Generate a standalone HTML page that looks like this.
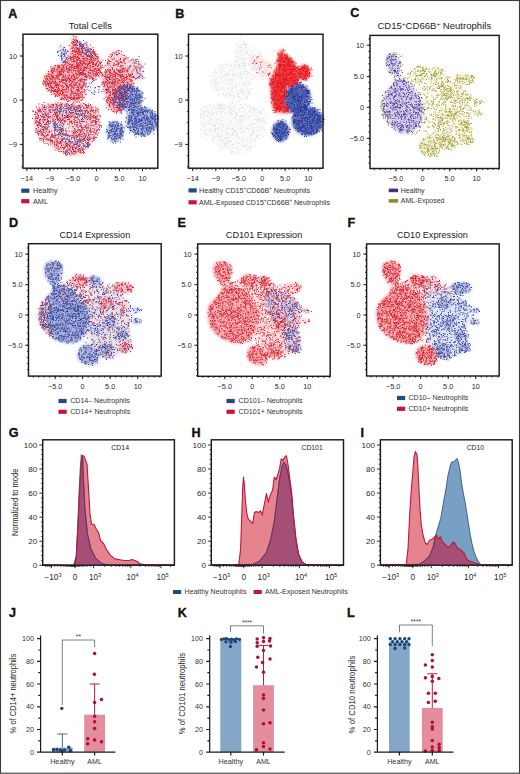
<!DOCTYPE html>
<html><head><meta charset="utf-8"><style>
html,body{margin:0;padding:0;background:#fff;}
body{width:520px;height:774px;overflow:hidden;}
svg{display:block;font-family:"Liberation Sans", sans-serif;}
</style></head><body>
<svg width="520" height="774" viewBox="0 0 520 774">
<defs><filter id="bl0" x="-10%" y="-10%" width="120%" height="120%"><feGaussianBlur stdDeviation="1.4"/></filter><clipPath id="cl1"><path d="M382.0 267.2L382.4 265.5L383.2 264.1L384.2 262.9L385.3 262.0L386.7 261.4L388.4 260.9L390.1 260.7L391.8 260.7L393.5 261.0L395.2 261.6L396.9 262.3L398.2 263.3L399.2 264.6L399.9 266.2L400.5 268.0L400.8 269.8L400.8 271.7L400.4 273.7L400.1 275.8L400.0 277.5L400.2 279.1L400.5 280.6L401.1 281.7L402.1 282.1L403.7 281.7L405.8 280.6L408.0 279.2L409.8 278.0L411.0 277.0L411.8 276.0L412.6 275.1L413.7 274.4L415.1 274.0L416.7 273.9L418.4 274.0L420.1 274.1L421.7 274.6L423.4 275.4L425.0 276.1L426.6 276.5L428.1 276.4L429.5 275.9L431.0 275.5L432.5 275.4L434.1 275.8L435.7 276.3L437.3 277.1L438.7 278.0L439.6 279.2L440.3 280.7L441.0 282.1L442.0 283.2L443.4 283.7L445.0 284.0L446.7 284.0L448.5 283.9L450.3 283.6L452.2 283.1L454.1 282.5L456.2 282.1L458.4 282.0L460.8 282.1L463.1 282.3L465.2 282.6L467.1 283.2L468.8 283.9L470.2 284.7L471.1 285.7L471.5 287.1L471.5 288.7L471.1 290.4L470.4 291.7L469.0 292.5L467.2 293.2L465.3 293.7L463.9 294.2L463.1 294.8L462.6 295.4L462.4 296.0L462.6 296.8L463.3 298.0L464.5 299.3L465.8 300.8L467.0 302.0L467.9 303.0L468.7 303.8L469.5 304.6L470.4 305.3L471.3 306.0L472.2 306.7L473.2 307.3L474.2 307.9L475.5 308.4L477.0 308.8L478.4 309.2L479.4 309.7L479.9 310.3L480.0 311.1L479.9 311.8L479.4 312.5L478.4 313.2L477.0 313.9L475.4 314.5L474.2 315.1L473.2 315.7L472.3 316.4L471.7 316.9L471.6 317.4L472.3 317.8L473.6 318.0L475.0 318.3L476.3 318.7L477.4 319.4L478.5 320.2L479.4 321.0L479.9 321.8L480.0 322.7L479.8 323.6L479.2 324.4L478.3 324.9L476.9 325.1L475.1 325.0L473.1 324.7L471.6 324.4L470.7 323.8L470.1 323.0L469.6 322.5L469.1 322.6L468.4 323.7L467.8 325.6L467.3 327.7L467.0 329.5L467.1 331.1L467.6 332.5L468.1 333.9L468.6 335.5L468.8 337.3L469.1 339.3L469.3 341.4L469.6 343.2L470.1 344.9L470.7 346.4L471.1 347.8L471.1 349.1L470.6 350.3L469.7 351.3L468.5 352.3L467.0 353.0L465.2 353.4L463.0 353.7L460.8 353.9L458.8 354.3L457.1 355.0L455.5 356.0L454.1 357.0L452.6 357.9L451.0 358.7L449.5 359.5L447.9 360.1L446.4 360.5L444.8 360.4L443.1 359.9L441.5 359.4L440.2 358.9L439.2 358.4L438.3 357.7L437.7 357.3L437.1 357.4L436.8 358.2L436.8 359.6L436.7 361.2L436.1 362.5L435.0 363.6L433.5 364.7L431.8 365.5L429.9 365.9L427.7 365.8L425.2 365.3L422.7 364.5L420.6 363.6L418.9 362.4L417.4 361.1L416.2 359.6L415.5 357.9L415.2 355.9L415.4 353.7L415.8 351.5L416.5 349.6L417.5 348.3L418.7 347.2L420.1 346.3L421.4 345.5L422.8 344.9L424.4 344.5L425.6 344.2L425.8 344.0L424.7 343.9L422.6 343.9L420.0 343.9L417.5 344.0L415.1 344.0L412.5 344.1L409.9 344.2L407.2 344.0L404.5 343.6L401.8 343.0L399.0 342.3L396.4 341.4L393.8 340.3L391.2 338.9L388.8 337.5L386.6 336.0L384.7 334.5L383.0 332.9L381.5 331.3L380.2 329.5L379.1 327.8L378.1 325.9L377.4 324.0L376.8 321.8L376.4 319.4L376.1 316.7L376.0 314.0L376.0 311.5L376.3 309.3L376.8 307.4L377.5 305.5L378.4 303.8L379.5 302.2L380.8 300.8L382.2 299.4L383.5 298.1L384.9 296.8L386.3 295.5L387.6 294.3L388.7 293.0L389.5 291.5L390.1 290.1L390.5 288.6L390.5 287.3L389.9 286.2L388.9 285.3L387.7 284.3L386.6 283.2L385.6 281.8L384.6 280.4L383.7 278.8L383.0 277.0L382.5 274.7L382.1 272.0L381.9 269.4Z"/></clipPath><filter id="bl2" x="-10%" y="-10%" width="120%" height="120%"><feGaussianBlur stdDeviation="1.4"/></filter><clipPath id="cl3"><path d="M213.1 267.2L213.5 265.5L214.3 264.1L215.3 262.9L216.4 262.0L217.8 261.4L219.5 260.9L221.2 260.7L222.9 260.7L224.6 261.0L226.3 261.6L228.0 262.3L229.3 263.3L230.3 264.6L231.0 266.2L231.6 268.0L231.9 269.8L231.9 271.7L231.5 273.7L231.2 275.8L231.1 277.5L231.3 279.1L231.6 280.6L232.2 281.7L233.2 282.1L234.8 281.7L236.9 280.6L239.1 279.2L240.9 278.0L242.1 277.0L242.9 276.0L243.7 275.1L244.8 274.4L246.2 274.0L247.8 273.9L249.5 274.0L251.2 274.1L252.8 274.6L254.5 275.4L256.1 276.1L257.7 276.5L259.2 276.4L260.6 275.9L262.1 275.5L263.6 275.4L265.2 275.8L266.8 276.3L268.4 277.1L269.8 278.0L270.7 279.2L271.4 280.7L272.1 282.1L273.1 283.2L274.5 283.7L276.1 284.0L277.8 284.0L279.6 283.9L281.4 283.6L283.3 283.1L285.2 282.5L287.3 282.1L289.5 282.0L291.9 282.1L294.2 282.3L296.3 282.6L298.2 283.2L299.9 283.9L301.3 284.7L302.2 285.7L302.6 287.1L302.6 288.7L302.2 290.4L301.5 291.7L300.1 292.5L298.3 293.2L296.4 293.7L295.0 294.2L294.2 294.8L293.7 295.4L293.5 296.0L293.7 296.8L294.4 298.0L295.6 299.3L296.9 300.8L298.1 302.0L299.0 303.0L299.8 303.8L300.6 304.6L301.5 305.3L302.4 306.0L303.3 306.7L304.3 307.3L305.3 307.9L306.6 308.4L308.1 308.8L309.5 309.2L310.5 309.7L311.0 310.3L311.1 311.1L311.0 311.8L310.5 312.5L309.5 313.2L308.1 313.9L306.5 314.5L305.3 315.1L304.3 315.7L303.4 316.4L302.8 316.9L302.7 317.4L303.4 317.8L304.7 318.0L306.1 318.3L307.4 318.7L308.5 319.4L309.6 320.2L310.5 321.0L311.0 321.8L311.1 322.7L310.9 323.6L310.3 324.4L309.4 324.9L308.0 325.1L306.2 325.0L304.2 324.7L302.7 324.4L301.8 323.8L301.2 323.0L300.7 322.5L300.2 322.6L299.5 323.7L298.9 325.6L298.4 327.7L298.1 329.5L298.2 331.1L298.7 332.5L299.2 333.9L299.7 335.5L299.9 337.3L300.2 339.3L300.4 341.4L300.7 343.2L301.2 344.9L301.8 346.4L302.2 347.8L302.2 349.1L301.7 350.3L300.8 351.3L299.6 352.3L298.1 353.0L296.3 353.4L294.1 353.7L291.9 353.9L289.9 354.3L288.2 355.0L286.6 356.0L285.2 357.0L283.7 357.9L282.1 358.7L280.6 359.5L279.0 360.1L277.5 360.5L275.9 360.4L274.2 359.9L272.6 359.4L271.3 358.9L270.3 358.4L269.4 357.7L268.8 357.3L268.2 357.4L267.9 358.2L267.9 359.6L267.8 361.2L267.2 362.5L266.1 363.6L264.6 364.7L262.9 365.5L261.0 365.9L258.8 365.8L256.3 365.3L253.8 364.5L251.7 363.6L250.0 362.4L248.5 361.1L247.3 359.6L246.6 357.9L246.3 355.9L246.5 353.7L246.9 351.5L247.6 349.6L248.6 348.3L249.8 347.2L251.2 346.3L252.5 345.5L253.9 344.9L255.5 344.5L256.7 344.2L256.9 344.0L255.8 343.9L253.7 343.9L251.1 343.9L248.6 344.0L246.2 344.0L243.6 344.1L241.0 344.2L238.3 344.0L235.6 343.6L232.9 343.0L230.1 342.3L227.5 341.4L224.9 340.3L222.3 338.9L219.9 337.5L217.7 336.0L215.8 334.5L214.1 332.9L212.6 331.3L211.3 329.5L210.2 327.8L209.2 325.9L208.5 324.0L207.9 321.8L207.5 319.4L207.2 316.7L207.1 314.0L207.1 311.5L207.4 309.3L207.9 307.4L208.6 305.5L209.5 303.8L210.6 302.2L211.9 300.8L213.3 299.4L214.6 298.1L216.0 296.8L217.4 295.5L218.7 294.3L219.8 293.0L220.6 291.5L221.2 290.1L221.6 288.6L221.6 287.3L221.0 286.2L220.0 285.3L218.8 284.3L217.7 283.2L216.7 281.8L215.7 280.4L214.8 278.8L214.1 277.0L213.6 274.7L213.2 272.0L213.0 269.4Z"/></clipPath><filter id="bl4" x="-10%" y="-10%" width="120%" height="120%"><feGaussianBlur stdDeviation="1.4"/></filter><clipPath id="cl5"><path d="M43.9 267.0L44.3 265.3L45.1 263.9L46.1 262.7L47.2 261.8L48.6 261.2L50.3 260.7L52.0 260.5L53.7 260.5L55.4 260.8L57.1 261.4L58.8 262.1L60.1 263.1L61.1 264.4L61.8 266.0L62.4 267.8L62.7 269.6L62.7 271.5L62.3 273.5L62.0 275.6L61.9 277.3L62.1 278.9L62.4 280.4L63.0 281.5L64.0 281.9L65.6 281.5L67.7 280.4L69.9 279.0L71.7 277.8L72.9 276.8L73.7 275.8L74.5 274.9L75.6 274.2L77.0 273.8L78.6 273.7L80.3 273.8L82.0 273.9L83.6 274.4L85.3 275.2L86.9 275.9L88.5 276.3L90.0 276.2L91.4 275.7L92.9 275.3L94.4 275.2L96.0 275.6L97.6 276.1L99.2 276.9L100.6 277.8L101.5 279.0L102.2 280.5L102.9 281.9L103.9 283.0L105.3 283.5L106.9 283.8L108.6 283.8L110.4 283.7L112.2 283.4L114.1 282.9L116.0 282.3L118.1 281.9L120.3 281.8L122.7 281.9L125.0 282.1L127.1 282.4L129.0 283.0L130.7 283.7L132.1 284.5L133.0 285.5L133.4 286.9L133.4 288.5L133.0 290.2L132.3 291.5L130.9 292.3L129.1 293.0L127.2 293.5L125.8 294.0L125.0 294.6L124.5 295.2L124.3 295.8L124.5 296.6L125.2 297.8L126.4 299.1L127.7 300.6L128.9 301.8L129.8 302.8L130.6 303.6L131.4 304.4L132.3 305.1L133.2 305.8L134.1 306.5L135.1 307.1L136.1 307.7L137.4 308.2L138.9 308.6L140.3 309.0L141.3 309.5L141.8 310.1L141.9 310.9L141.8 311.6L141.3 312.3L140.3 313.0L138.9 313.7L137.3 314.3L136.1 314.9L135.1 315.5L134.2 316.2L133.6 316.7L133.5 317.2L134.2 317.6L135.5 317.8L136.9 318.1L138.2 318.5L139.3 319.2L140.4 320.0L141.3 320.8L141.8 321.6L141.9 322.5L141.7 323.4L141.1 324.2L140.2 324.7L138.8 324.9L137.0 324.8L135.0 324.5L133.5 324.2L132.6 323.6L132.0 322.8L131.5 322.3L131.0 322.4L130.3 323.5L129.7 325.4L129.2 327.5L128.9 329.3L129.0 330.9L129.5 332.3L130.0 333.7L130.5 335.3L130.7 337.1L131.0 339.1L131.2 341.2L131.5 343.0L132.0 344.7L132.6 346.2L133.0 347.6L133.0 348.9L132.5 350.1L131.6 351.1L130.4 352.1L128.9 352.8L127.1 353.2L124.9 353.5L122.7 353.7L120.7 354.1L119.0 354.8L117.4 355.8L116.0 356.8L114.5 357.7L112.9 358.5L111.4 359.3L109.8 359.9L108.3 360.3L106.7 360.2L105.0 359.7L103.4 359.2L102.1 358.7L101.1 358.2L100.2 357.5L99.6 357.1L99.0 357.2L98.7 358.0L98.7 359.4L98.6 361.0L98.0 362.3L96.9 363.4L95.4 364.5L93.7 365.3L91.8 365.7L89.6 365.6L87.1 365.1L84.6 364.3L82.5 363.4L80.8 362.2L79.3 360.9L78.1 359.4L77.4 357.7L77.1 355.7L77.3 353.5L77.7 351.3L78.4 349.4L79.4 348.1L80.6 347.0L82.0 346.1L83.3 345.3L84.7 344.7L86.3 344.3L87.5 344.0L87.7 343.8L86.6 343.7L84.5 343.7L81.9 343.7L79.4 343.8L77.0 343.8L74.4 343.9L71.8 344.0L69.1 343.8L66.4 343.4L63.7 342.8L60.9 342.1L58.3 341.2L55.7 340.1L53.1 338.7L50.7 337.3L48.5 335.8L46.6 334.3L44.9 332.7L43.4 331.1L42.1 329.3L41.0 327.6L40.0 325.7L39.3 323.8L38.7 321.6L38.3 319.2L38.0 316.5L37.9 313.8L37.9 311.3L38.2 309.1L38.7 307.2L39.4 305.3L40.3 303.6L41.4 302.0L42.7 300.6L44.1 299.2L45.4 297.9L46.8 296.6L48.2 295.3L49.5 294.1L50.6 292.8L51.4 291.3L52.0 289.9L52.4 288.4L52.4 287.1L51.8 286.0L50.8 285.1L49.6 284.1L48.5 283.0L47.5 281.6L46.5 280.2L45.6 278.6L44.9 276.8L44.4 274.5L44.0 271.8L43.8 269.2Z"/></clipPath><filter id="bl6" x="-10%" y="-10%" width="120%" height="120%"><feGaussianBlur stdDeviation="1.4"/></filter><clipPath id="cl7"><path d="M385.4 58.6L385.8 56.9L386.6 55.5L387.6 54.3L388.7 53.4L390.1 52.8L391.8 52.3L393.5 52.1L395.2 52.1L396.9 52.4L398.6 53.0L400.3 53.7L401.6 54.7L402.6 56.0L403.3 57.6L403.9 59.4L404.2 61.2L404.2 63.1L403.8 65.1L403.5 67.2L403.4 68.9L403.6 70.5L403.9 72.0L404.5 73.1L405.5 73.5L407.1 73.1L409.2 72.0L411.4 70.6L413.2 69.4L414.4 68.4L415.2 67.4L416.0 66.5L417.1 65.8L418.5 65.4L420.1 65.3L421.8 65.4L423.5 65.5L425.1 66.0L426.8 66.8L428.4 67.5L430.0 67.9L431.5 67.8L432.9 67.3L434.4 66.9L435.9 66.8L437.5 67.2L439.1 67.7L440.7 68.5L442.1 69.4L443.0 70.6L443.7 72.1L444.4 73.5L445.4 74.6L446.8 75.1L448.4 75.4L450.1 75.4L451.9 75.3L453.7 75.0L455.6 74.5L457.5 73.9L459.6 73.5L461.8 73.4L464.2 73.5L466.5 73.7L468.6 74.0L470.5 74.6L472.2 75.3L473.6 76.1L474.5 77.1L474.9 78.5L474.9 80.1L474.5 81.8L473.8 83.1L472.4 83.9L470.6 84.6L468.7 85.1L467.3 85.6L466.5 86.2L466.0 86.8L465.8 87.4L466.0 88.2L466.7 89.4L467.9 90.7L469.2 92.2L470.4 93.4L471.3 94.4L472.1 95.2L472.9 96.0L473.8 96.7L474.7 97.4L475.6 98.1L476.6 98.7L477.6 99.3L478.9 99.8L480.4 100.2L481.8 100.6L482.8 101.1L483.3 101.7L483.4 102.5L483.3 103.2L482.8 103.9L481.8 104.6L480.4 105.3L478.8 105.9L477.6 106.5L476.6 107.1L475.7 107.8L475.1 108.3L475.0 108.8L475.7 109.2L477.0 109.4L478.4 109.7L479.7 110.1L480.8 110.8L481.9 111.6L482.8 112.4L483.3 113.2L483.4 114.1L483.2 115.0L482.6 115.8L481.7 116.3L480.3 116.5L478.5 116.4L476.5 116.1L475.0 115.8L474.1 115.2L473.5 114.4L473.0 113.9L472.5 114.0L471.8 115.1L471.2 117.0L470.7 119.1L470.4 120.9L470.5 122.5L471.0 123.9L471.5 125.3L472.0 126.9L472.2 128.7L472.5 130.7L472.7 132.8L473.0 134.6L473.5 136.3L474.1 137.8L474.5 139.2L474.5 140.5L474.0 141.7L473.1 142.7L471.9 143.7L470.4 144.4L468.6 144.8L466.4 145.1L464.2 145.3L462.2 145.7L460.5 146.4L458.9 147.4L457.5 148.4L456.0 149.3L454.4 150.1L452.9 150.9L451.3 151.5L449.8 151.9L448.2 151.8L446.5 151.3L444.9 150.8L443.6 150.3L442.6 149.8L441.7 149.1L441.1 148.7L440.5 148.8L440.2 149.6L440.2 151.0L440.1 152.6L439.5 153.9L438.4 155.0L436.9 156.1L435.2 156.9L433.3 157.3L431.1 157.2L428.6 156.7L426.1 155.9L424.0 155.0L422.3 153.8L420.8 152.5L419.6 151.0L418.9 149.3L418.6 147.3L418.8 145.1L419.2 142.9L419.9 141.0L420.9 139.7L422.1 138.6L423.5 137.7L424.8 136.9L426.2 136.3L427.8 135.9L429.0 135.6L429.2 135.4L428.1 135.3L426.0 135.3L423.4 135.3L420.9 135.4L418.5 135.4L415.9 135.5L413.3 135.6L410.6 135.4L407.9 135.0L405.2 134.4L402.4 133.7L399.8 132.8L397.2 131.7L394.6 130.3L392.2 128.9L390.0 127.4L388.1 125.9L386.4 124.3L384.9 122.7L383.6 120.9L382.5 119.2L381.5 117.3L380.8 115.4L380.2 113.2L379.8 110.8L379.5 108.1L379.4 105.4L379.4 102.9L379.7 100.7L380.2 98.8L380.9 96.9L381.8 95.2L382.9 93.6L384.2 92.2L385.6 90.8L386.9 89.5L388.3 88.2L389.7 86.9L391.0 85.7L392.1 84.4L392.9 82.9L393.5 81.5L393.9 80.0L393.9 78.7L393.3 77.6L392.3 76.7L391.1 75.7L390.0 74.6L389.0 73.2L388.0 71.8L387.1 70.2L386.4 68.4L385.9 66.1L385.5 63.4L385.3 60.8Z"/></clipPath><filter id="bl8" x="-10%" y="-10%" width="120%" height="120%"><feGaussianBlur stdDeviation="1.4"/></filter><filter id="bl9" x="-10%" y="-10%" width="120%" height="120%"><feGaussianBlur stdDeviation="1.4"/></filter><clipPath id="hc1"><path d="M74.5 565.2L74.5 565.2 76.2 558 77.8 525.8 79 493.5 80.2 469.2 81.3 454.7 82.6 457.9 83.4 477.3 85 509.6 87.5 533.9 90.7 548.4 95.5 558 102 563.7 108.5 564.9 L108.5 565.2Z"/></clipPath><clipPath id="hc1a"><path d="M73.7 565.2L73.7 565.2 76.2 556.5 77.8 527 79.5 494 81 464.4 82.6 455.5 84.2 456.3 85.5 460.3 87.1 464.4 87.8 477.3 88.8 493.5 89.9 512.9 91.5 524.2 93.9 524.2 96.3 529 98.8 533 100.4 540.3 103.6 543.5 106.8 550 110.1 554.9 114.9 558.9 119.8 559.7 124.6 560.5 129.5 560.5 131.5 559.6 133.5 560 136.7 561.3 140 563.7 146 564.8 L146 565.2Z"/></clipPath><clipPath id="hc2"><path d="M252.7 565.2L252.7 564.4 259.6 561 266.5 552.3 270.9 538.5 274.3 521.2 276.9 500.4 279.5 479.6 282.1 465.8 283.8 462.3 285.6 464 287.7 471 289.9 484.8 291.6 495.2 293.2 514.2 295.8 538.5 298.4 554 301.8 561.8 306 564.6 L306 565.2Z"/></clipPath><clipPath id="hc2a"><path d="M238.8 565.2L238.8 564.4 240.6 549 241.8 514.2 242.7 488.3 243.5 477 244.4 484.8 245.4 500.4 246.6 512.5 248.4 519.4 250.6 521.2 252.7 523.7 254.4 512.5 256.2 511.6 258.7 512.5 260.5 510.8 262.2 515.1 263.9 506.4 266.5 493.5 268.3 502.1 270.3 495.2 272.6 490 274.3 477 276.1 479.6 277.8 474.4 279.5 469.2 281.2 458.8 283 460.6 284.7 457.1 286.4 455.7 288.2 465.8 289.9 479.6 291.6 491.7 293.4 514.2 296 538.5 298.6 554 302 561.8 306.3 564.6 L306.3 565.2Z"/></clipPath><clipPath id="hc3"><path d="M419.2 565.2L419.2 564.4 424.4 561 429.6 555.8 433.1 547.1 435.7 535 438.3 526.3 440.9 517.7 443.5 502.1 446.1 488.3 447.8 476.2 449.5 469.2 450.7 464 452.1 461.4 453.8 462.3 455.6 459.7 457 458.5 458.2 461.4 459.9 469.2 461.6 483.1 463.4 493.5 465.1 502.1 466.8 512.5 468.6 524.6 470.3 535 472 543.7 473.7 550.6 475.5 555.8 478.1 561 480.7 564.6 L480.7 565.2Z"/></clipPath><clipPath id="hc3a"><path d="M406.2 565.2L406.2 564.4 408 549 409.7 514.2 411.4 488.3 412.8 472.7 414 457.1 415.4 451.6 417 454.5 417.8 465.8 418.9 488.3 420.1 510.8 421.3 524.6 423 535 425.3 542.8 427 544.5 429.6 540.2 432.2 539.3 434.8 536.7 436.5 535 438.3 539.3 440.3 536.7 442.6 541.9 445.2 544.5 447.8 547.1 450.4 546.2 453 541.9 454.7 542.8 457.3 548 460.8 549.7 464.2 553.2 466.8 559.2 469.4 561 474.6 562.7 479.8 564.6 L479.8 565.2Z"/></clipPath></defs>
<rect width="520" height="774" fill="#fff"/>
<g filter="url(#bl0)"><path d="M366.0 244.0L379.1 234.5L398.2 234.0L417.3 238.6L430.4 244.0L435.0 250.8L434.6 260.7L432.1 271.3L430.4 280.1L429.8 286.3L429.0 291.3L428.1 295.9L427.3 300.7L426.7 305.8L426.2 311.0L425.9 316.1L425.8 321.3L425.7 326.3L425.7 331.3L426.3 336.4L427.8 341.9L432.9 348.6L440.5 356.1L445.6 362.9L443.3 367.7L428.7 372.4L405.6 377.0L382.1 377.0L366.0 367.7L359.1 342.6L357.1 305.8L359.7 269.1Z" fill="#fef5f6" clip-path="url(#cl1)"/><path d="M427.8 280.1L439.9 276.6L457.5 273.3L475.1 273.4L487.1 280.1L492.3 297.9L493.5 323.9L491.6 349.9L487.1 367.7L478.6 374.4L466.2 374.8L453.3 371.5L443.3 367.7L437.1 362.9L433.0 356.1L430.1 348.6L427.8 341.9L426.3 336.4L425.7 331.3L425.7 326.3L425.8 321.3L426.1 316.1L426.7 311.0L427.4 305.8L427.8 300.7L426.6 295.0L424.3 289.1L423.7 283.8Z" fill="#f4f6fb" clip-path="url(#cl1)"/><path d="M382.0 268.5L382.2 266.7L382.8 265.1L383.6 263.7L384.6 262.6L385.8 261.7L387.3 261.1L388.9 260.7L390.5 260.5L392.0 260.5L393.6 260.8L395.1 261.3L396.4 262.0L397.5 263.0L398.5 264.3L399.4 265.7L400.0 267.2L400.5 268.7L400.8 270.3L400.9 272.0L400.8 273.6L400.4 275.3L399.8 276.9L399.1 278.6L398.2 280.1L397.3 281.6L396.2 283.2L395.0 284.5L393.8 285.2L392.6 285.3L391.3 284.9L389.9 284.1L388.7 283.2L387.4 282.0L386.2 280.5L385.0 278.8L384.0 277.0L383.2 275.0L382.6 272.7L382.1 270.5Z" fill="#f5aab0" clip-path="url(#cl1)"/><path d="M389.7 287.3L391.3 286.4L393.5 285.7L395.9 285.3L398.2 285.2L400.4 285.5L402.7 286.1L405.0 286.9L407.2 287.8L409.5 288.9L411.9 290.1L414.1 291.5L416.2 293.0L418.2 294.4L420.1 295.9L421.8 297.6L423.2 299.4L424.4 301.4L425.3 303.7L426.0 306.0L426.6 308.4L427.0 310.9L427.3 313.4L427.4 316.0L427.3 318.7L427.1 321.6L426.7 324.7L426.1 327.7L425.3 330.3L424.3 332.6L423.1 334.6L421.7 336.4L420.1 338.0L418.2 339.7L416.0 341.2L413.6 342.4L411.1 343.2L408.3 343.5L405.4 343.4L402.4 343.0L399.5 342.4L396.8 341.6L394.1 340.6L391.6 339.4L389.2 338.0L387.0 336.5L384.9 334.8L383.1 333.0L381.5 331.1L380.1 329.1L379.0 327.0L378.1 324.8L377.3 322.6L376.8 320.3L376.4 317.8L376.3 315.4L376.3 313.1L376.5 310.8L377.0 308.6L377.6 306.5L378.4 304.6L379.3 302.9L380.5 301.4L381.8 300.0L383.0 298.6L384.3 297.2L385.6 295.8L386.9 294.4L387.9 293.0L388.4 291.5L388.6 289.9L388.9 288.5Z" fill="#f5aab0" clip-path="url(#cl1)"/><path d="M399.5 282.6L400.9 281.5L403.4 280.5L406.5 279.5L409.8 278.8L413.3 278.1L417.2 277.6L421.3 277.3L425.3 277.5L429.2 278.2L433.3 279.3L437.2 280.8L440.7 282.6L444.1 285.0L447.3 288.0L449.8 290.8L451.0 293.0L450.5 294.1L448.8 294.7L446.2 295.1L443.3 295.5L439.9 296.4L435.7 297.3L431.5 298.0L427.8 298.1L425.0 297.4L422.5 296.0L420.2 294.4L417.5 293.0L414.3 291.7L410.8 290.4L407.4 289.1L404.6 287.8L402.5 286.5L400.6 285.1L399.5 283.8Z" fill="#fbdddf" clip-path="url(#cl1)"/><path d="M409.3 276.2L410.3 275.3L411.7 274.5L413.4 273.9L415.0 273.6L416.6 273.7L418.3 274.1L419.9 274.7L421.4 275.4L422.8 276.4L424.1 277.5L425.1 278.8L425.8 280.1L426.0 281.4L425.9 282.8L425.5 284.1L424.7 285.2L423.6 286.1L422.1 286.7L420.5 287.1L418.8 287.3L417.2 287.1L415.4 286.7L413.8 286.0L412.4 285.2L411.3 284.2L410.4 283.1L409.8 281.8L409.3 280.6L408.9 279.4L408.7 278.3L408.8 277.2Z" fill="#f5aab0" clip-path="url(#cl1)"/><path d="M427.8 277.5L428.9 276.7L430.4 276.0L432.0 275.6L433.5 275.4L434.9 275.7L436.3 276.3L437.6 277.1L438.7 278.0L439.4 279.1L440.0 280.5L440.2 281.9L440.2 283.2L439.8 284.4L439.0 285.5L438.0 286.6L436.9 287.3L435.5 287.7L433.9 287.8L432.3 287.7L430.9 287.3L429.9 286.5L429.0 285.3L428.3 284.0L427.8 282.6L427.5 281.3L427.3 279.9L427.4 278.6Z" fill="#fad4d8" clip-path="url(#cl1)"/><path d="M416.2 349.6L416.9 348.3L417.8 347.3L418.9 346.4L420.1 345.8L421.6 345.3L423.3 345.0L425.0 344.9L426.6 345.0L428.0 345.2L429.3 345.7L430.5 346.3L431.7 347.1L432.8 348.1L433.9 349.4L434.8 350.8L435.6 352.2L436.2 353.8L436.6 355.4L436.9 357.1L436.9 358.7L436.6 360.1L436.1 361.5L435.3 362.8L434.3 363.8L433.0 364.6L431.4 365.2L429.6 365.6L427.8 365.6L425.9 365.4L423.8 364.8L421.8 364.0L420.1 363.0L418.7 361.9L417.4 360.5L416.4 359.0L415.7 357.4L415.4 355.5L415.5 353.4L415.8 351.4Z" fill="#f5aab0" clip-path="url(#cl1)"/><path d="M451.0 285.2L452.1 284.3L453.7 283.6L455.6 283.0L457.5 282.6L459.4 282.4L461.4 282.3L463.4 282.4L465.2 282.6L467.0 283.0L468.7 283.6L470.2 284.3L471.1 285.2L471.5 286.5L471.4 288.1L471.0 289.6L470.4 290.9L469.4 291.8L468.2 292.5L466.8 293.1L465.2 293.5L463.4 293.7L461.3 293.8L459.3 293.7L457.5 293.5L455.9 293.1L454.5 292.5L453.3 291.8L452.3 290.9L451.5 289.6L450.9 288.1L450.7 286.5Z" fill="#b9c0e1" clip-path="url(#cl1)"/><path d="M426.6 295.5L428.1 293.5L430.5 292.1L433.2 290.9L435.6 289.9L437.6 288.8L439.5 287.9L441.4 287.3L443.3 287.3L445.2 288.2L447.2 289.7L449.1 291.5L451.0 293.0L453.0 294.0L454.9 294.9L456.8 295.8L458.8 296.8L460.8 298.0L462.9 299.2L464.9 300.5L466.5 302.0L467.6 303.6L468.3 305.4L468.8 307.4L469.1 309.7L469.0 312.4L468.5 315.3L468.0 318.4L467.8 321.3L467.9 324.0L468.3 326.5L468.7 329.1L469.1 331.6L469.2 334.3L469.4 337.0L469.5 339.6L469.6 341.9L469.9 343.8L470.2 345.5L470.4 347.0L470.4 348.4L469.9 349.7L469.2 350.9L468.3 351.9L467.0 352.7L465.2 353.1L463.1 353.2L460.8 353.2L458.8 353.5L457.0 354.3L455.4 355.4L453.9 356.5L452.3 357.4L450.7 358.1L449.1 358.8L447.5 359.3L445.9 359.4L444.2 359.3L442.6 358.9L441.0 358.2L439.4 357.4L438.0 356.3L436.6 355.1L435.4 353.7L434.3 352.2L433.5 350.7L432.9 349.1L432.4 347.4L431.7 345.8L430.8 344.2L429.7 342.7L428.7 341.1L427.8 339.3L427.1 337.3L426.5 335.1L426.0 332.8L425.8 330.3L425.9 327.6L426.4 324.6L427.0 321.6L427.3 318.7L427.5 316.1L427.5 313.7L427.4 311.1L427.3 308.4L427.0 305.2L426.4 301.7L426.1 298.3Z" fill="#e0e3f2" clip-path="url(#cl1)"/><path d="M479.4 310.2L479.3 310.6L479.1 310.9L478.9 311.3L478.5 311.6L478.1 311.9L477.6 312.1L477.0 312.3L476.3 312.4L475.7 312.5L475.0 312.5L474.3 312.5L473.6 312.4L473.0 312.3L472.4 312.1L471.9 311.9L471.4 311.6L471.1 311.3L470.8 310.9L470.7 310.6L470.6 310.2L470.7 309.9L470.8 309.5L471.1 309.2L471.4 308.9L471.9 308.6L472.4 308.4L473.0 308.2L473.6 308.0L474.3 307.9L475.0 307.9L475.7 307.9L476.3 308.0L477.0 308.2L477.6 308.4L478.1 308.6L478.5 308.9L478.9 309.2L479.1 309.5L479.3 309.9Z" fill="#b9c0e1" clip-path="url(#cl1)"/><path d="M478.9 321.3L478.8 321.7L478.6 322.2L478.4 322.6L478.0 323.0L477.6 323.3L477.0 323.6L476.4 323.8L475.8 324.0L475.2 324.1L474.5 324.1L473.8 324.1L473.1 324.0L472.5 323.8L471.9 323.6L471.4 323.3L470.9 323.0L470.6 322.6L470.3 322.2L470.2 321.7L470.1 321.3L470.2 320.9L470.3 320.4L470.6 320.0L470.9 319.6L471.4 319.3L471.9 319.0L472.5 318.8L473.1 318.6L473.8 318.5L474.5 318.5L475.2 318.5L475.8 318.6L476.4 318.8L477.0 319.0L477.6 319.3L478.0 319.6L478.4 320.0L478.6 320.4L478.8 320.9Z" fill="#b9c0e1" clip-path="url(#cl1)"/><path d="M451.8 303.3L451.7 304.1L451.4 305.0L451.0 305.9L450.4 306.6L449.7 307.2L448.8 307.8L447.8 308.3L446.8 308.7L445.7 308.8L444.6 308.9L443.4 308.8L442.4 308.7L441.3 308.3L440.4 307.8L439.5 307.2L438.8 306.6L438.2 305.9L437.8 305.0L437.5 304.1L437.4 303.3L437.5 302.4L437.8 301.5L438.2 300.7L438.8 299.9L439.5 299.3L440.4 298.7L441.3 298.2L442.4 297.9L443.4 297.7L444.6 297.6L445.7 297.7L446.8 297.9L447.8 298.2L448.8 298.7L449.7 299.3L450.4 299.9L451.0 300.7L451.4 301.5L451.7 302.4Z" fill="#b9c0e1" clip-path="url(#cl1)"/><path d="M454.6 322.6L454.5 323.6L454.3 324.6L453.9 325.5L453.4 326.4L452.7 327.1L451.9 327.8L450.9 328.3L450.0 328.7L449.0 328.9L447.9 329.0L446.9 328.9L445.9 328.7L444.9 328.3L444.0 327.8L443.2 327.1L442.5 326.4L442.0 325.5L441.6 324.6L441.3 323.6L441.2 322.6L441.3 321.6L441.6 320.6L442.0 319.6L442.5 318.8L443.2 318.1L444.0 317.4L444.9 316.8L445.9 316.5L446.9 316.2L447.9 316.2L449.0 316.2L450.0 316.5L450.9 316.8L451.9 317.4L452.7 318.1L453.4 318.8L453.9 319.6L454.3 320.6L454.5 321.6Z" fill="#b9c0e1" clip-path="url(#cl1)"/><path d="M465.7 334.7L465.6 335.5L465.4 336.3L465.0 337.1L464.5 337.7L463.8 338.3L463.0 338.9L462.2 339.3L461.3 339.6L460.3 339.8L459.3 339.8L458.2 339.8L457.3 339.6L456.4 339.3L455.5 338.9L454.7 338.3L454.1 337.7L453.6 337.1L453.2 336.3L452.9 335.5L452.8 334.7L452.9 333.9L453.2 333.1L453.6 332.3L454.1 331.7L454.7 331.1L455.5 330.5L456.4 330.1L457.3 329.8L458.2 329.6L459.3 329.6L460.3 329.6L461.3 329.8L462.2 330.1L463.0 330.5L463.8 331.1L464.5 331.7L465.0 332.3L465.4 333.1L465.6 333.9Z" fill="#b9c0e1" clip-path="url(#cl1)"/><path d="M451.0 350.2L450.9 351.3L450.6 352.4L450.2 353.5L449.6 354.4L448.8 355.2L447.8 356.0L446.8 356.6L445.7 357.0L444.5 357.3L443.3 357.3L442.1 357.3L440.9 357.0L439.8 356.6L438.8 356.0L437.8 355.2L437.0 354.4L436.4 353.5L436.0 352.4L435.7 351.3L435.6 350.2L435.7 349.1L436.0 347.9L436.4 346.9L437.0 345.9L437.8 345.1L438.8 344.3L439.8 343.7L440.9 343.3L442.1 343.1L443.3 343.0L444.5 343.1L445.7 343.3L446.8 343.7L447.8 344.3L448.8 345.1L449.6 345.9L450.2 346.9L450.6 347.9L450.9 349.1Z" fill="#b9c0e1" clip-path="url(#cl1)"/><path d="M469.6 347.1L469.5 347.8L469.3 348.5L468.9 349.2L468.4 349.8L467.8 350.3L467.0 350.8L466.2 351.2L465.3 351.5L464.4 351.6L463.4 351.7L462.4 351.6L461.5 351.5L460.6 351.2L459.8 350.8L459.0 350.3L458.4 349.8L457.9 349.2L457.5 348.5L457.3 347.8L457.2 347.1L457.3 346.4L457.5 345.6L457.9 344.9L458.4 344.3L459.0 343.8L459.8 343.3L460.6 342.9L461.5 342.7L462.4 342.5L463.4 342.4L464.4 342.5L465.3 342.7L466.2 342.9L467.0 343.3L467.8 343.8L468.4 344.3L468.9 344.9L469.3 345.6L469.5 346.4Z" fill="#b9c0e1" clip-path="url(#cl1)"/><path d="M465.2 305.8L465.1 306.4L464.9 307.0L464.6 307.6L464.2 308.1L463.7 308.6L463.1 309.0L462.4 309.3L461.6 309.5L460.9 309.6L460.0 309.7L459.2 309.6L458.5 309.5L457.7 309.3L457.0 309.0L456.4 308.6L455.9 308.1L455.5 307.6L455.2 307.0L455.0 306.4L454.9 305.8L455.0 305.3L455.2 304.6L455.5 304.1L455.9 303.6L456.4 303.1L457.0 302.7L457.7 302.4L458.5 302.2L459.2 302.0L460.0 302.0L460.9 302.0L461.6 302.2L462.4 302.4L463.1 302.7L463.7 303.1L464.2 303.6L464.6 304.1L464.9 304.6L465.1 305.3Z" fill="#d3d8ec" clip-path="url(#cl1)"/><path d="M440.7 330.3L440.6 331.2L440.4 332.1L440.1 332.9L439.6 333.6L439.1 334.3L438.4 334.9L437.6 335.4L436.8 335.7L436.0 335.9L435.1 336.0L434.1 335.9L433.3 335.7L432.5 335.4L431.7 334.9L431.0 334.3L430.5 333.6L430.0 332.9L429.7 332.1L429.5 331.2L429.4 330.3L429.5 329.5L429.7 328.6L430.0 327.7L430.5 327.0L431.0 326.3L431.7 325.7L432.5 325.3L433.3 324.9L434.1 324.7L435.1 324.7L436.0 324.7L436.8 324.9L437.6 325.3L438.4 325.7L439.1 326.3L439.6 327.0L440.1 327.7L440.4 328.6L440.6 329.5Z" fill="#d3d8ec" clip-path="url(#cl1)"/></g>
<path d="M391 261h1m0.5 0.5h1m0 0h1m-4.5 0.5h1m2.5-0.5h1m0.5 1h1m-9.5 0h1m-0.5 1h1m-1 0h1m3.5-0.5h1m1.5 0.5h1m-11.5 0.5h1m0.5 0h1m-0.5-0.5h1m5.5 0.5h1m5.5 0h1m-15.5 0.5h1m4 0.5h1m-1 0.5h1m6.5-1h1m1 0h1m-0.5 0.5h1m-1 0h1m-17.5 1h1m3 0h1m1-0.5h1m0 0.5h1m-0.5-0.5h1m0.5 0.5h1m0 0h1m-1 0.5h1m4.5-1h1m-15 2h1m-1-1h1m0 1h1m1-0.5h1m1.5 0.5h1m3-0.5h1m4 0h1m0-0.5h1m-0.5 0.5h1m-15.5 1h1m-1 0.5h1m0 0h1m-0.5 0h1m-0.5-0.5h1m0-0.5h1m0 0h1m0 0.5h1m0 0h1m0 0h1m-1 0h1m0.5 0.5h1m0.5-0.5h1m1 0h1m1 0h1m-17.5 1h1m1 0h1m1 0h1m-1-0.5h1m-1 0.5h1m1.5 0.5h1m1 0h1m0 0h1m1-0.5h1m-0.5 0h1m0 0.5h1m1-0.5h1m-16.5 1h1m-0.5 0.5h1m-0.5-0.5h1m0 0.5h1m1.5-1h1m0 0.5h1m0 0h1m6.5 0h1m1 0h1m-17 1h1m2 0h1m1.5 0h1m1 0h1m1.5-0.5h1m1.5 0.5h1m2.5 0.5h1m0.5-0.5h1m-18.5 1h1m0.5-0.5h1m-1 1h1m-1 0h1m2.5-0.5h1m-1 0h1m2 0h1m2.5 0h1m4-0.5h1m-16.5 1h1m2 1h1m0.5-1h1m0 0.5h1m-0.5 0h1m4 0.5h1m0.5-0.5h1m0.5 0h1m0 0h1m-15.5 1h1m0 0.5h1m-0.5-0.5h1m3.5 0h1m0-0.5h1m0 0.5h1m-0.5-0.5h1m-1 0h1m0 0.5h1m-0.5 0h1m0 0h1m-1-0.5h1m0.5 0.5h1m0.5 0.5h1m-16 0.5h1m1.5 0h1m-1-0.5h1m0 0.5h1m-0.5 0.5h1m1 0h1m6-0.5h1m0 0h1m-0.5 0h1m14.5 0.5h1m1 0h1m5.5 0h1m-36.5 0.5h1m0 0h1m4.5-0.5h1m-0.5 0.5h1m5-0.5h1m12.5 1h1m1-0.5h1m1.5 0.5h1m-1 0h1m3.5-0.5h1m0.5 0.5h1m9.5-0.5h1m-44 1h1m0 0h1m2.5 0h1m-0.5-0.5h1m0 0.5h1m-0.5-0.5h1m13 1h1m2.5-1h1m-0.5 1h1m-0.5-1h1m-1 0.5h1m5.5 0h1m-1 0h1m0 0h1m-0.5 0.5h1m-1-0.5h1m2-0.5h1m-1 1h1m4-0.5h1m-1 0h1m2.5 0.5h1m-51 0.5h1m0-0.5h1m2 0.5h1m1 0.5h1m-1 0h1m-0.5 0h1m0.5-0.5h1m0 0h1m0.5-0.5h1m2.5 0.5h1m-1 0.5h1m10.5-0.5h1m-1 0h1m0-0.5h1m-1 0.5h1m-1 0.5h1m-0.5-0.5h1m-0.5 0.5h1m-1-0.5h1m0.5 0.5h1m0.5-0.5h1m1.5 0.5h1m-0.5-0.5h1m-0.5 0.5h1m1-1h1m0.5 0h1m0 0.5h1m0 0h1m6.5 0h1m-43 0.5h1m0 1h1m3-1h1m-0.5 0.5h1m13.5-0.5h1m-1 0.5h1m1.5 0h1m-0.5 0h1m1-0.5h1m3.5 1h1m2 0h1m2 0h1m2-0.5h1m-40.5 1h1m-0.5 0.5h1m-1-1h1m1 1h1m0.5-0.5h1m-1 0h1m3 0h1m1.5-0.5h1m6.5 1h1m3.5 0h1m2.5-0.5h1m-0.5 0h1m-1 0.5h1m1 0h1m1-0.5h1m1.5 0h1m0 0.5h1m1-0.5h1m-0.5 0h1m0 0h1m0-0.5h1m0 0.5h1m0 0h1m-39 1.5h1m-0.5-0.5h1m2 0h1m1.5-0.5h1m7.5 0.5h1m6 0h1m-1 0h1m-0.5 0h1m1.5 0h1m1 0h1m0.5-0.5h1m1 0.5h1m-0.5 0h1m1 0h1m1 0.5h1m0-0.5h1m8.5 0.5h1m0.5 0h1m-51.5 1h1m-1 0h1m0-1h1m0.5 0h1m0 0.5h1m3 0h1m0.5 0h1m0 0.5h1m5-0.5h1m0.5-0.5h1m-1 0.5h1m-0.5 0h1m5 0h1m-0.5 0.5h1m6.5-0.5h1m0.5 0h1m1-0.5h1m-0.5 0.5h1m4 0h1m0.5 0h1m0.5 0h1m2 0h1m1-0.5h1m-42 1.5h1m-1 0.5h1m0-0.5h1m0 0.5h1m3.5-0.5h1m9.5 0h1m0 0h1m0.5-0.5h1m0.5 1h1m2.5-1h1m-0.5 0h1m-1 0.5h1m-0.5 0h1m0 0h1m-0.5 0h1m-1 0h1m3 0h1m1 0h1m0.5 0h1m-0.5-0.5h1m1 0h1m-40.5 1h1m1 1h1m1-0.5h1m2 0h1m3.5 0h1m9 0.5h1m-0.5-0.5h1m0 0h1m0.5 0.5h1m-1-0.5h1m0.5 0.5h1m-0.5 0h1m-0.5-1h1m-0.5 0.5h1m13.5 0.5h1m2.5-0.5h1m-0.5-0.5h1m-45 1.5h1m2 0h1m2.5 0h1m4 0h1m0.5-0.5h1m-0.5 0h1m3 0.5h1m0.5 0h1m-0.5 0.5h1m5.5-1h1m5.5 0h1m1 0.5h1m-0.5-0.5h1m0.5 0.5h1m2-0.5h1m-1 1h1m0-0.5h1m1 0.5h1m-43.5 0h1m-1 0.5h1m0 0h1m5.5 0h1m-0.5 0h1m0.5 0.5h1m-0.5-1h1m1 0h1m0 0.5h1m2 0h1m6.5 0.5h1m-0.5-0.5h1m0.5 0h1m-0.5 0.5h1m0-0.5h1m-0.5-0.5h1m0 0h1m0.5 0.5h1m18.5-0.5h1m-48.5 1.5h1m0 0h1m-0.5 0h1m1 0h1m-1-0.5h1m0 1h1m1-0.5h1m8.5 0h1m7.5-0.5h1m4 0h1m0.5 0.5h1m6-0.5h1m8 0.5h1m4.5 0h1m-57.5 1h1m1 0h1m0.5 0h1m0-0.5h1m4.5 0.5h1m1 0h1m-1 0h1m0 0h1m0 0h1m-0.5 0h1m-1-0.5h1m0 0.5h1m0.5 0h1m4 0h1m-1-0.5h1m0 0.5h1m1.5-0.5h1m3.5 0.5h1m-1-0.5h1m0 0.5h1m5 0h1m3.5 0h1m1.5 0h1m0.5-0.5h1m1.5 0h1m5.5 0.5h1m-58 1.5h1m3.5-0.5h1m0 0h1m-0.5 0h1m2.5 0h1m1 0h1m0 0.5h1m0.5 0h1m1.5-0.5h1m5.5 0h1m12-0.5h1m10.5 0.5h1m3.5 0.5h1m1.5-0.5h1m-54 1h1m1 0.5h1m1.5-1h1m1.5 1h1m-1-1h1m0 0h1m0 0h1m-0.5 0.5h1m-1 0h1m-1 0.5h1m0 0h1m2-1h1m-0.5 1h1m0-0.5h1m-0.5 0h1m0-0.5h1m1 0.5h1m2 0.5h1m2-0.5h1m1.5 0h1m4 0h1m-1 0h1m1.5-0.5h1m4 0.5h1m3-0.5h1m-1 1h1m3-0.5h1m-50 1h1m3 0.5h1m0.5-1h1m-0.5 0h1m2.5 0.5h1m0 0h1m0 0h1m4 0h1m3.5-0.5h1m0.5 0h1m-1 0.5h1m3 0.5h1m1 0h1m2.5-1h1m-1 0h1m0 0.5h1m-0.5 0.5h1m-0.5-0.5h1m12 0h1m-46.5 1.5h1m-0.5-0.5h1m6 0h1m2.5-0.5h1m6 0h1m3 0.5h1m9 0.5h1m11-0.5h1m4 0h1m2-0.5h1m2.5 0.5h1m1 0h1m-61 1h1m-1 0h1m2.5 0h1m0 0h1m-0.5 0h1m0 0h1m3 0h1m0 0h1m1 0h1m-1 0h1m1-0.5h1m0 1h1m0-0.5h1m-1 0.5h1m1.5-0.5h1m0 0h1m0.5 0h1m0 0h1m-0.5-0.5h1m1 0h1m-1 0.5h1m-1 0h1m0 0.5h1m0.5-0.5h1m-1 0h1m0.5 0h1m-0.5 0h1m1 0h1m4.5 0.5h1m2.5-0.5h1m13-0.5h1m-55 1h1m1.5 0h1m1 0h1m-1 0h1m1.5 0h1m0.5 0.5h1m0 0h1m4-0.5h1m7 0.5h1m0.5 0.5h1m-0.5-0.5h1m0.5-0.5h1m1 0h1m2 1h1m2-0.5h1m0 0h1m1.5 0.5h1m8-1h1m1 0.5h1m9.5 0h1m-61 1.5h1m0-1h1m4 0.5h1m0 0h1m2-0.5h1m0.5 0h1m-1 0h1m2.5 0.5h1m-0.5-0.5h1m4.5 0h1m0.5 0h1m0 0.5h1m0 0h1m1-0.5h1m1.5 0.5h1m5 0.5h1m-0.5 0h1m3.5-0.5h1m-42.5 1h1m8-0.5h1m0 1h1m1.5-0.5h1m3-0.5h1m0 0.5h1m-0.5 0h1m-1 0h1m1 0.5h1m-0.5 0h1m-0.5-0.5h1m4 0h1m-0.5 0h1m0 0.5h1m0.5-0.5h1m-0.5 0h1m4.5 0h1m-0.5 0.5h1m16.5-0.5h1m8.5 0h1m-65.5 1h1m4.5-0.5h1m2 0h1m1.5 0.5h1m0.5-0.5h1m1.5 0.5h1m0 0h1m1 0h1m1 0.5h1m0.5-1h1m-0.5 1h1m-0.5-0.5h1m0 0h1m0.5-0.5h1m2.5 0.5h1m3.5 0h1m1-0.5h1m3.5 1h1m1-1h1m14 0.5h1m-58.5 1h1m0.5 0.5h1m3 0h1m1-1h1m0 1h1m2-0.5h1m0 0h1m8.5 0h1m3.5 0h1m-1 0h1m-0.5 0h1m-1 0h1m-0.5 0h1m2 0h1m0-0.5h1m-0.5 0h1m1 1h1m-1-1h1m2 0h1m-0.5 0h1m-1 0h1m1.5 1h1m-42.5 0.5h1m1.5-0.5h1m2 0.5h1m-0.5 0.5h1m-0.5-0.5h1m4.5 0h1m-1 0h1m0.5 0h1m2-0.5h1m-0.5 0.5h1m0.5 0.5h1m0-1h1m-1 0.5h1m-0.5-0.5h1m-0.5 1h1m0-1h1m0 0.5h1m-1-0.5h1m-0.5 0h1m2.5 0h1m-0.5 0h1m6.5 1h1m0.5-0.5h1m0.5 0.5h1m1-0.5h1m-40 1h1m1 0h1m0.5 0h1m1.5 0h1m3.5 0.5h1m6.5-0.5h1m4.5 0.5h1m1.5 0h1m3-0.5h1m0 0h1m1 0h1m-0.5-0.5h1m0.5 1h1m-38.5 0.5h1m0 0h1m1 0.5h1m-0.5-0.5h1m-1 0h1m0.5-0.5h1m-0.5 0.5h1m-0.5 0.5h1m1.5 0h1m0.5 0h1m1-0.5h1m0 0h1m0-0.5h1m-0.5 0.5h1m-1 0.5h1m1.5 0h1m-0.5 0h1m2 0h1m-0.5-0.5h1m1 0.5h1m4-0.5h1m0 0h1m-1 0h1m-29 0.5h1m0 0h1m-0.5 0.5h1m3-0.5h1m0 0.5h1m-1 0h1m5 0h1m-0.5 0h1m-1 0h1m-1 0h1m3 0h1m0.5 0.5h1m-0.5-1h1m0 0.5h1m3 0.5h1m1.5-0.5h1m0 0h1m1 0h1m0 0h1m1.5 0h1m7-0.5h1m-44 2h1m0 0h1m-1 0h1m0-1h1m0.5 1h1m1-0.5h1m0.5 0h1m0.5-0.5h1m-0.5 0.5h1m1-0.5h1m1 0.5h1m1 0.5h1m-0.5-1h1m0.5 0.5h1m1 0h1m-1 0.5h1m0.5-0.5h1m3-0.5h1m2.5 0.5h1m-1 0h1m2.5 0h1m1 0.5h1m-0.5-1h1m0 0.5h1m1 0h1m5-0.5h1m-46 1.5h1m-1 0h1m2-0.5h1m0 0h1m0 0.5h1m-0.5 0.5h1m0.5-0.5h1m0 0h1m0.5 0h1m0.5 0h1m0.5 0.5h1m-0.5 0h1m0.5 0h1m1-0.5h1m0 0.5h1m-0.5-0.5h1m-0.5 0h1m-1 0h1m-0.5 0h1m-0.5-0.5h1m0 0h1m1.5 0h1m4.5 1h1m-0.5-0.5h1m2 0h1m-1 0.5h1m-0.5-0.5h1m7-0.5h1m0.5 1h1m3-1h1m-47 1h1m0 0h1m2 0h1m-0.5 1h1m-1-0.5h1m1.5 0h1m5.5 0h1m4.5 0h1m-1 0h1m0.5-0.5h1m0.5 1h1m-0.5-0.5h1m-1 0h1m0 0.5h1m-0.5 0h1m-1-0.5h1m3.5-0.5h1m0.5 0h1m0 1h1m-0.5-0.5h1m2 0h1m2 0h1m-0.5 0h1m1 0h1m1-0.5h1m1.5 0.5h1m0-0.5h1m-0.5 0.5h1m-47.5 1.5h1m0.5-1h1m-0.5 0.5h1m3 0h1m2 0h1m-0.5 0h1m0.5 0.5h1m-0.5-0.5h1m0.5 0h1m0.5-0.5h1m2.5 1h1m1-0.5h1m1.5-0.5h1m1 1h1m2-0.5h1m1.5 0h1m0 0h1m-0.5 0h1m-1-0.5h1m-0.5 0.5h1m1.5 0h1m0.5 0.5h1m4.5-0.5h1m-0.5 0.5h1m-1-0.5h1m2.5 0h1m2 0.5h1m-50 1h1m-0.5-0.5h1m1 0h1m1 0h1m-0.5 0.5h1m1-0.5h1m1-0.5h1m-0.5 0h1m0 0h1m0.5 0.5h1m1 0h1m0.5 0h1m-0.5-0.5h1m3 0.5h1m0.5 0h1m4 0.5h1m-0.5-0.5h1m-0.5 0h1m1.5 0h1m-0.5 0.5h1m-0.5-1h1m-0.5 1h1m0.5-0.5h1m3.5-0.5h1m1 0h1m-0.5 0.5h1m-1 0h1m0.5-0.5h1m-1 0.5h1m0 0h1m2 0h1m-1 0h1m0.5 0.5h1m-48 0h1m0 0.5h1m2.5-0.5h1m1.5 0.5h1m1 0h1m3 0h1m3.5 0h1m0.5 0.5h1m-0.5-1h1m-1 1h1m0.5-0.5h1m5.5 0h1m5.5 0h1m1 0h1m1.5 0h1m0.5 0h1m8-0.5h1m-50.5 2h1m2.5-0.5h1m7.5 0h1m5-0.5h1m3 0.5h1m-0.5 0h1m0 0h1m2 0h1m2 0.5h1m0-1h1m2.5 1h1m0.5-1h1m1 0.5h1m3.5-0.5h1m-0.5 0h1m0.5 0.5h1m-0.5 0h1m-46 0.5h1m3.5 1h1m-0.5-0.5h1m3 0h1m2.5 0h1m1.5 0h1m0.5-0.5h1m-1 1h1m0-1h1m0.5 0.5h1m3.5-0.5h1m2 0.5h1m1.5 0.5h1m-0.5 0h1m0 0h1m3.5-1h1m-1 0.5h1m0.5-0.5h1m0 0h1m0 0.5h1m3.5 0.5h1m1.5-0.5h1m0-0.5h1m-45.5 1.5h1m3 0h1m0 0h1m0.5-0.5h1m1.5 1h1m1-0.5h1m-0.5-0.5h1m3 0h1m0 1h1m0.5-0.5h1m1.5 0h1m1.5-0.5h1m-0.5 0h1m3.5 0h1m0.5 0.5h1m-0.5 0.5h1m0.5-1h1m0.5 0.5h1m0 0.5h1m-0.5-0.5h1m-0.5 0h1m3-0.5h1m0 1h1m-0.5-1h1m-0.5 0h1m0 0h1m-44 1.5h1m3.5 0h1m1.5 0h1m0.5 0h1m0 0h1m1.5-0.5h1m1.5 0.5h1m1.5 0h1m-1 0h1m2 0h1m-0.5-0.5h1m2 0.5h1m0.5 0.5h1m0.5-0.5h1m-0.5 0.5h1m-0.5-0.5h1m6 0h1m0.5 0.5h1m-0.5-0.5h1m0.5 0h1m3 0.5h1m-1 0h1m0-0.5h1m0 0h1m-0.5 0h1m1.5-0.5h1m-0.5 1h1m-49 1h1m0-1h1m3.5 0.5h1m0 0h1m1.5 0h1m0 0.5h1m1-0.5h1m-0.5-0.5h1m2 0.5h1m1 0.5h1m4-0.5h1m-0.5-0.5h1m0.5 1h1m3.5-0.5h1m4.5 0h1m-1 0h1m4 0.5h1m5-0.5h1m-46 1h1m0-0.5h1m-0.5 1h1m-0.5-1h1m0 0.5h1m-0.5 0h1m2-0.5h1m-0.5 0h1m4.5 0.5h1m-0.5-0.5h1m-1 1h1m-0.5-1h1m-1 0.5h1m2 0.5h1m2-0.5h1m5.5 0h1m-0.5 0h1m0.5 0h1m10-0.5h1m-0.5 0.5h1m-0.5 0h1m-41.5 1.5h1m-0.5-0.5h1m3 0h1m0 0h1m2.5-0.5h1m0.5 1h1m-0.5-0.5h1m1.5 0.5h1m-0.5 0h1m-0.5 0h1m0.5-0.5h1m-0.5 0.5h1m1.5 0h1m3-0.5h1m-0.5-0.5h1m-0.5 1h1m-1 0h1m0.5-0.5h1m1.5 0.5h1m4.5-0.5h1m2 0h1m3.5 0.5h1m-40 0.5h1m1.5-0.5h1m3.5 1h1m0-0.5h1m2.5-0.5h1m0.5 1h1m1 0h1m-1-1h1m0.5 0h1m-0.5 0.5h1m-1-0.5h1m1 0.5h1m1 0h1m1.5-0.5h1m7 0.5h1m2.5 0h1m1-0.5h1m0 0h1m0.5 0h1m0.5 0h1m0.5 0h1m2.5 0.5h1m-1 0.5h1m-46 1h1m11-0.5h1m1.5-0.5h1m0 0h1m-0.5 1h1m0-1h1m3.5 0h1m4 0h1m-1 1h1m2.5-0.5h1m3 0h1m2-0.5h1m-0.5 0.5h1m-1 0.5h1m0.5-1h1m0.5 0h1m-1 0.5h1m1-0.5h1m-0.5 0.5h1m0.5 0h1m1 0.5h1m-1-0.5h1m-0.5 0h1m-0.5 0h1m-51 1h1m-0.5-0.5h1m0.5 0.5h1m-1 0.5h1m1.5 0h1m6-0.5h1m2 0h1m-0.5-0.5h1m-1 0h1m0.5 0h1m0 0.5h1m0.5 0.5h1m-1-0.5h1m1 0.5h1m-0.5-0.5h1m-0.5 0.5h1m0.5-0.5h1m-1 0.5h1m1-0.5h1m0 0h1m0 0h1m0 0.5h1m8 0h1m0-1h1m1 0.5h1m-1 0h1m2 0h1m2 0.5h1m2.5-0.5h1m-51 0.5h1m-1 0.5h1m1.5-0.5h1m0 0.5h1m0 0h1m1 0.5h1m0.5 0h1m-0.5-1h1m0.5 0.5h1m6.5 0.5h1m-0.5-0.5h1m0-0.5h1m2.5 0.5h1m1.5-0.5h1m7.5 0.5h1m-0.5-0.5h1m6.5 0.5h1m4 0.5h1m-47.5 0.5h1m-0.5-0.5h1m2.5 0h1m-1 0h1m0 0.5h1m2.5 0h1m-0.5-0.5h1m2.5 0.5h1m-0.5-0.5h1m2 0.5h1m-1-0.5h1m0.5 0.5h1m-0.5-0.5h1m1.5 0.5h1m-0.5-0.5h1m0 0.5h1m-0.5 0h1m1 0h1m-0.5 0.5h1m-0.5-0.5h1m5 0h1m3.5 0.5h1m1.5-1h1m-0.5 1h1m-0.5-1h1m-1 0.5h1m4.5 0h1m2 0.5h1m-0.5-0.5h1m0.5 0h1m-47.5 1h1m0 0h1m1.5 0h1m1.5-0.5h1m-0.5 0.5h1m1.5 0.5h1m8-0.5h1m3-0.5h1m5 0.5h1m0.5 0h1m-0.5 0.5h1m1-1h1m6 0.5h1m-0.5 0h1m0-0.5h1m0 1h1m-46 0.5h1m2-0.5h1m0.5 0h1m-0.5 0.5h1m0.5 0h1m0.5 0.5h1m-1-0.5h1m-0.5 0h1m-0.5 0h1m2 0h1m-0.5 0h1m2 0h1m1.5 0.5h1m-0.5 0h1m0-0.5h1m0 0h1m2.5 0h1m0 0h1m0.5 0h1m0.5 0h1m-0.5-0.5h1m4.5 0.5h1m-0.5 0h1m-1 0h1m-1 0.5h1m2.5-1h1m3 0.5h1m0-0.5h1m-1 0.5h1m-1-0.5h1m1.5 1h1m-42.5 0.5h1m5 0.5h1m-0.5 0h1m-0.5-0.5h1m-0.5 0.5h1m0-0.5h1m2 0h1m0-0.5h1m-1 1h1m0.5-0.5h1m-0.5 0.5h1m0.5 0h1m-0.5 0h1m0-0.5h1m0-0.5h1m2.5 0h1m-1 0.5h1m0.5-0.5h1m1 0h1m-0.5 0h1m-0.5 0.5h1m0.5 0.5h1m-1-1h1m3 1h1m-0.5 0h1m-1-1h1m-0.5 1h1m0.5-0.5h1m-1-0.5h1m-0.5 1h1m6.5-0.5h1m1.5 0.5h1m-48 0h1m-0.5 0.5h1m0 0h1m2.5 0h1m3.5 0h1m0.5 0.5h1m3.5-0.5h1m1.5 0h1m-0.5 0h1m3.5 0.5h1m0-0.5h1m-0.5 0.5h1m-0.5-1h1m1 0.5h1m1.5 0h1m4.5 0.5h1m3-1h1m0 0h1m4 1h1m-0.5 0h1m-0.5-0.5h1m0.5-0.5h1m-49 1.5h1m2 0.5h1m11.5 0h1m-1-0.5h1m-0.5 0h1m0 0.5h1m4.5-0.5h1m-0.5 0h1m-0.5 0h1m10.5-0.5h1m-1 0.5h1m0.5-0.5h1m-0.5 1h1m2.5-0.5h1m0.5-0.5h1m-1 0h1m1 0h1m-1 1h1m4.5-0.5h1m-51 1.5h1m-0.5-0.5h1m0.5 0h1m-0.5 0h1m-0.5-0.5h1m4.5 1h1m1.5-0.5h1m3 0h1m0 0h1m0.5 0.5h1m2 0h1m0-0.5h1m7.5 0h1m-0.5 0.5h1m0-0.5h1m0.5 0h1m0.5 0h1m1 0.5h1m-0.5-0.5h1m-0.5 0h1m-0.5 0h1m1 0h1m2 0.5h1m-1-1h1m2 1h1m1-0.5h1m-47 0.5h1m-1 0h1m7 0.5h1m0 0h1m-1 0.5h1m0-1h1m4 0.5h1m0.5 0.5h1m4 0h1m1-0.5h1m1 0h1m-0.5-0.5h1m3.5 0.5h1m0.5-0.5h1m-0.5 0.5h1m0 0h1m1-0.5h1m-0.5 0.5h1m5 0.5h1m-44 0.5h1m-1 0h1m3-0.5h1m2.5 0.5h1m1 0h1m3 0h1m0.5 0h1m-1 0h1m0-0.5h1m1 0h1m-1 1h1m2.5-0.5h1m-0.5 0h1m0.5 0h1m2 0.5h1m-1 0h1m1.5-0.5h1m-1 0h1m2 0h1m0.5 0h1m-0.5-0.5h1m1 0h1m2 0.5h1m3 0.5h1m-40.5 1h1m0-1h1m2.5 0.5h1m2-0.5h1m0.5 0.5h1m1 0h1m3-0.5h1m-0.5 0h1m0.5 0.5h1m2.5 0h1m-0.5-0.5h1m0 0.5h1m-0.5 0h1m1.5 0h1m-0.5 0h1m0 0h1m-1 0.5h1m1-1h1m1.5 0.5h1m0-0.5h1m0 0.5h1m-0.5 0.5h1m0.5-0.5h1m0 0h1m5.5 0h1m-0.5-0.5h1m-0.5 1h1m-46.5 1h1m1-0.5h1m-0.5 0h1m-1 0h1m0 0h1m0.5 0h1m-0.5 0h1m6 0h1m1 0h1m2.5 0.5h1m3.5-1h1m0 1h1m4-0.5h1m0 0.5h1m0-0.5h1m0.5 0h1m-0.5 0.5h1m1 0h1m-1 0h1m0-0.5h1m4.5 0h1m-41.5 0.5h1m6.5 0.5h1m0-0.5h1m0.5 0.5h1m1.5-0.5h1m-1 0h1m5.5 1h1m2 0h1m9.5-1h1m0.5 0.5h1m0.5 0h1m1.5-0.5h1m0.5 1h1m0.5-0.5h1m-39.5 1h1m3 0.5h1m0-1h1m2 0h1m3.5 1h1m-0.5-0.5h1m-0.5 0.5h1m0.5-1h1m-1 1h1m0-0.5h1m-0.5-0.5h1m1 0h1m-1 0.5h1m-0.5 0.5h1m1-0.5h1m6.5 0h1m1-0.5h1m0.5 0.5h1m-0.5 0h1m-0.5-0.5h1m0 0h1m2.5 0h1m3.5 0.5h1m-37.5 0.5h1m-1 0.5h1m2 0.5h1m-0.5-1h1m5.5 0h1m-0.5 1h1m1-0.5h1m-1-0.5h1m1 0h1m1 1h1m-1-0.5h1m9.5-0.5h1m1.5 1h1m2.5-0.5h1m0 0h1m-39 1.5h1m9-0.5h1m1-0.5h1m-1 0.5h1m0.5 0h1m0 0h1m1-0.5h1m3.5 0.5h1m0-0.5h1m0.5 0.5h1m1-0.5h1m0 0.5h1m0.5 0.5h1m-1-0.5h1m3.5-0.5h1m6.5 0h1m-41 1.5h1m-0.5 0h1m0.5-0.5h1m0.5 0.5h1m2.5 0h1m2.5-0.5h1m-0.5 0.5h1m0-0.5h1m-1 0.5h1m2 0.5h1m-0.5-1h1m0.5 1h1m2-0.5h1m1.5 0h1m0.5 0h1m-1-0.5h1m0 1h1m2-1h1m0.5 0.5h1m0.5 0h1m0 0h1m-1 0.5h1m-1-0.5h1m0.5-0.5h1m2.5 0.5h1m-32 1.5h1m3.5-0.5h1m-1 0.5h1m-0.5 0h1m1.5-0.5h1m-0.5 0h1m-1 0.5h1m1.5-0.5h1m0-0.5h1m0 1h1m0-0.5h1m2 0.5h1m-0.5-1h1m0.5 0.5h1m2.5 0.5h1m2.5-0.5h1m0 0h1m0-0.5h1m-0.5 1h1m4.5-1h1m-36 1.5h1m-0.5 0.5h1m0-0.5h1m-0.5 0h1m-0.5-0.5h1m1 0.5h1m1.5 0h1m1 0.5h1m2-0.5h1m3 0.5h1m0.5-0.5h1m0-0.5h1m-0.5 1h1m5-0.5h1m-1-0.5h1m-0.5 0.5h1m0 0h1m1.5 0h1m-26.5 1.5h1m-1-0.5h1m1 0.5h1m3.5-0.5h1m1.5 0h1m-1 0h1m-0.5 0h1m0.5-0.5h1m-1 1h1m0-1h1m3 0.5h1m1.5-0.5h1m-0.5 0.5h1m-0.5 0.5h1m1-0.5h1m4.5 0h1m-28.5 0.5h1m-0.5 1h1m0-0.5h1m0.5 0h1m1 0h1m3 0h1m4.5 0h1m2-0.5h1m-1 1h1m0.5-0.5h1m1.5 0h1m4 0.5h1m7-1h1m-1 1h1m-35 0h1m1 0h1m1.5 0.5h1m2 0.5h1m4.5-0.5h1m1-0.5h1m-0.5 0.5h1m0-0.5h1m0.5 0.5h1m-1 0h1m-0.5 0.5h1m1-1h1m-0.5 0h1m4.5 0h1m1.5 0.5h1m3-0.5h1m-31 1h1m-0.5 1h1m5 0h1m-0.5-0.5h1m0.5 0h1m0-0.5h1m-1 0.5h1m-1 0h1m1.5 0.5h1m2.5 0h1m-0.5-0.5h1m-0.5 0.5h1m-1 0h1m0.5-0.5h1m-0.5 0h1m1.5-0.5h1m-0.5 0h1m-1 0h1m2.5 0.5h1m3.5-0.5h1m-1 1h1m-26.5 0.5h1m-1 0h1m3.5 0h1m3-0.5h1m1 0.5h1m1-0.5h1m-0.5 0.5h1m-1 0.5h1m0-1h1m0.5 0.5h1m0.5 0h1m7.5 0h1m-0.5 0.5h1m-22 0.5h1m0 0h1m0.5 0h1m0.5 0h1m-0.5 0h1m-1 0h1m-0.5 0h1m2.5 0h1m-4 1h1m0-0.5h1m12 1.5h1m3.5 0.5h1m-2 0.5h1m0 0.5h1m-8.5 0.5h1m-1-0.5h1m0.5 1h1m3.5-1h1m-8 1h1m0.5 0.5h1m4 0h1m0-0.5h1m-0.5 1h1m-10 0h1m0 0h1m0 0h1m2.5 0.5h1m2.5 0.5h1m-1-0.5h1m0 0h1m0 0h1m-1-0.5h1m-0.5 0.5h1m0 0.5h1m0.5-0.5h1m-17.5 0.5h1m0 0.5h1m1.5 0.5h1m-0.5-0.5h1m-1 0h1m2 0.5h1m1.5-0.5h1m0 0.5h1m0-0.5h1m-1 0.5h1m0.5-1h1m0 0h1m0.5 0.5h1m1 0h1m-15 1h1m1 0h1m-1 0.5h1m7 0h1m-0.5-0.5h1m-0.5 0h1m-15.5 0.5h1m0 0.5h1m0 0h1m2.5 0.5h1m2.5-0.5h1m1 0h1m0 0h1m0.5 0h1m-16 0.5h1m-0.5 0.5h1m0 0h1m3.5-0.5h1m-1 0.5h1m1 0h1m0.5-0.5h1m0.5 0.5h1m0.5 0h1m0 0h1m0.5 0h1m-0.5-0.5h1m-1 0h1m0 0.5h1m0 0.5h1m-0.5-0.5h1m0.5 0.5h1m-21 0h1m0.5 0.5h1m1.5 0h1m-0.5 0h1m2-0.5h1m1.5 0.5h1m0 0.5h1m3-0.5h1m5 0.5h1m-16 0.5h1m-0.5-0.5h1m1 0.5h1m4 0.5h1m0.5-0.5h1m-0.5 0h1m-0.5 0h1m0 0h1m-16 1h1m0.5 0h1m-0.5 0.5h1m-1-1h1m1.5 0.5h1m-1-0.5h1m0 0h1m0 0.5h1m2.5 0h1m-1 0h1m1.5 0.5h1m-0.5-0.5h1m3.5 0h1m0 0h1m0.5-0.5h1m-20.5 2h1m0-0.5h1m1.5 0h1m2.5 0h1m2 0.5h1m1.5-0.5h1m-1 0.5h1m3-1h1m2 0.5h1m1-0.5h1m-20.5 1.5h1m0-0.5h1m-0.5 0.5h1m-0.5 0h1m-1-0.5h1m0.5 0.5h1m1.5 0h1m-1-0.5h1m-0.5 1h1m2-0.5h1m0.5-0.5h1m-1 0.5h1m-1 0.5h1m-1-1h1m-1 1h1m1.5 0h1m0-0.5h1m4.5 0h1m-22.5 0.5h1m0 0.5h1m-0.5 0h1m-1 0.5h1m0-0.5h1m-1-0.5h1m-1 0h1m7 0h1m6 0.5h1m-18.5 0.5h1m1 0h1m1.5 0.5h1m-1 0h1m2-0.5h1m-1 0.5h1m2.5 0h1m5 0h1m-0.5-0.5h1m-19 2h1m0.5-1h1m-1 0.5h1m0.5 0.5h1m3.5-1h1m-0.5 0.5h1m2.5 0h1m-1 0h1m-0.5 0.5h1m1-0.5h1m0.5-0.5h1m0.5 0.5h1m0.5 0h1m-19 1h1m5.5 0h1m4.5-0.5h1m1 0.5h1m0.5 0.5h1m-1-1h1m-15 1h1m0 0h1m2 0.5h1m1.5 0h1m2.5 0h1m-7 1.5h1m0-0.5h1m0.5 0.5h1m0.5-0.5h1m0-0.5h1m3.5 0h1m-0.5 0.5h1m-4 1.5h1m-1-0.5h1m1-0.5h1" stroke="#d92330" stroke-width="1" fill="none"/>
<path d="M432 279.5h1m6 1h1m-13.5 0.5h1m2 0h1m8.5 0h1m17 1.5h1m0 0h1m-28.5 0h1m23.5 1h1m3-0.5h1m1.5 0.5h1m0.5-0.5h1m0 0h1m1 0h1m-29 1h1m6.5 0.5h1m7.5-1h1m0 1h1m3-0.5h1m1.5 0h1m3 0h1m-0.5 0h1m-0.5-0.5h1m0 0h1m0.5 1h1m-33 0.5h1m14.5 0.5h1m-0.5 0h1m4-1h1m-0.5 0.5h1m0 0.5h1m-1 0h1m0.5-0.5h1m-0.5 0h1m5 0.5h1m-38.5 0.5h1m5 0.5h1m0-0.5h1m1.5 0h1m-0.5-0.5h1m10.5 0.5h1m0.5 0.5h1m2-0.5h1m0.5 0h1m2 0h1m0.5 0h1m0 0.5h1m1 0h1m-0.5 0h1m1-0.5h1m-44 1h1m8.5 0.5h1m7.5-0.5h1m10 0h1m1.5-0.5h1m0 1h1m0-0.5h1m4 0h1m2.5 0h1m-1 0h1m-0.5-0.5h1m2.5 1h1m-0.5 0h1m-44.5 1h1m0.5-0.5h1m8 0h1m12.5 0h1m4-0.5h1m0.5 0h1m1 0h1m1 1h1m1.5-0.5h1m-40 0.5h1m-0.5 0.5h1m-0.5 0.5h1m12.5-1h1m3 0.5h1m1 0h1m5.5 0.5h1m-0.5 0h1m-0.5 0h1m-1-1h1m0 0.5h1m1 0h1m-0.5 0h1m7-0.5h1m-29 2h1m-1-1h1m23 0.5h1m0.5-0.5h1m0 1h1m1 0h1m2.5-1h1m-1 0h1m0 0.5h1m-41.5 1.5h1m15 0h1m4.5 0h1m2.5-0.5h1m0-0.5h1m4 1h1m-36 0.5h1m6.5 0.5h1m1.5-0.5h1m6-0.5h1m3 0.5h1m7 0.5h1m-1-0.5h1m1.5 0h1m1.5 0h1m0 0h1m1 0h1m2 0h1m-1 0h1m2 0h1m-43.5 1h1m0.5 0h1m5 0h1m9-0.5h1m0 0.5h1m2.5 0h1m2.5 0.5h1m2-1h1m-0.5 1h1m0.5-0.5h1m2.5 0h1m1 0.5h1m-1-1h1m-25.5 1.5h1m3 0h1m4.5 0h1m1-0.5h1m6 1h1m1.5 0h1m0-0.5h1m-30.5 1.5h1m4.5-0.5h1m3.5 0h1m-0.5-0.5h1m4 1h1m7-1h1m-21.5 1.5h1m1-0.5h1m9 0.5h1m-0.5 0.5h1m7.5 0h1m5-1h1m-0.5 0h1m1 0h1m-34 1.5h1m2.5 0h1m-1 0h1m-0.5 0.5h1m9-1h1m8.5 0h1m3 0h1m-30.5 1h1m3.5 0h1m4 1h1m2-0.5h1m0 0h1m0-0.5h1m-0.5 0.5h1m3-0.5h1m11 0.5h1m-1 0.5h1m-20.5 0.5h1m1 0.5h1m3-0.5h1m4 0.5h1m-1-0.5h1m-0.5 0h1m0 0.5h1m-14.5 1h1m2-0.5h1m-0.5 0h1m0 0h1m1 0h1m4.5 0.5h1m-0.5-0.5h1m1-0.5h1m-0.5 0.5h1m-1 0.5h1m0-1h1m1.5 0h1m0 0.5h1m2 0h1m-30 1h1m0.5 0.5h1m4 0h1m1.5 0h1m2-0.5h1m-0.5 0.5h1m1-1h1m2 0.5h1m7.5-0.5h1m-1 0.5h1m5 0.5h1m0.5-1h1m-39.5 1.5h1m2.5 0.5h1m5-0.5h1m9 0.5h1m0.5-0.5h1m-0.5 0.5h1m-0.5-1h1m1 0.5h1m3 0.5h1m2.5-0.5h1m3 0h1m0 0.5h1m1-0.5h1m0 0h1m-39 1h1m3.5 0.5h1m3.5-1h1m0.5 0.5h1m1.5 0h1m7.5 0h1m7.5 0h1m1.5 0.5h1m-0.5-0.5h1m1-0.5h1m1.5 1h1m-34 1h1m1-1h1m-0.5 0.5h1m1 0h1m0 0.5h1m-0.5 0h1m2.5-1h1m10 0h1m3 0h1m-0.5 0.5h1m0.5-0.5h1m1.5 0h1m1 0.5h1m1.5 0h1m-37.5 1.5h1m2.5-0.5h1m0.5 0h1m2.5 0h1m1 0h1m0 0.5h1m0.5-0.5h1m0 0h1m0.5 0.5h1m0-0.5h1m-0.5 0h1m-0.5-0.5h1m3 0.5h1m0.5-0.5h1m1.5 0.5h1m-0.5 0h1m2-0.5h1m4 0.5h1m0.5 0h1m3 0h1m-38 1h1m5.5 0h1m6.5 0h1m0 0.5h1m10.5-0.5h1m1-0.5h1m3 0h1m0 0h1m0 1h1m1-0.5h1m-1 0h1m-38 1h1m0-0.5h1m1.5 0h1m-0.5 0.5h1m1.5 0.5h1m-0.5 0h1m-0.5-1h1m-0.5 1h1m0.5-0.5h1m1.5 0h1m3 0h1m11.5 0h1m0-0.5h1m8.5 0.5h1m-0.5-0.5h1m-44 1.5h1m0 0.5h1m0-0.5h1m2.5 0h1m7-0.5h1m2.5 0.5h1m0 0h1m-0.5 0h1m8-0.5h1m2 0.5h1m1.5 0h1m1 0h1m-0.5 0h1m-35.5 0.5h1m-0.5 0.5h1m9 0.5h1m3.5-0.5h1m10 0h1m2-0.5h1m4 0.5h1m-1 0h1m1.5 0.5h1m-0.5-0.5h1m2.5 0h1m2.5 0.5h1m2-0.5h1m-0.5 0h1m-0.5 0h1m-47 1h1m10-0.5h1m15 0.5h1m5 0h1m-1 0h1m9-0.5h1m-1 0.5h1m3 0h1m-49.5 1h1m1.5 0h1m4 0.5h1m6-0.5h1m4.5-0.5h1m4 0.5h1m1 0h1m1.5 0h1m0-0.5h1m3.5 0h1m1 0h1m3 0h1m-1 1h1m7-0.5h1m-38.5 1h1m0.5-0.5h1m6.5 0.5h1m-1 0h1m4 0h1m4.5 0.5h1m1 0h1m6-0.5h1m3 0h1m1.5 0h1m2-0.5h1m-48.5 1h1m-0.5 1h1m2.5-0.5h1m4.5 0.5h1m6-0.5h1m-1-0.5h1m16.5 1h1m1-0.5h1m-37 1h1m7.5 0.5h1m11-0.5h1m5.5-0.5h1m4 0h1m-34.5 1.5h1m-0.5 0.5h1m2.5-1h1m0 0.5h1m5 0.5h1m2.5-0.5h1m-0.5 0.5h1m2-0.5h1m-1 0h1m0 0.5h1m0 0h1m1-0.5h1m-0.5 0.5h1m2.5-0.5h1m2.5-0.5h1m1.5 0h1m3.5 0.5h1m-1 0h1m5 0h1m-0.5 0h1m-46 1h1m3.5 0h1m-0.5-0.5h1m0 1h1m1.5 0h1m-0.5-0.5h1m0-0.5h1m-0.5 1h1m-1-1h1m-1 0.5h1m3.5 0.5h1m2-0.5h1m2.5-0.5h1m4.5 0h1m-1 0.5h1m8 0h1m3 0h1m2.5 0h1m-45 1h1m13.5 0h1m4-0.5h1m0 0h1m2 0h1m2 0.5h1m2.5-0.5h1m-0.5 0h1m7.5 0.5h1m-35.5 0.5h1m3.5 0.5h1m1.5-0.5h1m2.5 1h1m-0.5-0.5h1m5-0.5h1m0.5 0.5h1m1 0h1m-0.5 0h1m2.5 0h1m0-0.5h1m7.5 0.5h1m5 0.5h1m-45.5 0.5h1m6.5-0.5h1m-1 0h1m-0.5 0.5h1m0 0.5h1m1.5-0.5h1m1.5-0.5h1m-1 0.5h1m0-0.5h1m3 1h1m-0.5-1h1m4.5 1h1m0.5-1h1m-0.5 0.5h1m-1 0h1m-1-0.5h1m6.5 1h1m-0.5 0h1m1.5-1h1m7 0.5h1m-44 0.5h1m-0.5 0.5h1m1 0.5h1m16.5-0.5h1m1 0.5h1m-0.5-0.5h1m5-0.5h1m5 0h1m8 1h1m0 0h1m-0.5 0h1m1.5-0.5h1m-45 1.5h1m-0.5-0.5h1m2 0h1m-0.5 0.5h1m-1-0.5h1m3.5-0.5h1m3.5 0h1m0 0h1m0.5 0.5h1m0 0h1m2-0.5h1m7 1h1m-0.5 0h1m2.5-0.5h1m-1 0h1m4.5 0h1m-44 1h1m5 0h1m0 0h1m7.5-0.5h1m0.5 0.5h1m0 0h1m-1 0h1m1 0h1m2 0h1m1 0h1m2.5 0h1m1 0.5h1m0 0h1m2.5-0.5h1m11 0h1m-45.5 1h1m2.5-0.5h1m-1 1h1m-0.5-0.5h1m1-0.5h1m3 0h1m0.5 0.5h1m-0.5 0h1m0 0h1m3 0h1m6 0h1m3.5 0h1m11.5 0h1m1 0h1m-0.5-0.5h1m1.5 1h1m1.5-1h1m-54 2h1m4-1h1m6.5 0.5h1m1.5 0h1m1.5 0h1m2.5 0h1m-0.5-0.5h1m-1 0.5h1m2-0.5h1m3 0.5h1m0 0h1m0 0h1m-0.5 0h1m4.5 0h1m-0.5 0.5h1m0 0h1m-1 0h1m6-1h1m0.5 0.5h1m0.5 0h1m-0.5-0.5h1m2.5 0.5h1m-48 1h1m-1-0.5h1m1.5 0.5h1m4-0.5h1m-0.5 0h1m2 1h1m3-0.5h1m-0.5-0.5h1m-1 0.5h1m1-0.5h1m-1 0h1m1 0.5h1m2 0.5h1m-27 1h1m6.5-0.5h1m0-0.5h1m3 0.5h1m-0.5 0h1m0 0.5h1m5.5-0.5h1m0-0.5h1m0 0.5h1m5.5-0.5h1m5.5 0.5h1m0.5 0h1m-1 0h1m-37.5 1.5h1m2.5-0.5h1m0-0.5h1m3 0.5h1m-1 0.5h1m8-0.5h1m6.5-0.5h1m0 0h1m3.5 0.5h1m0 0h1m1-0.5h1m1 0.5h1m0.5 0h1m-38.5 0.5h1m1.5 0.5h1m6-0.5h1m-0.5 0h1m-1 0.5h1m0.5 0h1m-0.5 0h1m4.5 0h1m2.5 0h1m0 0h1m1 0h1m8 0.5h1m0.5-1h1m1 0.5h1m0.5 0.5h1m-37 0.5h1m5.5 0.5h1m6 0h1m-1-0.5h1m0.5 0h1m2 0.5h1m-0.5-1h1m-0.5 0.5h1m0 0h1m4-0.5h1m-0.5 0h1m-27.5 1.5h1m5.5-0.5h1m1.5 0h1m0 0.5h1m-1 0.5h1m2-0.5h1m6.5 0.5h1m2-0.5h1m-1 0h1m5 0h1m1.5-0.5h1m0 0.5h1m1.5 0.5h1m-32 0h1m0 1h1m-1-0.5h1m-1 0h1m1.5-0.5h1m9 0.5h1m2 0.5h1m3.5-1h1m-0.5 0.5h1m-1 0h1m-0.5-0.5h1m2.5 0h1m2.5 0.5h1m2-0.5h1m1 0.5h1m-36.5 0.5h1m0 0.5h1m1.5 0h1m-0.5-0.5h1m0 0.5h1m14.5-0.5h1m2.5 0.5h1m6-0.5h1m-36.5 1.5h1m-1-0.5h1m6.5 0.5h1m2.5 0h1m0.5 0h1m-1 0.5h1m9.5-0.5h1m5.5 0h1m0-0.5h1m4 0h1m1 0.5h1m-36 0.5h1m6 0.5h1m-0.5 0h1m2 0h1m2.5-0.5h1m0 0.5h1m-0.5 0.5h1m3.5-1h1m4.5 0.5h1m3 0h1m0.5-0.5h1m1 1h1m0 0h1m-0.5-1h1m-1 0.5h1m1 0h1m1.5 0.5h1m-40 0.5h1m-0.5 0h1m2-0.5h1m0.5 1h1m6-0.5h1m-1-0.5h1m5 0h1m2.5 0h1m3 0h1m0.5 0h1m0.5 0.5h1m-0.5 0h1m-0.5 0h1m0 0h1m0-0.5h1m3.5 1h1m2-0.5h1m-36.5 0.5h1m2 0.5h1m2 0.5h1m2-0.5h1m0.5-0.5h1m2.5 1h1m10.5-1h1m2.5 1h1m1 0h1m-0.5-0.5h1m-1 0h1m0.5 0.5h1m-0.5-0.5h1m-37 1h1m2-0.5h1m4 0.5h1m-0.5-0.5h1m-0.5 0.5h1m2.5 0h1m1-0.5h1m5 1h1m4.5-0.5h1m0 0h1m-0.5-0.5h1m0.5 0h1m0 1h1m6.5-0.5h1m-41 1h1m1 0h1m7 0h1m2 0h1m6 0h1m9 0.5h1m-1-0.5h1m2.5 0.5h1m2.5-0.5h1m-0.5 0h1m-0.5 0.5h1m-39 1h1m1 0h1m-0.5-0.5h1m14 0.5h1m1-1h1m7.5 0.5h1m-0.5-0.5h1m1 0.5h1m-0.5 0h1m1.5 0.5h1m-1-0.5h1m-28 1.5h1m2-0.5h1m0 0.5h1m0.5-1h1m-1 0.5h1m2 0h1m0 0h1m2.5 0h1m9 0.5h1m-0.5 0h1m6.5 0h1m-1-1h1m-31.5 2h1m-1 0h1m10-1h1m4.5 0h1m2 1h1m-0.5 0h1m4-0.5h1m-1-0.5h1m5.5 0.5h1m-38.5 1h1m5 0h1m3-0.5h1m-1 0.5h1m-1 0.5h1m0 0h1m8.5 0h1m0 0h1m3.5-0.5h1m2.5-0.5h1m3.5 0.5h1m-0.5-0.5h1m1 1h1m0.5-1h1m-33.5 2h1m1 0h1m1.5-0.5h1m7-0.5h1m5.5 0h1m0.5 0h1m2 0.5h1m0 0h1m-0.5 0.5h1m1.5-1h1m2.5 0.5h1m-34 1h1m1 0.5h1m-0.5-1h1m-0.5 0.5h1m0.5 0.5h1m4-0.5h1m0-0.5h1m-0.5 0.5h1m0.5-0.5h1m-0.5 1h1m1.5 0h1m10.5-0.5h1m0 0.5h1m1-1h1m1 1h1m-0.5-1h1m-0.5 1h1m1-0.5h1m0.5-0.5h1m-0.5 0h1m-36.5 1h1m0.5 1h1m6-0.5h1m0.5 0.5h1m-0.5-0.5h1m5.5-0.5h1m0 0.5h1m2 0h1m0.5 0h1m4.5 0h1m2-0.5h1m2.5 0.5h1m1 0h1m-41.5 1h1m7-0.5h1m1 0.5h1m-0.5-0.5h1m1 0.5h1m0.5 0h1m1.5 0h1m3 0h1m-0.5-0.5h1m-1 0.5h1m-0.5-0.5h1m-0.5 0.5h1m0.5 0.5h1m2-1h1m5.5 0h1m1 0h1m-0.5 0.5h1m-0.5 0h1m2 0h1m-37.5 1h1m-1 0.5h1m1-0.5h1m1.5 0.5h1m-0.5-0.5h1m1 0h1m1 0.5h1m4-0.5h1m-0.5 0.5h1m-0.5-0.5h1m-0.5-0.5h1m0.5 1h1m0.5-0.5h1m6.5 0h1m2.5-0.5h1m0 0.5h1m0-0.5h1m3 1h1m-1 0h1m-31.5 1h1m-0.5-0.5h1m3 0h1m13.5-0.5h1m2.5 0.5h1m4 0h1m0 0h1m-0.5 0h1m2 0.5h1m-37 0h1m2 0.5h1m1 0h1m0 0h1m0-0.5h1m0.5 0h1m0 1h1m-1-0.5h1m0-0.5h1m-0.5 1h1m1-0.5h1m0.5 0.5h1m3.5-0.5h1m6 0h1m-0.5 0h1m0.5 0h1m-0.5 0.5h1m4.5-0.5h1m-32 0.5h1m0 0h1m-0.5 1h1m4-0.5h1m0 0h1m1.5 0h1m0.5 0h1m1 0h1m3-0.5h1m1 0.5h1m4-0.5h1m-0.5 1h1m-0.5-1h1m0 1h1m2-0.5h1m1 0h1m1.5 0h1m-31.5 1h1m0 0h1m6 0.5h1m-1-0.5h1m5.5 0.5h1m1-0.5h1m2-0.5h1m0.5 0.5h1m0.5-0.5h1m1 0.5h1m0 0h1m0 0h1m-1-0.5h1m1.5 0.5h1m-34 1h1m-1 0h1m1 0.5h1m0.5-0.5h1m1 0h1m0 0.5h1m3.5-0.5h1m2.5 0h1m3 0h1m-0.5 0h1m0.5 0.5h1m2-1h1m-1 1h1m5-0.5h1m0-0.5h1m-30.5 2h1m0.5-0.5h1m0 0h1m0.5 0h1m-1-0.5h1m0.5 0h1m-0.5 1h1m5-0.5h1m0 0h1m0.5 0h1m2 0h1m2.5 0.5h1m1.5-0.5h1m3-0.5h1m-29 1h1m1 0.5h1m-1-0.5h1m-0.5 0.5h1m-0.5 0h1m-1 0h1m0-0.5h1m0.5 0.5h1m1.5 0h1m-1 0h1m2 0h1m-0.5 0h1m5.5 0.5h1m-17.5 0.5h1m8.5 0h1m0.5 0h1m5-0.5h1m-1 1h1m0 0h1m-17 1h1m0-0.5h1m-1 0h1m0 0.5h1m1-1h1m-1 0.5h1m-1 0h1m0 0h1m-0.5 0.5h1m1.5-1h1m-1 0.5h1m0-0.5h1m-1 0.5h1m-0.5 0h1m2.5-0.5h1m0.5 0.5h1m-20.5 1.5h1m2-0.5h1m-0.5 0h1m4.5-0.5h1m-0.5 1h1m-1-0.5h1m1.5 0h1m1.5 0h1m-0.5 0h1m0.5 0.5h1m-16.5 1h1m4-0.5h1m2-0.5h1m0 0h1m3.5 0h1m-0.5 1h1m-10 0h1m1 0.5h1m0.5 0.5h1m1 0h1m-0.5-1h1m0 1.5h1" stroke="#3f4c9e" stroke-width="1" fill="none"/>
<g filter="url(#bl2)"><path d="M213.1 267.2L213.5 265.5L214.3 264.1L215.3 262.9L216.4 262.0L217.8 261.4L219.5 260.9L221.2 260.7L222.9 260.7L224.6 261.0L226.3 261.6L228.0 262.3L229.3 263.3L230.3 264.6L231.0 266.2L231.6 268.0L231.9 269.8L231.9 271.7L231.5 273.7L231.2 275.8L231.1 277.5L231.3 279.1L231.6 280.6L232.2 281.7L233.2 282.1L234.8 281.7L236.9 280.6L239.1 279.2L240.9 278.0L242.1 277.0L242.9 276.0L243.7 275.1L244.8 274.4L246.2 274.0L247.8 273.9L249.5 274.0L251.2 274.1L252.8 274.6L254.5 275.4L256.1 276.1L257.7 276.5L259.2 276.4L260.6 275.9L262.1 275.5L263.6 275.4L265.2 275.8L266.8 276.3L268.4 277.1L269.8 278.0L270.7 279.2L271.4 280.7L272.1 282.1L273.1 283.2L274.5 283.7L276.1 284.0L277.8 284.0L279.6 283.9L281.4 283.6L283.3 283.1L285.2 282.5L287.3 282.1L289.5 282.0L291.9 282.1L294.2 282.3L296.3 282.6L298.2 283.2L299.9 283.9L301.3 284.7L302.2 285.7L302.6 287.1L302.6 288.7L302.2 290.4L301.5 291.7L300.1 292.5L298.3 293.2L296.4 293.7L295.0 294.2L294.2 294.8L293.7 295.4L293.5 296.0L293.7 296.8L294.4 298.0L295.6 299.3L296.9 300.8L298.1 302.0L299.0 303.0L299.8 303.8L300.6 304.6L301.5 305.3L302.4 306.0L303.3 306.7L304.3 307.3L305.3 307.9L306.6 308.4L308.1 308.8L309.5 309.2L310.5 309.7L311.0 310.3L311.1 311.1L311.0 311.8L310.5 312.5L309.5 313.2L308.1 313.9L306.5 314.5L305.3 315.1L304.3 315.7L303.4 316.4L302.8 316.9L302.7 317.4L303.4 317.8L304.7 318.0L306.1 318.3L307.4 318.7L308.5 319.4L309.6 320.2L310.5 321.0L311.0 321.8L311.1 322.7L310.9 323.6L310.3 324.4L309.4 324.9L308.0 325.1L306.2 325.0L304.2 324.7L302.7 324.4L301.8 323.8L301.2 323.0L300.7 322.5L300.2 322.6L299.5 323.7L298.9 325.6L298.4 327.7L298.1 329.5L298.2 331.1L298.7 332.5L299.2 333.9L299.7 335.5L299.9 337.3L300.2 339.3L300.4 341.4L300.7 343.2L301.2 344.9L301.8 346.4L302.2 347.8L302.2 349.1L301.7 350.3L300.8 351.3L299.6 352.3L298.1 353.0L296.3 353.4L294.1 353.7L291.9 353.9L289.9 354.3L288.2 355.0L286.6 356.0L285.2 357.0L283.7 357.9L282.1 358.7L280.6 359.5L279.0 360.1L277.5 360.5L275.9 360.4L274.2 359.9L272.6 359.4L271.3 358.9L270.3 358.4L269.4 357.7L268.8 357.3L268.2 357.4L267.9 358.2L267.9 359.6L267.8 361.2L267.2 362.5L266.1 363.6L264.6 364.7L262.9 365.5L261.0 365.9L258.8 365.8L256.3 365.3L253.8 364.5L251.7 363.6L250.0 362.4L248.5 361.1L247.3 359.6L246.6 357.9L246.3 355.9L246.5 353.7L246.9 351.5L247.6 349.6L248.6 348.3L249.8 347.2L251.2 346.3L252.5 345.5L253.9 344.9L255.5 344.5L256.7 344.2L256.9 344.0L255.8 343.9L253.7 343.9L251.1 343.9L248.6 344.0L246.2 344.0L243.6 344.1L241.0 344.2L238.3 344.0L235.6 343.6L232.9 343.0L230.1 342.3L227.5 341.4L224.9 340.3L222.3 338.9L219.9 337.5L217.7 336.0L215.8 334.5L214.1 332.9L212.6 331.3L211.3 329.5L210.2 327.8L209.2 325.9L208.5 324.0L207.9 321.8L207.5 319.4L207.2 316.7L207.1 314.0L207.1 311.5L207.4 309.3L207.9 307.4L208.6 305.5L209.5 303.8L210.6 302.2L211.9 300.8L213.3 299.4L214.6 298.1L216.0 296.8L217.4 295.5L218.7 294.3L219.8 293.0L220.6 291.5L221.2 290.1L221.6 288.6L221.6 287.3L221.0 286.2L220.0 285.3L218.8 284.3L217.7 283.2L216.7 281.8L215.7 280.4L214.8 278.8L214.1 277.0L213.6 274.7L213.2 272.0L213.0 269.4Z" fill="#fef5f6" clip-path="url(#cl3)"/><path d="M213.1 268.5L213.3 266.7L213.9 265.1L214.7 263.7L215.7 262.6L216.9 261.7L218.4 261.1L220.0 260.7L221.6 260.5L223.1 260.5L224.7 260.8L226.2 261.3L227.5 262.0L228.6 263.0L229.6 264.3L230.5 265.7L231.1 267.2L231.6 268.7L231.9 270.3L232.0 272.0L231.9 273.6L231.5 275.3L230.9 276.9L230.2 278.6L229.3 280.1L228.4 281.6L227.3 283.2L226.1 284.5L224.9 285.2L223.7 285.3L222.4 284.9L221.0 284.1L219.8 283.2L218.5 282.0L217.3 280.5L216.1 278.8L215.1 277.0L214.3 275.0L213.7 272.7L213.2 270.5Z" fill="#f5aab0" clip-path="url(#cl3)"/><path d="M220.8 287.3L222.4 286.4L224.6 285.7L227.0 285.3L229.3 285.2L231.5 285.5L233.8 286.1L236.1 286.9L238.3 287.8L240.6 288.9L243.0 290.1L245.2 291.5L247.3 293.0L249.3 294.4L251.2 295.9L252.9 297.6L254.3 299.4L255.5 301.4L256.4 303.7L257.1 306.0L257.7 308.4L258.1 310.9L258.4 313.4L258.5 316.0L258.4 318.7L258.2 321.6L257.8 324.7L257.2 327.7L256.4 330.3L255.4 332.6L254.2 334.6L252.8 336.4L251.2 338.0L249.3 339.7L247.1 341.2L244.7 342.4L242.2 343.2L239.4 343.5L236.5 343.4L233.5 343.0L230.6 342.4L227.9 341.6L225.2 340.6L222.7 339.4L220.3 338.0L218.1 336.5L216.0 334.8L214.2 333.0L212.6 331.1L211.2 329.1L210.1 327.0L209.2 324.8L208.4 322.6L207.9 320.3L207.5 317.8L207.4 315.4L207.4 313.1L207.6 310.8L208.1 308.6L208.7 306.5L209.5 304.6L210.4 302.9L211.6 301.4L212.9 300.0L214.1 298.6L215.4 297.2L216.7 295.8L218.0 294.4L219.0 293.0L219.5 291.5L219.7 289.9L220.0 288.5Z" fill="#f5aab0" clip-path="url(#cl3)"/><path d="M230.6 282.6L232.0 281.5L234.5 280.5L237.6 279.5L240.9 278.8L244.4 278.1L248.3 277.6L252.4 277.3L256.4 277.5L260.3 278.2L264.4 279.3L268.3 280.8L271.8 282.6L275.2 285.0L278.4 288.0L280.9 290.8L282.1 293.0L281.6 294.1L279.9 294.7L277.3 295.1L274.4 295.5L271.0 296.4L266.8 297.3L262.6 298.0L258.9 298.1L256.1 297.4L253.6 296.0L251.3 294.4L248.6 293.0L245.4 291.7L241.9 290.4L238.5 289.1L235.7 287.8L233.6 286.5L231.7 285.1L230.6 283.8Z" fill="#fad9db" clip-path="url(#cl3)"/><path d="M240.4 276.2L241.4 275.3L242.8 274.5L244.5 273.9L246.1 273.6L247.7 273.7L249.4 274.1L251.0 274.7L252.5 275.4L253.9 276.4L255.2 277.5L256.2 278.8L256.9 280.1L257.1 281.4L257.0 282.8L256.6 284.1L255.8 285.2L254.7 286.1L253.2 286.7L251.6 287.1L249.9 287.3L248.3 287.1L246.5 286.7L244.9 286.0L243.5 285.2L242.4 284.2L241.5 283.1L240.9 281.8L240.4 280.6L240.0 279.4L239.8 278.3L239.9 277.2Z" fill="#f5aab0" clip-path="url(#cl3)"/><path d="M258.9 277.5L260.0 276.7L261.5 276.0L263.1 275.6L264.6 275.4L266.0 275.7L267.4 276.3L268.7 277.1L269.8 278.0L270.5 279.1L271.1 280.5L271.3 281.9L271.3 283.2L270.9 284.4L270.1 285.5L269.1 286.6L268.0 287.3L266.6 287.7L265.0 287.8L263.4 287.7L262.0 287.3L261.0 286.5L260.1 285.3L259.4 284.0L258.9 282.6L258.6 281.3L258.4 279.9L258.5 278.6Z" fill="#f5aab0" clip-path="url(#cl3)"/><path d="M247.3 349.6L248.0 348.3L248.9 347.3L250.0 346.4L251.2 345.8L252.7 345.3L254.4 345.0L256.1 344.9L257.7 345.0L259.1 345.2L260.4 345.7L261.6 346.3L262.8 347.1L263.9 348.1L265.0 349.4L265.9 350.8L266.7 352.2L267.3 353.8L267.7 355.4L268.0 357.1L268.0 358.7L267.7 360.1L267.2 361.5L266.4 362.8L265.4 363.8L264.1 364.6L262.5 365.2L260.7 365.6L258.9 365.6L257.0 365.4L254.9 364.8L252.9 364.0L251.2 363.0L249.8 361.9L248.5 360.5L247.5 359.0L246.8 357.4L246.5 355.5L246.6 353.4L246.9 351.4Z" fill="#f5aab0" clip-path="url(#cl3)"/><path d="M282.1 285.2L283.2 284.3L284.8 283.6L286.7 283.0L288.6 282.6L290.5 282.4L292.5 282.3L294.5 282.4L296.3 282.6L298.1 283.0L299.8 283.6L301.3 284.3L302.2 285.2L302.6 286.5L302.5 288.1L302.1 289.6L301.5 290.9L300.5 291.8L299.3 292.5L297.9 293.1L296.3 293.5L294.5 293.7L292.4 293.8L290.4 293.7L288.6 293.5L287.0 293.1L285.6 292.5L284.4 291.8L283.4 290.9L282.6 289.6L282.0 288.1L281.8 286.5Z" fill="#fad4d8" clip-path="url(#cl3)"/><path d="M257.7 295.5L259.2 293.5L261.6 292.1L264.3 290.9L266.7 289.9L268.7 288.8L270.6 287.9L272.5 287.3L274.4 287.3L276.3 288.2L278.3 289.7L280.2 291.5L282.1 293.0L284.1 294.0L286.0 294.9L287.9 295.8L289.9 296.8L291.9 298.0L294.0 299.2L296.0 300.5L297.6 302.0L298.7 303.6L299.4 305.4L299.9 307.4L300.2 309.7L300.1 312.4L299.6 315.3L299.1 318.4L298.9 321.3L299.0 324.0L299.4 326.5L299.8 329.1L300.2 331.6L300.3 334.3L300.5 337.0L300.6 339.6L300.7 341.9L301.0 343.8L301.3 345.5L301.5 347.0L301.5 348.4L301.0 349.7L300.3 350.9L299.4 351.9L298.1 352.7L296.3 353.1L294.2 353.2L291.9 353.2L289.9 353.5L288.1 354.3L286.5 355.4L285.0 356.5L283.4 357.4L281.8 358.1L280.2 358.8L278.6 359.3L277.0 359.4L275.3 359.3L273.7 358.9L272.1 358.2L270.5 357.4L269.1 356.3L267.7 355.1L266.5 353.7L265.4 352.2L264.6 350.7L264.0 349.1L263.5 347.4L262.8 345.8L261.9 344.2L260.8 342.7L259.8 341.1L258.9 339.3L258.2 337.3L257.6 335.1L257.1 332.8L256.9 330.3L257.0 327.6L257.5 324.6L258.1 321.6L258.4 318.7L258.6 316.1L258.6 313.7L258.5 311.1L258.4 308.4L258.1 305.2L257.5 301.7L257.2 298.3Z" fill="#fad9db" clip-path="url(#cl3)"/><path d="M265.4 290.4L268.3 289.0L272.6 289.1L277.5 290.2L282.1 291.7L286.7 293.4L291.5 295.7L295.8 298.6L298.9 302.0L300.3 306.4L300.6 311.6L300.4 316.8L300.2 321.3L299.9 324.7L299.4 327.3L299.0 329.9L298.9 332.9L299.5 336.7L300.5 341.0L301.4 345.1L301.5 348.4L300.6 350.6L299.0 352.3L297.1 353.3L295.0 353.5L292.5 352.9L289.6 351.6L286.8 349.6L284.7 347.1L283.6 343.7L283.3 339.6L283.0 335.3L282.1 331.6L280.6 328.7L278.6 326.1L276.5 323.8L274.4 321.3L272.3 319.0L270.1 316.8L268.1 314.3L266.7 311.0L265.5 306.1L264.5 300.0L264.3 294.2Z" fill="#d4cfe4" clip-path="url(#cl3)"/><path d="M285.7 322.6L285.6 323.6L285.4 324.6L285.0 325.5L284.5 326.4L283.8 327.1L283.0 327.8L282.0 328.3L281.1 328.7L280.1 328.9L279.0 329.0L278.0 328.9L277.0 328.7L276.0 328.3L275.1 327.8L274.3 327.1L273.6 326.4L273.1 325.5L272.7 324.6L272.4 323.6L272.3 322.6L272.4 321.6L272.7 320.6L273.1 319.6L273.6 318.8L274.3 318.1L275.1 317.4L276.0 316.8L277.0 316.5L278.0 316.2L279.0 316.2L280.1 316.2L281.1 316.5L282.0 316.8L283.0 317.4L283.8 318.1L284.5 318.8L285.0 319.6L285.4 320.6L285.6 321.6Z" fill="#f7bbc0" clip-path="url(#cl3)"/><path d="M282.1 350.2L282.0 351.3L281.7 352.4L281.3 353.5L280.7 354.4L279.9 355.2L278.9 356.0L277.9 356.6L276.8 357.0L275.6 357.3L274.4 357.3L273.2 357.3L272.0 357.0L270.9 356.6L269.9 356.0L268.9 355.2L268.1 354.4L267.5 353.5L267.1 352.4L266.8 351.3L266.7 350.2L266.8 349.1L267.1 347.9L267.5 346.9L268.1 345.9L268.9 345.1L269.9 344.3L270.9 343.7L272.0 343.3L273.2 343.1L274.4 343.0L275.6 343.1L276.8 343.3L277.9 343.7L278.9 344.3L279.9 345.1L280.7 345.9L281.3 346.9L281.7 347.9L282.0 349.1Z" fill="#f7bbc0" clip-path="url(#cl3)"/><path d="M296.8 334.7L296.7 335.5L296.5 336.3L296.1 337.1L295.6 337.7L294.9 338.3L294.1 338.9L293.3 339.3L292.4 339.6L291.4 339.8L290.4 339.8L289.3 339.8L288.4 339.6L287.5 339.3L286.6 338.9L285.8 338.3L285.2 337.7L284.7 337.1L284.3 336.3L284.0 335.5L283.9 334.7L284.0 333.9L284.3 333.1L284.7 332.3L285.2 331.7L285.8 331.1L286.6 330.5L287.5 330.1L288.4 329.8L289.3 329.6L290.4 329.6L291.4 329.6L292.4 329.8L293.3 330.1L294.1 330.5L294.9 331.1L295.6 331.7L296.1 332.3L296.5 333.1L296.7 333.9Z" fill="#cad0e9" clip-path="url(#cl3)"/><path d="M300.7 347.1L300.6 347.8L300.4 348.5L300.0 349.2L299.5 349.8L298.9 350.3L298.1 350.8L297.3 351.2L296.4 351.5L295.5 351.6L294.5 351.7L293.5 351.6L292.6 351.5L291.7 351.2L290.9 350.8L290.1 350.3L289.5 349.8L289.0 349.2L288.6 348.5L288.4 347.8L288.3 347.1L288.4 346.4L288.6 345.6L289.0 344.9L289.5 344.3L290.1 343.8L290.9 343.3L291.7 342.9L292.6 342.7L293.5 342.5L294.5 342.4L295.5 342.5L296.4 342.7L297.3 342.9L298.1 343.3L298.9 343.8L299.5 344.3L300.0 344.9L300.4 345.6L300.6 346.4Z" fill="#cad0e9" clip-path="url(#cl3)"/><path d="M296.3 305.8L296.2 306.4L296.0 307.0L295.7 307.6L295.3 308.1L294.8 308.6L294.2 309.0L293.5 309.3L292.7 309.5L292.0 309.6L291.1 309.7L290.3 309.6L289.6 309.5L288.8 309.3L288.1 309.0L287.5 308.6L287.0 308.1L286.6 307.6L286.3 307.0L286.1 306.4L286.0 305.8L286.1 305.3L286.3 304.6L286.6 304.1L287.0 303.6L287.5 303.1L288.1 302.7L288.8 302.4L289.6 302.2L290.3 302.0L291.1 302.0L292.0 302.0L292.7 302.2L293.5 302.4L294.2 302.7L294.8 303.1L295.3 303.6L295.7 304.1L296.0 304.6L296.2 305.3Z" fill="#cad0e9" clip-path="url(#cl3)"/><path d="M310.5 310.2L310.4 310.6L310.2 310.9L310.0 311.3L309.6 311.6L309.2 311.9L308.7 312.1L308.1 312.3L307.4 312.4L306.8 312.5L306.1 312.5L305.4 312.5L304.7 312.4L304.1 312.3L303.5 312.1L303.0 311.9L302.5 311.6L302.2 311.3L301.9 310.9L301.8 310.6L301.7 310.2L301.8 309.9L301.9 309.5L302.2 309.2L302.5 308.9L303.0 308.6L303.5 308.4L304.1 308.2L304.7 308.0L305.4 307.9L306.1 307.9L306.8 307.9L307.4 308.0L308.1 308.2L308.7 308.4L309.2 308.6L309.6 308.9L310.0 309.2L310.2 309.5L310.4 309.9Z" fill="#d3d8ec" clip-path="url(#cl3)"/><path d="M310.0 321.3L309.9 321.7L309.7 322.2L309.5 322.6L309.1 323.0L308.7 323.3L308.1 323.6L307.5 323.8L306.9 324.0L306.3 324.1L305.6 324.1L304.9 324.1L304.2 324.0L303.6 323.8L303.0 323.6L302.5 323.3L302.0 323.0L301.7 322.6L301.4 322.2L301.3 321.7L301.2 321.3L301.3 320.9L301.4 320.4L301.7 320.0L302.0 319.6L302.5 319.3L303.0 319.0L303.6 318.8L304.2 318.6L304.9 318.5L305.6 318.5L306.3 318.5L306.9 318.6L307.5 318.8L308.1 319.0L308.7 319.3L309.1 319.6L309.5 320.0L309.7 320.4L309.9 320.9Z" fill="#fad4d8" clip-path="url(#cl3)"/></g>
<path d="M223 262h1m0 0h1m0 0.5h1m-10 0.5h1m-0.5 0h1m1.5 0h1m-0.5-0.5h1m3.5 0.5h1m-0.5-0.5h1m-1 0h1m-8.5 2h1m7 0h1m-0.5-1h1m-7.5 1.5h1m0.5 0h1m-0.5 0h1m-0.5 0h1m1 0h1m5-0.5h1m-13 1.5h1m4 0h1m2-0.5h1m0.5 0.5h1m2 0h1m-0.5 0h1m-16 0.5h1m0.5 0h1m-0.5 0h1m0.5 0.5h1m1 0h1m-0.5-0.5h1m-7 1h1m1 0.5h1m-0.5 0.5h1m8.5-1h1m-1 0h1m3 0.5h1m-19 0.5h1m0.5 0.5h1m0.5 0h1m2.5 0h1m1 0h1m0 0.5h1m-1-1h1m1 0.5h1m0.5 0h1m1.5 0h1m-12.5 1h1m0.5 0.5h1m0-0.5h1m6 0.5h1m-0.5-1h1m1 0.5h1m0-0.5h1m-16.5 1.5h1m-0.5 0h1m-0.5 0.5h1m1 0h1m-0.5-0.5h1m-0.5 0h1m8 0h1m1.5-0.5h1m-12.5 1.5h1m2.5 0h1m-0.5 0h1m-0.5 0.5h1m-0.5-1h1m-1 0h1m2 0.5h1m0 0.5h1m2.5 0h1m-18.5 0.5h1m0.5 0h1m1-0.5h1m6 0h1m2.5 1h1m-0.5 0h1m-0.5 0h1m1-0.5h1m-13.5 0.5h1m0 0h1m4.5 1h1m-1-0.5h1m1.5 0.5h1m-0.5-1h1m20 1h1m-33 0.5h1m-1-0.5h1m1.5 0.5h1m-0.5-0.5h1m-0.5 1h1m8-0.5h1m19.5 0h1m2.5 0h1m-40 1h1m5 0h1m0.5-0.5h1m-1 0h1m0 0h1m-1 0.5h1m0.5 0h1m21 0h1m5.5 0h1m0.5-0.5h1m-0.5 0.5h1m0 0h1m-40.5 1.5h1m4.5-0.5h1m2.5 0.5h1m-0.5 0h1m1.5-0.5h1m0 0.5h1m12.5 0h1m-0.5-0.5h1m0.5 0h1m1.5-0.5h1m1 0h1m4.5 1h1m5.5-0.5h1m0.5 0.5h1m-1-1h1m0 0h1m-46.5 1.5h1m2 0h1m1 0h1m-0.5 0.5h1m-0.5 0h1m0.5 0h1m-0.5-0.5h1m0 0h1m18-0.5h1m2.5 0.5h1m-0.5 0h1m2 0h1m-1-0.5h1m2 0.5h1m-1 0.5h1m0.5-1h1m2 1h1m4-0.5h1m-1 0h1m1.5-0.5h1m-50.5 1.5h1m2-0.5h1m2.5 0h1m0 0.5h1m1.5-0.5h1m11 0h1m-0.5 0h1m-1 0.5h1m0.5 0h1m2-0.5h1m1 1h1m3 0h1m0-0.5h1m0 0h1m0 0h1m-0.5 0h1m7.5-0.5h1m-0.5 1h1m0 0h1m0-1h1m0 0h1m-49.5 1.5h1m5.5 0.5h1m0.5-0.5h1m0 0.5h1m-0.5 0h1m13.5-0.5h1m-1 0h1m0 0.5h1m-0.5-0.5h1m0 0h1m3 0.5h1m1-1h1m0 0h1m-1 0.5h1m7.5-0.5h1m0 1h1m0.5-1h1m-1 1h1m-0.5 0h1m-48 0h1m-0.5 0h1m1 1h1m0-0.5h1m1.5 0.5h1m-1 0h1m3.5-0.5h1m8.5 0h1m3 0h1m-1-0.5h1m3 0.5h1m1 0h1m3.5-0.5h1m1.5 0.5h1m0.5 0h1m0-0.5h1m-0.5 0.5h1m3.5-0.5h1m-1 0.5h1m1 0.5h1m-0.5-0.5h1m0 0h1m-1 0h1m1.5 0h1m1-0.5h1m-50.5 1h1m3 0h1m3.5 1h1m5.5-0.5h1m3.5 0.5h1m1.5-0.5h1m-1-0.5h1m1 0.5h1m-0.5 0h1m2.5 0.5h1m5 0h1m-0.5 0h1m2.5-0.5h1m1 0.5h1m1-0.5h1m3.5 0.5h1m-0.5 0h1m27 0h1m-76 1h1m0.5-0.5h1m8 0.5h1m-1-1h1m0.5 0.5h1m-0.5-0.5h1m0 0h1m5.5 1h1m0-1h1m1 0h1m-0.5 0.5h1m-0.5 0h1m4.5 0h1m0.5 0h1m0 0.5h1m-0.5-0.5h1m-0.5 0h1m-0.5 0h1m4.5-0.5h1m1 1h1m-1-1h1m1 0h1m-1 0.5h1m-0.5-0.5h1m-0.5 0.5h1m2-0.5h1m2.5 1h1m-0.5 0h1m1 0h1m21.5-0.5h1m-75 1.5h1m1.5 0h1m-0.5-0.5h1m4 0h1m-1 0h1m-0.5 0h1m0.5 0h1m12.5 0h1m0 0h1m-0.5 0h1m1.5 0h1m1 0h1m0 0h1m7 0.5h1m1-0.5h1m1.5 0h1m-1 0h1m-0.5 0.5h1m0-1h1m1 0.5h1m0 0.5h1m2.5-0.5h1m-0.5-0.5h1m22.5 0.5h1m-61 1.5h1m6.5-0.5h1m2.5 0h1m3 0h1m3 0.5h1m-0.5-0.5h1m-0.5 0h1m4 0.5h1m-1 0h1m0.5-0.5h1m1.5 0h1m1 0h1m0.5 0h1m-1 0.5h1m-0.5 0h1m-0.5-0.5h1m2.5 0h1m5 0h1m4 0h1m5 0h1m2-0.5h1m1.5 0.5h1m-1-0.5h1m-74.5 1h1m1.5 0.5h1m1 0h1m3.5 0h1m-1 0h1m2.5-0.5h1m1.5 1h1m11.5 0h1m0-1h1m0 0.5h1m-0.5 0h1m2.5 0h1m3.5 0.5h1m3-1h1m0 0h1m8 0.5h1m12 0.5h1m-0.5 0h1m6.5 0h1m0-0.5h1m0.5 0h1m1.5 0h1m-72.5 1h1m0 0h1m11.5-0.5h1m2.5 0h1m4.5 0h1m-0.5 1h1m-0.5 0h1m8 0h1m1.5-0.5h1m-0.5 0h1m7.5 0h1m3 0h1m5.5 0.5h1m0 0h1m5.5-1h1m2.5 0h1m5 0.5h1m-77 1h1m5.5 0.5h1m1.5-1h1m2 1h1m2 0h1m10 0h1m0.5 0h1m3-0.5h1m1 0h1m1 0h1m5 0.5h1m0.5 0h1m0.5-0.5h1m1.5 0h1m9 0h1m6.5 0h1m2 0.5h1m-0.5-0.5h1m3.5 0.5h1m1-1h1m-1 1h1m-78.5 0.5h1m1.5 0h1m0 0h1m-1 0.5h1m3.5 0h1m0-0.5h1m-0.5 0.5h1m-0.5-0.5h1m-0.5 0.5h1m-0.5 0h1m0-0.5h1m0 0h1m-0.5 0h1m-1 0h1m-0.5-0.5h1m1.5 0h1m0 0.5h1m1.5 0h1m1 0h1m1-0.5h1m0.5 0.5h1m1.5-0.5h1m6.5 1h1m2.5 0h1m2.5-0.5h1m-1 0h1m0 0h1m4.5 0.5h1m1.5-0.5h1m5 0h1m1.5 0h1m3 0h1m9.5 0.5h1m-74 0h1m1.5 0.5h1m0.5 0h1m1 0h1m-0.5 0h1m0-0.5h1m0 1h1m1.5-0.5h1m-0.5-0.5h1m2.5 1h1m-0.5-1h1m-1 0.5h1m0.5 0h1m0-0.5h1m-0.5 0.5h1m0.5 0.5h1m-1-0.5h1m0.5 0h1m1.5 0h1m1-0.5h1m-0.5 0.5h1m1.5 0h1m1 0.5h1m-0.5-1h1m0.5 0.5h1m6 0h1m0-0.5h1m5.5 0h1m-0.5 1h1m-1-1h1m0 1h1m0.5-1h1m0 1h1m-1-1h1m0 1h1m-0.5-1h1m2 0.5h1m0.5-0.5h1m6 0.5h1m-0.5 0.5h1m-0.5-1h1m5 0.5h1m1.5-0.5h1m-0.5 0.5h1m-74.5 1h1m1.5 0h1m-1 0.5h1m1-0.5h1m-0.5-0.5h1m1 0.5h1m0.5 0.5h1m2.5-0.5h1m1.5 0h1m4 0h1m-1 0.5h1m4 0h1m8.5 0h1m3.5 0h1m0-0.5h1m2 0h1m4.5 0h1m1.5-0.5h1m-0.5 1h1m8-0.5h1m-1 0h1m2 0h1m0 0h1m7.5-0.5h1m1 0.5h1m-79 1h1m5.5-0.5h1m-0.5 1h1m0.5 0h1m2-0.5h1m2 0.5h1m-0.5-0.5h1m4.5 0.5h1m12-0.5h1m1 0h1m3.5 0h1m2 0.5h1m1.5-1h1m-0.5 0h1m-1 0.5h1m1.5-0.5h1m-0.5 0.5h1m3 0.5h1m5-1h1m1 0.5h1m3 0h1m0 0h1m4 0.5h1m4.5-0.5h1m-77.5 1h1m-0.5 0.5h1m-0.5-0.5h1m-0.5 0h1m0 0.5h1m0-1h1m1.5 0h1m0.5 1h1m-0.5-0.5h1m-1-0.5h1m1 0h1m-0.5 0.5h1m0 0h1m3-0.5h1m-1 1h1m0-0.5h1m1-0.5h1m2 0.5h1m2 0h1m0 0h1m-1 0h1m1-0.5h1m5.5 1h1m-0.5 0h1m4.5-0.5h1m0-0.5h1m0 0.5h1m3-0.5h1m1 1h1m1 0h1m4.5-1h1m2.5 0h1m0.5 0h1m8.5 0h1m0.5 0.5h1m0.5 0h1m0.5-0.5h1m-74.5 1h1m3.5 0.5h1m10.5 0.5h1m-0.5-1h1m3 0.5h1m1 0h1m1 0h1m-1-0.5h1m-1 1h1m0.5 0h1m-1-0.5h1m3 0.5h1m-1-1h1m4.5 1h1m1 0h1m5.5-1h1m-0.5 0h1m1 0.5h1m1.5 0h1m3.5-0.5h1m0 0h1m6.5 0.5h1m8-0.5h1m-75 2h1m-1-1h1m3 0.5h1m7 0h1m1 0h1m0.5 0h1m5.5 0h1m1-0.5h1m-0.5 1h1m5-0.5h1m2-0.5h1m2.5 0h1m1.5 0.5h1m1 0h1m0 0.5h1m0-1h1m2 0.5h1m0 0h1m0 0h1m-0.5 0h1m-0.5 0h1m1.5 0h1m4.5 0h1m-0.5 0h1m4.5-0.5h1m4.5 1h1m1.5-0.5h1m-73 1h1m6.5-0.5h1m0.5 0.5h1m5 0h1m4-0.5h1m-0.5 1h1m1-0.5h1m3-0.5h1m-0.5 0.5h1m-1-0.5h1m17.5 1h1m-1-0.5h1m2.5 0h1m0 0h1m3 0h1m1 0h1m1-0.5h1m-0.5 0.5h1m-0.5 0.5h1m3-0.5h1m5 0h1m-0.5 0h1m0.5-0.5h1m-73.5 2h1m0.5-1h1m-1 1h1m2.5-1h1m0.5 0h1m0.5 1h1m0 0h1m0-0.5h1m-0.5 0h1m-0.5 0.5h1m0-0.5h1m-0.5 0.5h1m5 0h1m2.5 0h1m-1-1h1m-0.5 1h1m6.5-0.5h1m-0.5-0.5h1m1.5 0h1m2 0.5h1m3-0.5h1m0 0.5h1m1 0h1m5-0.5h1m7 0.5h1m1.5 0h1m0-0.5h1m-1 0.5h1m5 0h1m-1 0.5h1m-0.5-0.5h1m2 0h1m0.5 0h1m0 0h1m-71 1h1m-1 0.5h1m1-1h1m5 0h1m4.5 1h1m-0.5-0.5h1m1-0.5h1m0 1h1m1-0.5h1m2.5 0.5h1m1-0.5h1m-0.5 0h1m3.5 0.5h1m2-0.5h1m8-0.5h1m3 0h1m2 0.5h1m0.5 0h1m3 0h1m1 0h1m0 0h1m0.5 0h1m-1 0h1m-1 0.5h1m2.5-1h1m4 1h1m-0.5-0.5h1m2.5 0h1m3 0h1m-78.5 1h1m1 0h1m4-0.5h1m6.5 0h1m1 0.5h1m0 0.5h1m0-1h1m-0.5 1h1m-0.5 0h1m-0.5-0.5h1m2.5 0h1m0-0.5h1m0.5 0h1m1 0.5h1m-0.5 0h1m0.5 0h1m3.5 0h1m6.5 0h1m1.5 0.5h1m2.5-1h1m3.5 0h1m5.5 0.5h1m4.5 0h1m2.5-0.5h1m0 0h1m-0.5 0.5h1m3-0.5h1m-75.5 1.5h1m2 0h1m0-0.5h1m0.5 0h1m5.5 0h1m0 1h1m0-0.5h1m1 0h1m-1-0.5h1m0 0.5h1m-0.5 0.5h1m-0.5-1h1m-0.5 0h1m2.5 0h1m15.5 1h1m5-1h1m1.5 1h1m0-0.5h1m1-0.5h1m0 1h1m3-0.5h1m0.5 0.5h1m-0.5-0.5h1m3 0h1m4 0h1m3-0.5h1m-72.5 1h1m3.5 0.5h1m0 0h1m2 0h1m12.5 0.5h1m1-0.5h1m3 0.5h1m1-0.5h1m0.5 0h1m-1 0h1m0-0.5h1m-1 0.5h1m2-0.5h1m-1 0.5h1m-1 0h1m1 0h1m10 0h1m9.5 0h1m3.5-0.5h1m1 1h1m3.5-0.5h1m4 0h1m-77 1.5h1m0-0.5h1m-0.5-0.5h1m0 1h1m0 0h1m4-0.5h1m0 0.5h1m1-1h1m-0.5 0.5h1m-0.5 0h1m1 0h1m1.5-0.5h1m5.5 1h1m5.5 0h1m1.5-0.5h1m-1 0.5h1m1.5-0.5h1m0 0h1m7.5 0.5h1m14-0.5h1m5-0.5h1m3 0h1m1.5 0h1m0 0.5h1m3 0h1m4.5 0h1m0.5 0.5h1m-83.5 0.5h1m1 0.5h1m0-0.5h1m-0.5 0h1m0.5 0.5h1m0-0.5h1m5.5 0h1m1.5-0.5h1m0 0.5h1m0.5 0.5h1m11-0.5h1m0 0h1m-1 0h1m6.5 0h1m1.5 0h1m4.5 0.5h1m16.5 0h1m2.5-0.5h1m6.5 0h1m2.5 0h1m1 0h1m-1 0.5h1m-0.5 0h1m-84.5 1h1m2.5-0.5h1m2-0.5h1m1 0.5h1m1.5-0.5h1m4.5 0.5h1m2.5 0h1m8 0.5h1m2.5-1h1m0 0.5h1m-0.5 0h1m0.5 0h1m-0.5-0.5h1m0 0.5h1m0 0h1m-0.5 0h1m1-0.5h1m1 0.5h1m8.5-0.5h1m1 0.5h1m2 0h1m1 0h1m2 0h1m1 0h1m-0.5 0h1m1 0h1m6.5 0.5h1m7.5 0h1m1.5-0.5h1m-85 1h1m1.5 0h1m0-0.5h1m1 1h1m0.5 0h1m2-0.5h1m6-0.5h1m1.5 0.5h1m-0.5 0h1m6.5 0h1m4.5-0.5h1m2.5 0h1m11.5 0h1m0.5 0h1m0.5 0.5h1m6-0.5h1m2.5 0h1m1 0h1m8 0.5h1m5 0h1m3 0h1m2 0h1m-91.5 1h1m0.5 0h1m-0.5 0.5h1m10 0h1m2-1h1m3 0.5h1m0-0.5h1m6 0.5h1m6 0.5h1m0.5-0.5h1m-1-0.5h1m4 0.5h1m0-0.5h1m-0.5 0.5h1m2 0h1m2 0h1m1.5-0.5h1m12.5 0.5h1m-1 0h1m6 0h1m19.5 0h1m-91.5 1.5h1m-1-1h1m0 1h1m0.5-0.5h1m2 0.5h1m0.5-0.5h1m-0.5 0h1m3 0h1m8 0h1m-0.5 0.5h1m7.5-0.5h1m0 0h1m0.5-0.5h1m0 0h1m5 0.5h1m0 0.5h1m0.5-1h1m2.5 0h1m2.5 0h1m0 0.5h1m1 0h1m10 0h1m-1 0h1m0.5 0.5h1m2.5-1h1m2.5 1h1m1 0h1m3.5 0h1m3.5-0.5h1m3-0.5h1m1.5 0.5h1m-89.5 1.5h1m-0.5 0h1m7.5-0.5h1m2 0.5h1m2-1h1m2.5 0.5h1m1 0.5h1m5 0h1m-0.5-1h1m0 0.5h1m4.5 0h1m0-0.5h1m-0.5 1h1m3.5-0.5h1m0.5 0h1m0 0.5h1m0 0h1m1 0h1m3 0h1m20.5 0h1m-0.5 0h1m1.5-1h1m1.5 0h1m2 1h1m1.5-0.5h1m-84.5 1h1m-0.5 0h1m1 0h1m0 0h1m-1 0h1m-0.5 0h1m8 0h1m5 0.5h1m1-0.5h1m-0.5 0.5h1m3.5-0.5h1m3-0.5h1m-0.5 0h1m10 1h1m11 0h1m1.5 0h1m4.5-1h1m1 0.5h1m1 0h1m0.5-0.5h1m1.5 1h1m8.5-0.5h1m0.5 0h1m2.5 0h1m4.5 0.5h1m1.5-0.5h1m-92 1h1m0-0.5h1m0.5 0h1m4 1h1m3-0.5h1m0 0h1m0 0.5h1m1-0.5h1m-0.5 0.5h1m-0.5-1h1m1 1h1m0 0h1m1.5-0.5h1m0.5 0.5h1m2.5-0.5h1m-0.5 0.5h1m-0.5-0.5h1m2-0.5h1m-0.5 1h1m3.5-0.5h1m6.5 0h1m2 0.5h1m0.5-0.5h1m3 0.5h1m2-0.5h1m0.5 0.5h1m10-0.5h1m-0.5 0h1m0.5 0h1m1 0h1m3.5-0.5h1m8 1h1m-85.5 0.5h1m-1 0h1m4 0.5h1m2-0.5h1m0 0.5h1m5-0.5h1m-0.5 0.5h1m-1-0.5h1m4 0h1m2 0.5h1m0-0.5h1m2-0.5h1m0.5 0.5h1m0.5-0.5h1m2 0.5h1m3 0.5h1m1.5-0.5h1m3.5 0h1m1 0h1m0 0.5h1m8 0h1m2 0h1m0.5-0.5h1m1 0h1m2 0.5h1m2-1h1m0 0.5h1m6.5 0.5h1m0-0.5h1m6-0.5h1m4.5 1h1m-0.5-1h1m2 0.5h1m5.5 0.5h1m-102.5 0.5h1m3.5 0.5h1m5-1h1m-0.5 0.5h1m4.5 0h1m3.5-0.5h1m0.5 0.5h1m1.5-0.5h1m-1 0.5h1m-0.5-0.5h1m2.5 0.5h1m0.5 0h1m1 0h1m3.5 0h1m0 0.5h1m3.5-0.5h1m3 0.5h1m1.5 0h1m0-0.5h1m4.5 0h1m1.5 0h1m-1 0.5h1m0-0.5h1m0.5 0.5h1m2-1h1m2 1h1m-0.5-1h1m3 1h1m3-0.5h1m3-0.5h1m-0.5 0h1m1.5 0h1m0.5 1h1m4-1h1m-0.5 0.5h1m-92 0.5h1m2 1h1m-0.5-0.5h1m5-0.5h1m-0.5 0h1m2 1h1m1.5-0.5h1m-0.5 0.5h1m-0.5-1h1m-0.5 1h1m0.5-0.5h1m-0.5 0.5h1m3.5-1h1m-1 0.5h1m-1 0.5h1m0.5-1h1m1 0.5h1m0-0.5h1m0.5 0.5h1m0 0.5h1m-0.5 0h1m3 0h1m4.5-1h1m0 0.5h1m3-0.5h1m-0.5 0.5h1m0.5-0.5h1m5.5 1h1m5-0.5h1m-0.5 0h1m0 0h1m0 0h1m0.5 0h1m4 0h1m5 0.5h1m2 0h1m13-1h1m5 0.5h1m-97 1.5h1m4-0.5h1m4 0.5h1m-1-0.5h1m0-0.5h1m-1 0.5h1m0.5 0.5h1m1.5 0h1m1.5-0.5h1m2 0h1m-1 0h1m0-0.5h1m3.5 1h1m0.5-0.5h1m0.5 0h1m5.5-0.5h1m1.5 0.5h1m2 0h1m1 0h1m3 0h1m4.5 0.5h1m2-1h1m4 1h1m0.5-0.5h1m2.5 0h1m0 0h1m-0.5 0h1m-0.5 0h1m-0.5-0.5h1m-0.5 1h1m3-1h1m12 0h1m-87.5 1.5h1m0 0h1m1.5-0.5h1m-1 0.5h1m-0.5 0h1m1.5-0.5h1m-0.5 0.5h1m4 0h1m1.5 0h1m3 0h1m1.5-0.5h1m1 0.5h1m1 0h1m5.5-0.5h1m-1 0.5h1m-0.5 0.5h1m3.5-1h1m2.5 0.5h1m7 0h1m9-0.5h1m2 0h1m1.5 1h1m3.5-0.5h1m1 0h1m0 0.5h1m5-1h1m6 0h1m-0.5 0.5h1m-0.5 0h1m-82.5 1h1m-1-0.5h1m0 1h1m-1-0.5h1m0 0.5h1m4.5 0h1m0.5-0.5h1m-0.5-0.5h1m0.5 0.5h1m2 0h1m0.5-0.5h1m-0.5 0.5h1m-1-0.5h1m0.5 0h1m0.5 1h1m0.5-1h1m-1 1h1m2.5 0h1m-0.5 0h1m-0.5-1h1m0 0h1m3 0.5h1m4.5 0h1m5 0h1m-0.5 0h1m1.5-0.5h1m0 1h1m-0.5 0h1m-0.5-0.5h1m-1-0.5h1m13 0h1m-1 0.5h1m-0.5-0.5h1m4.5 0.5h1m5-0.5h1m2 0.5h1m4 0.5h1m7.5-0.5h1m-93.5 0.5h1m2 0.5h1m3.5 0h1m0 0h1m7.5-0.5h1m1 0.5h1m3 0.5h1m1-1h1m0.5 0h1m1 1h1m-0.5-1h1m2 1h1m1-0.5h1m1.5 0h1m4 0.5h1m0-1h1m-1 1h1m12-0.5h1m0 0.5h1m12.5-1h1m3 0.5h1m1 0.5h1m0.5-1h1m4.5 0h1m1.5 1h1m1.5-1h1m1.5 0h1m-89 1.5h1m0.5-0.5h1m0 0.5h1m2.5 0.5h1m3.5-1h1m2 0.5h1m-0.5 0h1m3.5-0.5h1m2 0.5h1m-1 0.5h1m0.5-1h1m2 0h1m-0.5 0.5h1m1 0.5h1m-0.5-1h1m1.5 1h1m1.5-1h1m0 0.5h1m0-0.5h1m0.5 0.5h1m1.5-0.5h1m1.5 0h1m1 1h1m4.5-0.5h1m0.5 0.5h1m8 0h1m2.5 0h1m0.5-0.5h1m1.5-0.5h1m0 1h1m0-1h1m2 0.5h1m-1 0.5h1m1.5-0.5h1m6.5 0h1m-0.5 0.5h1m-0.5 0h1m-1-0.5h1m3.5 0h1m-87 0.5h1m6 1h1m6-0.5h1m3 0h1m-1 0h1m5.5 0h1m-0.5 0h1m3.5 0h1m0.5-0.5h1m-0.5 0h1m6 1h1m1 0h1m0-0.5h1m0.5 0h1m0.5 0h1m-1 0h1m1.5 0.5h1m0-1h1m5.5 0.5h1m4.5 0h1m5-0.5h1m3 0.5h1m-1 0.5h1m9.5-0.5h1m0.5 0h1m-83.5 1h1m0.5 0.5h1m-0.5 0h1m3-0.5h1m7.5 0h1m0-0.5h1m-1 1h1m-0.5-0.5h1m3.5 0h1m0.5 0h1m3 0h1m2.5 0h1m3.5 0h1m-0.5 0h1m0-0.5h1m2.5 0h1m7.5 0.5h1m1.5 0h1m2.5-0.5h1m3 0.5h1m1 0h1m0 0h1m-1 0.5h1m0-0.5h1m-0.5 0h1m6.5 0h1m3 0h1m5 0.5h1m-1 0h1m-0.5-1h1m8.5 1h1m4.5-0.5h1m0 0h1m-100 0.5h1m-0.5 1h1m0.5-1h1m-1 0.5h1m4.5 0h1m1 0.5h1m3.5 0h1m6-1h1m3 0.5h1m3.5 0.5h1m0-0.5h1m-1 0.5h1m2-0.5h1m0-0.5h1m-1 0.5h1m4.5-0.5h1m6.5 0.5h1m4 0.5h1m5 0h1m4-1h1m0.5 0.5h1m0 0.5h1m0-0.5h1m1.5 0.5h1m-0.5 0h1m-1 0h1m0-0.5h1m-1 0.5h1m0-0.5h1m-1-0.5h1m2 0.5h1m6.5-0.5h1m-1 1h1m1.5-0.5h1m2 0h1m10 0.5h1m-96.5 0h1m0 0.5h1m4.5 0.5h1m0.5-1h1m-0.5 0h1m0 0.5h1m2.5 0h1m1 0.5h1m7-0.5h1m5 0h1m1 0h1m-0.5 0h1m0-0.5h1m0.5 0h1m1 0h1m0 0h1m0.5 1h1m-0.5-0.5h1m-1 0.5h1m0 0h1m1-1h1m-0.5 0.5h1m1 0.5h1m1-0.5h1m4.5-0.5h1m2.5 0.5h1m3.5 0h1m2-0.5h1m4 0.5h1m-1 0h1m1 0.5h1m3-0.5h1m1 0h1m13.5 0.5h1m3-1h1m-98.5 2h1m0-0.5h1m0.5 0.5h1m6-1h1m0.5 0.5h1m0.5 0h1m-0.5 0h1m1.5 0h1m3 0h1m1.5 0h1m1 0h1m-0.5 0h1m0.5 0.5h1m-1 0h1m0-0.5h1m-0.5-0.5h1m-0.5 0h1m-0.5 0h1m0.5 0.5h1m2.5-0.5h1m0 0.5h1m2.5-0.5h1m15 0.5h1m1 0h1m6.5-0.5h1m2.5 0h1m-1 1h1m0-0.5h1m0.5-0.5h1m-0.5 0h1m0 0h1m6 0.5h1m1-0.5h1m4.5 0.5h1m-0.5 0.5h1m-0.5 0h1m-1 0h1m0.5-0.5h1m0 0h1m4.5 0h1m-96 1h1m1 0.5h1m0.5-0.5h1m0 0h1m0 0.5h1m9-0.5h1m2 0h1m2.5-0.5h1m-0.5 0.5h1m3 0.5h1m-1-0.5h1m5-0.5h1m2.5 0.5h1m10-0.5h1m17 0.5h1m3 0.5h1m-0.5-1h1m4 0.5h1m-1 0h1m-0.5 0h1m0.5 0h1m-1 0h1m6.5 0h1m-83.5 0.5h1m1.5 0h1m5.5 1h1m9-0.5h1m3 0h1m5.5 0.5h1m2-1h1m0.5 0h1m0.5 0h1m0.5 0.5h1m1.5 0.5h1m13.5 0h1m4-0.5h1m1.5 0h1m2 0h1m1 0h1m-0.5-0.5h1m-0.5 0.5h1m2.5 0h1m0.5 0h1m-1 0h1m2 0h1m0.5 0h1m3.5 0h1m4 0.5h1m-87.5 0h1m0.5 1h1m6-1h1m-1 0h1m1.5 0.5h1m0 0.5h1m-1 0h1m0-1h1m-0.5 0h1m-0.5 0.5h1m3 0h1m0 0h1m-0.5-0.5h1m-1 0.5h1m-1 0h1m14 0h1m0.5 0h1m1.5-0.5h1m-1 1h1m1-0.5h1m1 0.5h1m8.5 0h1m6-1h1m4 0.5h1m0-0.5h1m0 0.5h1m-1 0h1m2-0.5h1m-0.5 0.5h1m0.5 0.5h1m1-0.5h1m-0.5 0h1m1.5 0h1m1 0.5h1m2.5-0.5h1m-1 0h1m-83.5 1h1m0 0h1m2 0h1m0 0.5h1m0-0.5h1m-1 0h1m2.5-0.5h1m4.5 1h1m4 0h1m5.5-0.5h1m1.5 0h1m0.5 0h1m1 0.5h1m0.5-1h1m3 0.5h1m3.5 0.5h1m-0.5-0.5h1m14-0.5h1m6.5 0h1m-0.5 0.5h1m-0.5 0h1m1.5 0.5h1m1.5-0.5h1m2 0.5h1m3-1h1m8.5 0.5h1m-85 1h1m0.5 0h1m1.5 0h1m1.5 0.5h1m4.5-1h1m-0.5 1h1m-0.5-0.5h1m0.5 0h1m-0.5-0.5h1m2 0.5h1m0 0h1m0-0.5h1m0.5 0h1m4.5 0.5h1m7.5 0.5h1m0-0.5h1m6.5-0.5h1m0.5 0h1m0 0.5h1m1.5 0.5h1m-0.5-1h1m2.5 0.5h1m2.5-0.5h1m-0.5 0.5h1m0 0.5h1m1 0h1m1-1h1m0.5 0h1m11.5 0h1m0.5 0h1m2.5 0.5h1m0.5-0.5h1m-82.5 2h1m0.5-0.5h1m17.5 0h1m7.5 0h1m-0.5 0h1m2.5 0.5h1m-1-1h1m1.5 0.5h1m3 0h1m1.5 0h1m3 0.5h1m0.5 0h1m12.5-0.5h1m1-0.5h1m2 1h1m1 0h1m0-1h1m-71 1.5h1m4 0h1m2 0h1m7 0h1m0-0.5h1m1.5 1h1m3-0.5h1m-0.5 0h1m0-0.5h1m-0.5 0.5h1m0.5 0h1m0 0h1m2.5 0h1m0.5-0.5h1m0 0.5h1m2.5 0.5h1m-0.5-0.5h1m0 0h1m-1 0.5h1m6-0.5h1m1.5 0h1m14 0h1m1 0h1m4 0h1m1.5 0h1m-0.5-0.5h1m0 0h1m0.5 0.5h1m-72.5 1h1m-0.5-0.5h1m3.5 0.5h1m0.5-0.5h1m2.5 0.5h1m-0.5 0.5h1m-1-0.5h1m0 0h1m-0.5-0.5h1m-1 1h1m5-0.5h1m3.5-0.5h1m-0.5 0.5h1m-1-0.5h1m1 0.5h1m-0.5 0h1m1 0.5h1m-1 0h1m5.5-0.5h1m4.5 0h1m5-0.5h1m12.5 1h1m5.5-0.5h1m4.5 0.5h1m-0.5 0h1m1-0.5h1m1 0h1m-76 1h1m-0.5-0.5h1m3.5 0h1m3.5 0h1m1.5 0h1m0.5 0.5h1m3.5 0.5h1m4 0h1m3 0h1m2.5-0.5h1m2.5 0h1m-0.5 0.5h1m2.5-1h1m2.5 0.5h1m5.5 0h1m0.5 0.5h1m4.5-0.5h1m1-0.5h1m1.5 0.5h1m8 0h1m0 0h1m3.5 0h1m1.5 0h1m0-0.5h1m1 1h1m-84 0.5h1m1 0.5h1m8-0.5h1m-1 0h1m2 0.5h1m-0.5-0.5h1m0.5 0.5h1m-1 0h1m-0.5-0.5h1m-0.5 0.5h1m3.5-1h1m0 1h1m-1-0.5h1m2.5 0h1m-0.5 0.5h1m0 0h1m2-0.5h1m1.5-0.5h1m-1 0.5h1m0.5 0.5h1m-1 0h1m0-0.5h1m4 0.5h1m3-0.5h1m1.5-0.5h1m0 0h1m17 0.5h1m0.5-0.5h1m0 0.5h1m8 0.5h1m-76.5 0.5h1m5.5 0h1m0.5-0.5h1m2.5 0.5h1m4 0.5h1m2.5-0.5h1m1.5 0h1m0 0.5h1m4-0.5h1m4 0h1m6.5-0.5h1m4 0h1m-1 1h1m5 0h1m1-0.5h1m1 0h1m0.5 0h1m6-0.5h1m1.5 1h1m-0.5-0.5h1m1 0h1m-70.5 0.5h1m6 0.5h1m0.5 0h1m-0.5-0.5h1m4.5 0.5h1m0.5 0h1m0.5 0h1m3 0h1m8-0.5h1m-1 1h1m-0.5-0.5h1m6-0.5h1m7 0.5h1m2.5 0.5h1m-0.5-1h1m-0.5 0.5h1m6 0.5h1m6-1h1m-62 1.5h1m0.5 0.5h1m2.5-0.5h1m-1 0h1m0.5 0h1m1 0h1m2.5 0h1m2-0.5h1m-0.5 0.5h1m0 0h1m-0.5 0h1m-1 0h1m7.5-0.5h1m-0.5 0.5h1m0.5 0h1m12.5 0h1m3 0h1m-1 0.5h1m1-0.5h1m1-0.5h1m-0.5 0h1m2.5 0.5h1m5 0h1m-0.5 0h1m5 0.5h1m2-1h1m-69.5 2h1m-0.5-0.5h1m-1 0h1m1.5 0.5h1m3-0.5h1m-0.5-0.5h1m5.5 0.5h1m0 0h1m4 0h1m-0.5-0.5h1m0.5 1h1m4.5-0.5h1m1 0.5h1m17.5 0h1m16-0.5h1m1.5 0h1m1 0.5h1m-70.5 0h1m2.5 0.5h1m-1-0.5h1m-0.5 0.5h1m4.5 0.5h1m0-0.5h1m0.5 0.5h1m-1-0.5h1m0.5 0h1m0 0h1m-1 0h1m-1 0h1m1 0h1m2.5 0.5h1m1.5-0.5h1m2 0h1m0.5 0h1m6 0.5h1m2.5-0.5h1m12.5-0.5h1m8.5 0h1m0.5 0h1m4.5 0h1m2.5 0.5h1m4.5-0.5h1m-76 1h1m2 0.5h1m1-0.5h1m1 0.5h1m-1 0h1m3.5 0.5h1m4.5 0h1m2.5-0.5h1m0 0h1m4 0.5h1m1-1h1m7 0h1m6 0.5h1m3-0.5h1m5.5 0.5h1m7 0.5h1m-0.5-0.5h1m5.5 0h1m4-0.5h1m-66 1h1m-1 0.5h1m-0.5 0h1m-0.5 0.5h1m2 0h1m5.5-0.5h1m-0.5-0.5h1m1.5 0h1m9.5 0.5h1m5.5 0h1m2.5 0h1m3 0h1m0 0h1m0.5 0h1m3.5 0h1m0.5-0.5h1m7 1h1m-1-0.5h1m1-0.5h1m3 0.5h1m4 0h1m0 0.5h1m-69 0.5h1m0.5 0h1m0 0h1m3.5 0h1m0.5-0.5h1m3.5 1h1m1-1h1m4.5 0h1m6.5 0.5h1m2.5 0h1m1.5 0.5h1m10-1h1m7.5 0.5h1m12-0.5h1m-66.5 1.5h1m1.5 0.5h1m0.5-0.5h1m1.5 0.5h1m0.5-0.5h1m0.5 0h1m-0.5 0.5h1m5.5-1h1m9.5 0.5h1m4-0.5h1m1 0.5h1m8.5 0h1m-1 0.5h1m1-0.5h1m0 0h1m-0.5-0.5h1m0 1h1m1.5-0.5h1m1.5 0h1m8 0h1m-1-0.5h1m1.5 0h1m0 0h1m1 0h1m-59.5 1.5h1m15 0h1m8.5 0h1m2.5 0h1m0 0h1m0.5 0h1m12 0.5h1m7.5-0.5h1m-52 0.5h1m14.5 1h1m3-0.5h1m2.5-0.5h1m5 0.5h1m1.5-0.5h1m0 1h1m4 0h1m0.5-0.5h1m-1-0.5h1m5.5 0.5h1m10 0.5h1m-0.5 0h1m-43.5 1h1m0-0.5h1m5.5 0h1m1.5-0.5h1m0 0.5h1m1 0h1m0.5 0h1m1 0.5h1m-1-1h1m5.5 1h1m4.5 0h1m3.5-0.5h1m5 0h1m0 0h1m-45.5 1.5h1m12 0h1m2.5-0.5h1m-1 0h1m0.5 0h1m-0.5 0h1m-0.5-0.5h1m-0.5 0.5h1m6.5 0h1m0.5-0.5h1m8.5 0.5h1m0 0h1m6.5 0h1m-46.5 1.5h1m0.5-1h1m3 0h1m-0.5 0h1m5.5 0.5h1m2 0h1m8 0h1m1 0h1m1-0.5h1m5 0.5h1m4.5 0.5h1m2 0h1m-1-0.5h1m-47 1h1m0.5 0h1m-0.5 0.5h1m-0.5 0h1m-0.5-0.5h1m-0.5 0h1m-1-0.5h1m-1 0h1m-0.5 0h1m-0.5 0.5h1m2 0.5h1m4-0.5h1m-0.5-0.5h1m2.5 1h1m1.5-0.5h1m3.5-0.5h1m0.5 0.5h1m4 0h1m4-0.5h1m2 1h1m4-0.5h1m-34.5 1.5h1m-0.5-1h1m6.5 1h1m2-1h1m0 1h1m0-0.5h1m2 0.5h1m2-0.5h1m9 0h1m2 0h1m-39 1h1m-0.5 0h1m2-0.5h1m1.5 0.5h1m0.5 0h1m0.5 0h1m5 0h1m1 0h1m-0.5 0h1m1.5 0.5h1m1.5-0.5h1m1.5 0.5h1m9.5-0.5h1m0.5-0.5h1m1 0h1m-0.5 0h1m0.5 0h1m2.5 0.5h1m-49.5 1.5h1m1.5-0.5h1m0.5 0h1m-0.5 0h1m-1 0h1m-0.5 0h1m3.5 0h1m11.5 0h1m0 0h1m1 0.5h1m0-1h1m1 0h1m-0.5 0.5h1m-0.5-0.5h1m2 1h1m0-0.5h1m4 0h1m3-0.5h1m1 0.5h1m0.5 0h1m-48.5 1.5h1m4 0h1m3-0.5h1m2.5 0h1m0.5-0.5h1m-0.5 0.5h1m4.5 0h1m2 0.5h1m-0.5-0.5h1m1-0.5h1m3 1h1m0-0.5h1m-0.5 0h1m0.5 0h1m13 0h1m2.5 0h1m-49 0.5h1m2 1h1m6 0h1m-1-0.5h1m5-0.5h1m0.5 0.5h1m-0.5 0.5h1m1-0.5h1m0 0.5h1m0-0.5h1m-0.5-0.5h1m1 0.5h1m-0.5-0.5h1m-1 0.5h1m0.5 0h1m0.5 0.5h1m-1 0h1m-0.5-0.5h1m-1 0.5h1m2-1h1m0.5 0.5h1m8.5-0.5h1m-43.5 2h1m0 0h1m0-1h1m0 1h1m-1-0.5h1m-1 0.5h1m1.5-0.5h1m-0.5 0h1m-0.5-0.5h1m-0.5 0.5h1m3-0.5h1m1 1h1m0.5-0.5h1m-1 0h1m-0.5 0.5h1m1.5 0h1m5-1h1m-1 0h1m-0.5 0.5h1m-0.5-0.5h1m1.5 0.5h1m0 0h1m0 0h1m0.5 0h1m7-0.5h1m-41 1h1m-0.5 0.5h1m0 0h1m10 0h1m-0.5-0.5h1m-0.5 0.5h1m1 0h1m0.5 0h1m-0.5 0h1m-1 0h1m-0.5 0h1m1.5-0.5h1m0.5 1h1m0.5-0.5h1m1.5 0.5h1m1-0.5h1m-0.5 0h1m0.5 0h1m1-0.5h1m3.5 0h1m-38.5 1.5h1m0.5 0.5h1m1.5-0.5h1m0 0h1m3.5-0.5h1m5 0.5h1m-0.5-0.5h1m-0.5 0h1m-0.5 0h1m-0.5 1h1m1-1h1m8 0.5h1m1 0h1m2 0.5h1m0-0.5h1m-1 0h1m1.5 0.5h1m-35.5 1h1m-0.5-0.5h1m1 0h1m4.5 0h1m2 0h1m6-0.5h1m0.5 0.5h1m-1 0h1m-1-0.5h1m-0.5 0h1m1 0.5h1m1.5 0h1m3.5 0h1m0 0h1m4.5 0h1m-36.5 1h1m-0.5-0.5h1m2 0h1m-0.5 0.5h1m1.5 0h1m-0.5 0h1m1-0.5h1m1 0h1m3.5 0h1m-0.5 0.5h1m-0.5 0h1m7 0h1m3.5 0h1m-30.5 1h1m1.5 0h1m0.5 0h1m8 0h1m2.5 0h1m5.5 0h1m0.5 0h1m3 0h1m0-0.5h1m-30.5 1.5h1m-0.5 0.5h1m0-0.5h1m1.5 0.5h1m0.5 0h1m-0.5-1h1m-0.5 1h1m0.5-0.5h1m-0.5 0h1m1 0h1m-0.5-0.5h1m-0.5 0h1m0.5 0h1m2 1h1m0.5-1h1m-12 1h1m-0.5 0.5h1m-4 1h1m0.5 0.5h1m3 0h1m1 0h1m4.5 0h1m-12.5 1h1m5-1h1m-0.5 0.5h1m4-0.5h1m-1 0h1m-5 2h1m0 0.5h1" stroke="#d92330" stroke-width="1" fill="none"/>
<path d="M266 289.5h1m0 0.5h1m6.5 1h1m2.5 0.5h1m-11.5 0.5h1m-0.5-0.5h1m2.5 0h1m-1 0h1m-7 2h1m1.5-0.5h1m-0.5-0.5h1m3.5 1h1m6.5 0h1m1-1h1m4.5 1h1m-11 0.5h1m6-0.5h1m-12.5 1.5h1m3.5 0.5h1m1.5 0h1m3 0h1m-17.5 0.5h1m17.5 0h1m-16 0.5h1m19 1h1m-16.5 1h1m4 0h1m-0.5 0h1m11 0h1m-0.5 0.5h1m-27.5 1h1m2 0h1m7-0.5h1m-0.5 0.5h1m10.5 0h1m-23.5 1h1m-0.5 0h1m1.5 0h1m10 0.5h1m-0.5-0.5h1m-1-0.5h1m9 0h1m-24.5 1.5h1m3.5 0.5h1m-0.5 0h1m-0.5 0h1m-4.5 0.5h1m3 0.5h1m8.5-0.5h1m2.5 0.5h1m0.5-0.5h1m6 0h1m0 0h1m-30.5 1h1m5.5 0h1m5.5 0h1m-1 0h1m4.5 0.5h1m5 0h1m-11.5 1h1m8.5-0.5h1m2 0h1m0 0h1m0 0h1m-29 1h1m8 0h1m3 0h1m2 0h1m1 0h1m2 0h1m1.5 0h1m-26.5 0.5h1m2.5 0.5h1m1 0h1m4.5 0.5h1m14-1h1m0.5 0.5h1m0-0.5h1m0 0.5h1m-24.5 1h1m8.5-0.5h1m1 0.5h1m5 0h1m3 0.5h1m1-1h1m3.5 0h1m-29.5 1h1m16.5 1h1m-0.5-0.5h1m6-0.5h1m-16 1.5h1m1 0.5h1m-1-0.5h1m4 0h1m0 0h1m0 0.5h1m-0.5-0.5h1m7-0.5h1m3 0.5h1m2 0h1m0.5 0.5h1m-38.5 0h1m4.5 0.5h1m14 0.5h1m0.5-1h1m13.5 0h1m-26.5 2h1m2.5-0.5h1m22 0h1m-36.5 1.5h1m0.5-0.5h1m3 0h1m10 0.5h1m-1-0.5h1m3.5 0h1m4.5-0.5h1m-28.5 2h1m0-1h1m0.5 0.5h1m3.5 0h1m-0.5 0h1m6 0h1m3 0.5h1m-0.5 0h1m0-1h1m0 0.5h1m-5.5 1h1m-1-0.5h1m-2.5 1h1m6.5 0.5h1m-24 1h1m3 0h1m1 0h1m-0.5 0.5h1m-1-1h1m12 1h1m-18.5 0h1m5 0h1m-6 1.5h1m4.5-0.5h1m1 0h1m2.5 0.5h1m-13 1.5h1m9-1h1m-8.5 1h1m5 1h1m1.5-0.5h1m4.5 0h1m-15.5 1h1m7 0h1m-6.5 1.5h1m13.5-0.5h1m-3.5 1h1m-12.5 2h1m6-0.5h1m-0.5 0h1m3.5 0h1m4 1h1m-12 1h1m3 1h1m3.5-0.5h1m1 0h1m-7 0.5h1m-1 0.5h1m5.5 0h1m0.5 0h1m-14.5 1h1m3 0h1m-0.5-0.5h1m-0.5 1h1m2.5-1h1m-0.5 1h1m0 0h1m0-0.5h1m-13 0.5h1m11 0.5h1m-3.5 1h1m3-0.5h1m-11.5 1h1m0 0.5h1m1 0h1m1-0.5h1m0.5 0.5h1m4 0h1m-0.5 0.5h1m-0.5-0.5h1m-13 1h1m1-0.5h1m0.5 0.5h1m2 0h1m-9 1h1m-0.5-0.5h1m0.5 0.5h1m-0.5 0.5h1m6.5-0.5h1m-8.5 0.5h1m-1 0.5h1m0-0.5h1m0 0h1m0 0h1m0.5 0.5h1m-0.5 0h1m0.5-0.5h1m0 0.5h1m0 0.5h1m-13 0.5h1m0.5 0.5h1m2.5-0.5h1m0.5 0.5h1m8-1h1m0 0.5h1m-1 0.5h1m-15 1h1m2.5-0.5h1m1 0h1m-5 0.5h1m0.5 0h1m1.5 1h1m3.5-1h1m-8 1h1m10 0.5h1m-1 1h1m-12 0.5h1m4.5 0.5h1m-1 1h1m1 0h1m-2.5 0.5h1m-1 0.5h1m-3.5 1h1m5 0h1m-1 0h1m-10.5 1h1m-0.5 0.5h1m-0.5 0h1m3 0h1m-0.5-0.5h1m1.5 0.5h1m-11.5 0.5h1m1.5 0h1m-0.5 0h1m-0.5 0h1m-0.5 0h1m4 0h1m-7 1h1m6 0h1m1 0h1m1 0h1m-16 1h1m3.5 0.5h1m-1-1h1m4.5 0.5h1m0.5 0h1m-1 0h1m-0.5 0h1m-5.5 1h1m1 0h1m1 0.5h1m-0.5-0.5h1m2.5-0.5h1m-9 1.5h1m-0.5 0h1m1.5 0.5h1m-8 0h1m3 0h1m2.5 0h1m0.5 0.5h1m0.5 0.5h1m-5 1h1" stroke="#3f4c9e" stroke-width="1" fill="none"/>
<g filter="url(#bl4)"><path d="M43.9 267.0L44.3 265.3L45.1 263.9L46.1 262.7L47.2 261.8L48.6 261.2L50.3 260.7L52.0 260.5L53.7 260.5L55.4 260.8L57.1 261.4L58.8 262.1L60.1 263.1L61.1 264.4L61.8 266.0L62.4 267.8L62.7 269.6L62.7 271.5L62.3 273.5L62.0 275.6L61.9 277.3L62.1 278.9L62.4 280.4L63.0 281.5L64.0 281.9L65.6 281.5L67.7 280.4L69.9 279.0L71.7 277.8L72.9 276.8L73.7 275.8L74.5 274.9L75.6 274.2L77.0 273.8L78.6 273.7L80.3 273.8L82.0 273.9L83.6 274.4L85.3 275.2L86.9 275.9L88.5 276.3L90.0 276.2L91.4 275.7L92.9 275.3L94.4 275.2L96.0 275.6L97.6 276.1L99.2 276.9L100.6 277.8L101.5 279.0L102.2 280.5L102.9 281.9L103.9 283.0L105.3 283.5L106.9 283.8L108.6 283.8L110.4 283.7L112.2 283.4L114.1 282.9L116.0 282.3L118.1 281.9L120.3 281.8L122.7 281.9L125.0 282.1L127.1 282.4L129.0 283.0L130.7 283.7L132.1 284.5L133.0 285.5L133.4 286.9L133.4 288.5L133.0 290.2L132.3 291.5L130.9 292.3L129.1 293.0L127.2 293.5L125.8 294.0L125.0 294.6L124.5 295.2L124.3 295.8L124.5 296.6L125.2 297.8L126.4 299.1L127.7 300.6L128.9 301.8L129.8 302.8L130.6 303.6L131.4 304.4L132.3 305.1L133.2 305.8L134.1 306.5L135.1 307.1L136.1 307.7L137.4 308.2L138.9 308.6L140.3 309.0L141.3 309.5L141.8 310.1L141.9 310.9L141.8 311.6L141.3 312.3L140.3 313.0L138.9 313.7L137.3 314.3L136.1 314.9L135.1 315.5L134.2 316.2L133.6 316.7L133.5 317.2L134.2 317.6L135.5 317.8L136.9 318.1L138.2 318.5L139.3 319.2L140.4 320.0L141.3 320.8L141.8 321.6L141.9 322.5L141.7 323.4L141.1 324.2L140.2 324.7L138.8 324.9L137.0 324.8L135.0 324.5L133.5 324.2L132.6 323.6L132.0 322.8L131.5 322.3L131.0 322.4L130.3 323.5L129.7 325.4L129.2 327.5L128.9 329.3L129.0 330.9L129.5 332.3L130.0 333.7L130.5 335.3L130.7 337.1L131.0 339.1L131.2 341.2L131.5 343.0L132.0 344.7L132.6 346.2L133.0 347.6L133.0 348.9L132.5 350.1L131.6 351.1L130.4 352.1L128.9 352.8L127.1 353.2L124.9 353.5L122.7 353.7L120.7 354.1L119.0 354.8L117.4 355.8L116.0 356.8L114.5 357.7L112.9 358.5L111.4 359.3L109.8 359.9L108.3 360.3L106.7 360.2L105.0 359.7L103.4 359.2L102.1 358.7L101.1 358.2L100.2 357.5L99.6 357.1L99.0 357.2L98.7 358.0L98.7 359.4L98.6 361.0L98.0 362.3L96.9 363.4L95.4 364.5L93.7 365.3L91.8 365.7L89.6 365.6L87.1 365.1L84.6 364.3L82.5 363.4L80.8 362.2L79.3 360.9L78.1 359.4L77.4 357.7L77.1 355.7L77.3 353.5L77.7 351.3L78.4 349.4L79.4 348.1L80.6 347.0L82.0 346.1L83.3 345.3L84.7 344.7L86.3 344.3L87.5 344.0L87.7 343.8L86.6 343.7L84.5 343.7L81.9 343.7L79.4 343.8L77.0 343.8L74.4 343.9L71.8 344.0L69.1 343.8L66.4 343.4L63.7 342.8L60.9 342.1L58.3 341.2L55.7 340.1L53.1 338.7L50.7 337.3L48.5 335.8L46.6 334.3L44.9 332.7L43.4 331.1L42.1 329.3L41.0 327.6L40.0 325.7L39.3 323.8L38.7 321.6L38.3 319.2L38.0 316.5L37.9 313.8L37.9 311.3L38.2 309.1L38.7 307.2L39.4 305.3L40.3 303.6L41.4 302.0L42.7 300.6L44.1 299.2L45.4 297.9L46.8 296.6L48.2 295.3L49.5 294.1L50.6 292.8L51.4 291.3L52.0 289.9L52.4 288.4L52.4 287.1L51.8 286.0L50.8 285.1L49.6 284.1L48.5 283.0L47.5 281.6L46.5 280.2L45.6 278.6L44.9 276.8L44.4 274.5L44.0 271.8L43.8 269.2Z" fill="#f4f6fb" clip-path="url(#cl5)"/><path d="M43.9 268.3L44.1 266.5L44.7 264.9L45.5 263.5L46.5 262.4L47.7 261.5L49.2 260.9L50.8 260.5L52.4 260.3L53.9 260.3L55.5 260.6L57.0 261.1L58.3 261.8L59.4 262.8L60.4 264.1L61.3 265.5L61.9 267.0L62.4 268.5L62.7 270.1L62.8 271.8L62.7 273.4L62.3 275.1L61.7 276.7L61.0 278.4L60.1 279.9L59.2 281.4L58.1 283.0L56.9 284.3L55.7 285.0L54.5 285.1L53.2 284.7L51.8 283.9L50.6 283.0L49.3 281.8L48.1 280.3L46.9 278.6L45.9 276.8L45.1 274.8L44.5 272.5L44.0 270.3Z" fill="#b0b8de" clip-path="url(#cl5)"/><path d="M51.6 287.1L53.2 286.2L55.4 285.5L57.8 285.1L60.1 285.0L62.3 285.3L64.6 285.9L66.9 286.7L69.1 287.6L71.4 288.7L73.8 289.9L76.0 291.3L78.1 292.8L80.1 294.2L82.0 295.7L83.7 297.4L85.1 299.2L86.3 301.2L87.2 303.5L87.9 305.8L88.5 308.2L88.9 310.7L89.2 313.2L89.3 315.8L89.2 318.5L89.0 321.4L88.6 324.5L88.0 327.5L87.2 330.1L86.2 332.4L85.0 334.4L83.6 336.2L82.0 337.8L80.1 339.5L77.9 341.0L75.5 342.2L73.0 343.0L70.2 343.3L67.3 343.2L64.3 342.8L61.4 342.2L58.7 341.4L56.0 340.4L53.5 339.2L51.1 337.8L48.9 336.3L46.8 334.6L45.0 332.8L43.4 330.9L42.0 328.9L40.9 326.8L40.0 324.6L39.2 322.4L38.7 320.1L38.3 317.6L38.2 315.2L38.2 312.9L38.4 310.6L38.9 308.4L39.5 306.3L40.3 304.4L41.2 302.7L42.4 301.2L43.7 299.8L44.9 298.4L46.2 297.0L47.5 295.6L48.8 294.2L49.8 292.8L50.3 291.3L50.5 289.7L50.8 288.3Z" fill="#a7b0da" clip-path="url(#cl5)"/><path d="M40.3 304.4L41.3 302.5L42.5 300.6L43.8 299.2L44.9 298.4L46.0 298.5L47.1 299.2L48.0 300.3L48.5 301.8L48.5 303.6L48.2 305.8L47.7 308.3L47.2 310.8L46.8 313.3L46.3 316.0L46.0 318.7L45.9 321.1L46.2 323.2L46.8 325.1L47.6 327.0L48.5 328.8L49.8 330.9L51.4 333.1L52.9 335.1L53.7 336.6L53.7 337.5L53.2 338.1L52.3 338.3L51.1 337.8L49.4 336.7L47.3 335.0L45.2 332.9L43.4 330.9L42.0 328.9L40.9 326.8L40.0 324.6L39.2 322.4L38.7 320.1L38.3 317.6L38.2 315.2L38.2 312.9L38.4 310.6L38.9 308.4L39.5 306.3Z" fill="#eecdd6" clip-path="url(#cl5)"/><path d="M61.4 282.4L62.8 281.3L65.3 280.3L68.4 279.3L71.7 278.6L75.2 277.9L79.1 277.4L83.2 277.1L87.2 277.3L91.1 278.0L95.2 279.1L99.1 280.6L102.6 282.4L106.0 284.8L109.2 287.8L111.7 290.6L112.9 292.8L112.4 293.9L110.7 294.5L108.1 294.9L105.2 295.3L101.8 296.2L97.6 297.1L93.4 297.8L89.7 297.9L86.9 297.2L84.4 295.8L82.1 294.2L79.4 292.8L76.2 291.5L72.7 290.2L69.3 288.9L66.5 287.6L64.4 286.3L62.5 284.9L61.4 283.6Z" fill="#f3e6ec" clip-path="url(#cl5)"/><path d="M71.2 276.0L72.2 275.1L73.6 274.3L75.3 273.7L76.9 273.4L78.5 273.5L80.2 273.9L81.8 274.5L83.3 275.2L84.7 276.2L86.0 277.3L87.0 278.6L87.7 279.9L87.9 281.2L87.8 282.6L87.4 283.9L86.6 285.0L85.5 285.9L84.0 286.5L82.4 286.9L80.7 287.1L79.1 286.9L77.3 286.5L75.7 285.8L74.3 285.0L73.2 284.0L72.3 282.9L71.7 281.6L71.2 280.4L70.8 279.2L70.6 278.1L70.7 277.0Z" fill="#f7bbc0" clip-path="url(#cl5)"/><path d="M89.7 277.3L90.8 276.5L92.3 275.8L93.9 275.4L95.4 275.2L96.8 275.5L98.2 276.1L99.5 276.9L100.6 277.8L101.3 278.9L101.9 280.3L102.1 281.7L102.1 283.0L101.7 284.2L100.9 285.3L99.9 286.4L98.8 287.1L97.4 287.5L95.8 287.6L94.2 287.5L92.8 287.1L91.8 286.3L90.9 285.1L90.2 283.8L89.7 282.4L89.4 281.1L89.2 279.7L89.3 278.4Z" fill="#b9c0e1" clip-path="url(#cl5)"/><path d="M112.9 285.0L114.0 284.1L115.6 283.4L117.5 282.8L119.4 282.4L121.3 282.2L123.3 282.1L125.3 282.2L127.1 282.4L128.9 282.8L130.6 283.4L132.1 284.1L133.0 285.0L133.4 286.3L133.3 287.9L132.9 289.4L132.3 290.7L131.3 291.6L130.1 292.3L128.7 292.9L127.1 293.3L125.3 293.5L123.2 293.6L121.2 293.5L119.4 293.3L117.8 292.9L116.4 292.3L115.2 291.6L114.2 290.7L113.4 289.4L112.8 287.9L112.6 286.3Z" fill="#f7bbc0" clip-path="url(#cl5)"/><path d="M88.5 295.3L90.0 293.3L92.4 291.9L95.1 290.7L97.5 289.7L99.5 288.6L101.4 287.7L103.3 287.1L105.2 287.1L107.1 288.0L109.1 289.5L111.0 291.3L112.9 292.8L114.9 293.8L116.8 294.7L118.7 295.6L120.7 296.6L122.7 297.8L124.8 299.0L126.8 300.3L128.4 301.8L129.5 303.4L130.2 305.2L130.7 307.2L131.0 309.5L130.9 312.2L130.4 315.1L129.9 318.2L129.7 321.1L129.8 323.8L130.2 326.3L130.6 328.9L131.0 331.4L131.1 334.1L131.3 336.8L131.4 339.4L131.5 341.7L131.8 343.6L132.1 345.3L132.3 346.8L132.3 348.2L131.8 349.5L131.1 350.7L130.2 351.7L128.9 352.5L127.1 352.9L125.0 353.0L122.7 353.0L120.7 353.3L118.9 354.1L117.3 355.2L115.8 356.3L114.2 357.2L112.6 357.9L111.0 358.6L109.4 359.1L107.8 359.2L106.1 359.1L104.5 358.7L102.9 358.0L101.3 357.2L99.9 356.1L98.5 354.9L97.3 353.5L96.2 352.0L95.4 350.5L94.8 348.9L94.3 347.2L93.6 345.6L92.7 344.0L91.6 342.5L90.6 340.9L89.7 339.1L89.0 337.1L88.4 334.9L87.9 332.6L87.7 330.1L87.8 327.4L88.3 324.4L88.9 321.4L89.2 318.5L89.4 315.9L89.4 313.5L89.3 310.9L89.2 308.2L88.9 305.0L88.3 301.5L88.0 298.1Z" fill="#e8dfe9" clip-path="url(#cl5)"/><path d="M113.7 303.1L113.6 303.9L113.3 304.8L112.9 305.7L112.3 306.4L111.6 307.0L110.7 307.6L109.7 308.1L108.7 308.5L107.6 308.6L106.5 308.7L105.3 308.6L104.3 308.5L103.2 308.1L102.3 307.6L101.4 307.0L100.7 306.4L100.1 305.7L99.7 304.8L99.4 303.9L99.3 303.1L99.4 302.2L99.7 301.3L100.1 300.5L100.7 299.7L101.4 299.1L102.3 298.5L103.2 298.0L104.3 297.7L105.3 297.5L106.5 297.4L107.6 297.5L108.7 297.7L109.7 298.0L110.7 298.5L111.6 299.1L112.3 299.7L112.9 300.5L113.3 301.3L113.6 302.2Z" fill="#f7bbc0" clip-path="url(#cl5)"/><path d="M127.1 305.6L127.0 306.2L126.8 306.8L126.5 307.4L126.1 307.9L125.6 308.4L125.0 308.8L124.3 309.1L123.5 309.3L122.8 309.4L121.9 309.5L121.1 309.4L120.4 309.3L119.6 309.1L118.9 308.8L118.3 308.4L117.8 307.9L117.4 307.4L117.1 306.8L116.9 306.2L116.8 305.6L116.9 305.1L117.1 304.4L117.4 303.9L117.8 303.4L118.3 302.9L118.9 302.5L119.6 302.2L120.4 302.0L121.1 301.8L121.9 301.8L122.8 301.8L123.5 302.0L124.3 302.2L125.0 302.5L125.6 302.9L126.1 303.4L126.5 303.9L126.8 304.4L127.0 305.1Z" fill="#fad4d8" clip-path="url(#cl5)"/><path d="M116.5 322.4L116.4 323.4L116.2 324.4L115.8 325.3L115.3 326.2L114.6 326.9L113.8 327.6L112.8 328.1L111.9 328.5L110.9 328.7L109.8 328.8L108.8 328.7L107.8 328.5L106.8 328.1L105.9 327.6L105.1 326.9L104.4 326.2L103.9 325.3L103.5 324.4L103.2 323.4L103.1 322.4L103.2 321.4L103.5 320.4L103.9 319.4L104.4 318.6L105.1 317.9L105.9 317.2L106.8 316.6L107.8 316.3L108.8 316.0L109.8 316.0L110.9 316.0L111.9 316.3L112.8 316.6L113.8 317.2L114.6 317.9L115.3 318.6L115.8 319.4L116.2 320.4L116.4 321.4Z" fill="#b9c0e1" clip-path="url(#cl5)"/><path d="M102.6 330.1L102.5 331.0L102.3 331.9L102.0 332.7L101.5 333.4L101.0 334.1L100.3 334.7L99.5 335.2L98.7 335.5L97.9 335.7L97.0 335.8L96.0 335.7L95.2 335.5L94.4 335.2L93.6 334.7L92.9 334.1L92.4 333.4L91.9 332.7L91.6 331.9L91.4 331.0L91.3 330.1L91.4 329.3L91.6 328.4L91.9 327.5L92.4 326.8L92.9 326.1L93.6 325.5L94.4 325.1L95.2 324.7L96.0 324.5L97.0 324.5L97.9 324.5L98.7 324.7L99.5 325.1L100.3 325.5L101.0 326.1L101.5 326.8L102.0 327.5L102.3 328.4L102.5 329.3Z" fill="#cad0e9" clip-path="url(#cl5)"/><path d="M127.6 334.5L127.5 335.3L127.3 336.1L126.9 336.9L126.4 337.5L125.7 338.1L124.9 338.7L124.1 339.1L123.2 339.4L122.2 339.6L121.2 339.6L120.1 339.6L119.2 339.4L118.3 339.1L117.4 338.7L116.6 338.1L116.0 337.5L115.5 336.9L115.1 336.1L114.8 335.3L114.7 334.5L114.8 333.7L115.1 332.9L115.5 332.1L116.0 331.5L116.6 330.9L117.4 330.3L118.3 329.9L119.2 329.6L120.1 329.4L121.2 329.4L122.2 329.4L123.2 329.6L124.1 329.9L124.9 330.3L125.7 330.9L126.4 331.5L126.9 332.1L127.3 332.9L127.5 333.7Z" fill="#b9c0e1" clip-path="url(#cl5)"/><path d="M112.9 350.0L112.8 351.1L112.5 352.2L112.1 353.3L111.5 354.2L110.7 355.0L109.7 355.8L108.7 356.4L107.6 356.8L106.4 357.1L105.2 357.1L104.0 357.1L102.8 356.8L101.7 356.4L100.7 355.8L99.7 355.0L98.9 354.2L98.3 353.3L97.9 352.2L97.6 351.1L97.5 350.0L97.6 348.9L97.9 347.7L98.3 346.7L98.9 345.7L99.7 344.9L100.7 344.1L101.7 343.5L102.8 343.1L104.0 342.9L105.2 342.8L106.4 342.9L107.6 343.1L108.7 343.5L109.7 344.1L110.7 344.9L111.5 345.7L112.1 346.7L112.5 347.7L112.8 348.9Z" fill="#b9c0e1" clip-path="url(#cl5)"/><path d="M131.5 346.9L131.4 347.6L131.2 348.3L130.8 349.0L130.3 349.6L129.7 350.1L128.9 350.6L128.1 351.0L127.2 351.3L126.3 351.4L125.3 351.5L124.3 351.4L123.4 351.3L122.5 351.0L121.7 350.6L120.9 350.1L120.3 349.6L119.8 349.0L119.4 348.3L119.2 347.6L119.1 346.9L119.2 346.2L119.4 345.4L119.8 344.7L120.3 344.1L120.9 343.6L121.7 343.1L122.5 342.7L123.4 342.5L124.3 342.3L125.3 342.2L126.3 342.3L127.2 342.5L128.1 342.7L128.9 343.1L129.7 343.6L130.3 344.1L130.8 344.7L131.2 345.4L131.4 346.2Z" fill="#f6b2b8" clip-path="url(#cl5)"/><path d="M141.3 310.0L141.2 310.4L141.0 310.7L140.8 311.1L140.4 311.4L140.0 311.7L139.5 311.9L138.9 312.1L138.2 312.2L137.6 312.3L136.9 312.3L136.2 312.3L135.5 312.2L134.9 312.1L134.3 311.9L133.8 311.7L133.3 311.4L133.0 311.1L132.7 310.7L132.6 310.4L132.5 310.0L132.6 309.7L132.7 309.3L133.0 309.0L133.3 308.7L133.8 308.4L134.3 308.2L134.9 308.0L135.5 307.8L136.2 307.7L136.9 307.7L137.6 307.7L138.2 307.8L138.9 308.0L139.5 308.2L140.0 308.4L140.4 308.7L140.8 309.0L141.0 309.3L141.2 309.7Z" fill="#b9c0e1" clip-path="url(#cl5)"/><path d="M140.8 321.1L140.7 321.5L140.5 322.0L140.3 322.4L139.9 322.8L139.5 323.1L138.9 323.4L138.3 323.6L137.7 323.8L137.1 323.9L136.4 323.9L135.7 323.9L135.0 323.8L134.4 323.6L133.8 323.4L133.3 323.1L132.8 322.8L132.5 322.4L132.2 322.0L132.1 321.5L132.0 321.1L132.1 320.7L132.2 320.2L132.5 319.8L132.8 319.4L133.3 319.1L133.8 318.8L134.4 318.6L135.0 318.4L135.7 318.3L136.4 318.3L137.1 318.3L137.7 318.4L138.3 318.6L138.9 318.8L139.5 319.1L139.9 319.4L140.3 319.8L140.5 320.2L140.7 320.7Z" fill="#b9c0e1" clip-path="url(#cl5)"/><path d="M78.1 349.4L78.8 348.1L79.7 347.1L80.8 346.2L82.0 345.6L83.5 345.1L85.2 344.8L86.9 344.7L88.5 344.8L89.9 345.0L91.2 345.5L92.4 346.1L93.6 346.9L94.7 347.9L95.8 349.2L96.7 350.6L97.5 352.0L98.1 353.6L98.5 355.2L98.8 356.9L98.8 358.5L98.5 359.9L98.0 361.3L97.2 362.6L96.2 363.6L94.9 364.4L93.3 365.0L91.5 365.4L89.7 365.4L87.8 365.2L85.7 364.6L83.7 363.8L82.0 362.8L80.6 361.7L79.3 360.3L78.3 358.8L77.6 357.2L77.3 355.3L77.4 353.2L77.7 351.2Z" fill="#b0b8de" clip-path="url(#cl5)"/><path d="M71.7 282.4L74.1 282.4L78.5 284.1L83.3 286.6L87.2 288.9L89.9 291.0L92.3 293.3L94.0 295.7L94.9 297.9L94.6 300.3L93.4 302.7L91.7 304.7L89.7 305.6L87.5 305.3L84.7 303.9L81.9 301.9L79.4 299.2L76.8 295.2L74.0 290.0L71.9 285.2Z" fill="#fce6e7" clip-path="url(#cl5)"/></g>
<path d="M55.5 261h1m-5 1.5h1m2.5-1h1m-0.5 0h1m1.5 0h1m-7.5 1.5h1m0.5 0h1m-0.5 0h1m1 0h1m1 0h1m0-0.5h1m-0.5 0.5h1m-0.5 0.5h1m-14 0.5h1m0.5 0h1m3 0h1m-0.5 0.5h1m0-1h1m2.5 0h1m2.5 1h1m-15.5 0.5h1m0 0.5h1m1.5-0.5h1m-1 0h1m0 0h1m1 0h1m-0.5 0h1m2.5 0.5h1m-1-1h1m0.5 0.5h1m-1 0.5h1m-0.5-1h1m0.5 1h1m-8 0.5h1m3 0h1m1 0h1m1.5-0.5h1m-16.5 1.5h1m-1 0h1m5 0h1m7-0.5h1m-0.5 0.5h1m0 0h1m-1 0.5h1m-14 0.5h1m0.5 0h1m-0.5 0.5h1m0-0.5h1m-1-0.5h1m-0.5 0.5h1m1.5 0h1m0 0.5h1m0-0.5h1m0.5 0h1m0 0.5h1m-0.5-0.5h1m0 0h1m-17 0.5h1m1 0.5h1m-1-0.5h1m0 0h1m-0.5 0.5h1m1.5 0h1m2-0.5h1m2 0.5h1m0-0.5h1m-1 0.5h1m0.5 0h1m-15 1h1m1 0h1m0.5 0h1m-0.5 0h1m1 0.5h1m1.5 0h1m1-1h1m5.5 0.5h1m-7.5 0.5h1m-10 1h1m0.5 0h1m-0.5 0.5h1m4-0.5h1m-0.5 0.5h1m2.5-0.5h1m-13.5 1.5h1m-0.5-0.5h1m3.5 1h1m0-0.5h1m1.5 0.5h1m6.5 0h1m-0.5-0.5h1m-17.5 0.5h1m2.5 1h1m1-0.5h1m5-0.5h1m0.5 1h1m-12 1h1m3-0.5h1m-0.5 0h1m-0.5 0h1m-1-0.5h1m1 0.5h1m0.5 0h1m23.5 0h1m-36 1h1m4.5 0h1m0 0h1m4.5-0.5h1m0 0h1m-0.5 0.5h1m15.5 0h1m16 0h1m0.5 0h1m-46.5 1h1m0-0.5h1m-0.5 0h1m0 1h1m0.5-0.5h1m3 0.5h1m-1 0h1m0-0.5h1m27.5 0.5h1m4-0.5h1m2 0h1m-47 0.5h1m1 0.5h1m2 0h1m1.5 0h1m-0.5 0h1m4.5 0h1m13.5-0.5h1m13.5 0.5h1m0.5 0h1m0.5 0h1m2.5 0h1m-49.5 0.5h1m0.5 0h1m2 0.5h1m-1 0.5h1m-0.5-0.5h1m1 0h1m0.5 0h1m0.5 0h1m-1-0.5h1m2 0.5h1m13 0.5h1m9-1h1m5 0h1m0.5 0h1m3.5 1h1m-0.5 0h1m0.5-1h1m-50 1h1m-0.5 0h1m1 0.5h1m-0.5-0.5h1m1 0h1m0.5 0.5h1m1 0.5h1m-0.5 0h1m14.5 0h1m4.5-0.5h1m5 0.5h1m3-0.5h1m0 0h1m0 0h1m4 0h1m-1-0.5h1m-50.5 1.5h1m1 0.5h1m24-0.5h1m13 0h1m5 0h1m0 0.5h1m-0.5-0.5h1m0 0.5h1m0.5 0h1m-48.5 0.5h1m0 0h1m-0.5-0.5h1m3 0.5h1m9.5 0h1m19 0h1m3.5-0.5h1m0.5 0.5h1m-1 0h1m0-0.5h1m7.5 1h1m-54 1h1m2-1h1m0.5 0h1m-1 1h1m-1-0.5h1m-0.5 0.5h1m2.5 0h1m1.5-1h1m5.5 1h1m3.5 0h1m6-0.5h1m11 0h1m25-0.5h1m3.5 1h1m3-0.5h1m-71.5 1h1m-0.5 0h1m1 0.5h1m18.5 0h1m8-0.5h1m6 0h1m0-0.5h1m-0.5 0.5h1m-0.5-0.5h1m3.5 0h1m-0.5 0.5h1m8 0h1m15 0h1m-75 0.5h1m0.5 1h1m-0.5-0.5h1m0 0h1m6 0h1m1.5 0.5h1m-0.5-0.5h1m3.5 0.5h1m1.5-0.5h1m20.5 0.5h1m7-0.5h1m0 0h1m5 0.5h1m-55.5 1h1m0-0.5h1m3 0h1m-1 0h1m-0.5-0.5h1m0 0h1m0 0.5h1m-1 0.5h1m0.5-0.5h1m0 0.5h1m0-0.5h1m0 0h1m5.5-0.5h1m3.5 0.5h1m6 0h1m10 0.5h1m19-0.5h1m2 0h1m4-0.5h1m4 1h1m2-1h1m-78 1.5h1m0 0h1m-1 0.5h1m-0.5-0.5h1m0.5 0h1m0.5 0h1m0.5 0h1m3-0.5h1m1.5 0h1m0.5 0.5h1m6 0h1m17 0.5h1m0-1h1m2.5 0.5h1m-1 0h1m2 0h1m2.5-0.5h1m8 0h1m16 0.5h1m-77 1.5h1m0.5-0.5h1m-1-0.5h1m2.5 0h1m0 0.5h1m2 0.5h1m0 0h1m3.5-0.5h1m4 0h1m3 0h1m7-0.5h1m5.5 0h1m4 0h1m13 0.5h1m-57.5 1h1m0-0.5h1m-0.5 0h1m-1 0.5h1m0.5 0h1m6.5 0h1m-0.5 0h1m3.5 0h1m0 0.5h1m-1 0h1m-0.5-0.5h1m-0.5-0.5h1m-0.5 1h1m8-0.5h1m8 0h1m0-0.5h1m12.5 0h1m2 0.5h1m6 0h1m12 0.5h1m-74.5 0.5h1m-1 0h1m0.5 0.5h1m0 0h1m0 0h1m-1-0.5h1m2 0h1m0.5 0h1m-0.5-0.5h1m1.5 0h1m1 0.5h1m1 0.5h1m-0.5-0.5h1m-1 0.5h1m-0.5-1h1m0.5 0.5h1m2.5-0.5h1m-1 1h1m0 0h1m-1-0.5h1m-0.5 0h1m15.5 0h1m3 0h1m0 0h1m3-0.5h1m1 0.5h1m9.5 0.5h1m0.5-0.5h1m11.5 0.5h1m1-1h1m-77 1.5h1m-1 0.5h1m-0.5-1h1m1.5 0.5h1m1.5 0h1m-1 0h1m2 0h1m0 0.5h1m-0.5-0.5h1m0 0h1m1-0.5h1m0.5 1h1m2.5-0.5h1m-0.5-0.5h1m3 0h1m6.5 0.5h1m0 0h1m11 0h1m-0.5 0.5h1m7-0.5h1m0-0.5h1m9.5 1h1m-63.5 0h1m2.5 0h1m1.5 0.5h1m11 0h1m-0.5 0h1m0 0h1m0 0.5h1m9.5 0h1m11.5-1h1m22 0.5h1m0-0.5h1m-70.5 1.5h1m1 0.5h1m-1-0.5h1m-1 0.5h1m3-1h1m0 0.5h1m-0.5 0h1m-1 0h1m5 0h1m1.5 0h1m1 0h1m0 0h1m1.5 0.5h1m0 0h1m-1-1h1m4 0.5h1m2.5 0.5h1m6.5-0.5h1m2.5-0.5h1m3 0.5h1m6.5 0h1m0-0.5h1m0 0.5h1m5-0.5h1m-63.5 1h1m0.5 0h1m-1 0.5h1m-0.5 0h1m0 0.5h1m0-0.5h1m0-0.5h1m1 1h1m0.5-1h1m2 0.5h1m-0.5 0.5h1m0.5-1h1m-1 0.5h1m-0.5-0.5h1m-1 0.5h1m3.5 0h1m-0.5 0h1m0.5 0h1m0 0.5h1m-0.5-0.5h1m-1 0.5h1m6-0.5h1m-0.5 0h1m23-0.5h1m-1 0h1m8 0.5h1m2 0h1m4.5 0.5h1m-72 0h1m0.5 1h1m2-1h1m10 0.5h1m2.5 0h1m-0.5 0.5h1m4 0h1m-1-1h1m0.5 0.5h1m1 0h1m-0.5-0.5h1m0.5 0.5h1m3 0h1m-0.5 0.5h1m0 0h1m4-0.5h1m11.5-0.5h1m6 1h1m5 0h1m2.5-0.5h1m-73.5 1.5h1m-1-0.5h1m5 0.5h1m2.5-1h1m0.5 1h1m0.5 0h1m4 0h1m0-1h1m-0.5 0.5h1m-1 0.5h1m-0.5-1h1m-0.5 0h1m-1 1h1m-1 0h1m-0.5-0.5h1m2 0h1m3 0.5h1m-0.5 0h1m-0.5-0.5h1m0 0h1m0 0h1m0 0h1m-0.5 0h1m-1 0.5h1m0-0.5h1m9-0.5h1m5 0.5h1m22.5 0h1m-75 1h1m-0.5 0h1m2 0h1m5 0h1m-1-0.5h1m0 0h1m2 0h1m-0.5 0.5h1m3.5-0.5h1m2.5 1h1m4-0.5h1m6.5 0h1m2 0.5h1m12-0.5h1m2.5-0.5h1m3 0h1m3.5 0.5h1m8 0h1m-73 1h1m0.5 0h1m2 0h1m0 0.5h1m1-1h1m0 0h1m-1 0.5h1m2.5 0h1m0.5 0h1m3.5 0h1m-0.5 0.5h1m5-1h1m2 1h1m5.5-0.5h1m0.5 0.5h1m-0.5 0h1m0-1h1m10 0.5h1m3-0.5h1m-0.5 0h1m-0.5 0.5h1m0.5 0h1m6 0h1m3.5 0h1m-1 0h1m0.5 0.5h1m8-0.5h1m-77.5 1h1m0.5 0h1m0 0h1m3 0h1m-0.5 0h1m0.5 0h1m1 0.5h1m-0.5 0h1m3-0.5h1m-0.5 0h1m-0.5-0.5h1m2 0.5h1m0 0.5h1m0-0.5h1m0.5 0.5h1m4.5-1h1m2 1h1m0-0.5h1m-1-0.5h1m2.5 0h1m10 1h1m0 0h1m3-0.5h1m4.5 0h1m-0.5 0.5h1m-59.5 0h1m-1 0.5h1m-0.5 0h1m1.5 0h1m7 0h1m0 0h1m3.5 0.5h1m1-0.5h1m0.5 0h1m-0.5-0.5h1m1 1h1m3.5 0h1m0.5 0h1m-0.5 0h1m1-0.5h1m3.5 0.5h1m2 0h1m0 0h1m0.5-0.5h1m2 0h1m0-0.5h1m1 0.5h1m0 0h1m-0.5 0h1m4.5 0h1m1.5-0.5h1m5.5 0h1m2 0.5h1m4.5-0.5h1m-72.5 1h1m2 1h1m0.5-1h1m3 1h1m1.5-0.5h1m5.5 0.5h1m-0.5-0.5h1m-0.5 0h1m1 0.5h1m0.5-0.5h1m0.5 0.5h1m2.5-0.5h1m-0.5 0.5h1m-0.5-0.5h1m1.5 0h1m-1 0h1m2.5 0.5h1m0-1h1m2 1h1m2-1h1m2 0.5h1m0.5 0h1m4.5 0.5h1m12.5-0.5h1m-0.5 0h1m2 0h1m11.5 0h1m-0.5 0h1m-0.5 0h1m-86 1h1m0 0h1m5-0.5h1m6 0h1m1 0.5h1m0.5 0h1m-1 0.5h1m5.5 0h1m0-0.5h1m3-0.5h1m-0.5 0h1m2.5 0.5h1m3 0.5h1m3.5-0.5h1m-0.5 0h1m1 0h1m1 0.5h1m17.5-0.5h1m8-0.5h1m0 0h1m4.5 1h1m5.5 0h1m-87 0.5h1m1.5 0.5h1m-0.5-1h1m0.5 0h1m1.5 0.5h1m2.5 0h1m9 0h1m0 0h1m1 0.5h1m0-0.5h1m-1-0.5h1m3 1h1m0.5 0h1m3-0.5h1m2.5 0h1m0 0.5h1m0.5-1h1m0 0.5h1m3 0h1m0 0h1m2.5 0h1m3-0.5h1m1.5 0.5h1m1 0.5h1m14.5-0.5h1m5.5 0h1m-81 1h1m1.5 0.5h1m0-0.5h1m-0.5 0h1m-0.5 0h1m-1-0.5h1m1.5 0.5h1m3 0h1m-0.5 0h1m1-0.5h1m-0.5 0.5h1m1 0h1m1.5 0.5h1m1.5-1h1m-0.5 0h1m-1 0.5h1m0.5-0.5h1m1.5 0.5h1m-1 0h1m0.5-0.5h1m-0.5 0.5h1m1.5 0.5h1m-1 0h1m2 0h1m1-0.5h1m3-0.5h1m-0.5 0.5h1m0-0.5h1m-0.5 0.5h1m15 0h1m0.5-0.5h1m-0.5 0.5h1m9 0h1m5.5 0.5h1m-1 0h1m-1-1h1m-78 2h1m0.5 0h1m-0.5-0.5h1m-1 0.5h1m-0.5 0h1m0.5-1h1m4.5 0.5h1m-1 0h1m0-0.5h1m-0.5 0.5h1m0.5-0.5h1m5 1h1m2.5 0h1m0 0h1m1-1h1m0 0.5h1m-1-0.5h1m-1 0h1m2 1h1m-0.5-1h1m1.5 0h1m1 0.5h1m1.5 0h1m0 0.5h1m6-0.5h1m23.5 0h1m0 0h1m8 0h1m1 0h1m-81.5 0.5h1m3 0.5h1m3.5-0.5h1m0.5 1h1m7.5-0.5h1m0 0.5h1m1 0h1m-0.5-0.5h1m-0.5 0h1m0 0h1m5 0.5h1m-1-0.5h1m0-0.5h1m3 0h1m1 1h1m-0.5-0.5h1m0.5 0h1m-0.5 0h1m1 0h1m3 0h1m15.5-0.5h1m2 0h1m6.5 1h1m0-1h1m-74.5 2h1m6.5-1h1m-0.5 0.5h1m-0.5 0h1m0-0.5h1m3 1h1m-0.5 0h1m0.5-0.5h1m1 0.5h1m3-0.5h1m1.5 0h1m1 0h1m2 0.5h1m2 0h1m0-0.5h1m0 0h1m-0.5 0h1m0.5 0.5h1m-0.5-1h1m0 0.5h1m-0.5 0h1m-0.5 0h1m-0.5-0.5h1m0 1h1m0-1h1m0 1h1m0-1h1m0 0.5h1m7 0h1m3 0h1m12 0h1m1 0.5h1m-0.5 0h1m17-1h1m-88 2h1m0.5-0.5h1m0 0h1m3 0.5h1m-0.5-0.5h1m0 0h1m1.5 0h1m1.5-0.5h1m6.5 0.5h1m0-0.5h1m2.5 1h1m-0.5-1h1m-0.5 0.5h1m0-0.5h1m1.5 0.5h1m-0.5 0h1m-0.5 0.5h1m0 0h1m5 0h1m-1 0h1m2.5 0h1m0 0h1m0.5 0h1m1.5 0h1m2-0.5h1m5.5 0h1m3 0h1m0.5 0h1m-1 0h1m0-0.5h1m2.5 1h1m7-0.5h1m7 0h1m2.5 0.5h1m1-0.5h1m6 0.5h1m-0.5-0.5h1m-99 0.5h1m0 0.5h1m0 0.5h1m-1-0.5h1m-0.5 0h1m5 0.5h1m2-0.5h1m0.5 0h1m0-0.5h1m0 0.5h1m1 0h1m-1-0.5h1m0 1h1m-1 0h1m-0.5-0.5h1m1 0.5h1m1 0h1m2-0.5h1m0-0.5h1m0 0h1m-1 0.5h1m1 0h1m0 0h1m0-0.5h1m3.5 0.5h1m0.5-0.5h1m0 0.5h1m3.5 0.5h1m1.5-0.5h1m5.5 0h1m7.5 0h1m-0.5 0h1m6 0h1m4.5-0.5h1m18 0h1m5 1h1m1.5 0h1m-100 0.5h1m0.5 0h1m1.5 0h1m0-0.5h1m1.5 0.5h1m-1 0.5h1m0-0.5h1m2.5 0.5h1m0 0h1m-0.5-0.5h1m0 0h1m1.5 0h1m-0.5 0h1m0.5 0h1m-1 0h1m-1 0.5h1m-0.5-0.5h1m0 0.5h1m0-0.5h1m6.5-0.5h1m1 0h1m0 0.5h1m-1 0.5h1m-0.5-1h1m-0.5 1h1m-1-1h1m-1 1h1m1.5 0h1m-1-1h1m0 0.5h1m-1 0.5h1m0.5 0h1m2.5-1h1m4.5 1h1m5.5-0.5h1m-0.5 0h1m3 0.5h1m11.5-1h1m20 0.5h1m2.5 0h1m1.5 0.5h1m-100.5 0.5h1m0.5 0.5h1m0.5 0h1m1-1h1m-0.5 1h1m4-0.5h1m0.5 0h1m4 0h1m-0.5 0h1m-0.5 0h1m-1 0.5h1m-0.5-1h1m3.5 0h1m-0.5 1h1m-1-0.5h1m0.5 0.5h1m0.5 0h1m0-1h1m0.5 0.5h1m5 0h1m0.5 0h1m-0.5 0h1m0.5-0.5h1m-0.5 0.5h1m0.5 0.5h1m2.5 0h1m1.5 0h1m2 0h1m17-1h1m12 0.5h1m1 0h1m0 0h1m2 0h1m0.5 0.5h1m0.5-1h1m11 0h1m-94.5 2h1m1 0h1m0-0.5h1m-0.5 0h1m-0.5 0h1m-1 0h1m0-0.5h1m0 0.5h1m-1 0.5h1m1.5 0h1m1.5-0.5h1m1 0h1m4.5-0.5h1m0 0h1m3.5 0h1m2.5 0h1m0 0h1m-0.5 0h1m0.5 0.5h1m-1 0.5h1m2-1h1m0.5 0h1m0 0.5h1m1.5 0h1m0 0h1m6.5 0h1m4.5-0.5h1m2 0.5h1m-1-0.5h1m1.5 0.5h1m16 0.5h1m6.5-1h1m-91.5 1h1m0 0h1m0 1h1m-0.5-1h1m0 0.5h1m-1 0h1m1 0h1m-0.5-0.5h1m-1 0.5h1m1.5 0h1m1 0h1m-1 0h1m-0.5 0.5h1m4-0.5h1m0 0h1m7.5 0h1m0.5 0h1m1 0.5h1m1-0.5h1m0 0h1m1 0.5h1m2.5 0h1m0.5 0h1m0.5-1h1m1 1h1m-1-0.5h1m4 0.5h1m4.5-1h1m0.5 0h1m5.5 1h1m0.5-1h1m8 0.5h1m0 0h1m3 0h1m4 0.5h1m1-0.5h1m10.5 0h1m0-0.5h1m-96.5 1.5h1m0 0.5h1m-0.5-0.5h1m2 0.5h1m1-0.5h1m1.5-0.5h1m1 0.5h1m0.5 0h1m5.5 0.5h1m1-0.5h1m0.5-0.5h1m9.5 0h1m0.5 0h1m-0.5 0.5h1m-0.5 0h1m1-0.5h1m-1 0.5h1m-0.5 0.5h1m0-0.5h1m-1-0.5h1m1 0.5h1m3.5 0h1m4 0.5h1m2-1h1m-0.5 0.5h1m1 0.5h1m4-0.5h1m14-0.5h1m0 1h1m0.5-0.5h1m1 0.5h1m4.5 0h1m-89 0h1m0.5 0.5h1m0-0.5h1m1.5 0.5h1m-1-0.5h1m3 0h1m1 0.5h1m4.5-0.5h1m1 0.5h1m1 0h1m0.5 0h1m1-0.5h1m-0.5 1h1m-1-0.5h1m3.5 0h1m-0.5 0h1m0 0h1m0 0h1m1 0h1m-0.5-0.5h1m-0.5 0h1m1 0.5h1m-1 0h1m3.5 0.5h1m3.5-1h1m-0.5 0.5h1m-0.5 0h1m0 0h1m3-0.5h1m1.5 0.5h1m14-0.5h1m2.5 0h1m-69.5 1h1m0.5 0.5h1m-0.5 0h1m2 0.5h1m-1-1h1m1 1h1m0-0.5h1m-0.5 0h1m-1 0h1m0.5-0.5h1m-0.5 0.5h1m0 0.5h1m1.5-1h1m1 0.5h1m-1 0.5h1m6-0.5h1m-0.5-0.5h1m0.5 0h1m1 0.5h1m-1 0h1m-0.5-0.5h1m0.5 1h1m-0.5 0h1m-1-0.5h1m0 0h1m-0.5 0.5h1m-0.5 0h1m0 0h1m0-0.5h1m0-0.5h1m1 1h1m2-0.5h1m1.5 0.5h1m3-0.5h1m-1 0h1m2.5 0h1m-0.5 0h1m5 0h1m-0.5-0.5h1m0 1h1m0 0h1m6.5-0.5h1m5.5-0.5h1m2 1h1m3-1h1m3.5 0h1m0.5 0.5h1m2.5-0.5h1m-92.5 1h1m0 0.5h1m2 0h1m-0.5 0.5h1m0.5-0.5h1m0 0h1m0 0h1m4 0h1m-1-0.5h1m-0.5 1h1m1.5-0.5h1m0.5 0.5h1m0-0.5h1m-1 0h1m0 0h1m-0.5 0h1m0.5 0h1m-0.5 0.5h1m0-1h1m3.5 0.5h1m1.5 0h1m0-0.5h1m1 0.5h1m-1-0.5h1m1.5 0h1m-1 0.5h1m0 0h1m0.5 0h1m0-0.5h1m4 1h1m2.5-0.5h1m1 0.5h1m0-1h1m15.5 0h1m3.5 0h1m0 0h1m0 0h1m-0.5 1h1m16.5 0h1m-93.5 0.5h1m1.5-0.5h1m2 0.5h1m1 0.5h1m0-1h1m0 1h1m1-0.5h1m0 0.5h1m0-0.5h1m-0.5-0.5h1m1.5 0h1m0 0.5h1m0 0h1m-0.5 0h1m2.5 0.5h1m0-0.5h1m-0.5 0h1m0.5 0h1m4.5 0h1m-1 0h1m-0.5 0.5h1m1-1h1m2 1h1m0 0h1m5.5 0h1m0 0h1m-0.5-0.5h1m0 0h1m-0.5 0h1m1 0.5h1m-0.5-1h1m2.5 0.5h1m5.5-0.5h1m1.5 0.5h1m3.5 0h1m-1-0.5h1m0.5 0.5h1m0.5-0.5h1m2 0.5h1m-0.5 0h1m-0.5-0.5h1m0.5 1h1m0 0h1m4.5-0.5h1m14 0.5h1m-97.5 0.5h1m1.5 0.5h1m2-0.5h1m1-0.5h1m2.5 0.5h1m1 0h1m-0.5 0h1m-1 0h1m0 0.5h1m-1-1h1m2 0.5h1m2.5 0h1m5.5-0.5h1m1.5 1h1m2.5-1h1m2.5 0.5h1m2.5-0.5h1m0 1h1m-0.5-1h1m-0.5 1h1m-1-1h1m-0.5 0h1m3 1h1m-0.5-0.5h1m0 0h1m0.5 0h1m19-0.5h1m0 0.5h1m-0.5 0h1m2.5 0h1m1 0h1m18 0.5h1m1-1h1m2 1h1m-102 0.5h1m0-0.5h1m2 0h1m-0.5 1h1m-0.5-0.5h1m-1 0h1m2.5 0h1m-0.5 0.5h1m2-0.5h1m1-0.5h1m1.5 1h1m0-0.5h1m1 0.5h1m-0.5 0h1m-1-0.5h1m2 0h1m1-0.5h1m1.5 0.5h1m1-0.5h1m-0.5 1h1m-1-0.5h1m5.5 0.5h1m2 0h1m1 0h1m1.5 0h1m3-0.5h1m9 0h1m8 0.5h1m-0.5-0.5h1m2.5-0.5h1m1 1h1m5.5 0h1m10-1h1m1 0.5h1m3 0h1m-95 0.5h1m0.5 1h1m-0.5 0h1m9-1h1m9.5 0.5h1m-0.5 0h1m0 0h1m0.5-0.5h1m0 0.5h1m2.5-0.5h1m0.5 1h1m0 0h1m1 0h1m1-1h1m0.5 0h1m6 0.5h1m1 0h1m16 0h1m1-0.5h1m4 1h1m0.5-0.5h1m-1 0.5h1m7.5-0.5h1m0 0h1m11 0h1m0 0h1m-1 0.5h1m4-0.5h1m-102.5 1h1m0 0h1m2 0.5h1m2-1h1m2.5 0h1m1 1h1m7.5-0.5h1m5-0.5h1m-1 0.5h1m6 0.5h1m7-1h1m0.5 0.5h1m0.5 0h1m-0.5 0h1m-0.5 0.5h1m1.5-0.5h1m10 0.5h1m5.5-1h1m0.5 1h1m0 0h1m0.5-0.5h1m11-0.5h1m8.5 0h1m3.5 1h1m0.5-0.5h1m1-0.5h1m-98.5 1h1m5 0.5h1m0 0h1m0.5 0h1m5.5 0h1m0 0h1m3.5 0h1m2-0.5h1m-0.5 0.5h1m1 0.5h1m0.5-1h1m-0.5 0.5h1m3 0h1m-0.5 0h1m2 0.5h1m-0.5-1h1m0.5 0.5h1m0.5-0.5h1m1 1h1m-0.5-0.5h1m0-0.5h1m-0.5 0h1m-0.5 0h1m1 0.5h1m-0.5 0h1m0.5-0.5h1m1.5 0.5h1m-0.5 0h1m1 0h1m7 0h1m0 0h1m0 0h1m2.5 0h1m4.5 0h1m3.5 0.5h1m2.5-0.5h1m2 0.5h1m2.5-1h1m0 0h1m10 0.5h1m-100.5 1h1m-0.5 0.5h1m0.5 0h1m0-0.5h1m1-0.5h1m0 1h1m1.5-0.5h1m5.5 0h1m1.5 0h1m1 0.5h1m-0.5-0.5h1m-0.5-0.5h1m0.5 0.5h1m0 0.5h1m1-0.5h1m1 0h1m0 0h1m1 0h1m-1-0.5h1m0 0.5h1m-0.5-0.5h1m-0.5 0.5h1m7-0.5h1m1 0.5h1m1.5-0.5h1m2.5 1h1m3.5 0h1m3 0h1m2.5 0h1m5-1h1m1.5 0h1m17 1h1m0.5-1h1m-89.5 1h1m0 0.5h1m1.5 0.5h1m0.5-1h1m-1 0.5h1m-0.5 0h1m-1 0h1m2-0.5h1m-1 0.5h1m-1 0h1m-0.5 0h1m-0.5-0.5h1m-0.5 1h1m-0.5-0.5h1m0 0h1m-0.5 0.5h1m0-1h1m2.5 0h1m-0.5 1h1m-0.5-0.5h1m0 0h1m1 0.5h1m1-0.5h1m0.5 0h1m1.5 0.5h1m6 0h1m0 0h1m0 0h1m1-0.5h1m-0.5 0h1m0.5 0.5h1m-0.5 0h1m2 0h1m1-0.5h1m0.5-0.5h1m4 0.5h1m2 0.5h1m3.5-0.5h1m6 0.5h1m0.5 0h1m-1-1h1m1 0h1m-0.5 0h1m2 1h1m-0.5 0h1m-1-1h1m14 0.5h1m-85.5 1h1m0.5 0.5h1m3.5-0.5h1m-1 0h1m1 0h1m-1 0h1m-0.5 0h1m0-0.5h1m-1 0.5h1m0-0.5h1m-0.5 0.5h1m0 0h1m3-0.5h1m-1 0.5h1m1.5 0h1m1.5 0.5h1m6.5-1h1m0 0.5h1m3-0.5h1m0 0.5h1m1 0h1m-0.5 0.5h1m0.5-0.5h1m1-0.5h1m3.5 0.5h1m0 0h1m2.5-0.5h1m1 0h1m1.5 1h1m0.5-0.5h1m0-0.5h1m1.5 1h1m7.5-0.5h1m9-0.5h1m1.5 1h1m-83 0.5h1m-0.5 0h1m0 0h1m0-0.5h1m1 0.5h1m-0.5-0.5h1m0.5 1h1m5-1h1m-1 1h1m0-0.5h1m1.5 0h1m-1 0.5h1m13-0.5h1m1 0.5h1m0.5-0.5h1m2-0.5h1m-0.5 0h1m0.5 0h1m2 0.5h1m0 0h1m0-0.5h1m0 1h1m3.5 0h1m4-0.5h1m0.5-0.5h1m6 0.5h1m3.5 0h1m-0.5 0.5h1m-0.5-0.5h1m-1 0.5h1m7-0.5h1m4 0h1m-82 1h1m0.5 0h1m-0.5 0.5h1m1-0.5h1m-0.5-0.5h1m-1 0h1m2.5 0.5h1m0-0.5h1m-1 0.5h1m0.5 0h1m2.5 0h1m0 0.5h1m0.5-0.5h1m-0.5 0.5h1m1-0.5h1m-0.5 0h1m-0.5 0.5h1m-0.5-0.5h1m-0.5 0h1m0.5 0.5h1m-0.5-1h1m0.5 0.5h1m1-0.5h1m7.5 0.5h1m1 0h1m1.5 0.5h1m-1-0.5h1m8 0h1m13.5 0h1m6.5 0h1m3 0h1m0.5 0.5h1m0-0.5h1m2 0h1m1.5-0.5h1m1.5 0.5h1m-77.5 0.5h1m1.5 1h1m-1-0.5h1m-1 0h1m2 0.5h1m0-0.5h1m0-0.5h1m3 0.5h1m0.5 0.5h1m2.5-1h1m-0.5 0.5h1m0.5-0.5h1m-1 1h1m1 0h1m4-1h1m3 0.5h1m-1 0.5h1m2-1h1m-0.5 0.5h1m3.5 0.5h1m2.5-0.5h1m1.5-0.5h1m0 0.5h1m-0.5-0.5h1m1 0h1m3.5 0h1m0.5 0.5h1m5 0h1m7.5 0h1m0 0h1m1.5-0.5h1m3.5 0.5h1m-83 0.5h1m6.5 0.5h1m2.5 0h1m-0.5 0.5h1m0-1h1m3 0.5h1m3.5 0h1m-0.5 0h1m-1 0h1m10.5 0h1m2 0h1m1 0h1m4 0h1m-0.5 0.5h1m-0.5-0.5h1m0 0.5h1m5.5-0.5h1m0.5 0h1m0 0h1m1 0h1m2 0h1m8.5-0.5h1m6 0h1m4 0.5h1m-77 1h1m-0.5-0.5h1m1.5 0h1m0.5 0.5h1m0 0.5h1m5-1h1m-0.5 1h1m-0.5-0.5h1m1.5 0h1m-0.5-0.5h1m-0.5 0.5h1m0 0.5h1m0.5-1h1m2 1h1m5.5 0h1m-1-0.5h1m2 0.5h1m0.5-0.5h1m-1 0h1m-0.5 0.5h1m-1-0.5h1m-0.5 0h1m1 0h1m3.5 0h1m5 0h1m2 0.5h1m3-1h1m5.5 0.5h1m5.5 0h1m2.5 0h1m3 0h1m-0.5 0.5h1m-1 0h1m-73 0h1m-1 0.5h1m-0.5-0.5h1m-1 0.5h1m-0.5 0h1m4.5 0.5h1m0-1h1m-0.5 0.5h1m4-0.5h1m0.5 0.5h1m-0.5 0h1m-1-0.5h1m0 0h1m0 0.5h1m1 0h1m0-0.5h1m1 0.5h1m2.5 0h1m1 0h1m3 0h1m2.5 0.5h1m0-0.5h1m3.5 0h1m0 0h1m3.5 0.5h1m0-0.5h1m0 0h1m11 0.5h1m1.5-0.5h1m9.5-0.5h1m1.5 0.5h1m-1 0h1m-80.5 1h1m1.5 0h1m-0.5-0.5h1m0 0.5h1m0.5 0h1m2.5 0h1m2 0.5h1m9-0.5h1m3 0.5h1m0.5-1h1m0.5 0.5h1m1.5 0h1m2 0h1m-0.5 0.5h1m-0.5-0.5h1m-1 0h1m-0.5 0h1m-0.5-0.5h1m15.5 1h1m2.5-0.5h1m-0.5-0.5h1m13.5 0.5h1m1 0h1m0-0.5h1m1.5 0.5h1m-75.5 1.5h1m0-1h1m1 0.5h1m-0.5-0.5h1m2.5 1h1m0.5-0.5h1m-1-0.5h1m8.5 1h1m0.5 0h1m0 0h1m3.5-0.5h1m0 0h1m1-0.5h1m0 1h1m-0.5-0.5h1m4-0.5h1m1.5 0.5h1m5.5 0h1m1-0.5h1m2.5 0.5h1m8 0h1m12.5 0h1m1 0h1m-1-0.5h1m1.5 0.5h1m0.5-0.5h1m-0.5 0.5h1m-0.5 0h1m-78 1h1m8 0.5h1m5-1h1m3 0.5h1m-1 0h1m-1 0h1m1 0h1m0 0.5h1m-0.5-0.5h1m2 0.5h1m-1-0.5h1m1 0.5h1m2.5-1h1m1.5 0h1m11.5 0.5h1m0.5 0h1m5.5 0h1m-0.5-0.5h1m-0.5 0.5h1m4-0.5h1m2 1h1m3.5 0h1m-0.5-1h1m1 1h1m0.5-0.5h1m2.5 0h1m1.5 0h1m-79.5 1h1m0.5-0.5h1m8 0.5h1m0-0.5h1m-0.5 0h1m0 0.5h1m-1 0.5h1m1-0.5h1m0 0.5h1m1 0h1m0-0.5h1m2.5-0.5h1m1 0.5h1m-1-0.5h1m0 0.5h1m1.5-0.5h1m0.5 1h1m0-0.5h1m3 0.5h1m13.5-0.5h1m10.5 0h1m8 0.5h1m1.5 0h1m-0.5 0h1m-1 0h1m-0.5-1h1m1 0.5h1m-1 0.5h1m2-0.5h1m-76 1.5h1m-1-1h1m0 0h1m4 0.5h1m-1 0.5h1m1.5-0.5h1m0 0h1m0 0h1m-0.5-0.5h1m0 0h1m1 1h1m0.5-0.5h1m2 0h1m-0.5 0.5h1m4-0.5h1m1 0.5h1m25.5 0h1m9.5 0h1m-0.5-1h1m1.5 0h1m-0.5 0h1m-0.5 0.5h1m1 0h1m2 0h1m3-0.5h1m-75.5 2h1m1 0h1m-0.5 0h1m-1-0.5h1m0.5 0.5h1m0.5-0.5h1m0.5 0.5h1m9 0h1m0-0.5h1m2 0h1m-0.5-0.5h1m1.5 0.5h1m-0.5 0h1m-1 0.5h1m1-0.5h1m-1-0.5h1m6 0.5h1m14.5 0h1m0-0.5h1m5 0h1m2.5 0h1m0 0.5h1m1 0h1m1 0.5h1m4.5-1h1m0.5 0h1m-0.5 1h1m-71.5 0.5h1m2 0h1m-0.5 0h1m2.5 0.5h1m0-1h1m0 0h1m1 0.5h1m8.5 0h1m3.5 0h1m21.5 0h1m2-0.5h1m8 0h1m2.5 0h1m6 0.5h1m-67.5 1.5h1m-0.5-0.5h1m1 0h1m0 0h1m0 0h1m5.5 0.5h1m0-1h1m0 0.5h1m-0.5 0h1m6.5 0h1m11.5-0.5h1m6 0.5h1m19-0.5h1m2.5 0.5h1m-0.5-0.5h1m-59.5 1.5h1m2 0h1m-0.5 0h1m2 0h1m4 0h1m0 0h1m15.5 0.5h1m-1-0.5h1m5 0h1m19.5 0h1m1.5-0.5h1m7 1h1m-71.5 0h1m0.5 0.5h1m3.5 0h1m1.5 0h1m5-0.5h1m0 0.5h1m21 0.5h1m5.5-1h1m4 0.5h1m18 0h1m-62.5 1h1m0 0h1m4 0h1m12-0.5h1m6 0.5h1m6.5-0.5h1m5 0h1m17 0.5h1m-31.5 1h1m2 0.5h1m6 0h1m-0.5-0.5h1m0 0h1m2.5 0.5h1m1.5-0.5h1m4 0.5h1m14 0h1m-48.5 1h1m3 0h1m2.5 0h1m-1-1h1m4 0h1m-1 0.5h1m7-0.5h1m-0.5 0.5h1m-1-0.5h1m-0.5 0.5h1m2.5-0.5h1m0 0.5h1m9 0h1m-0.5-0.5h1m4.5 0h1m-43.5 1.5h1m2.5 0h1m0.5-0.5h1m0.5 0.5h1m4 0h1m3.5 0.5h1m2-1h1m0.5 1h1m1-0.5h1m-1 0.5h1m0.5-0.5h1m1.5 0.5h1m14.5-0.5h1m5 0.5h1m-1-0.5h1m-47.5 1.5h1m-1-0.5h1m9-0.5h1m7 0.5h1m-0.5 0h1m0 0.5h1m2-0.5h1m-1 0h1m0.5-0.5h1m0.5 0.5h1m1 0h1m14 0h1m-1 0h1m0.5 0h1m1-0.5h1m-51 1h1m1.5 0h1m-0.5 0.5h1m1 0h1m2-0.5h1m2 0.5h1m6.5-0.5h1m-0.5 0.5h1m1 0h1m-1-0.5h1m-0.5 0h1m-0.5 0h1m1 0.5h1m0 0h1m3.5-0.5h1m0 0.5h1m-1 0h1m1-0.5h1m1.5 0.5h1m-37 1h1m0 0.5h1m4-1h1m-1 0.5h1m1 0h1m2-0.5h1m-1 0.5h1m-1 0h1m4.5 0.5h1m7.5-0.5h1m-0.5-0.5h1m-0.5 1h1m5 0h1m0 0h1m0.5 0h1m10-1h1m-0.5 0.5h1m5.5-0.5h1m-52 1.5h1m2.5 0h1m10-0.5h1m-0.5 1h1m-0.5 0h1m0 0h1m-1-0.5h1m2.5-0.5h1m4.5 1h1m4.5-1h1m4 0.5h1m-1-0.5h1m10 0h1m-50 1h1m1 0.5h1m-1 0h1m3.5 0h1m4.5 0h1m2-0.5h1m0.5 0.5h1m2.5-0.5h1m1.5 0.5h1m5 0h1m-0.5-0.5h1m12.5 0.5h1m2.5 0h1m4 0.5h1m-46.5 0.5h1m0 0h1m-1 0.5h1m3-0.5h1m4.5-0.5h1m-0.5 0.5h1m-0.5-0.5h1m-0.5 0h1m4.5 0.5h1m0 0h1m0.5 0h1m0.5 0h1m0 0h1m-1 0.5h1m0 0h1m4 0h1m7.5-0.5h1m-44 1h1m-0.5 0h1m3 0.5h1m0.5-0.5h1m7.5-0.5h1m0 1h1m1 0h1m3-0.5h1m3.5 0h1m-0.5 0h1m0 0h1m6.5-0.5h1m11 0h1m-48.5 1.5h1m-1 0.5h1m-0.5 0h1m-1-1h1m5 1h1m2 0h1m0-1h1m-0.5 0.5h1m0.5 0.5h1m-0.5 0h1m-0.5 0h1m2.5-0.5h1m0 0.5h1m1.5-0.5h1m6.5 0h1m4-0.5h1m-1 0.5h1m-34 0.5h1m-0.5 1h1m2-0.5h1m0 0h1m11 0h1m2.5 0h1m-0.5 0.5h1m1-1h1m0.5 0h1m2.5 0.5h1m2.5 0h1m0.5 0h1m-0.5 0h1m-33.5 1h1m1.5 0.5h1m-1 0h1m5 0h1m1.5-1h1m0.5 0.5h1m0 0h1m2 0.5h1m1.5-0.5h1m5 0.5h1m5-1h1m3 0h1m-32 1.5h1m0.5 0.5h1m1.5-0.5h1m0 0.5h1m0-1h1m1.5 0.5h1m0.5-0.5h1m0 0.5h1m7.5 0h1m0-0.5h1m2.5 1h1m1-0.5h1m-0.5 0h1m-31 1h1m1-0.5h1m1 0h1m2 0.5h1m2-0.5h1m0 0h1m2.5 0.5h1m2 0h1m-1 0h1m-0.5 0h1m12 0h1m1.5 0h1m-34 1h1m-1-0.5h1m-0.5 1h1m0.5-0.5h1m1-0.5h1m4.5 0.5h1m-1-0.5h1m-0.5 1h1m3.5 0h1m0 0h1m9.5-1h1m-26.5 1h1m0.5 0.5h1m-0.5 0h1m6 0h1m-0.5 0h1m-0.5 0.5h1m0.5-0.5h1m-0.5 0.5h1m3-0.5h1m0 0h1m-16.5 1h1m1.5 0.5h1m0.5 0h1m4.5-1h1m1 1h1m-0.5-1h1m0.5 1h1m-11 0h1m1.5 0.5h1m4 0h1m2-0.5h1m-15 1h1m1.5 0.5h1m0.5 0h1m10.5 0h1m-13 0.5h1m-1 0.5h1m-0.5-0.5h1m1.5 1h1m2.5-1h1m-0.5 0h1m-1 2h1" stroke="#3f4c9e" stroke-width="1" fill="none"/>
<path d="M76 274.5h1m6 0.5h1m-5.5 1h1m3 0.5h1m-6 0.5h1m0.5 0.5h1m0.5 0h1m-1-0.5h1m1.5 0.5h1m-11.5 0h1m-1 0.5h1m-0.5 0h1m4 0.5h1m2.5 0h1m5-0.5h1m-12 1h1m2 0h1m0.5 0.5h1m-0.5-1h1m-0.5 0.5h1m-0.5 0h1m-0.5 0h1m-0.5 0h1m-0.5 0h1m0.5 0.5h1m0-0.5h1m4 0h1m-23.5 1h1m2.5 0h1m0.5 0.5h1m0-0.5h1m1.5-0.5h1m0 0h1m0.5 0.5h1m1.5 0.5h1m0.5-0.5h1m3.5 0.5h1m-0.5 0h1m-20 0h1m6.5 0h1m-0.5 1h1m6-0.5h1m0 0.5h1m2-0.5h1m3 0h1m-1 0h1m-28 1h1m50.5 0.5h1m4-0.5h1m-54.5 1.5h1m0-1h1m1 1h1m4.5 0h1m5.5-0.5h1m-1-0.5h1m0 0h1m0 0h1m28.5 0.5h1m1 0h1m9.5 0h1m-56.5 0.5h1m0 0.5h1m8.5 0h1m5 0.5h1m12-1h1m18.5 1h1m-0.5-0.5h1m2 0h1m-62.5 1h1m2.5 0h1m0.5 0h1m5 0h1m3.5-0.5h1m0 0.5h1m1 0h1m-0.5 0.5h1m1.5-0.5h1m0.5 0.5h1m24.5-0.5h1m5 0h1m0 0.5h1m-0.5-1h1m2 1h1m3 0h1m2.5 0h1m-60.5 0.5h1m1.5 0h1m3 0.5h1m1.5-0.5h1m1-0.5h1m7 1h1m26.5-0.5h1m1 0h1m10.5 0h1m-67.5 1h1m10.5-0.5h1m-0.5 0h1m0.5 0.5h1m0 0h1m14-0.5h1m13.5 0.5h1m5 0h1m0.5 0.5h1m0 0h1m9 0h1m4-1h1m-65 2h1m-0.5 0h1m2.5-1h1m4.5 0.5h1m2-0.5h1m1.5 0h1m9 0h1m6.5 0h1m1 0h1m3 0.5h1m2.5 0h1m5 0.5h1m0 0h1m3.5-0.5h1m5-0.5h1m4 0h1m0 0h1m-27 1.5h1m11 0h1m0.5 0h1m-0.5 0h1m-0.5 0.5h1m5-1h1m0.5 1h1m0 0h1m-0.5-0.5h1m-68.5 0.5h1m12.5 0h1m3.5 1h1m0.5-0.5h1m32.5 0.5h1m1 0h1m3 0h1m-1-0.5h1m4 0h1m-0.5 0h1m-0.5-0.5h1m-68.5 1.5h1m10.5 0.5h1m8-0.5h1m-0.5 0h1m3.5 0.5h1m1.5-0.5h1m18.5 0h1m1 0h1m1.5-0.5h1m7 0.5h1m0 0h1m7.5 0.5h1m0-1h1m-50.5 1.5h1m3-0.5h1m3 1h1m3.5-1h1m8.5 0.5h1m2 0h1m3 0h1m6 0h1m6 0.5h1m5.5-0.5h1m-68 0.5h1m25.5 1h1m2.5-0.5h1m7.5 0.5h1m-0.5-1h1m6 0.5h1m-46 0.5h1m24 1h1m11 0h1m14-0.5h1m-0.5 0.5h1m3.5-0.5h1m-64.5 1h1m-1 0h1m2 0h1m9.5 0h1m6.5-0.5h1m2 0.5h1m19.5-0.5h1m16.5 1h1m-41.5 1h1m7-0.5h1m9.5 0.5h1m-51.5 0.5h1m30 0h1m3-0.5h1m0.5 0.5h1m-0.5 0.5h1m29.5 0h1m-54.5 1h1m4-1h1m-1 0.5h1m1 0h1m18.5 0h1m-1 0h1m6 0h1m8 0.5h1m2.5 0h1m-0.5 0h1m-0.5-0.5h1m0 0.5h1m-66 1h1m35.5-0.5h1m36.5 0h1m-35.5 1h1m2-0.5h1m-1 1h1m17 0h1m-0.5-0.5h1m-58 1h1m21.5 0h1m-0.5 0h1m11.5 0h1m-0.5 0h1m9.5 0.5h1m2.5 0h1m3 0h1m-1 0h1m1-0.5h1m2 0h1m15-0.5h1m0 0.5h1m0-0.5h1m-85.5 2h1m23.5-0.5h1m14.5 0h1m4-0.5h1m1 0h1m3 0.5h1m4 0h1m2.5 0h1m6-0.5h1m-1 0.5h1m1 0h1m0 0h1m1 0h1m5 0.5h1m0 0h1m1-0.5h1m-81 1h1m2-0.5h1m21 1h1m17-1h1m0.5 0.5h1m13 0h1m-0.5-0.5h1m0 1h1m1.5 0h1m1-0.5h1m2.5 0h1m4.5 0.5h1m1.5-0.5h1m-77 1h1m4 0h1m36 0h1m7.5 0h1m7 0h1m2 0h1m7.5 0h1m6 0h1m-74.5 1.5h1m42.5-0.5h1m0 0h1m10-0.5h1m2.5 0.5h1m7 0h1m10.5 0.5h1m5 0h1m-91 0h1m7 1h1m42.5-0.5h1m19.5 0.5h1m9-0.5h1m-75 0.5h1m51.5 0.5h1m-0.5-0.5h1m1 0.5h1m0.5 0h1m-1-0.5h1m17.5 0.5h1m-82.5 1h1m1 0h1m3.5-0.5h1m-1 1h1m29.5-0.5h1m25-0.5h1m-1 1h1m0-1h1m1.5 0.5h1m3.5-0.5h1m0 0.5h1m8.5-0.5h1m-85.5 1h1m54 0.5h1m3-0.5h1m15 1h1m6.5-0.5h1m0 0h1m0 0h1m-81.5 1h1m39 0h1m11.5 0.5h1m4-1h1m1.5 0.5h1m-0.5 0h1m2 0.5h1m13-0.5h1m-0.5 0h1m4.5-0.5h1m-1 0h1m-5.5 1.5h1m0 0h1m0.5-0.5h1m-34 1.5h1m9.5 0h1m18 0.5h1m2.5 0h1m-86 0.5h1m60-0.5h1m-58 2h1m0-0.5h1m51 0.5h1m5.5 0h1m-0.5-0.5h1m8 0h1m10 0h1m-25 1h1m8.5 0.5h1m2.5-0.5h1m1.5 0h1m7 0.5h1m-82 0h1m2 0h1m48 1h1m3-0.5h1m11.5 0h1m9.5 0h1m6 0h1m-87 0.5h1m0.5 1h1m48-0.5h1m11-0.5h1m-0.5 1h1m14.5 0h1m-81.5 0.5h1m0 0.5h1m5-0.5h1m-3 1h1m49.5-0.5h1m18.5 1h1m-74.5 1h1m3 0h1m56-0.5h1m26 0h1m-40 1.5h1m8.5-0.5h1m12.5 0.5h1m-73.5 0.5h1m47.5-0.5h1m1 0h1m22 1h1m-22 0.5h1m8.5-0.5h1m-61 1.5h1m-0.5 0.5h1m53.5-0.5h1m-58 1h1m0.5 0.5h1m82.5-1h1m-79.5 1.5h1m54.5 0h1m10-0.5h1m13 0.5h1m-0.5 0h1m-0.5 0h1m-82.5 1.5h1m0.5-1h1m65 0.5h1m4 0h1m-75.5 1h1m4 0.5h1m66-0.5h1m-69 1h1m52 0h1m4.5 0h1m-1 0h1m20 0h1m-85 1h1m2 0h1m0 0h1m40 0h1m18 0.5h1m4.5-0.5h1m-18 1.5h1m-1 0.5h1m18 0h1m11.5-0.5h1m-78.5 2h1m1 1h1m37-1h1m9 1h1m16.5-1h1m-2.5 1.5h1m8.5 0h1m-4 1.5h1m4-1h1m-28.5 1.5h1m1.5 0h1m0.5 0.5h1m13.5 0.5h1m-22.5 1h1m10.5 0h1m19.5 0.5h1m-40 0.5h1m11.5-0.5h1m11 0.5h1m-6 1.5h1m16-1h1m-9.5 1.5h1m3.5 0h1m0.5 0.5h1m-4 1h1m2.5 0h1m-34.5 1h1m31-0.5h1m2 0h1m0 0.5h1m-0.5 0h1m-5 0h1m-25.5 1h1m9 0h1m0 0.5h1m5.5-0.5h1m4 1h1m-1-1h1m-0.5 0h1m-0.5 0.5h1m1-0.5h1m2.5 0h1m-32 1.5h1m0.5 0h1m1.5 0h1m19-0.5h1m6.5 0.5h1m-33 1.5h1m22 0h1m2.5-0.5h1m-0.5 0.5h1m2.5 0h1m2.5-1h1m-0.5 0h1m-25.5 1h1m0.5 0.5h1m9 0h1m3-0.5h1m0 1h1m-1 0h1m0-1h1m-3.5 2h1m2-0.5h1m-17 1h1m7-0.5h1m1 0h1m6 0.5h1m-22.5 1h1m17 0h1m1 0h1m-20 1.5h1m0.5 0h1m2.5-1h1m12.5 0.5h1m-17.5 2h1m-3.5 0.5h1m5.5 1.5h1m-7 2.5h1" stroke="#d92330" stroke-width="1" fill="none"/>
<g filter="url(#bl6)"><path d="M385.4 58.6L385.8 56.9L386.6 55.5L387.6 54.3L388.7 53.4L390.1 52.8L391.8 52.3L393.5 52.1L395.2 52.1L396.9 52.4L398.6 53.0L400.3 53.7L401.6 54.7L402.6 56.0L403.3 57.6L403.9 59.4L404.2 61.2L404.2 63.1L403.8 65.1L403.5 67.2L403.4 68.9L403.6 70.5L403.9 72.0L404.5 73.1L405.5 73.5L407.1 73.1L409.2 72.0L411.4 70.6L413.2 69.4L414.4 68.4L415.2 67.4L416.0 66.5L417.1 65.8L418.5 65.4L420.1 65.3L421.8 65.4L423.5 65.5L425.1 66.0L426.8 66.8L428.4 67.5L430.0 67.9L431.5 67.8L432.9 67.3L434.4 66.9L435.9 66.8L437.5 67.2L439.1 67.7L440.7 68.5L442.1 69.4L443.0 70.6L443.7 72.1L444.4 73.5L445.4 74.6L446.8 75.1L448.4 75.4L450.1 75.4L451.9 75.3L453.7 75.0L455.6 74.5L457.5 73.9L459.6 73.5L461.8 73.4L464.2 73.5L466.5 73.7L468.6 74.0L470.5 74.6L472.2 75.3L473.6 76.1L474.5 77.1L474.9 78.5L474.9 80.1L474.5 81.8L473.8 83.1L472.4 83.9L470.6 84.6L468.7 85.1L467.3 85.6L466.5 86.2L466.0 86.8L465.8 87.4L466.0 88.2L466.7 89.4L467.9 90.7L469.2 92.2L470.4 93.4L471.3 94.4L472.1 95.2L472.9 96.0L473.8 96.7L474.7 97.4L475.6 98.1L476.6 98.7L477.6 99.3L478.9 99.8L480.4 100.2L481.8 100.6L482.8 101.1L483.3 101.7L483.4 102.5L483.3 103.2L482.8 103.9L481.8 104.6L480.4 105.3L478.8 105.9L477.6 106.5L476.6 107.1L475.7 107.8L475.1 108.3L475.0 108.8L475.7 109.2L477.0 109.4L478.4 109.7L479.7 110.1L480.8 110.8L481.9 111.6L482.8 112.4L483.3 113.2L483.4 114.1L483.2 115.0L482.6 115.8L481.7 116.3L480.3 116.5L478.5 116.4L476.5 116.1L475.0 115.8L474.1 115.2L473.5 114.4L473.0 113.9L472.5 114.0L471.8 115.1L471.2 117.0L470.7 119.1L470.4 120.9L470.5 122.5L471.0 123.9L471.5 125.3L472.0 126.9L472.2 128.7L472.5 130.7L472.7 132.8L473.0 134.6L473.5 136.3L474.1 137.8L474.5 139.2L474.5 140.5L474.0 141.7L473.1 142.7L471.9 143.7L470.4 144.4L468.6 144.8L466.4 145.1L464.2 145.3L462.2 145.7L460.5 146.4L458.9 147.4L457.5 148.4L456.0 149.3L454.4 150.1L452.9 150.9L451.3 151.5L449.8 151.9L448.2 151.8L446.5 151.3L444.9 150.8L443.6 150.3L442.6 149.8L441.7 149.1L441.1 148.7L440.5 148.8L440.2 149.6L440.2 151.0L440.1 152.6L439.5 153.9L438.4 155.0L436.9 156.1L435.2 156.9L433.3 157.3L431.1 157.2L428.6 156.7L426.1 155.9L424.0 155.0L422.3 153.8L420.8 152.5L419.6 151.0L418.9 149.3L418.6 147.3L418.8 145.1L419.2 142.9L419.9 141.0L420.9 139.7L422.1 138.6L423.5 137.7L424.8 136.9L426.2 136.3L427.8 135.9L429.0 135.6L429.2 135.4L428.1 135.3L426.0 135.3L423.4 135.3L420.9 135.4L418.5 135.4L415.9 135.5L413.3 135.6L410.6 135.4L407.9 135.0L405.2 134.4L402.4 133.7L399.8 132.8L397.2 131.7L394.6 130.3L392.2 128.9L390.0 127.4L388.1 125.9L386.4 124.3L384.9 122.7L383.6 120.9L382.5 119.2L381.5 117.3L380.8 115.4L380.2 113.2L379.8 110.8L379.5 108.1L379.4 105.4L379.4 102.9L379.7 100.7L380.2 98.8L380.9 96.9L381.8 95.2L382.9 93.6L384.2 92.2L385.6 90.8L386.9 89.5L388.3 88.2L389.7 86.9L391.0 85.7L392.1 84.4L392.9 82.9L393.5 81.5L393.9 80.0L393.9 78.7L393.3 77.6L392.3 76.7L391.1 75.7L390.0 74.6L389.0 73.2L388.0 71.8L387.1 70.2L386.4 68.4L385.9 66.1L385.5 63.4L385.3 60.8Z" fill="#fdfdf9" clip-path="url(#cl7)"/><path d="M385.1 58.6L385.8 56.9L387.0 55.5L388.4 54.4L389.8 53.7L391.1 53.3L392.4 53.3L393.8 53.7L395.2 54.5L396.7 55.8L398.3 57.7L399.7 59.8L400.6 61.9L400.9 64.1L400.9 66.4L400.5 68.7L399.8 70.7L398.8 72.6L397.5 74.4L396.0 75.8L394.4 76.1L392.6 75.2L390.6 73.2L388.7 70.8L387.2 68.4L386.1 66.0L385.4 63.3L385.0 60.7Z" fill="#d3cbea" clip-path="url(#cl7)"/><path d="M393.9 74.0L394.8 72.9L396.3 72.3L397.9 72.2L399.0 72.8L399.8 74.5L400.3 77.1L400.5 79.8L400.3 81.8L399.4 82.9L397.9 83.6L396.3 83.7L395.2 83.1L394.4 81.4L393.9 78.7L393.7 76.0Z" fill="#e5e0f2" clip-path="url(#cl7)"/><path d="M397.7 80.0L399.6 79.6L401.7 79.2L403.9 79.3L406.0 80.0L408.0 81.6L410.1 83.9L412.1 86.5L414.0 89.0L415.8 91.3L417.6 93.7L419.3 96.1L420.7 98.5L421.8 100.9L422.6 103.3L423.2 105.7L423.5 108.3L423.5 111.3L423.2 114.5L422.7 117.6L422.0 120.4L421.0 122.8L419.8 124.8L418.4 126.7L416.8 128.4L415.0 130.1L412.9 131.7L410.8 133.0L408.6 133.8L406.3 134.1L404.0 133.9L401.7 133.4L399.3 132.5L396.9 131.3L394.4 129.8L391.9 127.9L389.8 125.8L387.8 123.4L385.9 120.6L384.3 117.7L383.1 115.0L382.1 112.5L381.5 110.2L381.1 107.8L381.0 105.5L381.1 103.1L381.6 100.8L382.2 98.4L383.1 96.2L384.2 94.1L385.6 92.0L387.1 90.0L388.5 88.2L389.6 86.6L390.5 85.2L391.5 83.9L392.6 82.8L393.7 81.9L394.9 81.1L396.2 80.4Z" fill="#d3cbea" clip-path="url(#cl7)"/><path d="M380.7 114.0L380.3 112.1L379.9 109.6L379.7 106.9L379.7 104.5L380.0 102.2L380.4 99.9L381.1 98.1L381.8 97.2L382.6 97.6L383.6 98.9L384.6 100.7L385.4 102.9L385.8 105.6L386.0 108.8L386.3 112.2L386.9 115.3L388.2 118.2L390.0 121.2L391.7 123.8L392.6 125.6L392.6 126.6L391.9 127.0L390.9 126.8L389.8 125.8L388.2 123.7L386.4 120.5L384.5 117.3L383.1 115.0L382.1 114.3L381.5 114.4L381.1 114.6Z" fill="#f0eeea" clip-path="url(#cl7)"/><path d="M412.7 67.6L413.7 66.7L415.1 65.9L416.8 65.3L418.4 65.0L420.0 65.1L421.7 65.5L423.3 66.1L424.8 66.8L426.2 67.8L427.5 68.9L428.5 70.2L429.2 71.5L429.4 72.8L429.3 74.2L428.9 75.5L428.1 76.6L427.0 77.5L425.5 78.1L423.9 78.5L422.2 78.7L420.6 78.5L418.8 78.1L417.2 77.4L415.8 76.6L414.7 75.6L413.8 74.5L413.2 73.2L412.7 72.0L412.3 70.8L412.1 69.7L412.2 68.6Z" fill="#f2f1d6" clip-path="url(#cl7)"/><path d="M431.2 68.9L432.3 68.1L433.8 67.4L435.4 67.0L436.9 66.8L438.3 67.1L439.7 67.7L441.0 68.5L442.1 69.4L442.8 70.5L443.4 71.9L443.6 73.3L443.6 74.6L443.2 75.8L442.4 76.9L441.4 78.0L440.3 78.7L438.9 79.1L437.3 79.2L435.7 79.1L434.3 78.7L433.3 77.9L432.4 76.7L431.7 75.4L431.2 74.0L430.9 72.7L430.7 71.3L430.8 70.0Z" fill="#f2f1d6" clip-path="url(#cl7)"/><path d="M454.4 76.6L455.5 75.7L457.1 75.0L459.0 74.4L460.9 74.0L462.8 73.8L464.8 73.7L466.8 73.8L468.6 74.0L470.4 74.4L472.1 75.0L473.6 75.7L474.5 76.6L474.9 77.9L474.8 79.5L474.4 81.0L473.8 82.3L472.8 83.2L471.6 83.9L470.2 84.5L468.6 84.9L466.8 85.1L464.7 85.2L462.7 85.1L460.9 84.9L459.3 84.5L457.9 83.9L456.7 83.2L455.7 82.3L454.9 81.0L454.3 79.5L454.1 77.9Z" fill="#f2f1d6" clip-path="url(#cl7)"/><path d="M430.0 86.9L431.5 84.9L433.9 83.5L436.6 82.3L439.0 81.3L441.0 80.2L442.9 79.3L444.8 78.7L446.7 78.7L448.6 79.6L450.6 81.1L452.5 82.9L454.4 84.4L456.4 85.4L458.3 86.3L460.2 87.2L462.2 88.2L464.2 89.4L466.3 90.6L468.3 91.9L469.9 93.4L471.0 95.0L471.7 96.8L472.2 98.8L472.5 101.1L472.4 103.8L471.9 106.7L471.4 109.8L471.2 112.7L471.3 115.4L471.7 117.9L472.1 120.5L472.5 123.0L472.6 125.7L472.8 128.4L472.9 131.0L473.0 133.3L473.3 135.2L473.6 136.9L473.8 138.4L473.8 139.8L473.3 141.1L472.6 142.3L471.7 143.3L470.4 144.1L468.6 144.5L466.5 144.6L464.2 144.6L462.2 144.9L460.4 145.7L458.8 146.8L457.3 147.9L455.7 148.8L454.1 149.5L452.5 150.2L450.9 150.7L449.3 150.8L447.6 150.7L446.0 150.3L444.4 149.6L442.8 148.8L441.4 147.7L440.0 146.5L438.8 145.1L437.7 143.6L436.9 142.1L436.3 140.5L435.8 138.8L435.1 137.2L434.2 135.6L433.1 134.1L432.1 132.5L431.2 130.7L430.5 128.7L429.9 126.5L429.4 124.2L429.2 121.7L429.3 119.0L429.8 116.0L430.4 113.0L430.7 110.1L430.9 107.5L430.9 105.1L430.8 102.5L430.7 99.8L430.4 96.6L429.8 93.1L429.5 89.7Z" fill="#f9f9ed" clip-path="url(#cl7)"/><path d="M455.2 94.7L455.1 95.5L454.8 96.4L454.4 97.3L453.8 98.0L453.1 98.6L452.2 99.2L451.2 99.7L450.2 100.1L449.1 100.2L448.0 100.3L446.8 100.2L445.8 100.1L444.7 99.7L443.8 99.2L442.9 98.6L442.2 98.0L441.6 97.3L441.2 96.4L440.9 95.5L440.8 94.7L440.9 93.8L441.2 92.9L441.6 92.1L442.2 91.3L442.9 90.7L443.8 90.1L444.7 89.6L445.8 89.3L446.8 89.1L448.0 89.0L449.1 89.1L450.2 89.3L451.2 89.6L452.2 90.1L453.1 90.7L453.8 91.3L454.4 92.1L454.8 92.9L455.1 93.8Z" fill="#f2f1d6" clip-path="url(#cl7)"/><path d="M458.0 114.0L457.9 115.0L457.7 116.0L457.3 116.9L456.8 117.8L456.1 118.5L455.3 119.2L454.3 119.7L453.4 120.1L452.4 120.3L451.3 120.4L450.3 120.3L449.3 120.1L448.3 119.7L447.4 119.2L446.6 118.5L445.9 117.8L445.4 116.9L445.0 116.0L444.7 115.0L444.6 114.0L444.7 113.0L445.0 112.0L445.4 111.0L445.9 110.2L446.6 109.5L447.4 108.8L448.3 108.2L449.3 107.9L450.3 107.6L451.3 107.6L452.4 107.6L453.4 107.9L454.3 108.2L455.3 108.8L456.1 109.5L456.8 110.2L457.3 111.0L457.7 112.0L457.9 113.0Z" fill="#f2f1d6" clip-path="url(#cl7)"/><path d="M469.1 126.1L469.0 126.9L468.8 127.7L468.4 128.5L467.9 129.1L467.2 129.7L466.4 130.3L465.6 130.7L464.7 131.0L463.7 131.2L462.7 131.2L461.6 131.2L460.7 131.0L459.8 130.7L458.9 130.3L458.1 129.7L457.5 129.1L457.0 128.5L456.6 127.7L456.3 126.9L456.2 126.1L456.3 125.3L456.6 124.5L457.0 123.7L457.5 123.1L458.1 122.5L458.9 121.9L459.8 121.5L460.7 121.2L461.6 121.0L462.7 121.0L463.7 121.0L464.7 121.2L465.6 121.5L466.4 121.9L467.2 122.5L467.9 123.1L468.4 123.7L468.8 124.5L469.0 125.3Z" fill="#f2f1d6" clip-path="url(#cl7)"/><path d="M454.4 141.6L454.3 142.7L454.0 143.8L453.6 144.9L453.0 145.8L452.2 146.6L451.2 147.4L450.2 148.0L449.1 148.4L447.9 148.7L446.7 148.7L445.5 148.7L444.3 148.4L443.2 148.0L442.2 147.4L441.2 146.6L440.4 145.8L439.8 144.9L439.4 143.8L439.1 142.7L439.0 141.6L439.1 140.5L439.4 139.3L439.8 138.3L440.4 137.3L441.2 136.5L442.2 135.7L443.2 135.1L444.3 134.7L445.5 134.5L446.7 134.4L447.9 134.5L449.1 134.7L450.2 135.1L451.2 135.7L452.2 136.5L453.0 137.3L453.6 138.3L454.0 139.3L454.3 140.5Z" fill="#f2f1d6" clip-path="url(#cl7)"/><path d="M473.0 138.5L472.9 139.2L472.7 139.9L472.3 140.6L471.8 141.2L471.2 141.7L470.4 142.2L469.6 142.6L468.7 142.9L467.8 143.0L466.8 143.1L465.8 143.0L464.9 142.9L464.0 142.6L463.2 142.2L462.4 141.7L461.8 141.2L461.3 140.6L460.9 139.9L460.7 139.2L460.6 138.5L460.7 137.8L460.9 137.0L461.3 136.3L461.8 135.7L462.4 135.2L463.2 134.7L464.0 134.3L464.9 134.1L465.8 133.9L466.8 133.8L467.8 133.9L468.7 134.1L469.6 134.3L470.4 134.7L471.2 135.2L471.8 135.7L472.3 136.3L472.7 137.0L472.9 137.8Z" fill="#f2f1d6" clip-path="url(#cl7)"/><path d="M468.6 97.2L468.5 97.8L468.3 98.4L468.0 99.0L467.6 99.5L467.1 100.0L466.5 100.4L465.8 100.7L465.0 100.9L464.3 101.0L463.4 101.1L462.6 101.0L461.9 100.9L461.1 100.7L460.4 100.4L459.8 100.0L459.3 99.5L458.9 99.0L458.6 98.4L458.4 97.8L458.3 97.2L458.4 96.7L458.6 96.0L458.9 95.5L459.3 95.0L459.8 94.5L460.4 94.1L461.1 93.8L461.9 93.6L462.6 93.4L463.4 93.4L464.3 93.4L465.0 93.6L465.8 93.8L466.5 94.1L467.1 94.5L467.6 95.0L468.0 95.5L468.3 96.0L468.5 96.7Z" fill="#f7f6e6" clip-path="url(#cl7)"/><path d="M444.1 121.7L444.0 122.6L443.8 123.5L443.5 124.3L443.0 125.0L442.5 125.7L441.8 126.3L441.0 126.8L440.2 127.1L439.4 127.3L438.5 127.4L437.5 127.3L436.7 127.1L435.9 126.8L435.1 126.3L434.4 125.7L433.9 125.0L433.4 124.3L433.1 123.5L432.9 122.6L432.8 121.7L432.9 120.9L433.1 120.0L433.4 119.1L433.9 118.4L434.4 117.7L435.1 117.1L435.9 116.7L436.7 116.3L437.5 116.1L438.5 116.1L439.4 116.1L440.2 116.3L441.0 116.7L441.8 117.1L442.5 117.7L443.0 118.4L443.5 119.1L443.8 120.0L444.0 120.9Z" fill="#f7f6e6" clip-path="url(#cl7)"/><path d="M482.8 101.6L482.7 102.0L482.5 102.3L482.3 102.7L481.9 103.0L481.5 103.3L481.0 103.5L480.4 103.7L479.7 103.8L479.1 103.9L478.4 103.9L477.7 103.9L477.0 103.8L476.4 103.7L475.8 103.5L475.3 103.3L474.8 103.0L474.5 102.7L474.2 102.3L474.1 102.0L474.0 101.6L474.1 101.3L474.2 100.9L474.5 100.6L474.8 100.3L475.3 100.0L475.8 99.8L476.4 99.6L477.0 99.4L477.7 99.3L478.4 99.3L479.1 99.3L479.7 99.4L480.4 99.6L481.0 99.8L481.5 100.0L481.9 100.3L482.3 100.6L482.5 100.9L482.7 101.3Z" fill="#f2f1d6" clip-path="url(#cl7)"/><path d="M482.3 112.7L482.2 113.1L482.0 113.6L481.8 114.0L481.4 114.4L481.0 114.7L480.4 115.0L479.8 115.2L479.2 115.4L478.6 115.5L477.9 115.5L477.2 115.5L476.5 115.4L475.9 115.2L475.3 115.0L474.8 114.7L474.3 114.4L474.0 114.0L473.7 113.6L473.6 113.1L473.5 112.7L473.6 112.3L473.7 111.8L474.0 111.4L474.3 111.0L474.8 110.7L475.3 110.4L475.9 110.2L476.5 110.0L477.2 109.9L477.9 109.9L478.6 109.9L479.2 110.0L479.8 110.2L480.4 110.4L481.0 110.7L481.4 111.0L481.8 111.4L482.0 111.8L482.2 112.3Z" fill="#f2f1d6" clip-path="url(#cl7)"/><path d="M419.6 141.0L420.3 139.7L421.2 138.7L422.3 137.8L423.5 137.2L425.0 136.7L426.7 136.4L428.4 136.3L430.0 136.4L431.4 136.6L432.7 137.1L433.9 137.7L435.1 138.5L436.2 139.5L437.3 140.8L438.2 142.2L439.0 143.6L439.6 145.2L440.0 146.8L440.3 148.5L440.3 150.1L440.0 151.5L439.5 152.9L438.7 154.2L437.7 155.2L436.4 156.0L434.8 156.6L433.0 157.0L431.2 157.0L429.3 156.8L427.2 156.2L425.2 155.4L423.5 154.4L422.1 153.3L420.8 151.9L419.8 150.4L419.1 148.8L418.8 146.9L418.9 144.8L419.2 142.8Z" fill="#f2f1d6" clip-path="url(#cl7)"/><path d="M402.9 74.0L404.3 72.9L406.8 71.9L409.9 70.9L413.2 70.2L416.7 69.5L420.6 69.0L424.7 68.7L428.7 68.9L432.6 69.6L436.7 70.7L440.6 72.2L444.1 74.0L447.5 76.4L450.7 79.4L453.2 82.2L454.4 84.4L453.9 85.5L452.2 86.1L449.6 86.5L446.7 86.9L443.3 87.8L439.1 88.7L434.9 89.4L431.2 89.5L428.4 88.8L425.9 87.4L423.6 85.8L420.9 84.4L417.7 83.1L414.2 81.8L410.8 80.5L408.0 79.2L405.9 77.9L404.0 76.5L402.9 75.2Z" fill="#fafaf0" clip-path="url(#cl7)"/><path d="M422.2 86.9L423.9 86.4L426.6 88.2L429.4 91.3L431.2 94.7L432.0 98.6L432.2 103.5L431.9 108.5L431.2 112.7L429.9 116.4L428.1 119.8L426.2 122.2L424.8 123.0L424.2 121.7L424.1 118.7L424.2 114.6L424.0 110.1L423.4 104.3L422.5 97.2L421.9 90.8Z" fill="#fafaf0" clip-path="url(#cl7)"/></g>
<path d="M390 53.5h1m2-1h1m0.5 0.5h1m0.5 0h1m-1 1h1m1.5 0.5h1m0.5 2h1m1-0.5h1m-4.5 1.5h1m-12.5 2.5h1m-2.5 0.5h1m9.5 1h1m-6.5 2.5h1m9.5 0h1m-9.5 0.5h1m0.5 0.5h1m7.5 0h1m16 1.5h1m-4 0.5h1m-0.5-0.5h1m-0.5 0.5h1m-0.5-0.5h1m0.5 0.5h1m2 0.5h1m10 0h1m-12.5 0.5h1m-0.5 0h1m2 0h1m11 0h1m-39.5 1h1m14 0h1m-0.5 0h1m6 0h1m2 0.5h1m0.5-0.5h1m-1-0.5h1m0.5 1h1m0.5-0.5h1m2 0h1m5-0.5h1m2 0.5h1m-19.5 1.5h1m-0.5-0.5h1m-1-0.5h1m0.5 0.5h1m9.5 0h1m3.5 0.5h1m0.5-1h1m0 0h1m-32 2h1m5.5-1h1m-0.5 0.5h1m1 0h1m0.5 0h1m-0.5 0h1m-0.5-0.5h1m0 0.5h1m-0.5 0.5h1m0 0h1m2-0.5h1m5.5 0h1m-0.5 0.5h1m7-0.5h1m-56 1h1m21 0.5h1m1.5-0.5h1m1.5 0h1m1-0.5h1m1.5 0.5h1m-0.5-0.5h1m7.5 0.5h1m0.5 0h1m3 0.5h1m-0.5-0.5h1m0 0h1m1.5 0h1m2-0.5h1m-34.5 2h1m15-0.5h1m-0.5 0h1m8 0.5h1m2 0h1m1-0.5h1m1-0.5h1m-0.5 1h1m-0.5-0.5h1m-51.5 1h1m16 0.5h1m1-1h1m-0.5 0.5h1m3.5-0.5h1m6 0.5h1m-1-0.5h1m-0.5 0h1m0 0h1m2 0h1m3 0.5h1m0 0.5h1m1-0.5h1m0 0h1m0 0h1m-0.5 0h1m1-0.5h1m3 0.5h1m-45 1h1m14 0h1m2 0h1m1 0.5h1m0 0h1m-0.5 0h1m-0.5-0.5h1m-0.5 0h1m-1 0.5h1m-0.5-0.5h1m-1-0.5h1m-0.5 0.5h1m3 0.5h1m0-1h1m4 0.5h1m-0.5 0.5h1m-0.5 0h1m0.5-0.5h1m-0.5 0.5h1m1-0.5h1m-0.5 0h1m2.5 0h1m2.5 0h1m12 0.5h1m-0.5-1h1m1.5 1h1m4.5 0h1m1 0h1m3 0h1m-62.5 0.5h1m5 0.5h1m0-0.5h1m-1-0.5h1m-1 0.5h1m3.5-0.5h1m1.5 0.5h1m0.5 0h1m1 0.5h1m2.5-0.5h1m-0.5-0.5h1m0.5 0.5h1m0-0.5h1m0 0h1m-1 1h1m-1 0h1m3-0.5h1m27 0h1m3 0.5h1m0 0h1m-0.5-1h1m-74.5 1.5h1m5 0.5h1m3 0h1m14.5-1h1m10 0.5h1m10.5 0.5h1m-1-0.5h1m1 0h1m1 0.5h1m5 0h1m-0.5-0.5h1m5 0.5h1m7.5-0.5h1m0 0h1m0 0h1m-0.5 0.5h1m-53.5 0h1m8 0.5h1m-0.5-0.5h1m-0.5 0.5h1m4 0h1m1.5 0.5h1m0.5-1h1m-0.5 1h1m0-0.5h1m4.5 0h1m9.5 0h1m0.5-0.5h1m0 0.5h1m0 0.5h1m2.5-0.5h1m0 0h1m4-0.5h1m1 0.5h1m-67 0.5h1m6 1h1m0-1h1m1 0h1m1.5 1h1m1-0.5h1m0 0h1m2.5 0.5h1m1.5-0.5h1m1.5 0h1m-0.5 0h1m4 0h1m3 0h1m3 0h1m9 0.5h1m0.5-0.5h1m-0.5 0h1m-0.5 0h1m1 0h1m0 0h1m0-0.5h1m0 0.5h1m0 0h1m-0.5 0.5h1m0 0h1m0.5-0.5h1m1.5 0h1m-0.5-0.5h1m-74 2h1m14-0.5h1m3-0.5h1m1.5 0.5h1m15.5 0h1m1 0h1m10-0.5h1m12.5 0.5h1m4.5 0h1m-0.5-0.5h1m3 1h1m0.5-0.5h1m-1 0h1m-61.5 1.5h1m0-0.5h1m1.5 0h1m3.5 0.5h1m-0.5-1h1m9.5 0.5h1m15 0h1m0 0h1m-0.5-0.5h1m0.5 1h1m4.5-0.5h1m0.5-0.5h1m-0.5 1h1m1 0h1m2.5 0h1m5-0.5h1m-0.5 0.5h1m-1 0h1m2-0.5h1m-65 1h1m1 0.5h1m4.5 0h1m1-0.5h1m2.5 0h1m14 0h1m4 0h1m0 0h1m2 0h1m1 0.5h1m0-1h1m1 0.5h1m3 0.5h1m4-1h1m-1 1h1m4 0h1m-1 0h1m4.5-0.5h1m2.5 0h1m-64 1.5h1m10.5-1h1m1.5 0.5h1m5.5 0h1m4-0.5h1m1.5 0.5h1m2 0h1m0 0h1m9.5 0.5h1m8-0.5h1m6 0h1m1.5-0.5h1m-75 1h1m13.5 1h1m6.5 0h1m5.5-1h1m6.5 0h1m0.5 1h1m-0.5 0h1m1.5-1h1m4.5 0.5h1m-0.5 0h1m12.5-0.5h1m4.5 0.5h1m3.5 0.5h1m1-0.5h1m-0.5-0.5h1m-62.5 1.5h1m5 0h1m21.5-0.5h1m3 0.5h1m-0.5-0.5h1m0 1h1m11-0.5h1m-0.5 0h1m0 0.5h1m0 0h1m2 0h1m5-1h1m-42.5 2h1m2 0h1m3.5-0.5h1m5.5 0.5h1m-1-1h1m0.5 1h1m0-0.5h1m-0.5 0.5h1m1-0.5h1m3-0.5h1m0.5 0.5h1m-1 0.5h1m4.5-0.5h1m-65 1.5h1m32.5-0.5h1m5.5-0.5h1m11 0h1m0 0.5h1m0.5 0h1m-0.5 0h1m5.5 0h1m7.5 0h1m-0.5 0h1m-35.5 1h1m2-0.5h1m6.5 0.5h1m-0.5 0h1m0 0.5h1m0-1h1m-1 1h1m-0.5-1h1m3.5 0.5h1m2 0.5h1m0.5 0h1m0.5-1h1m4.5 0.5h1m-0.5 0h1m1 0h1m1.5 0h1m-39.5 0.5h1m2 0.5h1m3-0.5h1m-1 0.5h1m3.5-0.5h1m8.5 1h1m0-1h1m1.5 0h1m2 0.5h1m-1 0h1m-0.5 0h1m-1 0h1m-0.5 0h1m8 0h1m-44.5 1h1m6.5 0h1m-0.5-0.5h1m2 0.5h1m4.5-0.5h1m7 0h1m3 0h1m-1 0.5h1m0.5-0.5h1m-0.5 1h1m3.5-0.5h1m-1 0h1m0.5 0h1m-22 0.5h1m1 0h1m0 0.5h1m-0.5-0.5h1m4 0.5h1m1.5 0.5h1m0 0h1m3.5-0.5h1m-0.5 0.5h1m0-1h1m-0.5 1h1m5.5-0.5h1m0 0.5h1m-1-0.5h1m5 0h1m0 0h1m0 0h1m-30.5 0.5h1m4 1h1m5-0.5h1m3 0.5h1m2-1h1m1 0.5h1m6 0h1m-79.5 0.5h1m4.5 0.5h1m50.5 0h1m9.5 0h1m9.5 0h1m-45 1h1m3 0h1m3.5-0.5h1m14.5 0.5h1m0 0h1m0-0.5h1m0.5 0h1m0.5 0h1m1.5 0.5h1m0 0.5h1m-1 0h1m1.5-0.5h1m2.5-0.5h1m-0.5 0.5h1m2.5-0.5h1m1 0.5h1m3.5 0h1m-59 1h1m13.5 0h1m12 0h1m0 0h1m0.5 0h1m2 0h1m-0.5 0h1m-0.5 0h1m-0.5 0h1m-1-0.5h1m1.5 0.5h1m0 0h1m4.5 0.5h1m1.5 0h1m1-1h1m0 1h1m2-1h1m-0.5 0.5h1m2-0.5h1m0 0.5h1m0.5 0h1m2 0h1m-45 1.5h1m4-0.5h1m4-0.5h1m4 0.5h1m2.5-0.5h1m0 0.5h1m2.5 0h1m-0.5 0h1m9.5 0.5h1m-35.5 0.5h1m10 0h1m3.5-0.5h1m3 1h1m1-0.5h1m0 0.5h1m-1-1h1m1.5 0.5h1m4.5 0h1m0.5 0h1m2-0.5h1m7.5 0h1m0 1h1m-66 0h1m19.5 0h1m-0.5 0h1m5.5 0.5h1m1.5 0h1m4 0.5h1m3.5-0.5h1m1 0.5h1m0-0.5h1m1 0h1m-1-0.5h1m1 0h1m1 1h1m3.5 0h1m0 0h1m2-0.5h1m2 0h1m-0.5 0h1m0 0h1m-0.5 0.5h1m0.5-0.5h1m-1 0h1m-76 1h1m26.5-0.5h1m2.5 0.5h1m8.5 0.5h1m6-1h1m0.5 0.5h1m0.5-0.5h1m0 0.5h1m-0.5 0.5h1m10-0.5h1m-0.5 0h1m2 0h1m3.5 0h1m1.5-0.5h1m-1 0.5h1m-1 0.5h1m2-1h1m1.5 1h1m2 0h1m-0.5-0.5h1m-89.5 0.5h1m2.5 0.5h1m40.5 0h1m6.5-0.5h1m5.5 0.5h1m5 0.5h1m-1 0h1m-0.5 0h1m7.5-1h1m1 0.5h1m0 0.5h1m3-0.5h1m0 0h1m9.5 0.5h1m-98.5 0h1m-1 0.5h1m42.5 0h1m3 0h1m1 0.5h1m10.5-0.5h1m10-0.5h1m0 0h1m2 0.5h1m-0.5 0.5h1m1-1h1m5 0.5h1m5.5 0h1m0 0h1m3 0.5h1m1.5-0.5h1m-67 1h1m10 0h1m3.5-0.5h1m1 0.5h1m4.5-0.5h1m-0.5 0.5h1m5 0h1m4 0h1m-0.5 0.5h1m-0.5-0.5h1m3-0.5h1m0.5 1h1m4 0h1m0-0.5h1m0.5 0.5h1m2 0h1m8-0.5h1m-0.5 0h1m3.5 0h1m1.5 0.5h1m-87 0.5h1m12.5 0.5h1m-1-0.5h1m8.5 0.5h1m4-0.5h1m1.5 0h1m3 0.5h1m0-0.5h1m8 0.5h1m0-1h1m0.5 0h1m4.5 0h1m1.5 0h1m0.5 0.5h1m2-0.5h1m1 0.5h1m14 0.5h1m-1-0.5h1m0-0.5h1m-0.5 0h1m-0.5 0.5h1m2.5 0.5h1m-0.5-0.5h1m-1 0h1m-97 1h1m38.5 0h1m4.5 0h1m1.5 0.5h1m0 0h1m2.5 0h1m1-0.5h1m15.5-0.5h1m4.5 0.5h1m1 0h1m3 0h1m7 0.5h1m4-0.5h1m-94 1.5h1m29-1h1m11.5 0.5h1m9.5 0.5h1m1-0.5h1m1-0.5h1m0.5 0.5h1m0 0h1m5 0h1m2.5 0.5h1m8 0h1m0.5-0.5h1m0 0.5h1m-86 1h1m2-0.5h1m46 0h1m4-0.5h1m15 0.5h1m-0.5 0h1m6.5 0h1m2.5-0.5h1m3.5 0.5h1m4.5 0.5h1m1-1h1m-97 1.5h1m16 0.5h1m24.5-0.5h1m1 0h1m2 0.5h1m8-0.5h1m8 0h1m6 0h1m1.5-0.5h1m1 0.5h1m1 0h1m0 0h1m-34 1.5h1m-0.5-1h1m0 0.5h1m1.5 0.5h1m1-0.5h1m6.5 0h1m3.5 0h1m3 0.5h1m3.5 0h1m5.5-1h1m1.5 0.5h1m1 0h1m4.5-0.5h1m-90 1.5h1m43.5 0.5h1m8-0.5h1m0.5 0.5h1m7.5-0.5h1m4.5 0.5h1m3 0h1m1.5-0.5h1m2.5 0.5h1m1.5-1h1m-0.5 0.5h1m7 0h1m-90.5 1.5h1m26.5-0.5h1m29 0.5h1m1 0h1m0.5-0.5h1m2 0h1m2.5 0h1m11.5-0.5h1m6 0.5h1m0 0h1m8 0h1m-96.5 0.5h1m23 0h1m16 0h1m14.5 0.5h1m8 0.5h1m1.5 0h1m3.5-0.5h1m2 0.5h1m0-1h1m11 0h1m2.5 0.5h1m-89 1h1m46.5 0h1m-1 0h1m9-0.5h1m0.5 0h1m1.5 0.5h1m-0.5 0h1m-1-0.5h1m0 1h1m-0.5-1h1m5.5 0.5h1m-0.5 0h1m3-0.5h1m0 0h1m9.5 0h1m0.5 0.5h1m3-0.5h1m-83.5 1.5h1m20 0h1m20.5-0.5h1m6 0h1m3.5 0.5h1m0.5 0.5h1m1.5 0h1m0.5-0.5h1m-1 0h1m-0.5 0h1m2 0.5h1m4-1h1m1 0h1m0 1h1m-0.5-0.5h1m1 0h1m7 0h1m0.5 0h1m-0.5 0h1m-98 1h1m14-0.5h1m12 1h1m19 0h1m9.5-0.5h1m0 0h1m-0.5 0.5h1m4 0h1m2.5 0h1m2 0h1m0-0.5h1m-0.5 0h1m4.5 0h1m-0.5 0h1m0 0.5h1m11-0.5h1m5.5 0.5h1m-1-0.5h1m-96 1.5h1m5-0.5h1m36.5 0h1m0.5 0h1m1-0.5h1m1 0.5h1m0.5-0.5h1m0 0.5h1m-0.5 0.5h1m3.5-0.5h1m3.5 0h1m0.5 0h1m1 0.5h1m0 0h1m-1-1h1m1.5 0.5h1m-1 0h1m0.5 0h1m1 0.5h1m10-1h1m7.5 1h1m0-0.5h1m1.5-0.5h1m-49 2h1m12-1h1m0 0h1m-0.5 0h1m-0.5 0.5h1m-0.5 0h1m-1 0h1m0 0h1m3 0h1m-1 0h1m9.5 0.5h1m1.5 0h1m1-0.5h1m0 0.5h1m-44.5 0.5h1m-1 0h1m9 0h1m-1 0h1m1.5 0.5h1m1.5-1h1m3 1h1m5.5-1h1m7.5 0h1m-77.5 1.5h1m-1 0.5h1m6.5-0.5h1m45.5-0.5h1m-0.5 0h1m1 0.5h1m0-0.5h1m0.5 0.5h1m-1 0.5h1m-1 0h1m2.5 0h1m0.5-0.5h1m1.5 0.5h1m3-0.5h1m-1-0.5h1m-0.5 0h1m1.5 0.5h1m13.5 0h1m-87.5 0.5h1m38.5 0.5h1m0.5 0.5h1m-0.5 0h1m-1-1h1m6 0h1m5.5 0.5h1m0-0.5h1m0 0.5h1m7.5 0h1m1 0h1m-0.5 0h1m0.5-0.5h1m-0.5 0.5h1m12.5-0.5h1m-81.5 1.5h1m44-0.5h1m1 0.5h1m2.5 0h1m1.5 0.5h1m0.5 0h1m-0.5-1h1m11.5 0.5h1m4.5 0h1m-1 0.5h1m2-0.5h1m3 0.5h1m-40.5 0.5h1m9.5 0h1m7 0h1m-0.5 0h1m-0.5 0h1m3.5 0h1m-0.5 0h1m4.5 0h1m-0.5 0h1m3.5 0h1m0 0.5h1m1.5-0.5h1m-78 1.5h1m28.5-0.5h1m4 0h1m0-0.5h1m3 1h1m1.5-0.5h1m6.5 0h1m0 0h1m-1 0h1m1 0h1m2.5 0h1m14.5 0.5h1m-0.5-0.5h1m2 0.5h1m-0.5 0h1m-0.5 0h1m-1-0.5h1m0 0h1m0 0h1m-45 0.5h1m-0.5 0.5h1m8.5 0h1m3.5 0.5h1m-1-1h1m2 1h1m1 0h1m0-1h1m-1 0.5h1m1.5 0h1m-1 0.5h1m1-1h1m3.5 0.5h1m8-0.5h1m1 0h1m5.5 1h1m-38 0h1m-0.5 0.5h1m6.5 0.5h1m4.5-1h1m-1 0h1m6 1h1m3.5 0h1m0-1h1m0.5 0h1m-1 0.5h1m-1-0.5h1m2 1h1m0.5-0.5h1m0 0h1m-1-0.5h1m0 1h1m-0.5-0.5h1m-0.5-0.5h1m1 0h1m-56.5 1.5h1m18.5-0.5h1m-0.5 0.5h1m1 0.5h1m0.5-1h1m0.5 0h1m2.5 0h1m3 0.5h1m3 0h1m8 0h1m0 0h1m0.5-0.5h1m-0.5 0h1m-1 0.5h1m0 0h1m2-0.5h1m0.5 0.5h1m-82 0.5h1m14 0h1m28 0h1m5 1h1m-0.5-0.5h1m-1 0h1m3.5 0.5h1m4.5-1h1m5.5 1h1m0 0h1m8 0h1m0 0h1m0-0.5h1m-59 1h1m17 0h1m0.5 0h1m-1 0h1m3-0.5h1m-0.5 0.5h1m0 0h1m4 0h1m9.5 0h1m2 0h1m10.5 0h1m2 0h1m-59 1h1m26.5 0h1m1.5-0.5h1m3 1h1m1.5-1h1m9 0.5h1m0.5-0.5h1m3.5 0.5h1m2.5-0.5h1m0 0h1m0 0.5h1m0 0h1m-1-0.5h1m1.5 0.5h1m-62.5 1.5h1m27-1h1m0 1h1m-0.5-1h1m4 0.5h1m3 0h1m1 0.5h1m0-1h1m6.5 1h1m0 0h1m2 0h1m0-0.5h1m2 0h1m4.5 0h1m-77.5 1.5h1m17 0h1m21 0h1m4-1h1m-1 0.5h1m3 0.5h1m0.5-1h1m5 1h1m5.5-0.5h1m3.5 0h1m-0.5 0h1m1 0.5h1m1-0.5h1m0.5-0.5h1m-46 1.5h1m1 0.5h1m-0.5-0.5h1m10.5 0.5h1m-0.5-0.5h1m4-0.5h1m11.5 0.5h1m2.5-0.5h1m-0.5 0h1m2 0.5h1m3 0h1m0 0.5h1m2 0h1m-54.5 0.5h1m15.5 0.5h1m3.5-1h1m3 0.5h1m-0.5 0h1m3 0h1m2 0.5h1m0.5-1h1m4.5 0.5h1m4.5-0.5h1m0.5 0.5h1m4.5 0.5h1m-54 0.5h1m28.5 0h1m1-0.5h1m15.5 0.5h1m6 0h1m-57.5 1h1m11.5 0h1m4.5 0h1m2 0h1m1.5 0h1m2 0h1m1.5-0.5h1m12 0.5h1m1.5 0h1m-48.5 0.5h1m18 0.5h1m5 0h1m5.5 0h1m3.5-0.5h1m1.5 0.5h1m4.5-0.5h1m2 1h1m2-1h1m0 0.5h1m2.5 0h1m4 0h1m-43 1h1m5 0h1m1.5-0.5h1m0.5 0.5h1m0 0h1m1 0.5h1m0.5-0.5h1m0-0.5h1m1 1h1m0-0.5h1m0 0h1m10-0.5h1m2.5 0.5h1m0-0.5h1m-0.5 0.5h1m2 0h1m2 0h1m-44.5 1h1m0.5 0.5h1m-0.5 0h1m-0.5 0h1m1 0h1m3 0h1m5.5 0h1m-0.5 0h1m0.5 0h1m2-0.5h1m0 0h1m3 0h1m-1 0.5h1m-0.5-1h1m0 1h1m4.5 0h1m-0.5-0.5h1m6 0h1m1 0.5h1m-41 1h1m6-1h1m0 0.5h1m-1-0.5h1m0 0.5h1m0 0h1m-1 0h1m0.5 0h1m2 0h1m-1-0.5h1m0.5 0.5h1m-0.5 0.5h1m-0.5-0.5h1m19 0h1m0.5 0.5h1m-1-0.5h1m-1 0h1m-0.5 0.5h1m-1 0h1m0 0h1m2 0h1m-1-0.5h1m-49.5 1h1m1 0h1m7 0.5h1m2-0.5h1m1 0h1m0.5 0.5h1m0.5-0.5h1m-0.5-0.5h1m1 1h1m1.5 0h1m0.5 0h1m0.5-0.5h1m0.5 0h1m2.5-0.5h1m0 0.5h1m3-0.5h1m2 0.5h1m4 0h1m0 0h1m0-0.5h1m2.5 1h1m-51 0.5h1m-0.5-0.5h1m-0.5 0.5h1m5.5 0.5h1m5.5-0.5h1m-0.5 0.5h1m1.5-0.5h1m0 0h1m0.5 0h1m0-0.5h1m0.5 0.5h1m-0.5-0.5h1m0.5 0h1m1.5 0.5h1m-0.5 0h1m0.5 0h1m-0.5 0.5h1m1.5-0.5h1m-1 0h1m6.5 0.5h1m1-0.5h1m1 0.5h1m1-1h1m1.5 0h1m-1 1h1m1.5-0.5h1m-40 1h1m-0.5 0h1m7.5 0.5h1m-1-0.5h1m0 0.5h1m0 0h1m-1-1h1m-1 0h1m2 1h1m1.5-0.5h1m-0.5-0.5h1m2 0h1m-0.5 1h1m1 0h1m3-0.5h1m2 0h1m1.5 0h1m3 0.5h1m-0.5-0.5h1m1.5 0.5h1m-45.5 0h1m-0.5 0.5h1m2-0.5h1m1 1h1m-0.5-0.5h1m3.5 0h1m8.5-0.5h1m0 1h1m2.5-0.5h1m1.5 0h1m10 0.5h1m1-0.5h1m2 0.5h1m0 0h1m-52.5 1h1m-0.5-1h1m-0.5 1h1m8-0.5h1m3 0h1m0 0.5h1m0-0.5h1m2 0h1m0 0h1m-0.5-0.5h1m6 0h1m0 1h1m-1-0.5h1m0 0h1m-1 0h1m1 0h1m4-0.5h1m6 1h1m5-1h1m1 0h1m-52 1.5h1m1 0h1m0 0h1m9 0.5h1m0-1h1m3 0.5h1m-0.5 0.5h1m-1 0h1m4-0.5h1m5 0.5h1m0-0.5h1m4 0h1m-0.5 0h1m0.5 0h1m6.5 0h1m-0.5-0.5h1m-1 0.5h1m0.5 0.5h1m-45.5 1h1m0-1h1m-0.5 0h1m-0.5 0.5h1m0-0.5h1m2 0.5h1m11-0.5h1m0 0h1m-0.5 0h1m-1 1h1m0.5-0.5h1m2.5-0.5h1m2 0.5h1m-1 0h1m0 0h1m0 0h1m0.5 0.5h1m5.5-1h1m-43 1h1m0 0h1m5.5 0.5h1m0.5-0.5h1m0 0.5h1m1.5 0h1m1.5 0.5h1m-0.5-0.5h1m-1 0h1m-0.5 0h1m4 0h1m0 0h1m5 0h1m-0.5 0.5h1m4-1h1m0 1h1m-34 0.5h1m-1 0h1m6 0h1m4 0h1m6-0.5h1m-1 0.5h1m0.5-0.5h1m3.5 1h1m4.5-0.5h1m0.5-0.5h1m-34.5 1.5h1m3.5 0h1m-0.5 0h1m2 0.5h1m-0.5 0h1m2.5-1h1m1 1h1m1.5-1h1m0 1h1m0 0h1m3-0.5h1m-0.5 0h1m3 0h1m-0.5-0.5h1m0 1h1m0 0h1m5-0.5h1m-35 0.5h1m4 0h1m1.5 1h1m1.5 0h1m-1-0.5h1m0.5-0.5h1m-1 0.5h1m-1 0h1m1.5 0h1m-1 0h1m-0.5-0.5h1m0.5 0.5h1m7 0.5h1m2.5 0h1m-22 0.5h1m-0.5 0.5h1m0-0.5h1m9.5 0h1m10-0.5h1m0.5 0.5h1m-31.5 1h1m-0.5 0.5h1m4-0.5h1m1 0.5h1m2.5 0h1m0-0.5h1m-0.5 0h1m1 0h1m2.5 0h1m-19.5 1h1m1 0h1m0.5 0h1m2.5-0.5h1m7.5 0.5h1m-14.5 1h1m1.5 0h1m1-0.5h1m2.5 0.5h1m1 0.5h1m-1-0.5h1m0 0h1m3.5-0.5h1m-1 0.5h1m-16.5 1h1m0.5 0.5h1m3-0.5h1m-1 0.5h1m1-0.5h1m-1 0h1m-0.5 0.5h1m3-1h1m-1 1h1m-11.5 0.5h1m2.5 0h1m3 0.5h1m-2 0.5h1m2.5 0h1m-1 0h1m1 0h1m-0.5 0h1m-8.5 0.5h1" stroke="#a5a03a" stroke-width="1" fill="none"/>
<path d="M389 54h1m2.5 0.5h1m-4.5 0h1m-0.5 0h1m3 0h1m0 0.5h1m-8 1h1m2.5 0.5h1m-1-0.5h1m0.5 0h1m-1 0.5h1m1.5 0h1m-7 0h1m6 0h1m-9.5 1h1m-1 1h1m0.5-1h1m1 0.5h1m-6 1h1m0-0.5h1m3.5 0.5h1m0 0.5h1m1-0.5h1m0 0.5h1m-7 0h1m0 0h1m2 0.5h1m0.5-0.5h1m-8.5 2h1m2-1h1m-1 1h1m1-1h1m-3 2h1m4-0.5h1m3-0.5h1m-0.5 1h1m-15 0.5h1m4 0.5h1m7-0.5h1m-0.5 0h1m-8.5 0.5h1m-0.5 0.5h1m0.5 0h1m0 0h1m2.5-0.5h1m-13.5 2h1m0-1h1m0.5 1h1m-0.5-1h1m2.5 1h1m4.5 0h1m-10.5 0.5h1m3 0h1m3.5 0h1m2 0h1m-11.5 2h1m1.5 0h1m4 0.5h1m0.5-0.5h1m-8 1h1m2 0h1m-2.5 1.5h1m-0.5 0h1m-0.5 0h1m6 0h1m-11.5 0h1m3 0.5h1m-0.5-0.5h1m1 0.5h1m-1 0h1m0.5 0h1m-10.5 1h1m-0.5 0.5h1m3.5-1h1m0 0h1m-0.5 0.5h1m0 0.5h1m4.5 0h1m-13 0h1m1 0.5h1m1 0h1m1.5 0.5h1m0.5 0h1m-2 2h1m-2.5 0.5h1m1.5-0.5h1m1 0h1m-7 1.5h1m4 1.5h1m3 0.5h1m-0.5 0h1m-10 0.5h1m4 0h1m-5.5 1.5h1m1-0.5h1m0.5 1h1m-1-0.5h1m1 0h1m-1 0h1m0 0h1m0.5 0.5h1m-1-1h1m-0.5 0.5h1m-0.5 0h1m-1-0.5h1m-0.5 1h1m1 0.5h1m0.5 0h1m-15.5 0.5h1m1.5 0h1m5 0h1m2.5 0.5h1m-0.5 0h1m-14 0.5h1m2 0.5h1m0 0h1m5 0.5h1m-0.5-1h1m7 0.5h1m-19.5 0.5h1m-0.5 0.5h1m2 0h1m6-0.5h1m-11 1.5h1m-0.5 0h1m1.5 0h1m1.5 0.5h1m3.5 0h1m0.5-1h1m2.5 0.5h1m4 0h1m-24 1h1m-0.5-0.5h1m7.5 0h1m-1 0.5h1m8 0h1m2-0.5h1m-23 2h1m0.5-1h1m-0.5 1h1m7-0.5h1m5.5-0.5h1m1.5 0.5h1m-15.5 1h1m0-0.5h1m1.5 0.5h1m2 0h1m-0.5 0h1m-0.5-0.5h1m-1 0h1m-0.5 0.5h1m4 0h1m5 0h1m-21 1h1m1 0h1m-0.5 0h1m1 0h1m1.5-0.5h1m0 0.5h1m1-0.5h1m1 0.5h1m1 0h1m0 0.5h1m0.5-1h1m-23 1h1m1 0.5h1m3.5 0.5h1m-0.5 0h1m0-0.5h1m3.5 0h1m10.5 0.5h1m-27.5 0.5h1m-0.5 0h1m10-0.5h1m10 1h1m0 0h1m1.5-1h1m-24 1h1m3 0.5h1m0.5-0.5h1m0.5 0h1m2.5 0.5h1m3-0.5h1m2.5 1h1m2.5-0.5h1m-0.5 0h1m1 0h1m5.5-0.5h1m-31.5 2h1m1.5-0.5h1m-0.5 0h1m4 0.5h1m-0.5-0.5h1m1.5 0h1m-0.5 0h1m2.5-0.5h1m-0.5 0h1m1.5 0h1m1 1h1m6-1h1m-27 1.5h1m-0.5-0.5h1m0 0h1m0 0h1m11.5 0h1m-0.5 0.5h1m9 0h1m0 0.5h1m1-0.5h1m1.5-0.5h1m-39 1h1m4.5 1h1m-0.5-0.5h1m2.5-0.5h1m1.5 0.5h1m-1 0.5h1m0-1h1m-0.5 0.5h1m1.5 0h1m-0.5-0.5h1m1 0.5h1m6 0h1m3-0.5h1m2 0.5h1m2.5 0.5h1m-32.5 0h1m5.5 1h1m-1-0.5h1m0.5 0h1m-1 0h1m5-0.5h1m1 0.5h1m-0.5-0.5h1m0.5 0h1m1 1h1m-0.5-1h1m3 0.5h1m3.5 0h1m2.5 0.5h1m1 0h1m-38.5 0.5h1m1.5 0h1m2 0h1m3 0h1m5.5 0h1m9 0h1m0.5 0.5h1m0.5-0.5h1m2.5 0h1m1 0.5h1m-0.5 0h1m-0.5-1h1m-35.5 1.5h1m4.5 0h1m10 0h1m-0.5 0h1m3.5 0h1m-1 0.5h1m2-0.5h1m0.5 0h1m-1 0h1m-18 0.5h1m0.5 1h1m-0.5 0h1m0.5-1h1m12 0.5h1m8 0h1m0 0.5h1m-39 0h1m11.5 1h1m0-0.5h1m2-0.5h1m3 0.5h1m16.5 0h1m-40 1h1m4 0h1m2.5 0h1m0.5 0h1m5.5-0.5h1m0 0h1m-0.5 0.5h1m1.5 0.5h1m2 0h1m2 0h1m-0.5-0.5h1m5.5-0.5h1m0.5 0.5h1m1-0.5h1m0 0.5h1m-36.5 1.5h1m2 0h1m2.5-0.5h1m-1 0.5h1m-0.5-1h1m0 0.5h1m0 0h1m1 0.5h1m0-1h1m-0.5 1h1m-0.5 0h1m7 0h1m0.5-0.5h1m-1 0h1m1.5-0.5h1m-28 1.5h1m-0.5 0.5h1m0-1h1m0 0h1m-0.5 0.5h1m2-0.5h1m4.5 0h1m-0.5 0h1m-0.5 1h1m-1-1h1m4.5 1h1m1.5-0.5h1m0.5 0h1m13.5 0h1m-0.5 0h1m-0.5 0.5h1m2 0h1m-37.5 0.5h1m-0.5 0h1m1 0h1m3.5 0.5h1m-1-0.5h1m-0.5 0h1m3.5-0.5h1m1.5 0h1m-1 1h1m-0.5-0.5h1m3.5 0h1m2.5-0.5h1m0.5 0h1m-0.5 0.5h1m0 0.5h1m-0.5-0.5h1m1.5-0.5h1m0.5 0h1m0.5 0.5h1m0 0.5h1m-0.5 0h1m-0.5 0h1m1-1h1m-42 1.5h1m2-0.5h1m1.5 0.5h1m0 0.5h1m3.5 0h1m4-0.5h1m-0.5 0h1m2.5 0h1m4.5 0h1m-0.5 0h1m4 0h1m-29.5 1h1m0-0.5h1m5 1h1m2.5-0.5h1m0.5 0h1m-1-0.5h1m-0.5 1h1m1.5-0.5h1m0 0.5h1m0 0h1m1-1h1m3.5 0.5h1m-0.5 0h1m0.5 0.5h1m2.5-0.5h1m-1 0h1m0 0.5h1m-0.5-0.5h1m0 0h1m0 0.5h1m0-1h1m3 1h1m-39 1h1m-0.5-0.5h1m6.5 0.5h1m2-0.5h1m-0.5 0h1m1-0.5h1m0.5 0.5h1m1 0h1m5 0h1m6.5-0.5h1m0 1h1m0-0.5h1m0.5 0h1m0 0h1m0.5 0h1m2.5 0h1m-40 0.5h1m8 0h1m6 0.5h1m12.5 0h1m4.5 0.5h1m-1-1h1m1.5 0h1m0.5 0.5h1m-40.5 1h1m-0.5-0.5h1m2 0.5h1m4.5 0h1m0.5 0h1m1-0.5h1m-1 0h1m8.5 1h1m0-0.5h1m-0.5-0.5h1m2 0h1m-0.5 1h1m5.5-1h1m0.5 0.5h1m0-0.5h1m0.5 1h1m2.5-1h1m-42.5 1.5h1m2 0h1m0 0.5h1m1.5 0h1m-1-0.5h1m7 0h1m-1 0.5h1m3 0h1m1-0.5h1m2 0.5h1m6-0.5h1m0 0h1m4-0.5h1m1 0.5h1m-38.5 1h1m-0.5-0.5h1m3 0.5h1m-0.5-0.5h1m0 1h1m-1-1h1m5.5 1h1m2.5-0.5h1m-1 0h1m3.5 0h1m2.5 0h1m4.5 0.5h1m-1 0h1m4 0h1m0.5-1h1m1 0.5h1m0 0.5h1m-39 0.5h1m-1-0.5h1m-1 0.5h1m1-0.5h1m6.5 0.5h1m2 0h1m0 0h1m4.5 0h1m0 0.5h1m5-0.5h1m3.5-0.5h1m-0.5 1h1m-0.5-1h1m-34.5 2h1m1 0h1m3.5-0.5h1m-0.5 0.5h1m4-0.5h1m3.5 0.5h1m1 0h1m0.5 0h1m-0.5-0.5h1m1 0h1m-0.5 0.5h1m1-0.5h1m1-0.5h1m4.5 0.5h1m1.5 0h1m5 0h1m-43 1h1m3-0.5h1m0 0.5h1m-0.5 0h1m0.5-0.5h1m5.5 0h1m1.5 0h1m0 0h1m-0.5 0.5h1m1 0h1m1 0h1m0-0.5h1m-1 0.5h1m5.5 0.5h1m0-0.5h1m1-0.5h1m2.5 0.5h1m-0.5-0.5h1m0.5 0.5h1m-1 0.5h1m-37 0.5h1m1 0h1m1 0.5h1m1.5-0.5h1m1-0.5h1m2 0.5h1m0-0.5h1m-1 1h1m3.5 0h1m1 0h1m1.5-0.5h1m1 0h1m3 0h1m0.5 0h1m-28 1h1m1.5-0.5h1m1.5 1h1m6.5-1h1m2.5 0.5h1m3 0h1m4-0.5h1m2 0.5h1m1 0h1m1 0h1m2 0h1m-0.5 0h1m-34 0.5h1m-0.5 0.5h1m1 0h1m1.5 0.5h1m1 0h1m2.5 0h1m0.5-1h1m0.5 1h1m2-1h1m0 0.5h1m4-0.5h1m0 1h1m2.5 0h1m1.5-1h1m-31 1.5h1m16.5 0h1m2.5 0h1m-0.5 0.5h1m3.5-1h1m6 0.5h1m-0.5-0.5h1m-20.5 1h1m1.5 0.5h1m3-0.5h1m0 0h1m1 0.5h1m1.5 0.5h1m6.5-0.5h1m-35 1h1m-0.5 0.5h1m4-0.5h1m15.5-0.5h1m2 0h1m1 0.5h1m2 0.5h1m-30 1h1m5.5-0.5h1m0 0h1m0.5 0h1m-1-0.5h1m3 0.5h1m2 0.5h1m1.5-1h1m1.5 0.5h1m-0.5 0.5h1m1-0.5h1m0.5 0.5h1m1 0h1m3.5 0h1m-0.5-1h1m1 1h1m-32 0.5h1m0.5 0h1m-0.5 0h1m1.5 0h1m2.5 0.5h1m6.5-0.5h1m-19 1h1m2.5 0.5h1m1.5-0.5h1m2.5-0.5h1m1 0h1m0.5 1h1m7.5-0.5h1m5-0.5h1m-1 0.5h1m1.5-0.5h1m-28 1h1m0 0.5h1m0.5 0h1m-0.5-0.5h1m1.5 0h1m2 1h1m-1 0h1m1.5 0h1m2-0.5h1m2.5 0.5h1m0-0.5h1m2.5-0.5h1m1 0.5h1m2 0h1m-25.5 1h1m2-0.5h1m3.5 0.5h1m-0.5 0.5h1m0 0h1m3-0.5h1m-0.5-0.5h1m3 0.5h1m3-0.5h1m0 0h1m1.5 0.5h1m-28 1.5h1m2-0.5h1m1.5 0h1m0-0.5h1m1.5 1h1m4.5 0h1m-1-0.5h1m-1-0.5h1m0 0.5h1m2.5-0.5h1m1.5 0.5h1m1-0.5h1m-0.5 0h1m-0.5 0h1m2 0.5h1m0 0h1m-22.5 1.5h1m0.5-1h1m0.5 0.5h1m0.5-0.5h1m4.5 0h1m4.5 0.5h1m-21 1h1m4 0.5h1m0-0.5h1m-0.5 0h1m1 0.5h1m5-1h1m3 0h1m-13.5 2h1m-0.5-0.5h1m-0.5 0h1m-0.5-0.5h1m0 0.5h1m3 0h1m0 0h1m-1 0h1m1 0.5h1m8.5 0h1m-21 0.5h1m1 0h1m4 0h1m1.5 0.5h1m1.5 0h1m-13.5 0.5h1m7.5 0h1m-1 0h1m4 0.5h1m-12.5 0.5h1m6 0h1" stroke="#533e9b" stroke-width="1" fill="none"/>
<g filter="url(#bl8)"><path d="M56.5 45.8L57.3 44.2L58.8 43.2L60.6 42.9L62.2 43.2L63.8 44.1L65.4 45.6L66.8 47.6L68.0 49.7L68.8 52.2L69.4 55.2L69.7 58.0L69.5 60.2L68.8 61.5L67.6 62.4L66.2 62.8L64.8 62.8L63.5 62.5L62.1 61.8L60.8 60.6L59.6 58.8L58.5 56.0L57.4 52.2L56.6 48.5Z" fill="#f3eaf0"/><path d="M43.4 78.5L44.6 75.7L46.7 72.8L49.1 70.0L51.5 67.7L53.8 66.2L56.3 65.2L58.7 64.4L60.9 63.6L63.0 62.8L64.9 62.2L66.6 61.4L68.0 60.2L68.9 58.1L69.5 55.6L69.9 52.9L70.3 50.2L70.7 47.4L71.0 44.5L71.3 41.7L71.6 39.5L72.1 37.8L72.6 36.5L73.1 35.6L73.7 35.3L74.5 35.8L75.3 36.9L76.2 38.3L77.1 39.5L77.9 40.5L78.6 41.4L79.6 42.3L81.1 43.4L83.4 44.7L86.3 46.0L89.3 47.4L91.8 48.9L93.6 50.5L95.0 52.1L96.2 53.8L97.3 55.4L98.3 57.0L99.3 58.6L100.1 60.3L100.7 62.2L101.0 64.7L101.3 67.6L101.2 70.5L100.7 73.0L99.6 75.1L98.0 77.1L96.3 78.7L94.7 79.8L93.2 79.9L91.8 79.2L90.4 78.5L89.2 78.5L88.0 79.1L87.0 80.1L86.0 81.6L85.2 83.7L84.8 86.7L84.6 90.6L84.4 94.4L83.7 97.3L82.5 99.1L81.1 100.2L79.3 100.8L77.1 101.2L74.4 101.3L71.2 101.1L67.9 100.6L64.8 99.9L62.0 98.9L59.2 97.6L56.6 96.2L54.1 94.7L51.8 93.1L49.6 91.5L47.6 89.8L46.0 87.9L44.7 85.7L43.7 83.4L43.2 81.0Z" fill="#f3b4bb"/><path d="M34.5 110.4L35.3 108.8L36.2 107.6L37.5 106.5L39.2 105.7L41.5 104.9L44.2 104.4L47.1 104.0L49.9 103.6L52.6 103.1L55.2 102.5L57.9 102.2L60.7 102.0L63.6 102.2L66.7 102.6L69.8 103.2L72.9 103.6L76.1 103.8L79.3 103.9L82.4 104.0L85.2 104.3L87.9 104.8L90.4 105.4L92.7 106.2L94.7 107.2L96.2 108.5L97.4 110.0L98.4 111.6L99.1 113.5L99.6 115.5L99.9 117.8L100.0 120.2L99.9 122.7L99.6 125.3L99.0 128.1L98.3 130.9L97.5 133.4L96.6 135.5L95.6 137.5L94.4 139.3L93.1 141.2L91.7 143.2L90.1 145.1L88.5 147.0L86.8 148.8L85.1 150.6L83.3 152.4L81.4 154.0L79.2 155.1L76.8 155.6L74.1 155.8L71.3 155.6L68.5 155.1L65.8 154.3L63.1 153.1L60.4 151.8L57.8 150.4L55.3 148.9L53.0 147.3L50.7 145.7L48.4 144.1L45.9 142.6L43.4 141.2L41.1 139.7L39.2 138.1L37.8 136.3L36.8 134.5L36.0 132.4L35.3 130.2L34.7 127.7L34.2 125.0L33.9 122.2L33.7 119.5L33.7 117.0L33.7 114.6L34.0 112.3Z" fill="#f3ccd3"/><path d="M57.0 107.2L60.7 106.4L65.7 105.8L70.9 105.6L75.3 105.9L78.8 107.0L81.8 108.8L84.2 110.7L85.8 112.5L86.3 114.1L86.1 115.8L85.0 117.1L83.1 117.7L80.1 117.0L76.0 115.4L71.5 113.6L67.5 112.5L63.6 112.2L59.8 112.5L56.5 112.7L54.4 112.5L53.6 111.4L53.7 109.9L54.9 108.4Z" fill="#e1e4f3"/><path d="M46.5 120.3L47.8 119.6L50.5 120.0L53.8 121.2L57.0 122.9L60.0 125.7L63.2 129.4L66.6 133.2L70.1 136.0L74.1 137.3L78.6 137.6L82.7 137.8L85.8 138.6L87.7 140.4L88.9 142.7L89.1 144.9L88.4 146.4L86.4 147.3L83.3 147.8L79.5 147.6L75.3 146.4L70.3 144.1L64.5 140.7L58.9 136.9L54.4 133.4L51.1 129.7L48.5 125.9L46.9 122.5Z" fill="#e1e4f3"/><path d="M62.7 123.7L63.8 122.7L65.2 122.0L66.8 121.6L68.2 121.6L69.4 122.2L70.6 123.3L71.6 124.6L72.2 126.1L72.4 127.7L72.3 129.6L72.0 131.4L71.4 132.8L70.4 133.8L69.1 134.5L67.7 134.8L66.4 134.7L65.3 134.1L64.3 133.0L63.4 131.6L62.7 130.2L62.4 128.6L62.2 126.8L62.3 125.1Z" fill="#fae6e9"/><path d="M106.7 60.2L107.7 58.0L109.0 55.8L110.5 53.8L111.9 52.3L113.3 51.2L114.7 50.5L116.2 50.1L117.7 50.2L119.2 50.8L120.7 51.9L122.2 53.4L123.7 54.9L125.1 56.7L126.6 58.6L127.9 60.7L128.9 62.8L129.8 64.9L130.7 67.2L131.0 69.2L130.2 70.6L127.9 71.2L124.5 71.2L120.7 70.9L117.1 70.6L113.8 70.6L110.4 70.5L107.4 70.2L105.4 69.3L104.7 67.5L105.0 65.1L105.8 62.5Z" fill="#f8d6db"/><path d="M102.8 73.2L104.8 71.4L107.6 70.3L111.0 69.6L114.5 69.3L118.6 69.2L123.2 69.5L127.6 70.3L130.7 71.9L132.4 74.8L133.1 78.8L133.2 82.9L132.8 86.3L132.0 88.6L130.5 90.3L128.9 92.0L127.6 94.1L126.8 97.2L126.3 100.8L125.8 104.4L125.0 107.2L123.9 109.2L122.7 110.7L121.3 111.8L119.8 112.5L117.9 112.7L115.8 112.5L113.8 112.0L111.9 111.1L110.3 110.0L108.9 108.4L107.7 106.6L106.7 104.6L106.1 102.2L105.9 99.5L105.7 96.7L105.4 94.1L104.8 92.1L104.0 90.4L103.3 88.6L102.8 86.3L102.3 83.2L101.9 79.5L101.9 76.0Z" fill="#f3b4bb"/><path d="M130.2 60.2L131.1 58.9L132.5 58.0L134.0 57.6L135.4 57.5L136.8 57.9L138.2 58.8L139.6 60.0L140.7 61.5L141.6 63.4L142.3 65.8L142.9 68.3L143.3 70.6L143.5 72.8L143.5 75.0L143.3 76.9L142.8 78.5L141.9 79.5L140.7 80.2L139.4 80.5L138.1 80.5L136.7 80.2L135.3 79.5L133.9 78.4L132.8 77.1L132.1 75.5L131.5 73.6L131.1 71.5L130.7 69.3L130.4 67.0L130.0 64.4L129.9 62.0Z" fill="#e9d5e1"/><path d="M142.5 98.1L142.4 99.7L142.0 101.4L141.4 103.1L140.6 104.6L139.5 106.0L138.3 107.3L136.8 108.5L135.3 109.4L133.7 110.1L131.8 110.7L130.0 111.0L128.1 111.1L126.3 111.0L124.4 110.7L122.6 110.1L120.9 109.4L119.4 108.5L118.0 107.3L116.7 106.0L115.7 104.6L114.9 103.1L114.3 101.4L113.9 99.7L113.7 98.1L113.9 96.4L114.3 94.7L114.9 93.0L115.7 91.5L116.7 90.1L118.0 88.8L119.4 87.7L120.9 86.7L122.6 86.0L124.4 85.5L126.3 85.1L128.1 85.0L130.0 85.1L131.8 85.5L133.7 86.0L135.3 86.7L136.8 87.7L138.3 88.8L139.5 90.1L140.6 91.5L141.4 93.0L142.0 94.7L142.4 96.4Z" fill="#adb1da"/><path d="M157.7 121.1L157.5 122.9L157.1 124.8L156.5 126.6L155.6 128.3L154.4 129.8L153.1 131.2L151.5 132.5L149.8 133.5L148.0 134.3L146.0 135.0L144.0 135.3L142.0 135.5L140.0 135.3L137.9 135.0L136.0 134.3L134.1 133.5L132.5 132.5L130.9 131.2L129.5 129.8L128.4 128.3L127.5 126.6L126.9 124.8L126.4 122.9L126.3 121.1L126.4 119.2L126.9 117.4L127.5 115.6L128.4 113.9L129.5 112.4L130.9 110.9L132.5 109.7L134.1 108.6L136.0 107.8L137.9 107.2L140.0 106.8L142.0 106.7L144.0 106.8L146.0 107.2L148.0 107.8L149.8 108.6L151.5 109.7L153.1 110.9L154.4 112.4L155.6 113.9L156.5 115.6L157.1 117.4L157.5 119.2Z" fill="#a9b2de"/><path d="M123.4 131.3L123.3 132.6L123.1 134.0L122.8 135.3L122.3 136.5L121.7 137.6L121.0 138.7L120.1 139.6L119.2 140.3L118.3 140.9L117.2 141.4L116.1 141.6L115.1 141.7L114.0 141.6L112.9 141.4L111.8 140.9L110.9 140.3L110.0 139.6L109.1 138.7L108.4 137.6L107.8 136.5L107.3 135.3L107.0 134.0L106.8 132.6L106.7 131.3L106.8 129.9L107.0 128.6L107.3 127.3L107.8 126.1L108.4 124.9L109.1 123.9L110.0 123.0L110.9 122.2L111.8 121.6L112.9 121.2L114.0 120.9L115.1 120.8L116.1 120.9L117.2 121.2L118.3 121.6L119.2 122.2L120.1 123.0L121.0 123.9L121.7 124.9L122.3 126.1L122.8 127.3L123.1 128.6L123.3 129.9Z" fill="#a9b2de"/><path d="M85.8 82.4L88.2 80.9L92.1 80.1L96.0 80.1L98.8 81.1L100.3 83.6L101.0 87.4L101.0 91.4L100.1 94.1L97.9 95.6L94.5 96.4L91.0 96.4L88.4 95.5L86.7 92.9L85.5 89.1L85.1 85.2Z" fill="#f5f6fb"/><path d="M76.6 40.5L78.6 40.7L81.9 42.0L85.5 43.8L88.4 45.8L90.5 47.9L92.3 50.5L93.5 53.0L94.1 54.9L93.8 56.3L92.8 57.3L91.4 57.8L89.7 57.5L87.6 56.3L85.1 54.3L82.6 52.0L80.5 49.7L78.8 47.2L77.3 44.3L76.4 41.8Z" fill="#d7dbef"/><path d="M59.6 49.7L61.1 49.2L63.5 49.8L65.8 50.9L67.5 52.3L68.2 54.1L68.4 56.3L68.1 58.5L67.5 60.2L66.2 61.2L64.3 62.0L62.3 62.2L60.9 61.5L60.0 59.1L59.4 55.5L59.2 51.9Z" fill="#d7dbef"/></g>
<path d="M73 36h1m0.5 1h1m0.5 0h1m-1.5 2.5h1m-3.5 0h1m0 1h1m-0.5-0.5h1m0 1h1m0 0h1m-1 0h1m-0.5-0.5h1m-1 1h1m-6.5 1h1m0-1h1m-0.5 1h1m-1-0.5h1m-0.5 0.5h1m0.5-0.5h1m3 0h1m-8.5 1.5h1m1-1h1m-0.5 0h1m0.5 0.5h1m-0.5 0.5h1m2-0.5h1m0 0.5h1m-8.5 0.5h1m1 0.5h1m-1 0h1m3.5 0h1m6 0h1m-14 0.5h1m-0.5 0h1m-0.5 0.5h1m-0.5 0h1m0-1h1m-1 1h1m0 0h1m-1-0.5h1m-0.5 0.5h1m2.5 0h1m0-0.5h1m-0.5 0.5h1m-1-0.5h1m7 0h1m-31 1h1m8-0.5h1m13 1h1m2.5-1h1m-16 1.5h1m0 0h1m-0.5 0.5h1m5.5-1h1m0 0.5h1m-0.5-0.5h1m-0.5 0h1m0.5 0h1m-0.5 1h1m3-0.5h1m-24.5 0.5h1m7 1h1m2.5-0.5h1m-0.5-0.5h1m0.5 0.5h1m0.5 0h1m1.5 0h1m2 0.5h1m-1-0.5h1m7-0.5h1m-23 1h1m2.5 0.5h1m0.5 0h1m0.5 0h1m0-0.5h1m2.5 1h1m3 0h1m1 0h1m-1-1h1m2 0.5h1m-0.5 0.5h1m1 0h1m-31.5 0h1m8.5 1h1m4.5-1h1m-1 0h1m0 0.5h1m-1 0h1m1.5-0.5h1m2 0.5h1m3.5 0.5h1m0-0.5h1m2.5 0h1m24.5 0.5h1m-62 1h1m9-0.5h1m-1 0h1m3.5 0h1m0 0h1m-0.5-0.5h1m-0.5 0.5h1m-1 0h1m0.5 0h1m-0.5-0.5h1m-1 0.5h1m0.5 0h1m-0.5 0.5h1m-1-1h1m0 0h1m-1 0h1m0.5 1h1m0-1h1m-0.5 0.5h1m2-0.5h1m1 0.5h1m0.5 0.5h1m-1 0h1m3-0.5h1m-1 0.5h1m23-0.5h1m0.5-0.5h1m-52 1h1m3.5 0h1m2.5 1h1m-1-0.5h1m-0.5 0h1m-1-0.5h1m1 0.5h1m0-0.5h1m-0.5 1h1m0-0.5h1m1-0.5h1m-0.5 0.5h1m-0.5 0.5h1m3-0.5h1m0.5 0.5h1m0-0.5h1m-0.5 0h1m0.5-0.5h1m-0.5 0.5h1m1 0h1m-0.5 0h1m17 0.5h1m2-0.5h1m4.5-0.5h1m-45.5 1.5h1m-1 0h1m-0.5 0.5h1m0-0.5h1m1.5 0h1m-0.5 0h1m2 0.5h1m-0.5-0.5h1m0.5 0h1m3 0.5h1m0.5-0.5h1m1-0.5h1m21 0.5h1m1.5 0h1m-56.5 1h1m7 0h1m0.5-0.5h1m6 0.5h1m0.5 0.5h1m3.5-0.5h1m-0.5 0h1m-1 0.5h1m-1 0h1m1.5 0h1m2 0h1m1.5-0.5h1m-1-0.5h1m-0.5 0.5h1m-0.5 0h1m-1 0.5h1m1 0h1m14.5 0h1m3 0h1m-44 0.5h1m0.5 0h1m-1-0.5h1m0 0.5h1m1.5-0.5h1m-0.5 0.5h1m1-0.5h1m-1 0h1m-1 0.5h1m2 0h1m1.5-0.5h1m1.5 1h1m1-0.5h1m-0.5 0h1m2 0h1m0 0.5h1m14.5-1h1m-1 0.5h1m4.5 0h1m0-0.5h1m3.5 0h1m1 1h1m-63.5 0h1m11 0.5h1m-0.5 0.5h1m0.5 0h1m4.5-0.5h1m0.5 0.5h1m3-0.5h1m1 0.5h1m0.5 0h1m-1-1h1m0.5 1h1m4 0h1m27-1h1m-59.5 2h1m3-0.5h1m-0.5-0.5h1m-0.5 1h1m0 0h1m0-0.5h1m0.5 0h1m0.5-0.5h1m-1 0.5h1m0.5-0.5h1m-1 0h1m-0.5 1h1m-0.5 0h1m4-1h1m5.5 1h1m4-0.5h1m1.5 0h1m-0.5 0.5h1m-0.5-0.5h1m9.5-0.5h1m1.5 0h1m13.5 0.5h1m12-0.5h1m-71.5 2h1m1.5-0.5h1m-1 0h1m1 0h1m-1-0.5h1m-1 0h1m0 1h1m0.5-0.5h1m1-0.5h1m0.5 0h1m-0.5 1h1m2 0h1m1.5-0.5h1m-1 0.5h1m0-0.5h1m0 0.5h1m2.5-0.5h1m-0.5-0.5h1m0.5 0h1m0 0.5h1m1 0.5h1m14.5-0.5h1m2.5 0h1m8.5 0h1m3-0.5h1m-66.5 1h1m6.5 0h1m-1 0h1m-0.5 0.5h1m5 0h1m1 0h1m-1 0h1m4-0.5h1m3 0h1m-0.5 1h1m1.5-0.5h1m-0.5-0.5h1m-0.5 1h1m-1-0.5h1m-0.5 0h1m0.5-0.5h1m2.5 0h1m-0.5 0.5h1m9.5 0.5h1m5-0.5h1m9.5 0.5h1m0-1h1m-0.5 0.5h1m1 0h1m3 0.5h1m4 0h1m-70.5 0.5h1m2.5 0h1m-0.5 0h1m0.5-0.5h1m0 1h1m-1-0.5h1m1.5 0h1m0-0.5h1m1 1h1m-0.5-0.5h1m3 0h1m-1 0h1m0 0h1m0.5 0h1m2-0.5h1m2.5 0.5h1m0 0h1m0-0.5h1m-1 1h1m7-0.5h1m8.5-0.5h1m5.5 0.5h1m0.5-0.5h1m2 0.5h1m-0.5 0h1m-60.5 1.5h1m0.5 0h1m2-0.5h1m2 0.5h1m1.5-0.5h1m2-0.5h1m2.5 1h1m-1-1h1m0.5 0.5h1m0 0h1m1.5 0h1m0 0h1m1.5 0.5h1m1.5-0.5h1m0 0h1m3.5 0h1m0 0h1m6-0.5h1m2 0h1m0 0.5h1m-1 0.5h1m5.5-0.5h1m0 0.5h1m2.5 0h1m2-1h1m-0.5 0.5h1m4 0.5h1m-66 0.5h1m-1 0h1m0 0h1m-0.5 0.5h1m0.5 0h1m-1-0.5h1m-0.5 0.5h1m5-1h1m0.5 0h1m0 0h1m3 0.5h1m3 0h1m3-0.5h1m0.5 0h1m-0.5 1h1m0-0.5h1m0 0h1m4.5 0h1m2.5 0h1m8-0.5h1m0 0h1m6 0.5h1m1.5 0h1m-0.5 0h1m-0.5 0.5h1m-0.5-0.5h1m12 0h1m-73 0.5h1m1.5 0.5h1m-1-0.5h1m2 1h1m4.5-0.5h1m2 0h1m-1 0h1m0 0h1m-0.5 0.5h1m0-1h1m0 1h1m-1-1h1m0.5 0.5h1m0.5 0.5h1m-1-1h1m-1 1h1m0-0.5h1m0 0h1m2.5 0h1m0 0h1m-1 0h1m0-0.5h1m-1 0h1m0.5 0.5h1m-0.5 0.5h1m-1 0h1m-0.5-1h1m2 1h1m-1-0.5h1m2 0h1m-0.5 0h1m-0.5 0.5h1m-0.5-1h1m-0.5 0h1m5 0h1m0.5 1h1m4-0.5h1m3-0.5h1m-0.5 1h1m0-0.5h1m2.5 0h1m1 0h1m-1 0h1m7 0h1m0.5 0h1m-69.5 1h1m1 0h1m1 0h1m1.5 0.5h1m3-0.5h1m0 0.5h1m0.5 0h1m2-1h1m2 0.5h1m-0.5 0h1m-0.5 0h1m0.5 0h1m-0.5 0.5h1m-1-0.5h1m-0.5-0.5h1m0 0h1m4.5 0.5h1m0.5 0h1m10-0.5h1m0.5 0.5h1m4 0h1m2 0h1m0.5 0.5h1m16.5-1h1m1.5 0.5h1m5.5 0h1m-90.5 1.5h1m2.5 0h1m2-0.5h1m-1 0h1m1.5 0h1m-0.5 0h1m4-0.5h1m0.5 0.5h1m-1 0.5h1m1.5-0.5h1m2.5 0h1m-1 0h1m-0.5 0.5h1m-0.5-0.5h1m0.5 0.5h1m-1-0.5h1m0.5 0h1m-0.5 0.5h1m-0.5-1h1m2.5 0.5h1m3 0.5h1m1.5-1h1m-0.5 0.5h1m0-0.5h1m0.5 0h1m-1 0h1m2 0.5h1m0.5 0h1m0 0h1m6 0h1m4.5 0h1m-1 0.5h1m1-0.5h1m0-0.5h1m0.5 0.5h1m1.5 0.5h1m18.5-0.5h1m-90 1.5h1m3-1h1m1.5 0h1m0.5 0.5h1m0 0h1m2.5-0.5h1m2 1h1m0.5-1h1m1 1h1m0.5-0.5h1m0 0h1m-0.5 0h1m2 0h1m-0.5 0h1m-0.5 0h1m0 0h1m0.5 0h1m2.5 0h1m3.5-0.5h1m1.5 0h1m-0.5 0.5h1m1 0.5h1m2-1h1m-0.5 0h1m1 0.5h1m3.5-0.5h1m2 0h1m4 0.5h1m3.5-0.5h1m6 0h1m0 0.5h1m6.5 0.5h1m2.5-1h1m1 1h1m5-0.5h1m-88 1h1m1.5 0h1m0 0h1m-0.5 0h1m-1 0h1m3.5-0.5h1m-0.5 0.5h1m1.5 0.5h1m-1-0.5h1m3 0h1m0 0.5h1m2-1h1m-0.5 0.5h1m-1-0.5h1m-1 0.5h1m0.5-0.5h1m-0.5 0h1m-0.5 0.5h1m-1 0h1m-0.5 0.5h1m-0.5-0.5h1m0.5 0h1m2.5 0h1m0 0h1m0 0.5h1m-0.5-0.5h1m0.5 0h1m-0.5 0h1m4 0h1m-0.5-0.5h1m-1 0h1m3 0h1m2 0.5h1m2.5 0h1m13-0.5h1m1 0.5h1m1 0h1m5 0h1m1.5-0.5h1m3.5 0.5h1m2 0h1m2.5 0h1m-91.5 1h1m0.5 0.5h1m0-0.5h1m-0.5 0h1m2.5 0h1m1-0.5h1m-0.5 1h1m1-0.5h1m-1 0h1m-0.5 0h1m-0.5 0h1m2.5 0h1m0.5 0.5h1m0.5-0.5h1m-1-0.5h1m2.5 0h1m0.5 1h1m1-0.5h1m1.5 0h1m0.5-0.5h1m-0.5 0.5h1m-0.5 0.5h1m3.5 0h1m-0.5-0.5h1m-1 0.5h1m-0.5-0.5h1m1 0.5h1m0.5-1h1m7.5 1h1m1-1h1m-1 1h1m-0.5-1h1m0.5 0h1m8 0h1m-0.5 0.5h1m8.5 0.5h1m2 0h1m-1-0.5h1m9.5 0h1m0 0h1m1.5-0.5h1m0 0.5h1m-86.5 1h1m1 0.5h1m1.5-0.5h1m3 0.5h1m-1-0.5h1m1-0.5h1m0.5 0.5h1m1-0.5h1m0.5 1h1m0.5-0.5h1m1 0h1m1.5-0.5h1m-0.5 0h1m0 0.5h1m0 0h1m-0.5 0h1m3 0.5h1m0-0.5h1m0 0h1m3-0.5h1m0.5 1h1m2.5-1h1m0 0h1m-0.5 0.5h1m0.5-0.5h1m9.5 1h1m0.5-0.5h1m2.5 0h1m9 0h1m4 0h1m0.5 0h1m-1-0.5h1m-78 1h1m1.5 0.5h1m2 0h1m3-0.5h1m-1 1h1m2 0h1m1-1h1m-1 0h1m0 0.5h1m0.5-0.5h1m-0.5 0.5h1m-0.5 0h1m-0.5 0h1m0.5 0h1m7 0.5h1m-0.5-1h1m1.5 0.5h1m-0.5 0h1m-1 0h1m-0.5 0h1m-0.5 0.5h1m4.5 0h1m-0.5-0.5h1m0.5 0h1m1 0.5h1m-1-0.5h1m0-0.5h1m0.5 1h1m-0.5-0.5h1m0 0.5h1m-0.5-1h1m-0.5 0.5h1m-0.5-0.5h1m-1 0h1m5 0h1m2 1h1m0.5-0.5h1m-0.5 0h1m-1 0.5h1m-1-0.5h1m1-0.5h1m1 0.5h1m1.5 0h1m0 0.5h1m-0.5-0.5h1m0.5 0h1m0-0.5h1m1 0.5h1m0 0h1m-1 0h1m1 0h1m0 0.5h1m-0.5 0h1m8 0h1m-0.5-1h1m-86.5 2h1m-1-1h1m-0.5 0.5h1m0.5 0h1m-0.5 0.5h1m1-0.5h1m3.5 0h1m-0.5 0.5h1m1-1h1m0 0.5h1m-1 0h1m2 0.5h1m1-0.5h1m-1-0.5h1m-0.5 0h1m3 0.5h1m0.5-0.5h1m-1 0h1m1 0.5h1m0-0.5h1m0 0.5h1m-0.5 0h1m2.5 0.5h1m-1-0.5h1m2 0h1m2 0h1m1-0.5h1m0 0h1m0 0.5h1m2.5 0h1m2 0h1m0 0h1m4.5 0h1m-0.5 0h1m-1 0.5h1m0.5-0.5h1m0.5 0h1m4 0.5h1m3.5 0h1m-0.5-0.5h1m-0.5 0h1m1 0h1m1.5 0h1m2.5 0h1m8 0h1m5 0.5h1m-0.5 0h1m-96 0h1m2 0h1m-0.5 0.5h1m-1 0h1m4.5 0h1m0 0h1m0-0.5h1m-1 0.5h1m-0.5 0h1m1-0.5h1m0.5 0.5h1m-1 0.5h1m3.5 0h1m-1-0.5h1m2.5 0h1m3 0h1m1.5-0.5h1m-1 0.5h1m1 0.5h1m0 0h1m0.5-0.5h1m-0.5 0.5h1m4.5 0h1m3.5-0.5h1m-1 0h1m1-0.5h1m0 0.5h1m-0.5 0.5h1m2.5-0.5h1m-0.5 0.5h1m3-0.5h1m0.5 0h1m0 0h1m1.5 0h1m0 0h1m2 0h1m4-0.5h1m0 1h1m-0.5-0.5h1m-1 0.5h1m0.5-0.5h1m0 0h1m-1-0.5h1m0.5 0.5h1m2-0.5h1m-1 0.5h1m4 0h1m4 0h1m-85.5 1h1m-0.5-0.5h1m5.5 0.5h1m-1-0.5h1m-0.5 0.5h1m0 0h1m0 0h1m6 0h1m2.5 0h1m2.5 0.5h1m1.5-1h1m1 0h1m-1 1h1m-0.5-0.5h1m-0.5-0.5h1m-1 0.5h1m0 0h1m0 0h1m0.5 0.5h1m4-1h1m-0.5 0.5h1m-0.5 0.5h1m5-0.5h1m0 0h1m-0.5-0.5h1m1.5 0.5h1m-0.5 0h1m-0.5 0h1m3-0.5h1m3 0h1m-1 0.5h1m0.5 0.5h1m2.5-1h1m-1 0.5h1m0.5 0h1m3.5-0.5h1m16 0h1m-90.5 1.5h1m-0.5 0.5h1m-1 0h1m1 0h1m0.5-1h1m4 0.5h1m0.5 0h1m0 0.5h1m-0.5-0.5h1m0 0h1m0.5 0.5h1m9.5 0h1m1-0.5h1m-0.5-0.5h1m0 1h1m-0.5 0h1m0-0.5h1m0-0.5h1m-0.5 1h1m-1-0.5h1m1 0h1m0 0h1m0 0.5h1m-1-1h1m3 0.5h1m4 0h1m-0.5 0h1m0.5 0h1m-1 0h1m-0.5 0h1m0.5-0.5h1m-0.5 1h1m1-0.5h1m2 0.5h1m2-0.5h1m-1 0h1m1.5 0.5h1m0.5-0.5h1m0.5 0h1m0-0.5h1m0 0.5h1m1.5 0h1m-0.5-0.5h1m-0.5 0h1m-1 0h1m0 0.5h1m-0.5 0.5h1m-1-0.5h1m7.5 0.5h1m1-0.5h1m1 0.5h1m0.5 0h1m-1-0.5h1m-0.5 0h1m4-0.5h1m-92.5 2h1m4-0.5h1m1 0.5h1m2 0h1m0-0.5h1m0 0h1m-0.5 0.5h1m-0.5 0h1m0-0.5h1m-1 0h1m0.5-0.5h1m3 1h1m-1 0h1m-1-0.5h1m2.5 0h1m-0.5 0.5h1m2.5 0h1m-0.5-0.5h1m-1 0h1m3-0.5h1m1 1h1m0-1h1m0.5 0h1m-1 0.5h1m-0.5 0h1m0 0h1m0.5-0.5h1m-1 0h1m-0.5 0.5h1m0 0.5h1m1-0.5h1m7 0h1m-1 0.5h1m4.5-0.5h1m0 0.5h1m6.5-0.5h1m-1 0.5h1m0.5 0h1m0-0.5h1m0-0.5h1m0 0h1m-0.5 1h1m1.5-1h1m1 0h1m-0.5 1h1m0-0.5h1m-0.5-0.5h1m-0.5 0.5h1m5.5 0h1m-1 0h1m0 0.5h1m1.5-1h1m6.5 0h1m-96.5 2h1m2.5-0.5h1m-1 0h1m0 0.5h1m1.5-0.5h1m-1 0h1m-0.5 0h1m-0.5 0.5h1m-0.5 0h1m4-0.5h1m-1 0h1m-0.5-0.5h1m3.5 0h1m-0.5 0.5h1m1 0h1m5 0h1m-0.5 0h1m0.5 0h1m-0.5-0.5h1m-0.5 1h1m1-0.5h1m0.5 0h1m7 0.5h1m-0.5-0.5h1m-0.5 0.5h1m1-1h1m-0.5 1h1m-0.5-0.5h1m0.5 0h1m3 0h1m-0.5 0h1m1.5-0.5h1m2.5 0.5h1m2 0.5h1m0-1h1m3 1h1m2.5 0h1m1-0.5h1m1.5 0h1m0-0.5h1m0 0.5h1m-1-0.5h1m-0.5 0.5h1m-1 0h1m0.5 0h1m-0.5 0.5h1m-0.5-0.5h1m0 0h1m2.5 0.5h1m1 0h1m-0.5-1h1m0 0.5h1m7 0h1m2 0h1m-96.5 0.5h1m2 1h1m1.5-0.5h1m0.5 0h1m1.5 0h1m-0.5 0h1m-0.5-0.5h1m-0.5 0.5h1m0.5 0h1m3 0h1m0 0h1m-0.5 0h1m2.5-0.5h1m-1 0.5h1m5 0.5h1m3 0h1m5.5-1h1m0.5 1h1m-0.5 0h1m-0.5-0.5h1m3.5 0.5h1m6.5-0.5h1m4.5-0.5h1m0.5 0.5h1m0.5 0.5h1m-1-1h1m0.5 0.5h1m-0.5 0h1m0.5 0.5h1m1-1h1m-0.5 0h1m-0.5 0.5h1m0-0.5h1m4.5 1h1m-0.5-1h1m1 0.5h1m1.5 0.5h1m0-1h1m-1 1h1m3.5 0h1m0.5-0.5h1m0-0.5h1m-1 1h1m3.5 0h1m3.5-1h1m-97 1.5h1m2 0h1m0.5 0.5h1m0.5-1h1m0 0.5h1m-0.5 0h1m0 0h1m1.5 0.5h1m-0.5 0h1m3-0.5h1m3.5 0h1m0 0.5h1m-0.5 0h1m-0.5-0.5h1m1 0h1m0-0.5h1m2.5 0h1m1 0h1m3.5 1h1m7 0h1m0.5-0.5h1m0.5 0h1m-1 0h1m12 0h1m-0.5-0.5h1m1 0h1m0 0h1m-0.5 0.5h1m-1 0h1m2 0h1m2 0h1m5 0h1m1 0h1m0 0.5h1m-0.5-0.5h1m1 0.5h1m6.5-1h1m-90.5 1h1m0 0.5h1m0.5 0h1m-1 0h1m-1 0h1m2 0h1m-0.5 0h1m-0.5 0h1m0.5 0h1m1 0h1m0 0h1m1-0.5h1m3 1h1m2.5-0.5h1m-0.5 0h1m2.5 0.5h1m-1-1h1m-1 0.5h1m-1 0h1m1.5 0h1m0 0h1m-0.5 0.5h1m0.5-0.5h1m-1 0h1m-0.5 0h1m0.5-0.5h1m2 1h1m-1-0.5h1m0.5 0h1m2 0.5h1m4.5-1h1m2 0.5h1m-1 0h1m0-0.5h1m11.5 0.5h1m0 0h1m1 0.5h1m1.5-0.5h1m1.5 0h1m-0.5 0.5h1m1-1h1m-0.5 0h1m4.5 0h1m5 0.5h1m0 0.5h1m-1 0h1m-85 0.5h1m2 0h1m2.5 0h1m2 0h1m3-0.5h1m-0.5 0.5h1m1 0.5h1m-1-0.5h1m-0.5 0h1m-0.5 0.5h1m-1-1h1m-1 0.5h1m-0.5 0h1m-0.5 0h1m-1-0.5h1m0 1h1m-0.5-0.5h1m1 0h1m0.5 0h1m0-0.5h1m-0.5 1h1m2.5 0h1m-0.5-0.5h1m-1-0.5h1m6 0.5h1m-0.5 0h1m0-0.5h1m-1 0h1m1 0.5h1m0-0.5h1m-0.5 0.5h1m5-0.5h1m0.5 1h1m1-1h1m9.5 0h1m0 1h1m1-1h1m0 0h1m-1 0h1m0.5 0.5h1m3 0h1m1 0h1m-0.5 0h1m0 0h1m-0.5 0.5h1m-1-0.5h1m0.5 0h1m0 0h1m0 0h1m0.5 0.5h1m0.5-1h1m4.5 0.5h1m-89.5 1h1m-0.5 0h1m0 0.5h1m0 0h1m0-0.5h1m1-0.5h1m0 1h1m1.5 0h1m-0.5-0.5h1m0 0.5h1m8.5-1h1m1.5 0.5h1m-0.5 0.5h1m2-0.5h1m-1 0.5h1m1-0.5h1m0 0.5h1m5.5-0.5h1m-1-0.5h1m0.5 0h1m3 0.5h1m20 0.5h1m0 0h1m1-0.5h1m3 0h1m-0.5 0h1m1 0h1m-0.5 0h1m0.5 0.5h1m0.5-1h1m-0.5 0.5h1m4 0.5h1m6-0.5h1m-1-0.5h1m0.5 0.5h1m-88.5 0.5h1m0.5 0h1m0 1h1m1.5-0.5h1m-0.5-0.5h1m1.5 0h1m0.5 1h1m0-1h1m-0.5 1h1m2.5-1h1m0 0.5h1m0-0.5h1m-0.5 0h1m3.5 0h1m1.5 0.5h1m2 0h1m0-0.5h1m1 1h1m-0.5 0h1m1-0.5h1m2-0.5h1m1 0.5h1m0 0h1m17.5 0.5h1m0-0.5h1m-0.5 0h1m-0.5 0.5h1m0.5-1h1m2.5 0.5h1m0.5 0h1m0 0.5h1m-1 0h1m1.5-1h1m-0.5 0h1m4.5 1h1m1.5-1h1m-1 0.5h1m3 0h1m3-0.5h1m-1 0h1m-89 1.5h1m0.5 0h1m-0.5 0h1m3.5 0h1m0 0h1m0 0h1m-0.5 0h1m-1-0.5h1m0.5 0.5h1m0 0.5h1m0 0h1m1-0.5h1m1.5 0h1m2-0.5h1m0.5 0.5h1m-1 0h1m2 0.5h1m3-0.5h1m1-0.5h1m1 0.5h1m-0.5-0.5h1m7.5 1h1m-1-1h1m-0.5 0.5h1m0.5 0.5h1m18-0.5h1m0 0h1m0.5 0h1m-1 0h1m1-0.5h1m1 0h1m-0.5 0.5h1m-0.5 0h1m-0.5-0.5h1m0 1h1m-1-0.5h1m-0.5 0h1m0-0.5h1m1 0.5h1m-0.5 0h1m-1 0h1m2.5-0.5h1m1 0.5h1m-1-0.5h1m-0.5 0.5h1m2.5-0.5h1m-0.5 0h1m3 0.5h1m0.5 0.5h1m-89 0.5h1m0.5 0h1m-1 0h1m0 0h1m-0.5-0.5h1m0.5 0.5h1m-1 0h1m-0.5 0.5h1m0.5-0.5h1m3.5 0.5h1m0 0h1m-1-0.5h1m-0.5 0h1m6.5-0.5h1m3 1h1m1-1h1m-1 0h1m1 1h1m2-0.5h1m1.5 0h1m-0.5 0h1m-1 0.5h1m-0.5-1h1m3 1h1m18-0.5h1m0-0.5h1m4 0h1m1 0.5h1m0.5 0h1m0.5 0h1m-0.5-0.5h1m2.5 0.5h1m9-0.5h1m5 0h1m-91.5 1h1m1.5 0h1m1.5 0h1m-1 1h1m6-0.5h1m0-0.5h1m0.5 0h1m-0.5 1h1m0.5-0.5h1m4.5-0.5h1m0 1h1m-1-0.5h1m3 0h1m-0.5 0.5h1m-0.5-0.5h1m1 0h1m0 0h1m0-0.5h1m4.5 0.5h1m2 0h1m0.5 0h1m15.5-0.5h1m1.5 0h1m-1 0.5h1m1 0h1m4.5-0.5h1m-1 0.5h1m2-0.5h1m-1 1h1m0-1h1m3 0.5h1m-0.5 0h1m1.5 0h1m-0.5 0.5h1m0-1h1m4.5 0.5h1m0 0h1m-86 1.5h1m-1-1h1m1.5 0h1m0.5 0.5h1m-0.5 0h1m3 0h1m0-0.5h1m-0.5 0h1m-0.5 0h1m0 0h1m1.5 0.5h1m1-0.5h1m-1 1h1m-0.5-1h1m3 0.5h1m0-0.5h1m-0.5 0.5h1m0.5 0h1m0.5 0h1m1 0h1m2-0.5h1m0.5 0.5h1m0.5-0.5h1m2.5 0.5h1m-1 0h1m0-0.5h1m-1 0.5h1m20.5 0h1m4 0h1m3 0h1m2 0h1m0.5 0.5h1m0 0h1m-0.5-0.5h1m0-0.5h1m0 0.5h1m6.5 0.5h1m0-1h1m0.5 0.5h1m-83.5 1.5h1m0-0.5h1m0 0h1m-1 0h1m-1-0.5h1m-0.5 0.5h1m-0.5 0.5h1m2.5-0.5h1m0 0h1m6-0.5h1m1.5 0.5h1m0 0h1m0 0.5h1m2-0.5h1m0 0h1m1.5 0h1m2 0h1m1-0.5h1m0 1h1m-0.5 0h1m-0.5-0.5h1m21-0.5h1m2.5 0h1m-1 0.5h1m0.5 0h1m0-0.5h1m1 0h1m1.5 0.5h1m2.5 0h1m-0.5 0.5h1m1-0.5h1m-0.5 0h1m-0.5 0h1m-0.5-0.5h1m1.5 0.5h1m0.5 0h1m-0.5 0h1m-0.5-0.5h1m1.5 0h1m-1 1h1m-84 1h1m0 0h1m3.5-0.5h1m-0.5 0.5h1m-0.5 0h1m0-1h1m1.5 0h1m0.5 0h1m-0.5 0.5h1m-0.5 0.5h1m2-0.5h1m0.5-0.5h1m2 1h1m6-1h1m-1 0.5h1m-1 0h1m2.5-0.5h1m0.5 0h1m1.5 0h1m-0.5 0.5h1m0 0h1m-1 0h1m25.5-0.5h1m1 0h1m1 0h1m1.5 1h1m0.5-0.5h1m1-0.5h1m2 1h1m-1-0.5h1m2-0.5h1m0 0.5h1m1 0h1m1.5-0.5h1m-1 1h1m0-0.5h1m0 0h1m-87 1h1m4 0h1m5 0h1m1 0.5h1m2 0h1m0.5 0h1m0 0h1m0.5-1h1m-1 1h1m1 0h1m-1-0.5h1m1.5-0.5h1m1.5 0.5h1m2.5 0.5h1m0 0h1m-0.5 0h1m-0.5-1h1m1 0.5h1m21 0.5h1m2 0h1m-0.5-0.5h1m1 0h1m-0.5 0h1m2.5 0h1m5-0.5h1m1.5 0.5h1m0 0.5h1m0.5-0.5h1m-1 0.5h1m4-0.5h1m-1 0h1m-81 1h1m1.5 0h1m0.5 0.5h1m-0.5 0h1m0.5-0.5h1m-0.5-0.5h1m-0.5 0.5h1m0.5 0h1m0.5 0h1m-0.5 0h1m1.5 0.5h1m0 0h1m-0.5-0.5h1m7 0h1m-1 0h1m4.5-0.5h1m0 1h1m6-1h1m20 0h1m-0.5 0.5h1m-0.5-0.5h1m0 0.5h1m-1-0.5h1m-0.5 0.5h1m0-0.5h1m2.5 1h1m-1-0.5h1m0-0.5h1m-0.5 0.5h1m-1 0h1m-0.5 0h1m-0.5 0.5h1m-1-1h1m-1 0h1m-0.5 0h1m1 0.5h1m0.5 0h1m5 0h1m-1 0h1m-0.5 0h1m1-0.5h1m-0.5 0.5h1m0.5 0h1m-82.5 1h1m2 0.5h1m0-0.5h1m-0.5-0.5h1m0 1h1m-0.5-1h1m-0.5 1h1m-0.5-1h1m-0.5 1h1m0-0.5h1m1-0.5h1m-0.5 0h1m1 0.5h1m0 0.5h1m2-0.5h1m0 0.5h1m5 0h1m5-1h1m-0.5 0.5h1m-0.5 0.5h1m-1-1h1m2 1h1m2-1h1m18 1h1m3.5 0h1m-0.5-0.5h1m0.5 0.5h1m1-0.5h1m0.5 0h1m0.5 0.5h1m2 0h1m0-1h1m-1 0.5h1m-0.5-0.5h1m-0.5 0h1m3 0.5h1m-1-0.5h1m0.5 0h1m-0.5 0h1m-1 0.5h1m-0.5 0h1m1 0h1m-1-0.5h1m-79 2h1m4.5-0.5h1m-0.5 0.5h1m-0.5-1h1m-1 1h1m0-0.5h1m0.5-0.5h1m-0.5 0.5h1m1.5 0h1m3 0.5h1m0-1h1m2.5 0.5h1m-0.5 0h1m-1 0h1m-0.5 0h1m2 0h1m1 0h1m2 0.5h1m3-1h1m21 1h1m-1 0h1m0-0.5h1m0.5 0h1m0 0.5h1m4.5-0.5h1m-1-0.5h1m0 0.5h1m-1 0.5h1m2.5-1h1m2 0.5h1m2 0.5h1m0-0.5h1m-73.5 1.5h1m4 0h1m2-1h1m-1 1h1m0-0.5h1m-0.5 0h1m8 0.5h1m0-0.5h1m-0.5 0h1m0 0.5h1m-0.5 0h1m4-0.5h1m0.5-0.5h1m1.5 0.5h1m21-0.5h1m2.5 0.5h1m-1-0.5h1m1.5 1h1m-1 0h1m-1-1h1m-0.5 0h1m0 1h1m-1-1h1m1 1h1m-0.5-1h1m-1 1h1m-1-1h1m1.5 0h1m2 0.5h1m-1 0h1m0.5-0.5h1m0 1h1m0 0h1m0 0h1m-76.5 1h1m1.5-0.5h1m1 0.5h1m0.5-0.5h1m1.5 0h1m-0.5-0.5h1m0.5 1h1m8-1h1m-1 1h1m5 0h1m0.5-1h1m0.5 0h1m0 1h1m4 0h1m-1 0h1m19-1h1m3.5 0.5h1m1 0h1m1.5-0.5h1m0.5 0.5h1m-0.5-0.5h1m1.5 0.5h1m-1-0.5h1m-0.5 0h1m-0.5 0.5h1m-0.5 0.5h1m-0.5-1h1m-0.5 0.5h1m-1-0.5h1m0 1h1m0.5 0h1m-1-0.5h1m0.5-0.5h1m-70 2h1m0.5-1h1m2 0.5h1m0.5 0h1m0 0h1m0 0h1m0.5 0h1m3 0h1m2.5 0h1m1.5 0h1m-0.5 0h1m0.5 0.5h1m-0.5-0.5h1m29.5 0h1m-0.5 0h1m-0.5 0.5h1m1.5-0.5h1m0.5 0h1m0.5 0h1m-0.5 0.5h1m1.5-0.5h1m-0.5 0.5h1m0.5-0.5h1m1 0.5h1m3.5-0.5h1m4 0.5h1m2-0.5h1m-81 0.5h1m3 0h1m3.5 0.5h1m0 0h1m0-0.5h1m0 0h1m-1 0.5h1m3 0h1m3-0.5h1m2.5 0.5h1m-0.5-0.5h1m0 1h1m1-0.5h1m27 0h1m3 0h1m-0.5 0h1m-0.5 0h1m-0.5 0.5h1m0.5 0h1m0.5 0h1m0-1h1m-0.5 0.5h1m0 0h1m0 0h1m-1-0.5h1m0.5 1h1m-0.5-0.5h1m0 0h1m0 0h1m13 0.5h1m-85.5 0h1m1 0h1m6 0.5h1m2 0h1m-0.5 0h1m1 0h1m0 0.5h1m1.5-0.5h1m0 0.5h1m-1-0.5h1m2 0.5h1m4-0.5h1m22.5 0h1m1.5 0h1m5 0.5h1m0.5 0h1m-1 0h1m0.5-0.5h1m-1 0h1m0 0h1m0.5 0h1m1 0.5h1m-0.5-1h1m-1 1h1m0.5-0.5h1m0 0h1m-64.5 1h1m-0.5 0h1m2.5-0.5h1m-1 0.5h1m1.5-0.5h1m0.5 0h1m-1 0.5h1m0 0h1m0-0.5h1m0 0.5h1m0 0.5h1m0 0h1m-1-0.5h1m0.5-0.5h1m-0.5 1h1m0 0h1m-0.5-0.5h1m0-0.5h1m-1 0.5h1m-0.5 0h1m0.5-0.5h1m-0.5 0h1m1.5 0h1m-1 0.5h1m22.5 0.5h1m-1-0.5h1m0.5 0h1m-0.5-0.5h1m1 0h1m0.5 0h1m1 0h1m1 0.5h1m-1-0.5h1m-1 0.5h1m1 0h1m-0.5 0.5h1m-0.5 0h1m1 0h1m-0.5-1h1m2 0h1m-0.5 1h1m2-0.5h1m-69.5 1.5h1m0 0h1m-0.5-0.5h1m0 0h1m-0.5-0.5h1m-0.5 0.5h1m2-0.5h1m2.5 0h1m-0.5 0.5h1m-0.5 0.5h1m0.5 0h1m0.5-0.5h1m2 0h1m0.5 0h1m24 0h1m3-0.5h1m0.5 0.5h1m0 0h1m0.5-0.5h1m-0.5 0.5h1m0.5 0h1m-0.5 0h1m-0.5 0.5h1m-0.5-0.5h1m-1 0.5h1m2.5-1h1m3 0h1m-0.5 1h1m3-0.5h1m-1 0h1m-0.5-0.5h1m-64 1.5h1m1-0.5h1m5 0h1m1.5 0.5h1m5.5 0h1m-0.5-0.5h1m23.5 0.5h1m-1 0h1m-1 0.5h1m0 0h1m-1-0.5h1m1.5-0.5h1m-1 0h1m0 1h1m0.5-1h1m5.5 0.5h1m-0.5-0.5h1m0.5 0.5h1m-0.5 0.5h1m2.5-1h1m-0.5 0h1m-1 0h1m-59.5 2h1m0-0.5h1m-0.5-0.5h1m6 0.5h1m1 0h1m2-0.5h1m24.5 1h1m2 0h1m0-0.5h1m1.5-0.5h1m1 1h1m-0.5-1h1m4 0.5h1m0.5-0.5h1m0 0h1m-0.5 0.5h1m0 0h1m1 0.5h1m0.5 0h1m1.5-1h1m-57.5 1.5h1m2 0.5h1m29.5 0h1m2.5 0h1m1.5-1h1m8.5 0.5h1m0-0.5h1m1.5 0.5h1m-1-0.5h1m-69.5 1.5h1m2 0h1m5 0.5h1m5.5-0.5h1m9 0.5h1m23-1h1m-1 0.5h1m1.5 0h1m-0.5 0h1m-0.5-0.5h1m0 0.5h1m0 0.5h1m-0.5-0.5h1m0-0.5h1m-0.5 0h1m1.5 0.5h1m1-0.5h1m-0.5 0.5h1m-1 0h1m5.5 0h1m-88.5 1h1m8 0h1m3 0.5h1m2.5-0.5h1m6 0h1m2.5 0h1m4.5 0.5h1m0-0.5h1m7.5 0h1m2.5 0h1m3 0h1m20 0h1m2 0.5h1m-1-0.5h1m1 0h1m6 0.5h1m-0.5-0.5h1m0 0.5h1m1-0.5h1m1.5 0h1m5.5 0.5h1m-0.5-1h1m4.5 0.5h1m-99 0.5h1m1.5 1h1m3.5-0.5h1m2.5 0h1m0-0.5h1m2 0h1m1.5 1h1m0-1h1m-1 1h1m0.5-1h1m4 0.5h1m1 0h1m2.5 0h1m1 0h1m3.5 0.5h1m6 0h1m-1-1h1m-0.5 0.5h1m2 0.5h1m0.5-0.5h1m-1-0.5h1m17.5 1h1m-0.5-0.5h1m-1-0.5h1m3 1h1m0.5-0.5h1m0.5 0.5h1m-0.5 0h1m0.5-1h1m1 1h1m-0.5-1h1m1 1h1m1-1h1m4 0h1m8 1h1m-97.5 0.5h1m1 0.5h1m-1-0.5h1m5 0h1m0.5 0h1m0.5-0.5h1m2.5 0h1m7 1h1m0-0.5h1m0 0h1m0.5-0.5h1m0 0h1m3.5 0.5h1m2 0h1m1 0h1m-0.5-0.5h1m0.5 0.5h1m0.5 0h1m3 0h1m-0.5 0h1m0 0h1m-1 0h1m20.5 0h1m6.5-0.5h1m2 0.5h1m1-0.5h1m0 0h1m-0.5 1h1m-88 0.5h1m9 0h1m2 0h1m-0.5 0h1m2.5 0h1m1.5 0h1m1-0.5h1m1 0.5h1m1-0.5h1m9 0.5h1m-1-0.5h1m1 1h1m0.5-0.5h1m1 0h1m2 0h1m7.5 0h1m1.5-0.5h1m0.5 1h1m1.5-0.5h1m13.5 0h1m2.5 0h1m0.5 0.5h1m0.5 0h1m-0.5-1h1m1 0.5h1m-0.5 0.5h1m-1 0h1m-0.5 0h1m0.5-1h1m0.5 0h1m1 0h1m-1 0.5h1m-86.5 1h1m4-0.5h1m5.5 0h1m5.5 0h1m2 0h1m-1 0h1m2 0.5h1m-1 0h1m2 0.5h1m1-1h1m0 1h1m0.5-0.5h1m-0.5 0h1m1.5 0h1m2 0h1m0.5 0h1m4 0h1m-0.5 0h1m1.5-0.5h1m-1 0.5h1m0-0.5h1m0.5 0.5h1m1 0h1m5 0h1m8.5 0h1m10-0.5h1m1.5 0.5h1m1.5-0.5h1m2 0h1m-88.5 2h1m3.5-0.5h1m-1 0h1m1 0.5h1m7.5-0.5h1m1.5 0.5h1m0-0.5h1m0 0.5h1m1-0.5h1m-0.5-0.5h1m1 0.5h1m4 0h1m0-0.5h1m1.5 0.5h1m2.5-0.5h1m-0.5 0h1m1.5 0.5h1m0-0.5h1m0 0.5h1m0.5 0h1m-1 0h1m3.5-0.5h1m5.5 0.5h1m4.5 0h1m0.5 0.5h1m9 0h1m2 0h1m2-0.5h1m2.5 0.5h1m0-1h1m-1 1h1m1 0h1m-83 0h1m0 1h1m-0.5-1h1m4 0h1m3.5 0h1m0 0h1m2 0.5h1m0-0.5h1m10 1h1m4 0h1m-1-0.5h1m4 0.5h1m-1-1h1m0 0.5h1m4 0h1m4.5 0h1m2.5 0h1m0.5 0.5h1m0-0.5h1m2.5 0.5h1m19-0.5h1m1.5 0.5h1m-0.5-0.5h1m-0.5 0h1m-0.5-0.5h1m7.5 0.5h1m-98 1h1m0 0.5h1m4 0h1m0-0.5h1m-0.5-0.5h1m-1 0.5h1m3 0h1m4.5 0h1m-0.5 0.5h1m-1-0.5h1m1.5-0.5h1m1 0.5h1m3 0.5h1m-0.5-1h1m3.5 0h1m-0.5 0.5h1m1 0h1m0 0h1m1.5 0.5h1m1.5-0.5h1m0-0.5h1m3 0.5h1m-0.5 0.5h1m0-1h1m-0.5 0h1m0 0.5h1m1-0.5h1m1 0.5h1m-0.5-0.5h1m0 1h1m0-1h1m-1 0h1m0.5 1h1m1-0.5h1m-0.5 0h1m-0.5 0h1m0 0h1m-0.5 0h1m0 0h1m1 0h1m-0.5 0h1m16 0.5h1m-0.5-0.5h1m1.5 0h1m2-0.5h1m-84.5 1.5h1m3.5 0h1m0.5 0h1m1-0.5h1m-1 0h1m6.5 1h1m2.5 0h1m1-0.5h1m0 0.5h1m1-0.5h1m-0.5-0.5h1m-1 1h1m11 0h1m0.5 0h1m4.5-1h1m0 0.5h1m0-0.5h1m5 0.5h1m-0.5 0h1m5.5 0.5h1m3.5-0.5h1m15 0h1m1 0h1m0-0.5h1m2.5 0h1m-1 1h1m-86.5 0h1m0 0.5h1m0 0h1m6.5 0.5h1m2.5-0.5h1m1-0.5h1m3.5 1h1m0-1h1m-1 0.5h1m12 0h1m0.5 0h1m0-0.5h1m-0.5 1h1m-0.5-1h1m-0.5 0h1m2.5 0.5h1m1 0.5h1m1 0h1m1.5-0.5h1m1 0h1m-0.5 0h1m1 0.5h1m0-1h1m1 1h1m4-0.5h1m20 0.5h1m-74.5 0.5h1m1.5 0.5h1m0-0.5h1m0.5 0h1m-1 0h1m6 0.5h1m-0.5-0.5h1m-0.5 0.5h1m-1-1h1m0.5 0.5h1m1.5 0h1m5.5 0h1m-0.5 0h1m1 0.5h1m1-0.5h1m3 0h1m1-0.5h1m-1 1h1m4-0.5h1m7-0.5h1m0 1h1m29.5-1h1m-87.5 1h1m-1 0h1m1.5 0h1m0 1h1m1 0h1m2-1h1m9 0h1m2.5 1h1m0.5-0.5h1m2.5 0h1m-0.5 0.5h1m5 0h1m7-1h1m4 0.5h1m-0.5 0h1m-1 0.5h1m-1-0.5h1m1.5 0h1m0.5 0.5h1m3.5 0h1m2.5-0.5h1m4 0h1m-58 1.5h1m-0.5 0h1m-0.5-0.5h1m2-0.5h1m-0.5 0h1m-0.5 0.5h1m0 0h1m-1 0h1m-0.5 0.5h1m6.5-1h1m-0.5 0.5h1m0 0h1m-1 0.5h1m0-0.5h1m5.5-0.5h1m0 0.5h1m0.5 0.5h1m1 0h1m0.5-1h1m-0.5 1h1m0-0.5h1m2 0.5h1m2.5-1h1m-0.5 1h1m0.5-1h1m2.5 0h1m-1 1h1m0-0.5h1m0-0.5h1m1 0.5h1m1.5-0.5h1m0 1h1m0-0.5h1m-0.5-0.5h1m2.5 0.5h1m2 0h1m-65 0.5h1m-1 0.5h1m0.5 0.5h1m0-0.5h1m2 0h1m1.5 0h1m-0.5 0h1m-1 0h1m4.5-0.5h1m0 0.5h1m2.5-0.5h1m1 0.5h1m-0.5 0h1m-0.5 0.5h1m1.5 0h1m1.5-1h1m2.5 0h1m-0.5 0.5h1m-1 0h1m0 0.5h1m0-0.5h1m0.5 0h1m0 0h1m14.5 0.5h1m0-1h1m1 0.5h1m0 0h1m1.5-0.5h1m-1 1h1m0-0.5h1m-1 0.5h1m0 0h1m-0.5-1h1m-1 1h1m4-1h1m-66 2h1m0.5 0h1m5.5-0.5h1m-1-0.5h1m1.5 0.5h1m0.5 0h1m0-0.5h1m-0.5 0h1m0 0.5h1m5.5 0h1m-0.5 0h1m2 0h1m3 0h1m-1 0h1m-0.5-0.5h1m0.5 0.5h1m1.5 0h1m0.5 0h1m3-0.5h1m0 0h1m0 0h1m0.5 0.5h1m-1-0.5h1m6 0h1m4.5 0.5h1m-0.5 0h1m-0.5 0.5h1m1.5-0.5h1m-56.5 0.5h1m1.5 0.5h1m11.5-0.5h1m3.5 0.5h1m-1 0h1m3.5-0.5h1m0 1h1m3.5 0h1m0.5 0h1m4.5-0.5h1m2.5 0h1m3 0h1m2-0.5h1m1 0.5h1m8 0.5h1m-1-1h1m-1 0h1m1 0.5h1m-64 1h1m3.5 0h1m-1 0h1m0-0.5h1m-1 0h1m1 0.5h1m-0.5-0.5h1m1.5 0h1m1.5 1h1m4-0.5h1m-1-0.5h1m1.5 0h1m1 0.5h1m0-0.5h1m-0.5 0.5h1m0.5-0.5h1m0.5 1h1m-0.5-1h1m-1 0.5h1m11.5 0.5h1m3-1h1m7.5 0h1m1.5 0h1m4 1h1m-1 0h1m2.5-0.5h1m-63.5 1h1m-0.5 0h1m0 0.5h1m1-0.5h1m-0.5 0h1m3 0h1m0-0.5h1m2.5 0.5h1m-0.5 0.5h1m0.5-0.5h1m1 0.5h1m0.5-1h1m5 0h1m0 1h1m-0.5-1h1m1.5 0h1m-0.5 0.5h1m-0.5-0.5h1m-1 1h1m0 0h1m4-1h1m0 1h1m3-1h1m2.5 0.5h1m1.5 0h1m-1 0.5h1m-0.5 0h1m7.5-0.5h1m0.5 0h1m-0.5-0.5h1m-0.5 0.5h1m1 0.5h1m0 0h1m-60 0.5h1m4.5 0h1m2.5 0.5h1m0-1h1m-0.5 0.5h1m-0.5 0h1m4.5 0h1m0 0h1m-1 0h1m2.5 0h1m5 0h1m4-0.5h1m0 0.5h1m0 0h1m-1 0h1m1.5 0h1m-0.5 0.5h1m-0.5-0.5h1m1.5 0h1m0.5 0h1m0-0.5h1m0.5 0h1m1.5 0h1m1.5 0.5h1m4.5 0.5h1m2 0h1m-1-0.5h1m0 0.5h1m1-1h1m1 0.5h1m-66 1h1m-0.5-0.5h1m0 0.5h1m1-0.5h1m1 0.5h1m-1 0.5h1m5-0.5h1m-0.5-0.5h1m0.5 1h1m1-0.5h1m2 0.5h1m0.5-0.5h1m6 0h1m-1 0h1m6.5 0h1m1-0.5h1m-1 0.5h1m0 0.5h1m1-0.5h1m1-0.5h1m-0.5 0h1m-0.5 0h1m2 1h1m9.5-0.5h1m0-0.5h1m2.5 0.5h1m-57.5 1h1m-0.5-0.5h1m4.5 0.5h1m0.5 0.5h1m10-1h1m5 1h1m3-0.5h1m11.5-0.5h1m7 0.5h1m7.5 0h1m-60.5 1h1m-0.5 0.5h1m-1-0.5h1m-0.5 0h1m-0.5 0h1m2-0.5h1m2 0h1m0 0h1m1.5 0.5h1m14 0h1m5-0.5h1m5 0h1m1 0h1m2.5 1h1m5-0.5h1m1.5 0.5h1m2-0.5h1m0 0.5h1m1.5-1h1m2.5 0h1m0.5 1h1m-64 0.5h1m1.5-0.5h1m0 1h1m1.5 0h1m10-1h1m14.5 0.5h1m2 0.5h1m2.5-0.5h1m0 0h1m1 0h1m1 0.5h1m2.5-0.5h1m-0.5 0h1m12.5-0.5h1m1.5 0.5h1m-61 0.5h1m2 0.5h1m0.5-0.5h1m0.5 1h1m0.5-0.5h1m5 0h1m-1 0.5h1m-0.5-1h1m1.5 0h1m3.5 0h1m9.5 0.5h1m4 0.5h1m5 0h1m0-1h1m0.5 1h1m0.5-0.5h1m-1 0.5h1m8-0.5h1m1.5 0h1m-62 0.5h1m3 0h1m1 0h1m-0.5 1h1m0-0.5h1m10-0.5h1m0 0.5h1m0-0.5h1m0 0.5h1m0 0h1m1.5 0h1m4 0h1m5 0.5h1m6-0.5h1m-0.5-0.5h1m-0.5 0.5h1m-0.5 0h1m2-0.5h1m3.5 0.5h1m1.5 0.5h1m-58 0.5h1m9.5 0h1m-0.5 0h1m-0.5 0h1m6.5-0.5h1m3.5 1h1m1.5-1h1m2.5 0.5h1m16 0.5h1m4.5-0.5h1m1.5 0h1m3 0h1m1.5 0.5h1m0.5-0.5h1m0 0.5h1m-64.5 0.5h1m1.5 0h1m4 0h1m-0.5 0.5h1m-1-0.5h1m1-0.5h1m7.5 0.5h1m-0.5 0h1m-1 0.5h1m0-0.5h1m3.5 0h1m-1-0.5h1m0 0.5h1m12.5 0h1m-0.5 0h1m1 0h1m0.5-0.5h1m0 0.5h1m1-0.5h1m1.5 0.5h1m2 0.5h1m1.5 0h1m-0.5-0.5h1m-0.5 0h1m2.5 0h1m1.5 0h1m1.5 0h1m-62.5 1.5h1m-1 0h1m1.5-1h1m7.5 0.5h1m1.5 0h1m7.5 0h1m-0.5 0h1m0 0.5h1m0-0.5h1m0-0.5h1m1 0.5h1m3 0h1m3 0h1m0.5 0h1m2 0h1m2-0.5h1m-0.5 0.5h1m4 0h1m-51.5 1h1m-1 0.5h1m2.5-1h1m0 0.5h1m0-0.5h1m4 0h1m9.5 0h1m1.5 0.5h1m2.5 0h1m3-0.5h1m4 0h1m0.5 1h1m0.5-0.5h1m-0.5 0.5h1m3.5-0.5h1m-0.5 0.5h1m-1-0.5h1m2 0.5h1m6.5-0.5h1m-1-0.5h1m1 0.5h1m0-0.5h1m1 0.5h1m-59.5 1h1m5.5-0.5h1m0.5 0.5h1m1.5 0h1m0.5-0.5h1m4 0.5h1m-0.5 0.5h1m4-1h1m-0.5 1h1m12-1h1m0.5 0h1m0 1h1m0.5-1h1m5.5 1h1m1.5-0.5h1m0.5-0.5h1m6.5 1h1m-0.5 0h1m1.5-0.5h1m-61.5 0.5h1m1 0.5h1m1-0.5h1m0 0.5h1m3.5 0.5h1m4-0.5h1m2.5 0.5h1m1.5-0.5h1m1 0h1m2.5 0h1m3 0.5h1m4-1h1m0.5 0.5h1m3.5 0h1m-1 0.5h1m-0.5-0.5h1m0.5 0h1m0 0h1m2 0.5h1m4 0h1m5-0.5h1m-58.5 1h1m2 0h1m0-0.5h1m1.5 1h1m2 0h1m-1-1h1m3 0.5h1m2 0.5h1m2-1h1m0 0.5h1m-1-0.5h1m0 1h1m2-1h1m0 0h1m1 0.5h1m0 0h1m-0.5 0h1m2.5 0.5h1m1.5-0.5h1m1.5 0.5h1m2-1h1m0 0.5h1m1-0.5h1m3.5 0.5h1m1 0.5h1m0.5-1h1m3 0.5h1m2.5 0h1m-56.5 0.5h1m0.5 0h1m2.5 0h1m3.5 0.5h1m-0.5-0.5h1m0 0h1m0 0.5h1m-1 0h1m0.5-0.5h1m5.5 1h1m-0.5-0.5h1m2-0.5h1m1 0h1m0.5 0h1m2.5 0h1m1.5 0.5h1m0 0h1m0-0.5h1m-1 0.5h1m1 0h1m-1-0.5h1m0.5 0.5h1m0 0.5h1m1-0.5h1m0.5-0.5h1m8 1h1m-51 0.5h1m-0.5-0.5h1m0 0.5h1m4 0h1m1.5-0.5h1m-1 0.5h1m1.5 0h1m2 0h1m10-0.5h1m2.5 0.5h1m0 0h1m-1 0h1m4.5 0h1m1.5 0h1m1 0h1m0.5-0.5h1m-1 0.5h1m1 0h1m-0.5 0h1m1 0h1m4.5 0.5h1m-56 1h1m5.5 0h1m3-0.5h1m2-0.5h1m3 1h1m0-0.5h1m4 0h1m0 0h1m6-0.5h1m2 0.5h1m6 0h1m1 0h1m0.5-0.5h1m3 0h1m2.5 1h1m-0.5-0.5h1m-0.5-0.5h1m1.5 0h1m-55.5 1h1m1 0h1m1.5 0.5h1m1.5 0h1m0 0.5h1m5.5-0.5h1m3.5 0h1m0 0h1m0.5 0h1m1.5 0h1m4.5 0h1m4 0h1m-0.5 0.5h1m1.5 0h1m-0.5-1h1m-1 0.5h1m5 0h1m0.5 0.5h1m0-0.5h1m-0.5 0.5h1m-0.5-0.5h1m0 0.5h1m2.5-0.5h1m-53.5 1h1m1-0.5h1m1.5 0h1m1 0.5h1m-1 0h1m-0.5 0h1m1 0h1m4.5-0.5h1m4.5 0.5h1m0 0h1m-1 0.5h1m5-0.5h1m0 0h1m4 0h1m18.5 0.5h1m-55 0h1m2.5 0.5h1m6.5-0.5h1m-0.5 0h1m0 0h1m3.5 0.5h1m-0.5 0h1m1.5 0h1m4.5 0.5h1m-0.5-0.5h1m2 0.5h1m-0.5-0.5h1m-0.5 0.5h1m-0.5 0h1m4-0.5h1m1.5 0h1m-1 0h1m0-0.5h1m0.5 0h1m0.5 0h1m1.5 0h1m-0.5 0h1m2 0h1m0 0.5h1m2.5 0.5h1m-50 0.5h1m6-0.5h1m0.5 0h1m-0.5 0h1m0.5 1h1m-0.5-0.5h1m-0.5 0h1m0.5-0.5h1m2.5 0.5h1m-0.5-0.5h1m-1 0.5h1m-1 0.5h1m-0.5-0.5h1m3 0.5h1m5-0.5h1m-0.5 0h1m5 0h1m-1 0h1m1 0h1m-0.5 0h1m-0.5 0h1m1.5-0.5h1m-0.5 0h1m1 1h1m-0.5-0.5h1m0.5 0.5h1m-0.5 0h1m-42 1h1m4.5-0.5h1m4 0h1m-0.5 0h1m-0.5-0.5h1m0 1h1m0-0.5h1m-0.5 0h1m-0.5 0h1m4.5 0h1m1 0h1m0.5 0h1m1.5-0.5h1m1 1h1m1 0h1m3.5-0.5h1m4.5 0.5h1m0 0h1m-38.5 0.5h1m3 0h1m1 0h1m-0.5 0.5h1m8-1h1m0 0.5h1m-1 0h1m-0.5 0h1m0.5 0h1m5 0h1m-1 0.5h1m0-0.5h1m0 0.5h1m5-0.5h1m3.5 0.5h1m0.5-0.5h1m-1 0.5h1m0-0.5h1m-42.5 1h1m5.5-0.5h1m0.5 1h1m-0.5 0h1m3.5-0.5h1m-1 0.5h1m1-0.5h1m1 0h1m1.5 0h1m0 0.5h1m-0.5 0h1m-0.5-1h1m2.5 0.5h1m0-0.5h1m1 0.5h1m1.5 0h1m0 0h1m2.5 0h1m5-0.5h1m-0.5 0.5h1m-36.5 1h1m3 0.5h1m2-1h1m-1 0h1m3 1h1m0-1h1m-1 0.5h1m-0.5-0.5h1m-0.5 0.5h1m2.5 0.5h1m6-1h1m-0.5 0h1m-1 0.5h1m0 0.5h1m3-0.5h1m-0.5 0.5h1m2.5 0h1m-32.5 0.5h1m1 0h1m2.5 0h1m0 0.5h1m1.5-0.5h1m-1 0h1m3.5-0.5h1m0 1h1m1.5-1h1m0.5 1h1m1-0.5h1m0 0h1m0.5-0.5h1m1.5 0.5h1m3.5-0.5h1m-0.5 0h1m-27 1h1m2 0.5h1m0 0h1m2-0.5h1m2 0.5h1m1-0.5h1m-0.5 0h1m1.5 1h1m-0.5-1h1m-1 0.5h1m2 0.5h1m2-1h1m5 0.5h1m-32 0.5h1m1 0.5h1m-1 0h1m3.5 0h1m-1-0.5h1m4 0.5h1m0 0h1m2-0.5h1m-1 1h1m-0.5-1h1m-1 1h1m5.5-1h1m0 0.5h1m0.5 0h1m-0.5 0h1m0 0h1m-29.5 1h1m11-0.5h1m1 1h1m0-1h1m2.5 0.5h1m-1 0h1m1 0h1m1-0.5h1m0 0.5h1m0.5 0.5h1m0-0.5h1m-20.5 1.5h1m1 0h1m1 0h1m-0.5-1h1m0.5 0.5h1m2.5 0h1m1.5 0.5h1m-0.5-0.5h1m0.5 0.5h1m2.5-0.5h1m0.5 0h1m1-0.5h1m0 1h1m-25.5 0h1m1 0h1m4 0.5h1m1.5 0.5h1m1.5-0.5h1m2 0h1m3-0.5h1m1 1h1m-0.5-0.5h1m2 0h1m0 0.5h1m-22 0.5h1m0.5 0h1m-1 0.5h1m-0.5-1h1m-1 0.5h1m1.5 0h1m0.5 0.5h1m1.5-0.5h1m-1 0h1m2.5 0h1m4.5 0h1m-14.5 1.5h1m1-0.5h1m3.5 0h1m8.5-0.5h1m-18.5 1.5h1m0-0.5h1m3 0.5h1m-6 0.5h1" stroke="#d91f2e" stroke-width="1" fill="none"/>
<path d="M76 40.5h1m6 0h1m-7 1.5h1m-0.5 0.5h1m1-1h1m5 0.5h1m-6 1h1m3 0.5h1m1-0.5h1m-8.5 1h1m1 0h1m-3 1h1m-0.5-0.5h1m0 0.5h1m1.5-0.5h1m-0.5 0.5h1m-5 1h1m0 0h1m1-0.5h1m-1.5 1.5h1m-20 1h1m11.5 0h1m3 0.5h1m0.5 0h1m0-0.5h1m-1-0.5h1m3 0h1m-10 1.5h1m3-0.5h1m1 0h1m5.5 0.5h1m-1 0h1m-29 1h1m0.5 0h1m1-0.5h1m16.5 1h1m2.5-0.5h1m0 0h1m0 0h1m-31.5 1.5h1m1-1h1m4.5 0h1m19.5 1h1m-29.5 1h1m5.5-0.5h1m0-0.5h1m8 0.5h1m12.5 0h1m4.5 0.5h1m-0.5-0.5h1m-33 0.5h1m-0.5 0.5h1m2 0.5h1m0-0.5h1m-0.5 0h1m15-0.5h1m0.5 1h1m-0.5 0h1m1-1h1m4.5 0.5h1m21.5 0.5h1m-52.5 1h1m0-0.5h1m20.5 0h1m4 0h1m4 0h1m23-0.5h1m-59.5 1.5h1m2-0.5h1m-0.5 0.5h1m21.5 0h1m-0.5 0.5h1m4 0h1m19-0.5h1m-55 0.5h1m1.5 1h1m-0.5 0h1m1.5 0h1m-0.5-1h1m-1 0.5h1m2.5 0h1m19 0.5h1m0-0.5h1m-1 0h1m3 0h1m-6.5 0.5h1m1.5 0h1m2 0.5h1m-32.5 1h1m4.5-0.5h1m52.5 1h1m-60 0.5h1m0-0.5h1m3 0h1m-6 1.5h1m2.5 0.5h1m-0.5-0.5h1m0.5-0.5h1m65.5 0.5h1m1 0h1m1-0.5h1m-75.5 1.5h1m17 0h1m9-0.5h1m25 0.5h1m13-0.5h1m4.5 1h1m-61 0.5h1m30.5 0h1m29.5-0.5h1m-76 1h1m5.5 2h1m68-0.5h1m-51.5 0.5h1m41 1h1m-33 0h1m21.5 1.5h1m7.5 0h1m12.5 0h1m-70.5 1h1m9.5 0h1m38.5 0.5h1m-8 0.5h1m16.5 0h1m5 0h1m-0.5 0h1m-88.5 1h1m44.5 0h1m21 0.5h1m-40 0h1m31.5 0.5h1m18-0.5h1m6 0.5h1m-60.5 1.5h1m7.5 0.5h1m50 0.5h1m-81 0.5h1m24.5-0.5h1m54.5 1.5h1m-56 0.5h1m6.5 0.5h1m45 0.5h1m-77 1h1m73 0h1m0.5-0.5h1m-3.5 1.5h1m1.5-0.5h1m2.5 0.5h1m0.5-0.5h1m-86 1.5h1m5-0.5h1m43-0.5h1m25.5 0.5h1m-27 0.5h1m3.5 0h1m9.5 0.5h1m-59 0.5h1m26.5 0h1m-2.5 1h1m18.5 1h1m-67.5 0.5h1m30 0h1m12 0h1m1 0h1m16.5 0h1m-54.5 1h1m30-0.5h1m39.5 1h1m-20.5 0.5h1m15.5 0.5h1m1.5-0.5h1m-0.5-0.5h1m1 0.5h1m-0.5-0.5h1m1 0h1m-84 1.5h1m17 0h1m0 0.5h1m17.5-0.5h1m11 0.5h1m26-1h1m-1 1h1m1.5-1h1m2 1h1m2-0.5h1m-49 1h1m1 0h1m0-0.5h1m1 0.5h1m7.5 0h1m-0.5-0.5h1m22.5 0h1m0 0.5h1m-0.5-0.5h1m-1 0.5h1m0 0h1m0.5 0h1m-0.5 0.5h1m-1-1h1m-1 0.5h1m1 0h1m-0.5 0h1m-0.5 0h1m-1 0h1m1.5-0.5h1m0 0.5h1m-40 1h1m-0.5-0.5h1m23 0h1m1 0.5h1m-0.5-0.5h1m-0.5 0.5h1m-0.5 0h1m5 0.5h1m-0.5 0h1m2-0.5h1m-1 0.5h1m-1-0.5h1m3 0.5h1m0 0h1m-1-1h1m-51.5 2h1m11 0h1m18-1h1m0 0.5h1m-0.5 0h1m0-0.5h1m1.5 1h1m0-0.5h1m-0.5 0h1m0 0h1m-0.5-0.5h1m0.5 0.5h1m-1 0.5h1m-0.5-0.5h1m-0.5 0h1m2 0h1m1 0h1m0-0.5h1m1.5 1h1m-88.5 0.5h1m66 0h1m1 0.5h1m0-0.5h1m-0.5 0h1m2.5 0h1m-0.5 0h1m4 0h1m1.5 0h1m0-0.5h1m0.5 0h1m-0.5 0.5h1m2 0h1m-0.5 0h1m1 0.5h1m-69.5 0h1m4.5 0h1m11 0h1m4.5 0.5h1m6.5 0.5h1m3.5-1h1m9 1h1m0-1h1m-0.5 1h1m-1-1h1m2 0.5h1m2.5 0.5h1m-1-0.5h1m1.5 0h1m-1-0.5h1m0.5 0h1m0 0h1m0 0.5h1m1-0.5h1m-0.5 0.5h1m1 0.5h1m-1-1h1m0 0.5h1m0 0h1m-1 0h1m0.5-0.5h1m-1 0.5h1m-44.5 1h1m2.5 0h1m11 0h1m8.5 0.5h1m-0.5 0h1m0-0.5h1m-0.5 0h1m1 0.5h1m-0.5-1h1m-1 0h1m-0.5 0.5h1m0 0h1m-1-0.5h1m-0.5 1h1m3 0h1m0.5-1h1m-1 0h1m0 0h1m0.5 0.5h1m1-0.5h1m-1 1h1m-1-0.5h1m1.5-0.5h1m1 0h1m-64 2h1m12.5-1h1m23.5 0.5h1m3 0.5h1m1 0h1m1.5 0h1m-0.5-1h1m5.5 0.5h1m-1 0h1m4-0.5h1m4.5 1h1m-0.5-0.5h1m-0.5 0h1m-51 0.5h1m0.5 1h1m18-0.5h1m0.5 0h1m1-0.5h1m3 0.5h1m-0.5-0.5h1m-1 0.5h1m-0.5 0h1m0.5 0.5h1m2.5-0.5h1m0-0.5h1m1 0.5h1m0 0.5h1m0.5-0.5h1m1.5 0h1m-0.5 0.5h1m-0.5-0.5h1m-0.5 0h1m0.5 0h1m1 0h1m-1 0h1m-58.5 1h1m31.5 0h1m1 0h1m1 0h1m0 0h1m0.5 0h1m-1 0.5h1m3-0.5h1m3 0.5h1m0.5-0.5h1m1-0.5h1m-1 0h1m2 0.5h1m-0.5 0h1m-0.5 0.5h1m0.5-0.5h1m-1 0h1m-0.5-0.5h1m-0.5 1h1m-0.5 0h1m1-0.5h1m-21.5 0.5h1m0 0h1m1 0.5h1m0 0.5h1m-0.5-1h1m0 0h1m-0.5 0.5h1m0 0.5h1m0.5-0.5h1m0 0.5h1m0.5-1h1m1.5 0.5h1m4.5 0h1m0 0.5h1m-1 0h1m-28 0.5h1m-1 0h1m-0.5 0.5h1m4 0h1m0 0h1m-0.5-0.5h1m-1 0h1m2.5-0.5h1m0.5 0.5h1m2 0h1m2.5 0.5h1m0-0.5h1m0 0h1m0 0h1m0-0.5h1m-0.5 1h1m-1-0.5h1m-1 0.5h1m-0.5 0h1m-0.5 0h1m-1 0h1m0-0.5h1m-23.5 0.5h1m-1 0.5h1m0.5 0.5h1m0.5-0.5h1m-1 0h1m0.5 0h1m-1 0h1m-1 0h1m-0.5-0.5h1m-0.5 0.5h1m-0.5 0h1m-0.5 0h1m0.5 0.5h1m0.5-0.5h1m0 0h1m0 0.5h1m-1-0.5h1m1 0h1m0.5 0h1m2.5-0.5h1m-0.5 0h1m0.5 0.5h1m1.5-0.5h1m0 0.5h1m-1-0.5h1m0.5 0h1m-30.5 1.5h1m4 0.5h1m2-1h1m-0.5 0h1m0 0.5h1m-1 0.5h1m0.5 0h1m0.5-0.5h1m-0.5 0h1m-1 0.5h1m-0.5-0.5h1m-0.5 0.5h1m2 0h1m0.5 0h1m-0.5 0h1m-0.5-0.5h1m0 0.5h1m-1 0h1m-0.5 0h1m-0.5 0h1m-0.5-0.5h1m-1-0.5h1m0.5 0.5h1m-1 0h1m-1 0h1m0.5 0.5h1m-1 0h1m0 0h1m-1-1h1m5 0h1m-79.5 1.5h1m45.5-0.5h1m0 0.5h1m1-0.5h1m1.5 0.5h1m0 0h1m2.5 0h1m0 0h1m-0.5 0h1m1-0.5h1m2.5 0.5h1m-1 0h1m0 0h1m0-0.5h1m-0.5 0h1m-0.5 0.5h1m0.5 0.5h1m-1 0h1m1.5-0.5h1m-25.5 1h1m6-0.5h1m-1 0.5h1m-0.5 0h1m5 0h1m0.5 0.5h1m0 0h1m1-1h1m1.5 0.5h1m2.5 0h1m2 0h1m0-0.5h1m0 0h1m-0.5 0.5h1m0 0h1m-100 1.5h1m34.5-0.5h1m34.5 0h1m-0.5 0.5h1m-0.5-1h1m-1 1h1m2 0h1m0 0h1m-0.5-0.5h1m1.5 0.5h1m-0.5 0h1m0.5-1h1m0.5 0.5h1m2 0.5h1m1-0.5h1m-1 0.5h1m-1 0h1m0-1h1m0.5 0.5h1m-0.5-0.5h1m0.5 0.5h1m-1 0.5h1m1-0.5h1m-0.5-0.5h1m0 0.5h1m0.5 0.5h1m-28 0.5h1m2.5 0h1m-0.5 0h1m1 0h1m-0.5 0h1m1.5-0.5h1m1 1h1m2-0.5h1m1.5 0h1m-0.5-0.5h1m0 0h1m-0.5 1h1m-0.5-0.5h1m1 0.5h1m-0.5 0h1m-1-1h1m-0.5 0.5h1m0 0h1m0.5 0h1m-0.5 0h1m0 0h1m-21.5 1.5h1m-0.5-0.5h1m0.5 0h1m-0.5-0.5h1m-0.5 1h1m-1-0.5h1m0.5 0h1m0 0h1m0 0.5h1m0.5-0.5h1m2.5-0.5h1m-1 0h1m-0.5 0.5h1m-0.5 0h1m-0.5-0.5h1m0 0h1m2.5 1h1m1-1h1m-75.5 1.5h1m1.5-0.5h1m3 0.5h1m14 0h1m26.5 0h1m3.5 0h1m0 0.5h1m-0.5 0h1m2.5 0h1m0-0.5h1m-1 0h1m4.5 0h1m-1 0h1m1 0.5h1m0.5 0h1m-0.5 0h1m0-0.5h1m-0.5 0.5h1m5 0h1m-85.5 0.5h1m3.5 0h1m-0.5 0h1m9.5 0h1m15.5-0.5h1m30.5 1h1m2-0.5h1m-0.5-0.5h1m1 1h1m0 0h1m-1-0.5h1m-0.5 0.5h1m2 0h1m-1-0.5h1m-1 0.5h1m-1-0.5h1m7.5 0.5h1m-90.5 1h1m2 0h1m8 0h1m4-1h1m0 1h1m1 0h1m0-1h1m4 0.5h1m3-0.5h1m40 0.5h1m2-0.5h1m1 0.5h1m0 0h1m1.5 0.5h1m0 0h1m0.5-1h1m1 1h1m0 0h1m-1 0h1m-0.5-0.5h1m0 0h1m-0.5-0.5h1m-1 0.5h1m0 0h1m-0.5 0h1m2 0h1m3 0h1m-1-0.5h1m0 1h1m-0.5 0h1m-103.5 0h1m1.5 0.5h1m8.5 0h1m0.5 0h1m1 0.5h1m5 0h1m1 0h1m2.5-0.5h1m-0.5 0h1m4.5-0.5h1m-1 0h1m2.5 0.5h1m-1-0.5h1m37.5 0h1m2.5 0h1m0.5 0.5h1m-0.5 0h1m0.5-0.5h1m-0.5 0h1m5 0.5h1m0 0h1m-0.5-0.5h1m4.5 1h1m1-0.5h1m-1-0.5h1m-1 0h1m0 0.5h1m-1 0h1m-0.5 0h1m2 0h1m-86 1h1m-0.5-0.5h1m3 0.5h1m3 0h1m3 0h1m0 0h1m-0.5 0.5h1m1 0h1m14-0.5h1m26.5-0.5h1m2.5 0.5h1m0.5 0.5h1m3.5 0h1m1.5 0h1m-1-1h1m2 1h1m-1 0h1m0-0.5h1m1 0h1m3 0.5h1m0 0h1m0 0h1m0 0h1m-96.5 0.5h1m4.5 0.5h1m5.5-0.5h1m0 0h1m3 0.5h1m2 0h1m-0.5-1h1m5.5 0.5h1m8.5 0.5h1m9.5-0.5h1m25 0.5h1m6 0h1m0-0.5h1m0.5-0.5h1m-1 0.5h1m0 0h1m0 0h1m-0.5 0h1m0.5 0h1m0.5 0.5h1m1.5-1h1m-0.5 0.5h1m-0.5-0.5h1m-0.5 0.5h1m3 0h1m0.5 0h1m-0.5 0h1m1 0h1m0.5 0h1m1.5 0.5h1m-115.5 0h1m2 1h1m14-0.5h1m0.5-0.5h1m1.5 0.5h1m11-0.5h1m2 0.5h1m3.5 0.5h1m-0.5-1h1m0.5 0h1m-0.5 0.5h1m3.5-0.5h1m44.5 0.5h1m-1-0.5h1m1 0.5h1m-1-0.5h1m-1 0.5h1m2 0h1m-1-0.5h1m4 0h1m-0.5 0.5h1m2 0h1m-1 0h1m-0.5 0h1m0.5 0h1m-1 0h1m0.5-0.5h1m1 0.5h1m3 0.5h1m-110 0.5h1m14-0.5h1m1 0h1m1.5 1h1m0 0h1m-1-0.5h1m2 0.5h1m4.5-0.5h1m-0.5-0.5h1m6 0.5h1m43.5-0.5h1m3.5 0.5h1m0.5 0h1m-0.5 0h1m-0.5 0.5h1m0-0.5h1m1.5 0h1m-0.5 0.5h1m-1 0h1m0-1h1m-0.5 1h1m0-0.5h1m-1 0.5h1m0 0h1m-1-0.5h1m0 0h1m-1 0.5h1m-1 0h1m-0.5 0h1m-0.5-1h1m0 0h1m0 0.5h1m-0.5-0.5h1m1 0h1m1 0.5h1m0.5 0h1m0 0h1m-108.5 1h1m11.5-0.5h1m1 0.5h1m2.5 0h1m9.5 0h1m52.5 0h1m1.5 0h1m0.5 0h1m-0.5-0.5h1m-0.5 0.5h1m-1 0h1m-0.5 0h1m3 0.5h1m-1-0.5h1m0.5 0.5h1m-1 0h1m-1-0.5h1m-0.5 0h1m3.5 0h1m-1 0.5h1m-0.5-0.5h1m3-0.5h1m1.5 0.5h1m0 0h1m0-0.5h1m2 1h1m-93.5 1h1m7-1h1m4 0h1m0 0.5h1m-1 0.5h1m1 0h1m0.5 0h1m2-0.5h1m0-0.5h1m-0.5 0.5h1m3.5 0h1m43-0.5h1m1 1h1m1.5-0.5h1m1.5 0.5h1m-1-0.5h1m1.5-0.5h1m-0.5 0.5h1m-1 0.5h1m-1-0.5h1m-0.5 0h1m7.5 0h1m-1-0.5h1m-0.5 0.5h1m-1 0h1m2 0h1m-116 1.5h1m1-1h1m12 0.5h1m8 0.5h1m7.5-0.5h1m8-0.5h1m45 0.5h1m4 0h1m-0.5 0h1m-1-0.5h1m-1 0.5h1m-0.5-0.5h1m2.5 0.5h1m-1 0h1m0-0.5h1m-0.5 1h1m1 0h1m2.5 0h1m0.5-1h1m3.5 0.5h1m2.5-0.5h1m0 1h1m2-0.5h1m-118.5 0.5h1m4.5 0h1m5.5 0.5h1m14-0.5h1m5.5 0.5h1m2.5 0h1m6.5 0.5h1m10.5 0h1m31.5-1h1m-0.5 0.5h1m0 0h1m0-0.5h1m-1 1h1m2-0.5h1m0 0.5h1m0 0h1m0.5-0.5h1m7 0h1m0 0h1m2.5 0.5h1m0 0h1m-0.5-0.5h1m-0.5-0.5h1m1 1h1m-0.5 0h1m-1 0h1m-0.5-0.5h1m0-0.5h1m-0.5 0.5h1m-116 0.5h1m0.5 0.5h1m20.5 0.5h1m16.5-0.5h1m0.5 0h1m41.5 0.5h1m-1 0h1m1-0.5h1m0 0.5h1m0.5-0.5h1m0.5 0.5h1m3-0.5h1m0.5-0.5h1m4 0.5h1m0 0h1m-1 0.5h1m0-0.5h1m1 0h1m-0.5-0.5h1m-1 1h1m2-0.5h1m0 0h1m-1-0.5h1m0.5 0h1m0.5 0.5h1m-0.5 0h1m2-0.5h1m-82.5 1h1m5 1h1m5-0.5h1m7.5 0h1m28 0h1m2.5 0h1m0.5 0h1m-0.5 0h1m2 0.5h1m-0.5-1h1m-0.5 0.5h1m3 0.5h1m1-0.5h1m0.5 0h1m-1 0h1m0.5 0.5h1m-1-0.5h1m1 0h1m-0.5 0.5h1m0.5-0.5h1m1 0h1m0.5 0h1m-1 0h1m-1 0h1m-1 0h1m-0.5 0h1m-0.5-0.5h1m1.5 0.5h1m1.5 0.5h1m-0.5-0.5h1m-127 0.5h1m25.5 0h1m14 1h1m6.5 0h1m0.5 0h1m6 0h1m5.5-0.5h1m1.5 0.5h1m28.5-0.5h1m0.5 0.5h1m0-0.5h1m-0.5-0.5h1m-1 0.5h1m1.5 0.5h1m0.5-0.5h1m-0.5 0h1m-1 0h1m0 0h1m1 0h1m-0.5-0.5h1m-1 1h1m1.5-0.5h1m0 0h1m2 0h1m-0.5 0h1m-1 0.5h1m0.5-1h1m0.5 0.5h1m3-0.5h1m-0.5 0.5h1m0 0h1m-0.5 0.5h1m-0.5-0.5h1m0.5 0h1m-0.5 0.5h1m-114.5 0h1m2 0h1m9 0.5h1m10.5-0.5h1m59 0h1m-0.5 0.5h1m0 0h1m-0.5 0h1m0 0.5h1m2-0.5h1m-1 0.5h1m0.5 0h1m-0.5-1h1m1 1h1m-1-0.5h1m0.5 0h1m-1 0.5h1m-0.5 0h1m-0.5-1h1m2 0.5h1m0.5 0h1m0.5 0.5h1m-1-1h1m-0.5 0.5h1m-0.5 0h1m1 0.5h1m0.5-1h1m0 0h1m0.5 1h1m-1 0h1m-0.5-0.5h1m0-0.5h1m-109 2h1m-1-1h1m1 1h1m8.5-0.5h1m23 0.5h1m24.5 0h1m6 0h1m11 0h1m-0.5-0.5h1m-0.5 0h1m-0.5 0.5h1m-1-1h1m-0.5 0.5h1m1 0h1m-0.5-0.5h1m2.5 1h1m1 0h1m0.5-0.5h1m-0.5 0h1m-1-0.5h1m0 0h1m-0.5 0.5h1m-1-0.5h1m0 0h1m2 0.5h1m2 0h1m0 0.5h1m1.5-0.5h1m2.5 0h1m-113 1.5h1m11-0.5h1m4 0.5h1m22.5-1h1m25 1h1m1.5-0.5h1m0 0.5h1m0-0.5h1m2 0h1m3 0h1m3 0h1m2 0.5h1m-0.5-1h1m0.5 0h1m0.5 0.5h1m0 0h1m0.5 0h1m-1 0h1m0-0.5h1m0 0.5h1m0 0h1m0 0h1m0 0h1m-0.5 0h1m1-0.5h1m2.5 0h1m1 1h1m-0.5-0.5h1m0 0h1m-0.5-0.5h1m0 0h1m-1 1h1m-0.5-0.5h1m1 0h1m1-0.5h1m0 0.5h1m1 0h1m-119.5 0.5h1m8.5 1h1m13-0.5h1m32 0h1m13 0.5h1m0-0.5h1m5 0h1m0.5 0.5h1m8 0h1m1-0.5h1m1 0.5h1m0 0h1m2.5-1h1m-0.5 1h1m0.5-0.5h1m0.5-0.5h1m0.5 1h1m1.5-1h1m-0.5 1h1m-0.5 0h1m-0.5-0.5h1m-0.5 0h1m-0.5 0h1m2.5 0.5h1m2-0.5h1m1.5-0.5h1m-0.5 0.5h1m-1 0.5h1m0-0.5h1m-110.5 1.5h1m6.5-1h1m0 0.5h1m0 0.5h1m-0.5-0.5h1m6 0h1m45 0.5h1m1.5 0h1m-0.5-0.5h1m3 0h1m3 0h1m-0.5 0.5h1m6-0.5h1m-1 0h1m2-0.5h1m0 1h1m0-1h1m0.5 0h1m-0.5 1h1m-0.5-0.5h1m1 0.5h1m2-0.5h1m-0.5 0h1m5 0h1m-0.5 0.5h1m0.5-0.5h1m-0.5 0h1m-0.5 0h1m-0.5 0.5h1m-1-0.5h1m0 0h1m-0.5 0.5h1m3 0h1m-119.5 0.5h1m1 0.5h1m12.5-0.5h1m0.5-0.5h1m1 1h1m1.5-0.5h1m-0.5-0.5h1m0 1h1m15-0.5h1m3.5 0h1m8.5 0.5h1m17.5 0h1m-1-0.5h1m0.5 0.5h1m-1-0.5h1m-0.5 0.5h1m0.5 0h1m0 0h1m0-1h1m2.5 0.5h1m1.5-0.5h1m12 0.5h1m-0.5 0h1m-0.5 0h1m1.5 0h1m1-0.5h1m0 1h1m-0.5-1h1m1 0.5h1m2.5 0h1m-0.5 0.5h1m-0.5 0h1m0-1h1m2 0.5h1m-0.5 0h1m-1-0.5h1m0 0.5h1m1.5 0h1m0-0.5h1m-0.5 0h1m-117 1h1m6.5 0.5h1m4.5 0h1m0.5 0h1m37.5 0h1m14-0.5h1m1.5 1h1m0 0h1m0.5 0h1m0.5-0.5h1m-1 0h1m-0.5 0h1m0.5-0.5h1m-0.5 1h1m-1-1h1m-1 0.5h1m-0.5 0h1m1.5-0.5h1m0.5 0.5h1m2.5 0h1m0 0h1m2 0h1m-0.5 0.5h1m1-0.5h1m0.5 0h1m0 0h1m0.5 0h1m-0.5 0h1m-1 0h1m4 0.5h1m-1-0.5h1m-0.5 0h1m-1 0h1m-1 0h1m0 0h1m1-0.5h1m5.5 1h1m0.5-0.5h1m2-0.5h1m-114.5 1h1m1 0.5h1m11.5-0.5h1m22.5 0.5h1m-0.5 0h1m17 0h1m1 0h1m7.5 0h1m1 0h1m8.5 0.5h1m-1 0h1m6.5-0.5h1m0 0.5h1m-0.5-1h1m0.5 0.5h1m-0.5-0.5h1m-0.5 1h1m0-0.5h1m1 0.5h1m1-0.5h1m0.5-0.5h1m0.5 0h1m3 0h1m1 1h1m1-0.5h1m-0.5 0h1m-1 0.5h1m-0.5-0.5h1m0 0.5h1m0-0.5h1m0.5 0h1m0.5 0h1m1-0.5h1m-113 1.5h1m8-0.5h1m0 0h1m0 0.5h1m3.5-0.5h1m27 0.5h1m23 0.5h1m1-1h1m-1 1h1m0.5-0.5h1m-0.5 0h1m-0.5 0h1m0.5 0.5h1m1-0.5h1m0.5 0.5h1m0-1h1m0.5 0.5h1m2-0.5h1m0 0h1m0.5 0.5h1m-0.5 0h1m2 0h1m-0.5-0.5h1m-0.5 0h1m0 0h1m4.5 1h1m0 0h1m-0.5-0.5h1m-0.5 0h1m0-0.5h1m1 0.5h1m-0.5 0h1m0 0h1m-0.5-0.5h1m2.5 1h1m-0.5-0.5h1m0 0.5h1m2-0.5h1m-120.5 0.5h1m3.5 0.5h1m1 0h1m10.5 0h1m2.5 0.5h1m2-0.5h1m0.5-0.5h1m20.5 1h1m1.5-1h1m25 0h1m-0.5 0.5h1m3.5 0h1m0.5-0.5h1m1 0.5h1m-0.5 0h1m-1 0h1m-1 0h1m7.5 0.5h1m2.5 0h1m-0.5-0.5h1m1.5 0h1m-1-0.5h1m0.5 0h1m-0.5 0.5h1m2 0.5h1m0.5-0.5h1m-1 0h1m0 0h1m1-0.5h1m1 0.5h1m-0.5 0.5h1m0-1h1m0 0.5h1m0 0h1m1 0h1m-0.5 0.5h1m-112.5 0h1m-0.5 0h1m11 0.5h1m0-0.5h1m4.5 0h1m0.5 0.5h1m-1-0.5h1m14.5 0.5h1m0.5 0h1m25.5-0.5h1m3 1h1m0-1h1m-1 1h1m0.5-0.5h1m0-0.5h1m1 1h1m-0.5-1h1m2.5 0h1m-0.5 0.5h1m-0.5 0h1m0 0h1m8.5 0.5h1m1.5-1h1m-0.5 0.5h1m0 0.5h1m1.5-0.5h1m-0.5 0.5h1m2-0.5h1m4-0.5h1m-1 0h1m-0.5 0.5h1m0.5 0h1m4.5 0.5h1m2-0.5h1m-114.5 1h1m5 0.5h1m4-0.5h1m2 0h1m-0.5-0.5h1m2.5 0.5h1m3.5-0.5h1m9.5 1h1m4.5 0h1m6.5-0.5h1m6 0.5h1m0-1h1m9 0.5h1m1-0.5h1m0.5 0.5h1m0 0.5h1m2-0.5h1m0 0h1m-1 0.5h1m-0.5 0h1m-1-0.5h1m-1 0h1m-0.5-0.5h1m2 0.5h1m-1 0.5h1m0-0.5h1m0.5-0.5h1m0.5 0.5h1m5.5 0h1m-1-0.5h1m1.5 1h1m0.5-0.5h1m2 0.5h1m0-1h1m-1 0.5h1m2.5 0h1m-0.5 0.5h1m1 0h1m1-1h1m2 0.5h1m-0.5 0h1m0 0h1m-109 1h1m17.5 0h1m28 0.5h1m15-0.5h1m0-0.5h1m1 1h1m0.5 0h1m0-1h1m0.5 0h1m5.5 0.5h1m-0.5 0h1m0 0h1m0 0h1m-0.5 0h1m-0.5 0.5h1m11 0h1m1.5 0h1m3.5 0h1m3.5-0.5h1m0-0.5h1m1.5 1h1m-1-0.5h1m-110 1h1m16.5 0h1m-1 0h1m6 0.5h1m-0.5-0.5h1m26.5-0.5h1m13.5 0.5h1m-1 0h1m-0.5 0h1m-0.5-0.5h1m4.5 0h1m-1 0h1m-0.5 1h1m4-0.5h1m1.5-0.5h1m5.5 0.5h1m3-0.5h1m1 0.5h1m-0.5 0h1m1 0.5h1m1 0h1m0-0.5h1m3.5 0h1m1 0h1m-110 1h1m12 0.5h1m6-0.5h1m1 0h1m0 0h1m0-0.5h1m0.5 0h1m19.5 0.5h1m3 0h1m19.5-0.5h1m4 0h1m-0.5 0h1m0 0.5h1m1-0.5h1m-1 0h1m0.5 0.5h1m0-0.5h1m0 0.5h1m-0.5-0.5h1m13 1h1m0-1h1m-0.5 1h1m-0.5-1h1m0.5 0.5h1m0.5-0.5h1m0 0h1m-0.5 0.5h1m-1 0.5h1m0-1h1m-1 1h1m4-1h1m0.5 0.5h1m3.5 0h1m-89.5 0.5h1m25.5 0h1m15.5 0.5h1m0.5 0.5h1m0 0h1m1-1h1m-0.5 0.5h1m0-0.5h1m1 0h1m-0.5 0h1m-0.5 0.5h1m1 0.5h1m0-1h1m0 0h1m-0.5 0.5h1m0 0h1m10.5 0h1m3-0.5h1m-1 0h1m1.5 1h1m1-0.5h1m0 0h1m-1 0h1m0 0h1m1.5 0h1m0.5-0.5h1m-103.5 1.5h1m9.5-0.5h1m6 0h1m2 0.5h1m0.5 0h1m1.5 0h1m5.5 0.5h1m30.5-1h1m2.5 0.5h1m1.5 0.5h1m-1-0.5h1m0 0h1m-1 0h1m0.5 0h1m0.5 0h1m-1 0h1m0 0h1m-0.5 0h1m0.5 0h1m-0.5 0h1m20.5 0h1m-1 0h1m0 0.5h1m-95 1h1m0-0.5h1m8.5-0.5h1m45.5 0.5h1m-0.5 0h1m0-0.5h1m4 0h1m0.5 1h1m2 0h1m1-0.5h1m14 0h1m4.5-0.5h1m-103 2h1m14-0.5h1m8.5 0h1m2.5 0h1m3 0h1m1.5 0h1m-1 0h1m1.5-0.5h1m-0.5 0h1m6 1h1m2.5-0.5h1m2.5 0h1m2.5 0.5h1m13-0.5h1m-1 0h1m1.5-0.5h1m-0.5 1h1m1.5-0.5h1m0 0.5h1m0 0h1m0 0h1m0 0h1m0.5-1h1m-0.5 0.5h1m-59 1h1m0 0h1m0.5 0h1m1 0.5h1m-0.5-0.5h1m0 0.5h1m0.5-0.5h1m4 0h1m2.5 0.5h1m3 0h1m1-0.5h1m-0.5 0h1m8.5 0h1m12.5 0h1m3.5 0h1m0.5 0h1m-0.5 0h1m1.5 0h1m3-0.5h1m-1 0.5h1m1.5 0h1m-73.5 1h1m10 0h1m17.5 0h1m1 0h1m0-0.5h1m-0.5 0h1m2.5 0h1m0.5 0.5h1m23-0.5h1m1 0.5h1m-50 1.5h1m2.5 0h1m0-0.5h1m7.5 0h1m2 0h1m2.5-0.5h1m25 0.5h1m2.5-0.5h1m-0.5 0.5h1m-0.5 0h1m1.5 0.5h1m-56 0.5h1m5.5-0.5h1m2 0h1m1.5 0.5h1m0-0.5h1m-0.5 0.5h1m35 0h1m2-0.5h1m4 0.5h1m-54.5 1h1m4 0.5h1m4.5 0h1m-1-0.5h1m0.5 0h1m6.5 0.5h1m1-1h1m24 0.5h1m1 0h1m-71.5 0.5h1m20 0.5h1m16-0.5h1m3.5 1h1m-15 0.5h1m0 0h1m0.5-0.5h1m1.5 1h1m0.5-0.5h1m3.5 0.5h1m0.5-0.5h1m-15 0.5h1m11.5 0.5h1m2 0h1m-0.5-0.5h1m-0.5 0h1m-4 2h1m1.5-0.5h1m-0.5-0.5h1m-13.5 1.5h1m-12.5 0.5h1m13.5 1h1m-22 0.5h1m25-0.5h1m-18 1.5h1m3.5 0.5h1m-6.5 0.5h1m7.5-0.5h1m1 0.5h1m-10.5 1h1m14-0.5h1m-17.5 1h1m6.5 0.5h1" stroke="#3a4ca5" stroke-width="1" fill="none"/>
<g filter="url(#bl9)"><path d="M208.9 78.5L210.1 75.7L212.2 72.8L214.6 70.0L217.0 67.7L219.3 66.2L221.8 65.2L224.2 64.4L226.4 63.6L228.5 62.8L230.4 62.2L232.1 61.4L233.5 60.2L234.4 58.1L235.0 55.6L235.4 52.9L235.8 50.2L236.2 47.4L236.5 44.5L236.8 41.7L237.1 39.5L237.6 37.8L238.1 36.5L238.6 35.6L239.2 35.3L240.0 35.8L240.8 36.9L241.7 38.3L242.6 39.5L243.4 40.5L244.1 41.4L245.1 42.3L246.6 43.4L248.9 44.7L251.8 46.0L254.8 47.4L257.3 48.9L259.1 50.5L260.5 52.1L261.7 53.8L262.8 55.4L263.8 57.0L264.8 58.6L265.6 60.3L266.2 62.2L266.5 64.7L266.8 67.6L266.7 70.5L266.2 73.0L265.1 75.1L263.5 77.1L261.8 78.7L260.2 79.8L258.7 79.9L257.3 79.2L255.9 78.5L254.7 78.5L253.5 79.1L252.5 80.1L251.5 81.6L250.7 83.7L250.3 86.7L250.1 90.6L249.9 94.4L249.2 97.3L248.0 99.1L246.6 100.2L244.8 100.8L242.6 101.2L239.9 101.3L236.7 101.1L233.4 100.6L230.3 99.9L227.5 98.9L224.7 97.6L222.1 96.2L219.6 94.7L217.3 93.1L215.1 91.5L213.1 89.8L211.5 87.9L210.2 85.7L209.2 83.4L208.7 81.0Z" fill="#fafafa"/><path d="M200.0 110.4L200.8 108.8L201.7 107.6L203.0 106.5L204.7 105.7L207.0 104.9L209.7 104.4L212.6 104.0L215.4 103.6L218.1 103.1L220.7 102.5L223.4 102.2L226.2 102.0L229.1 102.2L232.2 102.6L235.3 103.2L238.4 103.6L241.6 103.8L244.8 103.9L247.9 104.0L250.7 104.3L253.4 104.8L255.9 105.4L258.2 106.2L260.2 107.2L261.7 108.5L262.9 110.0L263.9 111.6L264.6 113.5L265.1 115.5L265.4 117.8L265.5 120.2L265.4 122.7L265.1 125.3L264.5 128.1L263.8 130.9L263.0 133.4L262.1 135.5L261.1 137.5L259.9 139.3L258.6 141.2L257.2 143.2L255.6 145.1L254.0 147.0L252.3 148.8L250.6 150.6L248.8 152.4L246.9 154.0L244.7 155.1L242.3 155.6L239.6 155.8L236.8 155.6L234.0 155.1L231.3 154.3L228.6 153.1L225.9 151.8L223.3 150.4L220.8 148.9L218.5 147.3L216.2 145.7L213.9 144.1L211.4 142.6L208.9 141.2L206.6 139.7L204.7 138.1L203.3 136.3L202.3 134.5L201.5 132.4L200.8 130.2L200.2 127.7L199.7 125.0L199.4 122.2L199.2 119.5L199.2 117.0L199.2 114.6L199.5 112.3Z" fill="#fafafa"/><path d="M250.0 54.9L253.0 55.1L257.7 56.4L262.8 58.3L267.0 60.2L270.1 61.8L272.8 63.7L274.9 65.7L276.1 68.0L276.2 71.0L275.4 74.5L273.9 77.7L272.2 79.8L270.0 80.3L267.3 79.9L264.4 78.8L261.7 77.1L259.2 74.8L256.7 71.8L254.4 68.4L252.6 65.4L251.0 62.3L249.6 59.1L249.1 56.4Z" fill="#fde9e9"/><path d="M284.7 95.5L285.4 93.3L286.4 91.2L287.7 89.3L289.2 87.6L290.9 86.2L292.8 85.0L294.9 84.1L297.0 83.7L299.2 83.8L301.5 84.3L303.8 85.1L305.7 86.3L307.3 87.9L308.6 89.8L309.7 92.0L310.4 94.1L310.5 96.4L310.2 98.8L309.6 101.2L308.8 103.3L307.8 105.2L306.6 106.9L305.1 108.5L303.6 109.8L301.8 111.0L299.7 111.9L297.6 112.6L295.7 113.0L293.9 113.0L292.2 112.8L290.6 112.3L289.2 111.4L287.9 110.1L286.8 108.5L285.9 106.6L285.3 104.6L284.8 102.5L284.5 100.1L284.4 97.7Z" fill="#6070bd"/><path d="M323.2 121.1L323.0 122.9L322.6 124.8L322.0 126.6L321.1 128.3L319.9 129.8L318.6 131.2L317.0 132.5L315.3 133.5L313.5 134.3L311.5 135.0L309.5 135.3L307.5 135.5L305.5 135.3L303.4 135.0L301.5 134.3L299.6 133.5L298.0 132.5L296.4 131.2L295.0 129.8L293.9 128.3L293.0 126.6L292.4 124.8L291.9 122.9L291.8 121.1L291.9 119.2L292.4 117.4L293.0 115.6L293.9 113.9L295.0 112.4L296.4 110.9L298.0 109.7L299.6 108.6L301.5 107.8L303.4 107.2L305.5 106.8L307.5 106.7L309.5 106.8L311.5 107.2L313.5 107.8L315.3 108.6L317.0 109.7L318.6 110.9L319.9 112.4L321.1 113.9L322.0 115.6L322.6 117.4L323.0 119.2Z" fill="#6070bd"/><path d="M288.9 131.3L288.8 132.6L288.6 134.0L288.3 135.3L287.8 136.5L287.2 137.6L286.5 138.7L285.6 139.6L284.7 140.3L283.8 140.9L282.7 141.4L281.6 141.6L280.6 141.7L279.5 141.6L278.4 141.4L277.3 140.9L276.4 140.3L275.5 139.6L274.6 138.7L273.9 137.6L273.3 136.5L272.8 135.3L272.5 134.0L272.3 132.6L272.2 131.3L272.3 129.9L272.5 128.6L272.8 127.3L273.3 126.1L273.9 124.9L274.6 123.9L275.5 123.0L276.4 122.2L277.3 121.6L278.4 121.2L279.5 120.9L280.6 120.8L281.6 120.9L282.7 121.2L283.8 121.6L284.7 122.2L285.6 123.0L286.5 123.9L287.2 124.9L287.8 126.1L288.3 127.3L288.6 128.6L288.8 129.9Z" fill="#6070bd"/><path d="M269.6 82.4L269.9 80.8L270.5 79.2L271.3 77.6L272.2 75.8L273.1 74.0L274.2 72.0L275.3 70.0L276.1 68.0L276.6 66.0L276.9 64.0L277.1 62.0L277.4 60.2L277.7 58.4L278.0 56.6L278.4 55.0L278.7 53.6L279.1 52.3L279.6 51.1L280.0 50.2L280.6 49.7L281.2 49.7L281.9 50.2L282.6 51.0L283.2 51.8L283.6 52.9L283.9 54.3L284.3 55.5L284.7 56.2L285.3 56.1L286.0 55.3L286.7 54.6L287.3 54.4L288.0 55.1L288.6 56.3L289.2 57.7L290.0 58.8L290.8 59.5L291.8 60.0L292.8 60.6L293.6 61.5L294.4 62.8L295.0 64.6L295.6 66.4L296.2 68.0L296.9 69.3L297.5 70.4L298.0 71.7L298.3 73.2L298.5 75.4L298.5 78.0L298.3 80.5L297.8 82.4L297.0 83.5L295.8 84.1L294.5 84.5L293.1 85.0L291.5 85.5L289.7 86.0L287.9 86.6L286.6 87.6L285.7 89.2L285.2 91.1L284.9 93.3L284.7 95.5L284.6 97.7L284.6 100.1L284.8 102.4L285.3 104.6L286.3 106.7L287.8 108.8L289.0 110.6L289.2 111.9L287.7 112.6L285.3 112.8L282.4 112.7L280.0 112.5L278.1 112.2L276.3 111.8L274.7 111.1L273.5 109.8L272.7 107.8L272.2 105.1L271.9 102.2L271.7 99.4L271.4 96.7L271.2 93.9L271.1 91.3L270.9 88.9L270.5 87.0L270.0 85.4L269.6 83.9Z" fill="#f2454b"/><path d="M298.3 68.0L299.3 66.7L300.6 65.8L302.1 65.1L303.6 64.9L305.0 65.0L306.4 65.6L307.8 66.5L308.8 67.5L309.5 68.7L309.9 70.2L310.1 71.7L310.1 73.2L309.8 74.8L309.2 76.4L308.4 77.9L307.5 79.0L306.3 79.6L305.0 80.0L303.5 80.0L302.3 79.8L301.1 79.2L300.0 78.3L299.0 77.2L298.3 75.8L297.9 74.0L297.8 71.9L297.9 69.7Z" fill="#f2454b"/></g>
<path d="M240 36h1m2.5 5.5h1m-9.5 2h1m7.5-0.5h1m-3 1.5h1m1.5 0h1m-1-0.5h1m0 0.5h1m-9.5 0h1m3 1h1m2.5-1h1m0 0.5h1m1-0.5h1m-1 0h1m-10 1.5h1m6 0.5h1m-7 0.5h1m6 0.5h1m-7 0h1m-0.5 0h1m0 2h1m11.5-0.5h1m-15 1h1m17.5 0h1m-25 1h1m3 0h1m6.5 0h1m0 0.5h1m3-0.5h1m-16 1h1m3-0.5h1m18.5 0.5h1m-22.5 1.5h1m2 0h1m3-1h1m0 0h1m13.5 1h1m-17.5 1h1m2-1h1m2.5 0.5h1m3 0.5h1m2.5-0.5h1m-18 1.5h1m17-0.5h1m-25 1.5h1m-0.5-0.5h1m11.5-0.5h1m3.5 1h1m-0.5-0.5h1m2 0.5h1m3 0h1m-23 0.5h1m3 0h1m15.5 0h1m1.5 0h1m-23 1h1m2.5 0.5h1m1-0.5h1m1 0.5h1m11-0.5h1m-19.5 0.5h1m10 0h1m8.5 1h1m-19 0h1m6.5 0.5h1m0.5-0.5h1m1.5 0.5h1m-0.5-0.5h1m6 1h1m-27.5 0.5h1m0.5-0.5h1m5 0.5h1m1 0.5h1m9.5-0.5h1m1 0.5h1m-21.5 0.5h1m20 0.5h1m-30 0.5h1m13 0h1m0.5 0h1m0 0.5h1m14.5-1h1m3.5 0.5h1m-43.5 1h1m1.5 0.5h1m8.5 0h1m-0.5-0.5h1m5-0.5h1m7 0.5h1m-0.5 0h1m0-0.5h1m3 1h1m2-0.5h1m8-0.5h1m-37 1.5h1m6.5-0.5h1m0 1h1m4.5-0.5h1m-0.5 0.5h1m2-0.5h1m4.5 0.5h1m-0.5-1h1m8 0h1m3 0.5h1m-49.5 1h1m1-0.5h1m1 0.5h1m3 0h1m2.5-0.5h1m0 0.5h1m5.5 0h1m4.5-0.5h1m-1 0.5h1m0.5-0.5h1m-1 0.5h1m12 0h1m-0.5-0.5h1m-25 2h1m-0.5-1h1m2.5 0.5h1m-0.5 0h1m0 0h1m-0.5-0.5h1m9.5 0h1m3.5 0h1m-36 1.5h1m31.5 0h1m0 0h1m9.5 0h1m-44 1.5h1m16-0.5h1m5 0h1m8.5-0.5h1m-24 2h1m1-1h1m11.5 0.5h1m4 0h1m1-0.5h1m-0.5 0.5h1m2.5-0.5h1m7 0.5h1m-50 1h1m7.5 0h1m22 0.5h1m6.5-0.5h1m4 0h1m0.5-0.5h1m-41.5 1.5h1m7 0h1m3.5 0h1m6.5 0h1m3.5-0.5h1m2.5 1h1m-35.5 0h1m1 0.5h1m-1-0.5h1m19.5 0.5h1m3-0.5h1m0 1h1m4.5 0h1m8.5-0.5h1m-32.5 1h1m0 0h1m0.5 0h1m1 0h1m2.5 0h1m10 0h1m-1 0h1m2.5 0h1m2 0.5h1m6.5-0.5h1m1.5-0.5h1m3 0h1m-40 1h1m1 0h1m5.5 0.5h1m0 0.5h1m2-1h1m2 0h1m12 0.5h1m-45.5 0.5h1m2.5 0.5h1m0 0h1m4-0.5h1m3.5 0.5h1m0.5 0h1m2-0.5h1m4 0h1m2 0h1m3.5 0.5h1m4.5 0h1m-27 0.5h1m0.5 1h1m6.5-1h1m9.5 0h1m14.5 1h1m6.5-1h1m-47 2h1m10.5-0.5h1m12.5 0.5h1m0-0.5h1m-29.5 1h1m6-0.5h1m3 0.5h1m5.5 0.5h1m-0.5-0.5h1m0.5 0h1m12.5-0.5h1m14.5 1h1m-49 1h1m13-1h1m0.5 1h1m21-1h1m6 0.5h1m-37 1.5h1m0.5-0.5h1m2.5-0.5h1m3.5 0.5h1m14.5 0h1m-37.5 1h1m3 0h1m27.5 0.5h1m-0.5-0.5h1m0.5 0h1m2.5 0.5h1m-39 0.5h1m4-0.5h1m1 1h1m7-0.5h1m3 0h1m17 0.5h1m-34.5 0.5h1m0.5 0.5h1m10.5-0.5h1m3 0h1m6-0.5h1m2.5 1h1m1.5 0h1m2-0.5h1m3 0h1m-37.5 0.5h1m12.5 0h1m5.5 1h1m12.5-1h1m-14 1.5h1m6.5 0h1m1 0h1m-32.5 1h1m17-0.5h1m3 1h1m-22.5 0h1m2.5 0h1m8.5 1h1m4-0.5h1m14 0h1m-31.5 1.5h1m4-1h1m9 0.5h1m8.5 0h1m-1 0h1m8.5-0.5h1m-36 1h1m0.5 0.5h1m0.5-0.5h1m17 1h1m4 0h1m1.5-1h1m-14.5 1h1m1 1h1m4-0.5h1m1.5 0h1m-0.5 0.5h1m1 0h1m3.5 0h1m0-0.5h1m-6 1h1m4 0.5h1m1.5 0h1m-28.5 0.5h1m2.5 0h1m0.5 0.5h1m8 0h1m-20 1h1m6 0h1m4 0h1m8-1h1m2 0h1m4.5 0h1m-1 0.5h1m-25.5 0.5h1m6.5 0.5h1m2 0.5h1m-1 0h1m3-0.5h1m4.5 0h1m5-0.5h1m-25.5 1.5h1m1 0h1m1.5 0h1m-1 0h1m3.5 0.5h1m4 0h1m6-0.5h1m-8 1.5h1m6-0.5h1m-0.5 0h1m0 0.5h1m-21.5 0.5h1m13 0.5h1m-0.5 0h1m4.5-0.5h1m-10.5 2.5h1m-6 0.5h1m6 0.5h1m1.5-0.5h1m-13 1h1m-12 1h1m-2 1.5h1m0.5-0.5h1m0 0.5h1m0.5-0.5h1m7.5 0h1m1-0.5h1m7 1h1m3.5-0.5h1m-1 0h1m-36.5 1h1m10.5 0.5h1m-0.5 0h1m0 0h1m1.5-1h1m-5.5 1.5h1m8 0.5h1m3.5-1h1m0.5 1h1m11-0.5h1m1 0.5h1m-46.5 0.5h1m0.5-0.5h1m7 1h1m0-0.5h1m2-0.5h1m1 1h1m6-1h1m0.5 0.5h1m4 0h1m8 0h1m6.5 0.5h1m1.5 0h1m-45.5 0h1m1.5 0h1m11.5 1h1m-0.5 0h1m0.5 0h1m6-0.5h1m2 0.5h1m7-1h1m0 0h1m7 1h1m2.5-0.5h1m2 0h1m-42 1h1m0.5-0.5h1m1 0h1m7.5 0.5h1m10 0h1m12.5 0.5h1m-1-1h1m0.5 0.5h1m-55 0.5h1m9 0h1m17.5 0.5h1m0.5 0h1m7.5 0.5h1m16-0.5h1m5.5-0.5h1m-56.5 1.5h1m3.5 0h1m4.5 0.5h1m5-1h1m8.5 0.5h1m-0.5 0h1m8.5 0.5h1m5-0.5h1m0.5-0.5h1m3 0h1m5.5 0h1m-58.5 1.5h1m-0.5-0.5h1m3 0.5h1m0 0h1m-1 0.5h1m7 0h1m2.5-1h1m0 0.5h1m8.5 0.5h1m-0.5 0h1m4 0h1m12.5-1h1m-0.5 1h1m4-0.5h1m-0.5 0h1m2.5 0h1m0-0.5h1m-1 0.5h1m-57.5 1h1m6 0.5h1m1.5-0.5h1m10 0h1m2.5-0.5h1m7 0h1m-0.5 1h1m23-0.5h1m-0.5 0h1m-0.5 0.5h1m-62 1h1m-0.5-0.5h1m0.5 0h1m10 0h1m2 0h1m3 0h1m9.5 0h1m1 0h1m2 0.5h1m8.5-1h1m-42 2h1m6-1h1m4 0.5h1m14-0.5h1m8.5 0.5h1m11.5 0h1m11.5 0h1m0 0h1m-66.5 1.5h1m1.5-0.5h1m5 0h1m25 0h1m0.5-0.5h1m2.5 1h1m0-0.5h1m-1-0.5h1m5 1h1m1 0h1m5-0.5h1m1 0h1m-58.5 1h1m6-0.5h1m13 0.5h1m12 0.5h1m4-0.5h1m3 0h1m-0.5 0h1m4-0.5h1m-15.5 1.5h1m-1-0.5h1m-0.5 0h1m-0.5 0.5h1m22.5 0h1m3.5 0.5h1m-54.5 0h1m5 1h1m2 0h1m15-0.5h1m4 0h1m8-0.5h1m6.5 0.5h1m-48 1.5h1m0.5-1h1m4.5 0.5h1m4 0.5h1m0-0.5h1m5 0h1m1.5 0.5h1m6-0.5h1m2 0h1m0.5 0h1m0.5 0h1m10-0.5h1m2.5 0h1m1 0.5h1m-1-0.5h1m-0.5 0.5h1m-54 1h1m0.5 0h1m4.5 0h1m21 0.5h1m3.5 0h1m15-0.5h1m-0.5 0h1m3.5-0.5h1m-51 1h1m-1 0h1m3 0.5h1m11.5 0h1m10 0h1m15.5 0h1m2 0h1m1.5 0h1m1 0.5h1m0-1h1m-65.5 1.5h1m1.5 0.5h1m4.5 0h1m22-0.5h1m9 0.5h1m-1-0.5h1m23 0h1m-61 1h1m4 0h1m-0.5 0h1m2 0h1m2.5 0h1m1 0h1m-1 0h1m1.5-0.5h1m15.5 1h1m1.5-1h1m9.5 0.5h1m1 0h1m5.5 0h1m6.5 0h1m-64.5 1.5h1m-1-0.5h1m10.5-0.5h1m-1 0.5h1m5.5 0h1m0 0h1m9 0.5h1m16 0h1m-38.5 0h1m0 0.5h1m14 0.5h1m11.5 0h1m6.5-1h1m8.5 0h1m0.5 1h1m-55.5 0h1m9 0h1m4 0.5h1m2.5 0h1m17.5-0.5h1m13.5 1h1m5.5-1h1m0 0h1m-49.5 2h1m1 0h1m9.5-0.5h1m3.5 0.5h1m7 0h1m3.5-0.5h1m0.5 0h1m6-0.5h1m6.5 0h1m0 1h1m-62 1h1m4 0h1m3.5-0.5h1m3.5 0h1m0 0h1m1-0.5h1m2 1h1m4.5-0.5h1m1 0h1m1 0h1m0.5 0h1m0.5 0h1m-1 0h1m2 0.5h1m9.5-1h1m-1 0h1m1 1h1m14 0h1m-60 1h1m3.5 0h1m1 0h1m1.5-0.5h1m0.5 0h1m2.5 0h1m1.5 0h1m17.5-0.5h1m1.5 0.5h1m5-0.5h1m3.5 0.5h1m0 0.5h1m2 0h1m-43.5 1h1m-1-0.5h1m19 0h1m0 0h1m8.5 0h1m7 0h1m-0.5 0h1m5.5-0.5h1m-50.5 1.5h1m4.5 0.5h1m5-1h1m2 0.5h1m7.5-0.5h1m2.5 0.5h1m3.5 0.5h1m0.5 0h1m10 0h1m-53.5 0.5h1m2 0.5h1m0-0.5h1m11-0.5h1m8.5 0h1m-0.5 0.5h1m4 0h1m1.5-0.5h1m16.5 0.5h1m-28.5 1.5h1m1-0.5h1m-0.5 0.5h1m0.5 0h1m3 0h1m3-1h1m13.5 1h1m-1-0.5h1m-45 0.5h1m9 0.5h1m0-0.5h1m0.5 0.5h1m10.5 0h1m0 0h1m2.5 0h1m0.5 0h1m12.5 0.5h1m-37 1h1m6.5-0.5h1m7 0h1m4 0h1m20.5-0.5h1m2.5 0h1m-59.5 1h1m14.5 0h1m0 0h1m0.5 0.5h1m8 0h1m-1 0.5h1m9-0.5h1m16.5-0.5h1m0 0h1m-0.5 0.5h1m4.5 0h1m-51.5 1h1m0-0.5h1m4.5 0h1m5 0h1m-1 1h1m0.5-0.5h1m10.5 0h1m-0.5 0h1m-34 1h1m6 0h1m6 0.5h1m0.5-0.5h1m5.5-0.5h1m4 0h1m8.5 0.5h1m1 0h1m1.5 0h1m5.5-0.5h1m4.5 0.5h1m-48.5 0.5h1m5.5 0.5h1m2 0.5h1m1-0.5h1m4 0h1m7.5 0h1m6.5-0.5h1m6 0h1m3 1h1m-33 0.5h1m3-0.5h1m14.5 0.5h1m3 0h1m8 0h1m-43 0.5h1m14 0.5h1m0-0.5h1m0 0h1m0 0h1m9.5 0.5h1m3.5 0h1m2.5 0h1m-1 0h1m-28 0.5h1m1 0h1m10.5 0.5h1m1 0h1m0 0.5h1m-15 0h1m0.5 0h1m-1 0.5h1m4.5 0.5h1m-13 0.5h1m3.5-0.5h1m0 0.5h1m4 0.5h1m1.5-1h1m7 0.5h1m3.5 0h1m7 0.5h1m-11 1h1m-0.5-1h1m2.5 1h1m1.5 0h1m4-0.5h1m-33.5 1.5h1m0.5-1h1m1.5 1h1m9-0.5h1m6-0.5h1m6.5 0.5h1m-4 0.5h1m0.5 1h1m-30.5 0.5h1m7.5-0.5h1m2 0h1m5 0h1m0 2h1m7.5-1h1m-17 1h1m1 0.5h1m15.5 0h1m-19.5 1.5h1m0-0.5h1m4.5 0.5h1m-4 1h1m8.5-0.5h1m-15 1h1m1 0.5h1" stroke="#dcdcdc" stroke-width="1" fill="none"/>
<path d="M297 83h1m1.5 0h1m-0.5-0.5h1m-7 1h1m2 0.5h1m-1 0h1m-0.5 0.5h1m1.5-0.5h1m1.5 0.5h1m-4 0.5h1m-1 0h1m-0.5 0.5h1m1-0.5h1m-12 1h1m0 0h1m-1 0h1m-0.5 0h1m2.5 0h1m0.5 0h1m2.5 0.5h1m0-0.5h1m-0.5-0.5h1m3 0.5h1m-16.5 1h1m3.5-0.5h1m1.5 0.5h1m-1 0.5h1m-0.5-1h1m2 0.5h1m-1 0h1m-0.5 0.5h1m-1 0h1m0-1h1m-1 0h1m-0.5 1h1m-16 0.5h1m1.5 0h1m-1 0.5h1m0-0.5h1m-0.5 0h1m-1 0h1m2 0h1m-0.5 0h1m-1 0.5h1m-0.5-0.5h1m0.5 0h1m-0.5-0.5h1m0.5 0h1m-1 0h1m0 0h1m-0.5 1h1m-1-1h1m2 0h1m-16 1.5h1m0 0.5h1m1-1h1m0 0.5h1m0.5 0h1m-1 0h1m1.5 0h1m2.5 0h1m3 0.5h1m-0.5-0.5h1m-0.5 0.5h1m-21 1h1m2.5-1h1m0.5 1h1m-0.5 0h1m0 0h1m-1 0h1m-1-0.5h1m4 0h1m3 0h1m2 0.5h1m0.5-0.5h1m0 0.5h1m0 0h1m0 0h1m-22 0.5h1m1 0h1m-0.5 0h1m-1 0h1m2.5 0h1m0 0h1m0 0h1m3 0h1m1-0.5h1m-1 0h1m0.5 1h1m2-0.5h1m-1 0h1m-21.5 0.5h1m-0.5 0.5h1m-1 0.5h1m0-0.5h1m0.5-0.5h1m0 0.5h1m-0.5 0.5h1m-0.5 0h1m-1-0.5h1m0 0h1m4.5 0h1m-1 0.5h1m5-0.5h1m1.5 0h1m-1 0h1m0 0h1m-1 0h1m-1 0h1m0.5-0.5h1m-1 0.5h1m-21 1h1m-1 0.5h1m-0.5 0h1m1.5-0.5h1m0 0h1m0 0.5h1m0-0.5h1m0 0h1m-0.5 0.5h1m-0.5 0h1m5-1h1m0 0.5h1m2 0.5h1m0 0h1m-1-1h1m-0.5 0.5h1m-1 0h1m0.5 0.5h1m-25 0h1m1.5 1h1m-1-0.5h1m-0.5-0.5h1m1.5 1h1m-1-0.5h1m0-0.5h1m3 0h1m0.5 0.5h1m0.5 0h1m1 0h1m0 0h1m2-0.5h1m-1 0.5h1m1-0.5h1m0.5 0h1m-24 1.5h1m1.5 0h1m0.5 0h1m-0.5 0.5h1m1.5-0.5h1m0.5 0.5h1m0-0.5h1m-0.5-0.5h1m-0.5 0.5h1m0.5 0.5h1m3-0.5h1m-1 0h1m2 0h1m-20 1h1m-0.5 0h1m0 0.5h1m-0.5-0.5h1m0 0h1m0.5 0h1m1 0h1m0 0.5h1m-0.5-0.5h1m0.5 0.5h1m0.5-0.5h1m0-0.5h1m-1 0.5h1m0 0h1m0.5 0.5h1m1.5-1h1m1 1h1m-1-0.5h1m1-0.5h1m-23 1.5h1m0-0.5h1m-1 0h1m0 0.5h1m-0.5 0h1m4 0h1m0.5 0h1m-0.5-0.5h1m-1 0.5h1m-0.5 0h1m1 0.5h1m0.5-1h1m-0.5 0h1m0 1h1m-1-0.5h1m0.5 0h1m-1-0.5h1m-0.5 0.5h1m-0.5 0h1m-0.5 0h1m2.5-0.5h1m-0.5 0.5h1m0-0.5h1m-0.5 0h1m0.5 0.5h1m-27 1h1m4.5 0h1m0.5 0.5h1m0-1h1m-0.5 0.5h1m-0.5 0h1m-0.5-0.5h1m3 0h1m-1 1h1m0 0h1m0 0h1m1.5-1h1m-0.5 0.5h1m-1-0.5h1m5.5 1h1m1-1h1m-26 1.5h1m1 0.5h1m0-0.5h1m3.5 0h1m-0.5-0.5h1m-0.5 1h1m-0.5-1h1m-0.5 0.5h1m1 0h1m-0.5 0h1m2 0h1m-1 0.5h1m1-0.5h1m1 0h1m1 0.5h1m4 0h1m-30.5 1h1m0.5-0.5h1m6 0h1m1 0h1m2.5 0.5h1m0.5 0h1m-1-0.5h1m0 0h1m2 0.5h1m3.5 0h1m3-0.5h1m-0.5-0.5h1m-25.5 2h1m1-0.5h1m2.5 0.5h1m1 0h1m-1-0.5h1m0 0h1m0 0h1m0.5 0h1m-1-0.5h1m0 1h1m-0.5-1h1m-0.5 1h1m-0.5-1h1m0 0h1m-1 0h1m-1 0.5h1m2.5 0h1m-17.5 1.5h1m-1 0h1m-0.5 0h1m5.5-0.5h1m0 0.5h1m1.5 0h1m3 0h1m2.5-1h1m0 0.5h1m-0.5 0h1m-1-0.5h1m-0.5 0.5h1m-0.5 0h1m0-0.5h1m0 0h1m-24 1h1m0 0h1m0.5 1h1m-0.5-0.5h1m-0.5-0.5h1m0.5 0.5h1m3 0.5h1m1-0.5h1m0.5 0.5h1m-1-0.5h1m-1 0h1m-0.5 0h1m-1 0h1m1.5 0.5h1m0.5-1h1m3.5 1h1m-0.5-0.5h1m0.5 0h1m1 0h1m-27.5 0.5h1m-0.5 1h1m-0.5 0h1m3-1h1m0.5 0h1m5.5 1h1m0-0.5h1m3.5 0.5h1m2-0.5h1m-0.5 0.5h1m-0.5-0.5h1m-23.5 0.5h1m2 0.5h1m-0.5 0h1m1 0h1m0 0h1m0 0.5h1m-0.5-1h1m1.5 0h1m-1 0.5h1m-0.5-0.5h1m3 0.5h1m0.5 0h1m0 0h1m-0.5 0.5h1m-1-0.5h1m0.5 0h1m0.5 0h1m0-0.5h1m0 0.5h1m-23 0.5h1m0 1h1m-0.5 0h1m4-1h1m-0.5 0.5h1m1.5 0.5h1m-0.5-0.5h1m0.5-0.5h1m0.5 0.5h1m-0.5 0.5h1m1.5 0h1m0 0h1m0-1h1m0.5 0.5h1m-0.5 0h1m-21.5 1h1m0 0h1m1.5 0h1m0 0.5h1m1.5 0h1m1-0.5h1m0.5 0h1m0-0.5h1m0.5 0h1m-1 1h1m-0.5 0h1m-0.5 0h1m-1-1h1m0 1h1m0 0h1m0.5-0.5h1m-0.5 0h1m-0.5 0.5h1m-0.5-0.5h1m-1-0.5h1m-0.5 0h1m0 0h1m1.5 0.5h1m-23.5 1.5h1m0-1h1m0.5 0.5h1m0 0h1m1.5 0h1m0.5 0.5h1m-0.5-0.5h1m1 0h1m-1 0h1m1.5 0.5h1m-0.5-1h1m-1 1h1m1-1h1m0 0.5h1m0-0.5h1m-0.5 0.5h1m0.5-0.5h1m3 1h1m1.5-0.5h1m-1 0.5h1m-1-0.5h1m0.5 0h1m0 0h1m-29.5 1h1m5 0h1m-0.5 0h1m1-0.5h1m0.5 0.5h1m0.5-0.5h1m-1 0h1m-0.5 0.5h1m-1 0h1m-1 0h1m1.5 0h1m2 0.5h1m-1-0.5h1m-0.5-0.5h1m0 0.5h1m-1 0h1m-0.5 0.5h1m-1-1h1m-1 0.5h1m-1 0h1m0 0.5h1m-1 0h1m-0.5-0.5h1m3 0h1m-1 0.5h1m5 0h1m1 0h1m-33.5 0.5h1m3.5 0.5h1m0-0.5h1m0.5 0.5h1m-1-0.5h1m-0.5 0h1m0.5-0.5h1m-1 1h1m1-0.5h1m-0.5 0.5h1m-0.5-0.5h1m-0.5-0.5h1m-0.5 0.5h1m0 0h1m0.5 0.5h1m-1-0.5h1m1.5-0.5h1m-0.5 0.5h1m-0.5 0h1m1.5 0.5h1m0.5-0.5h1m3-0.5h1m2 0.5h1m-25 1h1m3.5 0.5h1m1-0.5h1m-0.5 0h1m-0.5 0.5h1m-1-1h1m0 1h1m-1 0h1m-0.5-0.5h1m-1 0.5h1m0.5-1h1m0.5 0.5h1m3.5 0h1m0 0h1m0.5 0h1m0 0h1m0 0h1m0 0h1m-0.5 0h1m-25.5 1h1m0-0.5h1m0 0h1m1 0h1m-0.5 0.5h1m1 0.5h1m-1-0.5h1m-1 0h1m2-0.5h1m0 1h1m-1-1h1m0 0.5h1m0.5 0.5h1m0 0h1m-0.5-0.5h1m1.5 0h1m0.5 0h1m-1-0.5h1m1 1h1m0-1h1m0 0.5h1m-1 0h1m-0.5 0h1m4 0.5h1m-30.5 0.5h1m3-0.5h1m1 0.5h1m0 0.5h1m1.5-1h1m1.5 0.5h1m5.5 0.5h1m-1-0.5h1m-0.5-0.5h1m-1 1h1m2.5-0.5h1m0.5 0.5h1m-0.5-1h1m2 0.5h1m2.5 0h1m-27 1.5h1m-1-1h1m0 1h1m1-0.5h1m5 0.5h1m-0.5 0h1m-0.5-0.5h1m0 0h1m3 0h1m-0.5 0h1m-0.5-0.5h1m0.5 0.5h1m0.5 0h1m0.5 0h1m0 0h1m5.5 0.5h1m-30.5 0.5h1m-1 0h1m0.5 0.5h1m-1-0.5h1m-0.5-0.5h1m0.5 0.5h1m-0.5 0.5h1m-0.5-0.5h1m0 0.5h1m-0.5-0.5h1m0.5-0.5h1m0.5 0.5h1m-0.5-0.5h1m-0.5 1h1m2-0.5h1m0.5-0.5h1m0 0h1m1.5 0.5h1m-0.5 0h1m2 0h1m-0.5 0h1m-1 0h1m0.5 0h1m-1-0.5h1m0.5 1h1m-0.5-0.5h1m0 0h1m-28 1.5h1m1.5-1h1m3.5 0.5h1m0-0.5h1m0.5 0.5h1m6.5-0.5h1m1.5 0h1m-0.5 0.5h1m0.5 0h1m-1 0h1m2 0h1m0 0.5h1m-1 0h1m0-0.5h1m-0.5 0h1m0.5-0.5h1m-28.5 1h1m0.5 0h1m0.5 0.5h1m7 0.5h1m0-0.5h1m-0.5 0.5h1m0 0h1m-0.5-0.5h1m0.5-0.5h1m0 0.5h1m-0.5 0h1m1.5 0.5h1m3.5-1h1m1.5 0h1m1.5 0.5h1m-0.5 0h1m-32.5 1h1m0 0h1m7-0.5h1m-0.5 0.5h1m0.5 0.5h1m-0.5-1h1m0 1h1m0.5-0.5h1m0 0h1m1.5-0.5h1m3.5 0h1m-0.5 0.5h1m0 0h1m1.5 0h1m-0.5 0.5h1m-0.5-1h1m1 0.5h1m0 0.5h1m0.5-1h1m-41.5 2h1m18.5-1h1m2 0h1m1 1h1m0-0.5h1m0 0h1m1.5 0h1m-0.5 0h1m0.5-0.5h1m-0.5 0h1m2 0h1m-1 0.5h1m-0.5-0.5h1m0 1h1m-1-1h1m-0.5 1h1m-0.5-0.5h1m-0.5 0h1m2 0h1m-31 1.5h1m-0.5-0.5h1m-1-0.5h1m-0.5 0h1m-0.5 0.5h1m-0.5 0h1m0 0h1m0.5 0.5h1m0.5-0.5h1m1.5 0.5h1m-0.5-1h1m1 0.5h1m-0.5 0.5h1m-0.5 0h1m-1-0.5h1m1.5-0.5h1m0 0.5h1m1.5 0.5h1m-0.5-0.5h1m0 0h1m-1 0h1m-1 0h1m1 0h1m1-0.5h1m-0.5 0.5h1m0.5 0h1m3-0.5h1m-1 0h1m0 0h1m-47 1h1m2 0.5h1m1 0.5h1m2-0.5h1m6.5 0.5h1m-0.5 0h1m1-1h1m0.5 0.5h1m0 0h1m0.5 0.5h1m-1-1h1m-0.5 0.5h1m0.5-0.5h1m-1 0h1m-0.5 1h1m2-0.5h1m-0.5 0h1m0.5 0.5h1m-1-0.5h1m1 0.5h1m1.5-1h1m0 0.5h1m1 0h1m0 0h1m-0.5 0h1m0.5-0.5h1m-1 0.5h1m0.5 0h1m-0.5-0.5h1m0.5 1h1m-0.5 0h1m-42 0.5h1m-1 0h1m-0.5 0h1m-0.5 0h1m-0.5 0h1m10.5 0.5h1m-0.5-1h1m-0.5 0.5h1m-0.5 0h1m1.5 0.5h1m-1-1h1m1 0.5h1m-0.5 0h1m-0.5-0.5h1m0 0.5h1m-0.5 0.5h1m6.5 0h1m-0.5-1h1m1 0h1m-0.5 0h1m3 1h1m0-0.5h1m-1-0.5h1m0 0.5h1m0 0h1m-0.5-0.5h1m-41.5 2h1m1-0.5h1m11 0.5h1m-0.5-1h1m-1 0.5h1m-0.5-0.5h1m0.5 1h1m-1-0.5h1m1 0.5h1m0-1h1m3.5 1h1m2.5-1h1m0.5 0.5h1m0.5 0.5h1m0 0h1m-0.5-0.5h1m0-0.5h1m-1 0.5h1m2-0.5h1m-1 0h1m-0.5 1h1m-1-0.5h1m0.5 0.5h1m1.5-0.5h1m1-0.5h1m-45.5 1.5h1m-0.5-0.5h1m0 0.5h1m-0.5-0.5h1m-1 0.5h1m-0.5 0h1m0.5 0.5h1m0-1h1m0.5 0.5h1m0 0.5h1m-1-0.5h1m7 0h1m2.5 0.5h1m-0.5-0.5h1m1 0.5h1m1-0.5h1m1.5 0h1m-1-0.5h1m1 0h1m0 0.5h1m-0.5-0.5h1m6.5 0h1m1 0.5h1m-0.5 0h1m0-0.5h1m1 1h1m-48 0.5h1m2 0h1m-0.5 0h1m-1-0.5h1m1 1h1m-1 0h1m-0.5-0.5h1m0.5 0h1m1.5-0.5h1m-0.5 1h1m1-1h1m9 0.5h1m0.5-0.5h1m0 0.5h1m-0.5-0.5h1m-1 0.5h1m3 0.5h1m-0.5-1h1m-0.5 0.5h1m1 0.5h1m0.5-0.5h1m1-0.5h1m-0.5 1h1m0.5-0.5h1m-0.5 0.5h1m1.5-0.5h1m-1-0.5h1m2.5 1h1m0.5-0.5h1m0-0.5h1m-45 1.5h1m0.5 0.5h1m2-0.5h1m2 0.5h1m1.5 0h1m-1-0.5h1m0 0.5h1m9.5-1h1m-0.5 1h1m0.5 0h1m2-0.5h1m-1-0.5h1m0 0.5h1m-0.5 0.5h1m0.5-1h1m2 0h1m0.5 0.5h1m-0.5 0h1m2 0.5h1m3 0h1m2.5-1h1m-0.5 1h1m-49.5 0.5h1m0.5 0h1m3.5 0h1m2-0.5h1m0 0h1m2.5 1h1m6-0.5h1m0 0h1m0 0h1m-0.5 0h1m2.5-0.5h1m0.5 1h1m-0.5-1h1m-0.5 0.5h1m-0.5 0.5h1m0-1h1m-1 0.5h1m0 0.5h1m1-1h1m3 0.5h1m-0.5-0.5h1m0 1h1m0-1h1m-0.5 0.5h1m1-0.5h1m0.5 0.5h1m1 0h1m0.5 0h1m-1 0.5h1m-48 1h1m-1-0.5h1m-0.5 0h1m2.5-0.5h1m1.5 0h1m-0.5 0.5h1m1.5 0.5h1m-1-1h1m1.5 1h1m0-0.5h1m1.5 0h1m6.5 0.5h1m0 0h1m-0.5-0.5h1m-1 0h1m0 0h1m-0.5 0h1m-0.5 0h1m-0.5 0h1m-1 0.5h1m0.5-1h1m0.5 0.5h1m0 0.5h1m0 0h1m0-0.5h1m0-0.5h1m0.5 0h1m-0.5 1h1m0.5-1h1m-1 0.5h1m-0.5-0.5h1m-0.5 0.5h1m1.5 0h1m1 0h1m2-0.5h1m-1 0h1m-1 0.5h1m-47.5 1.5h1m0.5-0.5h1m-0.5 0h1m0-0.5h1m-0.5 0h1m1.5 1h1m1.5-1h1m2.5 0.5h1m0 0h1m-1 0h1m-1-0.5h1m-0.5 1h1m1 0h1m0.5 0h1m4-1h1m0.5 0.5h1m-0.5 0h1m-0.5-0.5h1m1 1h1m-0.5-1h1m0 0.5h1m3 0.5h1m-0.5-0.5h1m0.5 0.5h1m-0.5 0h1m-0.5-0.5h1m2 0h1m-1 0h1m0.5 0h1m2.5 0.5h1m-0.5-1h1m2 0h1m-45 1.5h1m0-0.5h1m0 0h1m0.5 1h1m-1-0.5h1m1.5 0h1m2 0.5h1m0-1h1m12.5 0.5h1m-0.5 0.5h1m-1 0h1m0 0h1m-0.5-0.5h1m1.5 0.5h1m0.5-0.5h1m-0.5 0h1m0 0h1m-0.5-0.5h1m4 1h1m0.5-0.5h1m2 0.5h1m-1-0.5h1m-1 0h1m0 0.5h1m-1-0.5h1m2.5 0h1m-48.5 1h1m0.5 0h1m0.5-0.5h1m-0.5 0h1m1 0.5h1m0-0.5h1m0 0.5h1m0.5-0.5h1m0.5 0.5h1m-0.5 0h1m2.5 0.5h1m8.5 0h1m-1-0.5h1m-0.5 0h1m2.5 0.5h1m-0.5-0.5h1m0 0.5h1m1-1h1m-0.5 1h1m-0.5 0h1m1.5 0h1m0.5 0h1m0.5 0h1m-1-0.5h1m0.5 0h1m3 0.5h1m1 0h1m2-0.5h1m-47.5 1.5h1m-0.5 0h1m-1 0h1m2-0.5h1m-1 0.5h1m2 0h1m1-0.5h1m0 0h1m-1 0h1m1.5-0.5h1m1 0.5h1m11-0.5h1m1 0h1m-1 0.5h1m1.5-0.5h1m-1 0.5h1m1-0.5h1m1.5 0.5h1m0-0.5h1m2 0.5h1m0.5 0h1m0 0h1m-47 1h1m1.5 0h1m2-0.5h1m-0.5 0h1m-0.5 0.5h1m-0.5 0h1m-1 0h1m2-0.5h1m-0.5 1h1m0-0.5h1m-1 0.5h1m-1-1h1m0 0.5h1m0-0.5h1m1 0h1m-0.5 1h1m-0.5-1h1m13.5 1h1m0.5-0.5h1m-0.5 0h1m1 0.5h1m0 0h1m-0.5-1h1m-0.5 1h1m0-0.5h1m0-0.5h1m2 0.5h1m-0.5 0.5h1m-0.5 0h1m0-0.5h1m0 0h1m-45 0.5h1m2 0h1m0 0h1m0 0.5h1m2 0.5h1m-0.5-0.5h1m0.5 0h1m-0.5-0.5h1m1 1h1m2.5-0.5h1m-1 0.5h1m12 0h1m-0.5 0h1m2-0.5h1m-0.5 0.5h1m4.5-0.5h1m-0.5-0.5h1m-1 0.5h1m1 0h1m-42 0.5h1m0 1h1m-0.5-0.5h1m2.5 0.5h1m-0.5-0.5h1m2 0.5h1m6-0.5h1m-0.5-0.5h1m15.5 0.5h1m0 0h1m2 0h1m0-0.5h1m1 0.5h1m-38.5 0.5h1m0 1h1m1-1h1m0 0.5h1m-0.5-0.5h1m0 1h1m0 0h1m0-0.5h1m1 0h1m0-0.5h1m-0.5 0h1m0 0.5h1m-14 0.5h1m1.5 0h1m1.5 0h1m0 0.5h1m1 0h1m4.5 0h1m16.5-0.5h1m1 0h1m-32.5 1.5h1m0-0.5h1m0.5 0.5h1m1 0h1m0 0.5h1m-1-0.5h1m-1 0h1m4.5 0h1m-1 0.5h1m-8.5 1h1m1 0h1m0 0h1m-0.5-0.5h1m3.5 0h1m-11.5 0.5h1m0 0.5h1m4 0h1m-5.5 0.5h1m1 0h1m-0.5 0h1m-0.5 0.5h1m-3 0.5h1" stroke="#283a96" stroke-width="1" fill="none"/>
<path d="M282.5 49.5h1m-1 0.5h1m-0.5 1h1m0.5-0.5h1m-4 1.5h1m-5.5 1h1m0 1.5h1m-0.5 0h1m2-1h1m-1 1h1m-1 0h1m-0.5 0h1m1-0.5h1m1.5 0h1m-10 1h1m0 0h1m1 0.5h1m3-0.5h1m-1 0h1m0.5 0h1m-7.5 1.5h1m0.5 0h1m2-0.5h1m-1-0.5h1m-0.5 0.5h1m0 0h1m0-0.5h1m-30 1h1m21 0.5h1m1.5 0.5h1m1.5 0h1m-0.5 0h1m1-1h1m-31.5 1.5h1m20.5 0.5h1m-0.5-0.5h1m0.5 0.5h1m1-0.5h1m1.5 0h1m0 0h1m-0.5 0h1m-1-0.5h1m-0.5 1h1m-1-1h1m-1 1h1m2-0.5h1m-1 0.5h1m-1 0h1m0.5-0.5h1m-10.5 1h1m0-0.5h1m2 0.5h1m-1-0.5h1m-0.5 1h1m1.5-1h1m-0.5 1h1m1.5-0.5h1m-38.5 1.5h1m22-0.5h1m0.5 0h1m-0.5 0.5h1m0.5-1h1m4 0.5h1m0.5-0.5h1m0 0.5h1m-1 0h1m0 0h1m-14 1h1m0.5 0h1m0 0h1m-1-0.5h1m0 0h1m-1 0.5h1m-1-0.5h1m-0.5 0.5h1m-0.5 0h1m0.5-0.5h1m-0.5 0.5h1m-0.5 0.5h1m0-1h1m-0.5 0.5h1m2 0.5h1m-0.5-1h1m0 0.5h1m-1 0.5h1m0-0.5h1m0-0.5h1m-1 0.5h1m-0.5 0.5h1m-0.5-0.5h1m-0.5 0.5h1m-40.5 0.5h1m7.5 0h1m18.5 0.5h1m1.5 0h1m-0.5-1h1m-1 1h1m-1 0h1m-1-0.5h1m2.5 0.5h1m0-1h1m1 1h1m-0.5 0h1m0.5 0h1m1-0.5h1m-40 1h1m3.5-0.5h1m13.5 0.5h1m10.5 0.5h1m0-1h1m0 1h1m-1-0.5h1m-1 0h1m0 0h1m2.5 0h1m2 0.5h1m-44 0h1m2.5 0h1m22.5 0.5h1m0.5 0.5h1m-0.5 0h1m-0.5 0h1m1 0h1m2 0h1m0-1h1m0 1h1m-30 0.5h1m7.5 0.5h1m0-0.5h1m8 0h1m-1-0.5h1m-0.5 1h1m-1-1h1m-0.5 0h1m-0.5 1h1m-1 0h1m0.5-0.5h1m0 0h1m-0.5-0.5h1m-1 0.5h1m0.5 0h1m1 0.5h1m0.5-0.5h1m-0.5-0.5h1m0 0.5h1m-0.5 0.5h1m-0.5 0h1m1.5 0h1m-0.5-0.5h1m0 0h1m8.5 0h1m-27 1.5h1m-0.5-1h1m-1 0.5h1m0 0.5h1m-0.5 0h1m-1 0h1m3 0h1m-1-0.5h1m-0.5-0.5h1m0 0.5h1m-1-0.5h1m-0.5 0h1m0 0.5h1m-0.5 0h1m0 0h1m-0.5 0h1m0 0.5h1m0-0.5h1m0.5 0h1m-0.5 0.5h1m9.5-0.5h1m-0.5 0.5h1m0-1h1m0.5 0.5h1m-40 1h1m2 0.5h1m4.5-0.5h1m4-0.5h1m2 1h1m2.5-1h1m0.5 0h1m3 0h1m0 0h1m-0.5 0h1m-0.5 0.5h1m1 0h1m0-0.5h1m2.5 0.5h1m-0.5 0h1m0.5 0h1m-0.5 0h1m2 0h1m-0.5 0h1m-48 0.5h1m17 0.5h1m-1 0.5h1m-0.5-0.5h1m1 0h1m1 0h1m-0.5 0h1m-1 0h1m0 0.5h1m0-1h1m0 0.5h1m1.5 0h1m0.5 0h1m1.5-0.5h1m-0.5 0.5h1m1 0h1m-0.5-0.5h1m-0.5 0.5h1m0 0.5h1m-0.5 0h1m3 0h1m-1-0.5h1m-1 0h1m0 0h1m0.5 0h1m-0.5 0.5h1m-0.5-0.5h1m0.5-0.5h1m-1 1h1m3-0.5h1m-53 1h1m16-0.5h1m2 1h1m0-0.5h1m2 0h1m-0.5 0h1m-1-0.5h1m4 0.5h1m0 0.5h1m-0.5 0h1m-0.5-0.5h1m0.5 0h1m-0.5 0h1m-0.5 0h1m0 0h1m0.5-0.5h1m1.5 1h1m0 0h1m-1-0.5h1m1 0h1m-1 0h1m2-0.5h1m-29.5 1.5h1m1-0.5h1m0.5 1h1m2-0.5h1m-0.5 0h1m0 0.5h1m-0.5-0.5h1m-1 0.5h1m-1-0.5h1m-0.5 0h1m1-0.5h1m0 0h1m0 1h1m-0.5-1h1m0 0.5h1m1-0.5h1m-0.5 0.5h1m0 0h1m-1-0.5h1m0.5 0h1m0 1h1m3-0.5h1m-0.5-0.5h1m0.5 1h1m0-0.5h1m2 0h1m0 0h1m0 0h1m-0.5 0h1m0-0.5h1m1 0.5h1m-38.5 0.5h1m1 1h1m8 0h1m-0.5 0h1m-1-1h1m-1 0.5h1m0-0.5h1m3 0.5h1m0.5 0h1m1 0h1m-0.5 0.5h1m0.5-0.5h1m-1 0h1m-0.5 0h1m0 0h1m1-0.5h1m3 0.5h1m-1 0h1m1 0.5h1m-0.5 0h1m-0.5 0h1m0-0.5h1m-52 1.5h1m5-0.5h1m10 0h1m4.5 0h1m2 0h1m1.5 0h1m-1-0.5h1m5 0.5h1m-0.5 0.5h1m-0.5-1h1m5.5 1h1m1-1h1m4 1h1m-1-0.5h1m3 0.5h1m-40.5 0.5h1m4.5 0h1m-1-0.5h1m1.5 0.5h1m0 0h1m-0.5 0h1m-0.5 0h1m1.5-0.5h1m-0.5 1h1m-0.5 0h1m1.5 0h1m0 0h1m0-1h1m0.5 0.5h1m-0.5 0.5h1m-0.5-0.5h1m-0.5-0.5h1m0 0.5h1m-0.5 0.5h1m5.5-1h1m0 0.5h1m-0.5 0h1m0-0.5h1m0.5 1h1m3.5-0.5h1m0 0.5h1m-0.5 0h1m-42 0.5h1m0 0.5h1m-0.5-1h1m5 1h1m-0.5 0h1m-1-0.5h1m0 0h1m0 0h1m0 0h1m-0.5 0h1m0 0.5h1m-0.5-0.5h1m1.5 0.5h1m1-1h1m2.5 0.5h1m-1 0h1m-0.5 0h1m0 0h1m3 0h1m-0.5 0h1m1.5-0.5h1m0.5 1h1m0.5-0.5h1m-0.5 0h1m-1 0h1m-0.5 0.5h1m-0.5-0.5h1m2.5 0h1m-1-0.5h1m0 0.5h1m-0.5 0h1m0 0h1m0-0.5h1m-0.5 0h1m-0.5 0.5h1m-42.5 1.5h1m3 0h1m1.5-1h1m0 0.5h1m0 0h1m-1 0h1m-0.5 0h1m0 0h1m-0.5 0h1m1 0.5h1m0-0.5h1m-0.5-0.5h1m2.5 0.5h1m-1 0.5h1m-1-1h1m0 0h1m0 0.5h1m0-0.5h1m-0.5 0h1m1 0h1m0.5 1h1m-0.5-1h1m0.5 0h1m0 0.5h1m2 0h1m3-0.5h1m1 0.5h1m-0.5-0.5h1m0.5 0.5h1m-1 0.5h1m1.5 0h1m-37 1h1m1-1h1m-0.5 0.5h1m0.5 0h1m0.5-0.5h1m-0.5 0.5h1m2 0.5h1m0-0.5h1m-0.5 0h1m0.5 0h1m0 0h1m1.5-0.5h1m0.5 1h1m2-1h1m-0.5 1h1m0.5 0h1m0 0h1m3 0h1m3.5 0h1m-1-1h1m0.5 0.5h1m0.5-0.5h1m0.5 1h1m1.5-0.5h1m-37.5 1h1m-0.5-0.5h1m2 0h1m0 0.5h1m-1 0h1m-0.5-0.5h1m1.5 0.5h1m-0.5-0.5h1m-0.5 0.5h1m0.5 0h1m1 0h1m2.5 0h1m2 0.5h1m3-1h1m0 0.5h1m-0.5 0h1m0 0h1m-0.5 0.5h1m-1 0h1m2-0.5h1m3 0h1m0.5-0.5h1m-37 1.5h1m0.5 0.5h1m0.5 0h1m2-0.5h1m0.5 0h1m3.5 0.5h1m-0.5-0.5h1m0 0h1m-0.5 0.5h1m0.5 0h1m-0.5 0h1m0-0.5h1m-1 0h1m1 0h1m-1-0.5h1m-1 1h1m-0.5-0.5h1m1.5 0h1m2 0h1m0.5 0h1m1 0h1m0.5 0h1m1-0.5h1m-36.5 1h1m0.5 0.5h1m0 0.5h1m0-0.5h1m1-0.5h1m2 0.5h1m2-0.5h1m-0.5 0.5h1m0.5 0h1m-1 0.5h1m0 0h1m-1-1h1m0 0h1m-0.5 1h1m-1-0.5h1m0 0h1m-0.5-0.5h1m0.5 0.5h1m0 0h1m-0.5-0.5h1m-0.5 0h1m-0.5 0.5h1m-1 0.5h1m2.5-0.5h1m0.5-0.5h1m0 0.5h1m0 0.5h1m3.5-0.5h1m-0.5 0.5h1m0-1h1m0 0.5h1m0-0.5h1m-37 1.5h1m0 0h1m2.5 0h1m1.5 0.5h1m0.5 0h1m-0.5-0.5h1m-0.5 0h1m1.5-0.5h1m0.5 0.5h1m0.5 0h1m-0.5 0.5h1m-0.5-0.5h1m-1 0h1m2.5 0.5h1m-0.5 0h1m1-0.5h1m-0.5 0h1m-1 0h1m0 0.5h1m0 0h1m0-1h1m-1 0h1m1 1h1m-1-1h1m-0.5 0.5h1m3.5-0.5h1m1 0.5h1m0.5 0h1m-36 1h1m3-0.5h1m0.5 0h1m0.5 0h1m-1 0.5h1m-1 0.5h1m2-0.5h1m-1 0.5h1m-0.5 0h1m0.5-1h1m0 0.5h1m-1 0.5h1m0-0.5h1m1-0.5h1m0 0.5h1m5 0h1m0 0h1m-0.5 0.5h1m0-1h1m0 0.5h1m-29 1.5h1m1.5-1h1m-0.5 1h1m-0.5-0.5h1m-0.5 0.5h1m-0.5-0.5h1m1 0.5h1m-0.5-0.5h1m0.5 0h1m-0.5 0.5h1m0.5-0.5h1m0 0h1m0.5 0h1m-0.5-0.5h1m-1 1h1m1.5-0.5h1m-1-0.5h1m1 0.5h1m2 0.5h1m-0.5-1h1m-1 0.5h1m0 0h1m0.5 0h1m-1 0h1m1 0.5h1m0-0.5h1m3.5 0h1m-32.5 1.5h1m1-1h1m-1 0.5h1m1 0h1m-1 0.5h1m2.5 0h1m-1-1h1m-0.5 0.5h1m-1 0h1m1.5-0.5h1m-1 1h1m0.5-0.5h1m0 0h1m-1 0h1m0.5 0h1m0.5 0.5h1m0 0h1m-0.5-0.5h1m-0.5 0h1m0.5 0h1m-0.5-0.5h1m1.5 1h1m2 0h1m0 0h1m0-1h1m-0.5 0.5h1m0.5-0.5h1m-28 1.5h1m3.5 0h1m0 0h1m0.5 0h1m-0.5 0h1m0-0.5h1m-0.5 1h1m-1-0.5h1m0 0h1m1 0.5h1m1.5-1h1m-0.5 1h1m0-0.5h1m0.5 0h1m2 0h1m1 0h1m0.5 0h1m-28 0.5h1m0 0.5h1m-1 0.5h1m0-1h1m1 0.5h1m2-0.5h1m0 0.5h1m2 0h1m-0.5 0h1m1-0.5h1m0 0.5h1m0.5-0.5h1m1.5 0h1m0 0.5h1m-0.5 0h1m-0.5 0.5h1m-0.5 0h1m0.5-0.5h1m-0.5-0.5h1m0 0.5h1m0.5-0.5h1m-25.5 1.5h1m2-0.5h1m0.5 0h1m0.5 1h1m0-0.5h1m-0.5 0h1m-1-0.5h1m1 0h1m1.5 1h1m-0.5-1h1m-0.5 0.5h1m0 0h1m-1 0.5h1m0-0.5h1m3 0.5h1m-1 0h1m-0.5-1h1m0 1h1m-0.5-1h1m-18.5 2h1m0.5-0.5h1m-1 0h1m1 0.5h1m-1-0.5h1m-1-0.5h1m-0.5 1h1m-0.5-0.5h1m-0.5 0.5h1m-1-0.5h1m0 0.5h1m0.5-1h1m-0.5 1h1m-1-0.5h1m0 0h1m-0.5 0h1m-1 0.5h1m1.5 0h1m1.5-0.5h1m-18 1h1m0.5-0.5h1m-1 0.5h1m1-0.5h1m1.5 1h1m2-0.5h1m0.5 0h1m-0.5 0.5h1m-0.5 0h1m0.5-0.5h1m1 0h1m-14.5 1h1m-0.5 0h1m2 0.5h1m1 0h1m-0.5-0.5h1m0.5 0h1m-0.5 0h1m1-0.5h1m0.5 0.5h1m1 0h1m-14 1h1m1.5 0h1m-0.5 0h1m-1 0h1m1.5 0.5h1m0 0h1m-1-0.5h1m0.5-0.5h1m2.5 0.5h1m-0.5 0h1m-15.5 1h1m0 0h1m1.5-0.5h1m-1 0.5h1m-1-0.5h1m0 0.5h1m-1 0.5h1m-0.5-0.5h1m-0.5 0.5h1m2-0.5h1m0.5 0h1m-1 0.5h1m0-0.5h1m-1 0h1m1.5-0.5h1m-0.5 1h1m1-0.5h1m-16 1.5h1m1-0.5h1m-0.5 0h1m-1 0h1m2 0h1m-0.5 0h1m2.5-0.5h1m1.5 0.5h1m-0.5-0.5h1m-12 2h1m-0.5-0.5h1m2-0.5h1m0.5 0.5h1m1.5-0.5h1m1.5 0.5h1m-1-0.5h1m0 0.5h1m-0.5 0h1m-0.5 0h1m-15.5 1h1m-0.5 0h1m0-0.5h1m2 0.5h1m-0.5 0h1m0.5 0h1m1 0h1m3 0.5h1m0-1h1m1 0.5h1m-15 1h1m2 0h1m0 0h1m-0.5-0.5h1m1 0.5h1m-0.5 0h1m-0.5 0h1m1 0h1m-0.5 0.5h1m0.5-0.5h1m-1-0.5h1m0.5 0.5h1m0 0.5h1m-16 0.5h1m0.5 0.5h1m0-1h1m-0.5 0.5h1m2 0h1m1 0.5h1m0 0h1m-1 0h1m-1-0.5h1m2.5 0h1m-0.5-0.5h1m2 0.5h1m-15.5 1h1m2 0.5h1m0-0.5h1m2.5-0.5h1m-0.5 0.5h1m0.5-0.5h1m-0.5 0h1m-1 0.5h1m0 0h1m-14 0.5h1m-0.5 1h1m1 0h1m-0.5 0h1m-0.5-0.5h1m-0.5 0.5h1m0-1h1m1.5 0.5h1m1 0h1m0 0.5h1m-1-0.5h1m-0.5 0.5h1m0-0.5h1m-1 0.5h1m1-0.5h1m-13.5 0.5h1m-0.5 0.5h1m-0.5-0.5h1m-0.5 0.5h1m0-0.5h1m2.5 0h1m-1 0.5h1m0 0h1m1 0h1m3 0.5h1m-14 0.5h1m-0.5 0.5h1m-0.5-0.5h1m0 0.5h1m1 0h1m-0.5-1h1m-1 0.5h1m-1 0h1m-1-0.5h1m-0.5 0h1m0.5 1h1m0-0.5h1m-0.5 0h1m3.5-0.5h1m-12 1h1m1.5 0h1m-1 0.5h1m1 0h1m-1-0.5h1m-1 0h1m2 0.5h1m-0.5-0.5h1m-12 1.5h1m2.5 0h1m1 0.5h1m1.5-0.5h1m0 0h1m1 0h1m-0.5 0h1m-1 0h1m-0.5 0.5h1m-0.5-1h1m-0.5 0.5h1m-13.5 1h1m2.5 0.5h1m0-0.5h1m-1 0h1m0.5 0.5h1m2-0.5h1m-1 0h1m0 0.5h1m0-0.5h1m2.5-0.5h1m-13 2h1m0.5-0.5h1m0.5 0.5h1m-1 0h1m-1-0.5h1m-0.5 0.5h1m0.5-0.5h1m0.5 0h1m-1-0.5h1m1.5 0.5h1m0 0h1m-1 0h1m-0.5 0h1m-11 1h1m1 0h1m0.5 0h1m0 0.5h1m-6 1h1m3.5-0.5h1m-0.5-0.5h1m-0.5 1h1m0 0h1m-0.5 0h1m0.5-0.5h1m0.5 0h1m1 0.5h1m0-0.5h1m-14 1h1m1.5 0.5h1m-0.5-0.5h1m0 0h1m-1 0h1m0 0h1m-0.5 0h1m-0.5 0h1m2 0h1m-1 0h1m-0.5 0h1m-0.5 0h1m0.5 0h1m-11 1h1m-0.5-0.5h1m-0.5 1h1m-1-0.5h1m-0.5 0h1m-0.5 0.5h1m0-0.5h1m1.5-0.5h1m-1 0.5h1m0 0h1m1.5 0h1m0.5 0h1m-0.5 0.5h1m0-0.5h1m-12 1.5h1m-1-0.5h1m0.5-0.5h1m-0.5 0h1m-1 0.5h1m0.5 0h1m-0.5 0h1m-1-0.5h1m-1 1h1m-0.5-1h1m4 0.5h1m1 0h1m-0.5-0.5h1m-1 0.5h1m-16.5 1.5h1m0.5 0h1m0.5 0h1m-0.5-0.5h1m-0.5-0.5h1m0 0.5h1m0-0.5h1m0 0.5h1m0 0h1m3-0.5h1m-1 0.5h1m0-0.5h1m0 0h1m-8.5 2h1m3-0.5h1m0-0.5h1m-0.5 0.5h1m1.5 0h1m-0.5-0.5h1m1.5 0.5h1m-17.5 1.5h1m1-1h1m-1 1h1m7 0h1m-0.5-0.5h1m0.5-0.5h1m0 0h1m0 0h1m-0.5 0.5h1m-2.5 1h1" stroke="#e4141c" stroke-width="1" fill="none"/>
<text x="8.2" y="18" font-size="12.6" font-weight="bold" fill="#111" stroke="#111" stroke-width="0.35">A</text>
<text x="175.2" y="18" font-size="12.6" font-weight="bold" fill="#111" stroke="#111" stroke-width="0.35">B</text>
<text x="350.2" y="17.4" font-size="12.6" font-weight="bold" fill="#111" stroke="#111" stroke-width="0.35">C</text>
<text x="90.3" y="29.2" font-size="9.6" text-anchor="middle" textLength="43" lengthAdjust="spacingAndGlyphs" fill="#1c1a1a">Total Cells</text>
<path d="M21.4 44.9H23M21.4 56.0H23M21.4 67.1H23M21.4 78.2H23M21.4 89.2H23M21.4 100.3H23M21.4 111.4H23M21.4 122.5H23M21.4 133.6H23M21.4 144.6H23M21.4 155.7H23M21.4 166.8H23M26.9 168.2V169.8M30.8 168.2V169.8M34.6 168.2V169.8M38.5 168.2V169.8M42.3 168.2V169.8M46.1 168.2V169.8M50.0 168.2V169.8M53.8 168.2V169.8M57.7 168.2V169.8M61.5 168.2V169.8M65.4 168.2V169.8M69.2 168.2V169.8M73.1 168.2V169.8M77.0 168.2V169.8M80.8 168.2V169.8M84.7 168.2V169.8M88.5 168.2V169.8M92.3 168.2V169.8M96.2 168.2V169.8M100.1 168.2V169.8M103.9 168.2V169.8M107.8 168.2V169.8M111.6 168.2V169.8M115.4 168.2V169.8M119.3 168.2V169.8M123.2 168.2V169.8M127.0 168.2V169.8M130.8 168.2V169.8M134.7 168.2V169.8M138.6 168.2V169.8M142.4 168.2V169.8M146.2 168.2V169.8M150.1 168.2V169.8M153.9 168.2V169.8M19.6 56.0H23M19.6 100.1H23M19.6 144.4H23M26.9 168.2V171.2M50.0 168.2V171.2M73.0 168.2V171.2M96.5 168.2V171.2M119.4 168.2V171.2M142.5 168.2V171.2" stroke="#1c1a1a" stroke-width="0.9" fill="none"/>
<rect x="23" y="34.2" width="134.8" height="134.0" fill="none" stroke="#1c1a1a" stroke-width="1.45"/>
<text x="17.0" y="58.6" font-size="7.3" text-anchor="end" fill="#2a2a2a">10</text>
<text x="17.0" y="102.7" font-size="7.3" text-anchor="end" fill="#2a2a2a">0</text>
<text x="17.0" y="147.0" font-size="7.3" text-anchor="end" fill="#2a2a2a">−9</text>
<text x="26.9" y="181.1" font-size="7.3" text-anchor="middle" fill="#2a2a2a">−14</text>
<text x="50.0" y="181.1" font-size="7.3" text-anchor="middle" fill="#2a2a2a">−9</text>
<text x="73.0" y="181.1" font-size="7.3" text-anchor="middle" fill="#2a2a2a">−5.0</text>
<text x="96.5" y="181.1" font-size="7.3" text-anchor="middle" fill="#2a2a2a">0</text>
<text x="119.4" y="181.1" font-size="7.3" text-anchor="middle" fill="#2a2a2a">5.0</text>
<text x="142.5" y="181.1" font-size="7.3" text-anchor="middle" fill="#2a2a2a">10</text>
<path d="M186.9 44.9H188.5M186.9 56.0H188.5M186.9 67.1H188.5M186.9 78.2H188.5M186.9 89.2H188.5M186.9 100.3H188.5M186.9 111.4H188.5M186.9 122.5H188.5M186.9 133.6H188.5M186.9 144.6H188.5M186.9 155.7H188.5M186.9 166.8H188.5M192.7 168.2V169.8M196.6 168.2V169.8M200.4 168.2V169.8M204.3 168.2V169.8M208.1 168.2V169.8M212.0 168.2V169.8M215.8 168.2V169.8M219.7 168.2V169.8M223.5 168.2V169.8M227.4 168.2V169.8M231.2 168.2V169.8M235.1 168.2V169.8M238.9 168.2V169.8M242.8 168.2V169.8M246.6 168.2V169.8M250.5 168.2V169.8M254.3 168.2V169.8M258.2 168.2V169.8M262.0 168.2V169.8M265.9 168.2V169.8M269.7 168.2V169.8M273.6 168.2V169.8M277.4 168.2V169.8M281.2 168.2V169.8M285.1 168.2V169.8M289.0 168.2V169.8M292.8 168.2V169.8M296.7 168.2V169.8M300.5 168.2V169.8M304.4 168.2V169.8M308.2 168.2V169.8M312.1 168.2V169.8M315.9 168.2V169.8M319.8 168.2V169.8M185.1 56.0H188.5M185.1 100.1H188.5M185.1 144.4H188.5M192.7 168.2V171.2M215.8 168.2V171.2M238.8 168.2V171.2M262.3 168.2V171.2M285.2 168.2V171.2M308.3 168.2V171.2" stroke="#1c1a1a" stroke-width="0.9" fill="none"/>
<rect x="188.5" y="34.2" width="134.5" height="134.0" fill="none" stroke="#1c1a1a" stroke-width="1.45"/>
<text x="182.5" y="58.6" font-size="7.3" text-anchor="end" fill="#2a2a2a">10</text>
<text x="182.5" y="102.7" font-size="7.3" text-anchor="end" fill="#2a2a2a">0</text>
<text x="182.5" y="147.0" font-size="7.3" text-anchor="end" fill="#2a2a2a">−9</text>
<text x="192.7" y="181.1" font-size="7.3" text-anchor="middle" fill="#2a2a2a">−14</text>
<text x="215.8" y="181.1" font-size="7.3" text-anchor="middle" fill="#2a2a2a">−9</text>
<text x="238.8" y="181.1" font-size="7.3" text-anchor="middle" fill="#2a2a2a">−5.0</text>
<text x="262.3" y="181.1" font-size="7.3" text-anchor="middle" fill="#2a2a2a">0</text>
<text x="285.2" y="181.1" font-size="7.3" text-anchor="middle" fill="#2a2a2a">5.0</text>
<text x="308.3" y="181.1" font-size="7.3" text-anchor="middle" fill="#2a2a2a">10</text>
<rect x="21.2" y="188.6" width="8.2" height="4.2" fill="#1c4f80"/>
<text x="33.0" y="193.1" font-size="7.3" fill="#333">Healthy</text>
<rect x="21.2" y="199.1" width="8.2" height="4.2" fill="#c8143c"/>
<text x="33.0" y="203.6" font-size="7.3" fill="#333">AML</text>
<rect x="188.5" y="188.3" width="8.2" height="4.2" fill="#1c4f80"/>
<text x="199.0" y="192.8" font-size="7.3" textLength="111" lengthAdjust="spacingAndGlyphs" fill="#333">Healthy CD15<tspan dy="-2.4" font-size="4.5">+</tspan><tspan dy="2.4">CD66B</tspan><tspan dy="-2.4" font-size="4.5">+</tspan><tspan dy="2.4"> Neutrophils</tspan></text>
<rect x="188.5" y="200.2" width="8.2" height="4.2" fill="#c8143c"/>
<text x="199.0" y="204.7" font-size="7.3" textLength="131" lengthAdjust="spacingAndGlyphs" fill="#333">AML-Exposed CD15<tspan dy="-2.4" font-size="4.5">+</tspan><tspan dy="2.4">CD66B</tspan><tspan dy="-2.4" font-size="4.5">+</tspan><tspan dy="2.4"> Neutrophils</tspan></text>
<text x="434.3" y="29.4" font-size="9.1" text-anchor="middle" textLength="113.8" lengthAdjust="spacingAndGlyphs" fill="#1c1a1a">CD15<tspan dy="-3" font-size="6">+</tspan><tspan dy="3">CD66B</tspan><tspan dy="-3" font-size="6">+</tspan><tspan dy="3"> Neutrophils</tspan></text>
<path d="M368.4 39.0H370M368.4 45.2H370M368.4 51.4H370M368.4 57.6H370M368.4 63.8H370M368.4 70.0H370M368.4 76.2H370M368.4 82.4H370M368.4 88.6H370M368.4 94.8H370M368.4 101.0H370M368.4 107.2H370M368.4 113.4H370M368.4 119.6H370M368.4 125.8H370M368.4 132.0H370M368.4 138.2H370M368.4 144.4H370M368.4 150.6H370M368.4 156.8H370M368.4 163.0H370M374.4 168.5V170.1M379.8 168.5V170.1M385.2 168.5V170.1M390.6 168.5V170.1M396.0 168.5V170.1M401.4 168.5V170.1M406.8 168.5V170.1M412.2 168.5V170.1M417.6 168.5V170.1M423.0 168.5V170.1M428.4 168.5V170.1M433.8 168.5V170.1M439.2 168.5V170.1M444.6 168.5V170.1M450.0 168.5V170.1M455.4 168.5V170.1M460.8 168.5V170.1M466.2 168.5V170.1M471.6 168.5V170.1M477.0 168.5V170.1M482.4 168.5V170.1M487.8 168.5V170.1M493.2 168.5V170.1M498.6 168.5V170.1M366.6 45.2H370M366.6 76.6H370M366.6 107.3H370M366.6 138.4H370M396.0 168.5V171.5M422.6 168.5V171.5M449.6 168.5V171.5M476.5 168.5V171.5" stroke="#1c1a1a" stroke-width="0.9" fill="none"/>
<rect x="370" y="35.4" width="129.2" height="133.1" fill="none" stroke="#1c1a1a" stroke-width="1.45"/>
<text x="364.0" y="47.8" font-size="7.3" text-anchor="end" fill="#2a2a2a">10</text>
<text x="364.0" y="79.2" font-size="7.3" text-anchor="end" fill="#2a2a2a">5.0</text>
<text x="364.0" y="109.9" font-size="7.3" text-anchor="end" fill="#2a2a2a">0</text>
<text x="364.0" y="141.0" font-size="7.3" text-anchor="end" fill="#2a2a2a">−5.0</text>
<text x="396.0" y="181.4" font-size="7.3" text-anchor="middle" fill="#2a2a2a">−5.0</text>
<text x="422.6" y="181.4" font-size="7.3" text-anchor="middle" fill="#2a2a2a">0</text>
<text x="449.6" y="181.4" font-size="7.3" text-anchor="middle" fill="#2a2a2a">5.0</text>
<text x="476.5" y="181.4" font-size="7.3" text-anchor="middle" fill="#2a2a2a">10</text>
<rect x="388.7" y="188.6" width="9.4" height="3.6" fill="#4a2c82"/>
<text x="400.8" y="192.8" font-size="7.3" textLength="23.8" lengthAdjust="spacingAndGlyphs" fill="#333">Healthy</text>
<rect x="388.7" y="199.1" width="9.4" height="3.6" fill="#8f8a2a"/>
<text x="400.8" y="203.3" font-size="7.3" textLength="43.6" lengthAdjust="spacingAndGlyphs" fill="#333">AML-Exposed</text>
<text x="9" y="227" font-size="12.6" font-weight="bold" fill="#111" stroke="#111" stroke-width="0.35">D</text>
<text x="177.6" y="227" font-size="12.6" font-weight="bold" fill="#111" stroke="#111" stroke-width="0.35">E</text>
<text x="347.6" y="227" font-size="12.6" font-weight="bold" fill="#111" stroke="#111" stroke-width="0.35">F</text>
<text x="94.8" y="238.3" font-size="9.3" text-anchor="middle" textLength="70.8" lengthAdjust="spacingAndGlyphs" fill="#1c1a1a">CD14 Expression</text>
<path d="M26.9 248.0H28.5M26.9 254.1H28.5M26.9 260.2H28.5M26.9 266.3H28.5M26.9 272.3H28.5M26.9 278.4H28.5M26.9 284.5H28.5M26.9 290.6H28.5M26.9 296.7H28.5M26.9 302.7H28.5M26.9 308.8H28.5M26.9 314.9H28.5M26.9 321.0H28.5M26.9 327.1H28.5M26.9 333.1H28.5M26.9 339.2H28.5M26.9 345.3H28.5M26.9 351.4H28.5M26.9 357.5H28.5M26.9 363.5H28.5M26.9 369.6H28.5M33.2 376.1V377.7M38.7 376.1V377.7M44.2 376.1V377.7M49.7 376.1V377.7M55.2 376.1V377.7M60.7 376.1V377.7M66.2 376.1V377.7M71.7 376.1V377.7M77.2 376.1V377.7M82.7 376.1V377.7M88.2 376.1V377.7M93.7 376.1V377.7M99.2 376.1V377.7M104.7 376.1V377.7M110.2 376.1V377.7M115.7 376.1V377.7M121.2 376.1V377.7M126.7 376.1V377.7M132.2 376.1V377.7M137.7 376.1V377.7M143.2 376.1V377.7M148.7 376.1V377.7M154.2 376.1V377.7M159.7 376.1V377.7M25.1 254.1H28.5M25.1 284.7H28.5M25.1 315.0H28.5M25.1 345.2H28.5M55.2 376.1V379.1M82.6 376.1V379.1M110.2 376.1V379.1M137.7 376.1V379.1" stroke="#1c1a1a" stroke-width="0.9" fill="none"/>
<rect x="28.5" y="243.7" width="132.7" height="132.40000000000003" fill="none" stroke="#1c1a1a" stroke-width="1.45"/>
<text x="22.5" y="256.7" font-size="7.3" text-anchor="end" fill="#2a2a2a">10</text>
<text x="22.5" y="287.3" font-size="7.3" text-anchor="end" fill="#2a2a2a">5.0</text>
<text x="22.5" y="317.6" font-size="7.3" text-anchor="end" fill="#2a2a2a">0</text>
<text x="22.5" y="347.8" font-size="7.3" text-anchor="end" fill="#2a2a2a">−5.0</text>
<text x="55.2" y="389.0" font-size="7.3" text-anchor="middle" fill="#2a2a2a">−5.0</text>
<text x="82.6" y="389.0" font-size="7.3" text-anchor="middle" fill="#2a2a2a">0</text>
<text x="110.2" y="389.0" font-size="7.3" text-anchor="middle" fill="#2a2a2a">5.0</text>
<text x="137.7" y="389.0" font-size="7.3" text-anchor="middle" fill="#2a2a2a">10</text>
<text x="264" y="238.3" font-size="9.3" text-anchor="middle" textLength="76.5" lengthAdjust="spacingAndGlyphs" fill="#1c1a1a">CD101 Expression</text>
<path d="M196.1 248.0H197.7M196.1 254.1H197.7M196.1 260.2H197.7M196.1 266.3H197.7M196.1 272.3H197.7M196.1 278.4H197.7M196.1 284.5H197.7M196.1 290.6H197.7M196.1 296.7H197.7M196.1 302.7H197.7M196.1 308.8H197.7M196.1 314.9H197.7M196.1 321.0H197.7M196.1 327.1H197.7M196.1 333.1H197.7M196.1 339.2H197.7M196.1 345.3H197.7M196.1 351.4H197.7M196.1 357.5H197.7M196.1 363.5H197.7M196.1 369.6H197.7M196.1 375.7H197.7M202.8 376.3V377.9M208.3 376.3V377.9M213.8 376.3V377.9M219.3 376.3V377.9M224.8 376.3V377.9M230.3 376.3V377.9M235.8 376.3V377.9M241.3 376.3V377.9M246.8 376.3V377.9M252.3 376.3V377.9M257.8 376.3V377.9M263.3 376.3V377.9M268.8 376.3V377.9M274.3 376.3V377.9M279.8 376.3V377.9M285.3 376.3V377.9M290.8 376.3V377.9M296.3 376.3V377.9M301.8 376.3V377.9M307.3 376.3V377.9M312.8 376.3V377.9M318.3 376.3V377.9M323.8 376.3V377.9M329.3 376.3V377.9M194.3 254.1H197.7M194.3 284.7H197.7M194.3 315.0H197.7M194.3 345.2H197.7M224.8 376.3V379.3M252.2 376.3V379.3M279.8 376.3V379.3M307.3 376.3V379.3" stroke="#1c1a1a" stroke-width="0.9" fill="none"/>
<rect x="197.7" y="243.9" width="132.5" height="132.4" fill="none" stroke="#1c1a1a" stroke-width="1.45"/>
<text x="191.7" y="256.7" font-size="7.3" text-anchor="end" fill="#2a2a2a">10</text>
<text x="191.7" y="287.3" font-size="7.3" text-anchor="end" fill="#2a2a2a">5.0</text>
<text x="191.7" y="317.6" font-size="7.3" text-anchor="end" fill="#2a2a2a">0</text>
<text x="191.7" y="347.8" font-size="7.3" text-anchor="end" fill="#2a2a2a">−5.0</text>
<text x="224.8" y="389.2" font-size="7.3" text-anchor="middle" fill="#2a2a2a">−5.0</text>
<text x="252.2" y="389.2" font-size="7.3" text-anchor="middle" fill="#2a2a2a">0</text>
<text x="279.8" y="389.2" font-size="7.3" text-anchor="middle" fill="#2a2a2a">5.0</text>
<text x="307.3" y="389.2" font-size="7.3" text-anchor="middle" fill="#2a2a2a">10</text>
<text x="432.4" y="238.3" font-size="9.3" text-anchor="middle" textLength="71" lengthAdjust="spacingAndGlyphs" fill="#1c1a1a">CD10 Expression</text>
<path d="M365.0 248.0H366.6M365.0 254.1H366.6M365.0 260.2H366.6M365.0 266.3H366.6M365.0 272.3H366.6M365.0 278.4H366.6M365.0 284.5H366.6M365.0 290.6H366.6M365.0 296.7H366.6M365.0 302.7H366.6M365.0 308.8H366.6M365.0 314.9H366.6M365.0 321.0H366.6M365.0 327.1H366.6M365.0 333.1H366.6M365.0 339.2H366.6M365.0 345.3H366.6M365.0 351.4H366.6M365.0 357.5H366.6M365.0 363.5H366.6M365.0 369.6H366.6M371.2 376V377.6M376.7 376V377.6M382.2 376V377.6M387.7 376V377.6M393.2 376V377.6M398.7 376V377.6M404.2 376V377.6M409.7 376V377.6M415.2 376V377.6M420.7 376V377.6M426.2 376V377.6M431.7 376V377.6M437.2 376V377.6M442.7 376V377.6M448.2 376V377.6M453.7 376V377.6M459.2 376V377.6M464.7 376V377.6M470.2 376V377.6M475.7 376V377.6M481.2 376V377.6M486.7 376V377.6M492.2 376V377.6M497.7 376V377.6M363.2 254.1H366.6M363.2 284.7H366.6M363.2 315.0H366.6M363.2 345.2H366.6M393.2 376V379.0M420.6 376V379.0M448.2 376V379.0M475.7 376V379.0" stroke="#1c1a1a" stroke-width="0.9" fill="none"/>
<rect x="366.6" y="243.9" width="132.59999999999997" height="132.1" fill="none" stroke="#1c1a1a" stroke-width="1.45"/>
<text x="360.6" y="256.7" font-size="7.3" text-anchor="end" fill="#2a2a2a">10</text>
<text x="360.6" y="287.3" font-size="7.3" text-anchor="end" fill="#2a2a2a">5.0</text>
<text x="360.6" y="317.6" font-size="7.3" text-anchor="end" fill="#2a2a2a">0</text>
<text x="360.6" y="347.8" font-size="7.3" text-anchor="end" fill="#2a2a2a">−5.0</text>
<text x="393.2" y="388.9" font-size="7.3" text-anchor="middle" fill="#2a2a2a">−5.0</text>
<text x="420.6" y="388.9" font-size="7.3" text-anchor="middle" fill="#2a2a2a">0</text>
<text x="448.2" y="388.9" font-size="7.3" text-anchor="middle" fill="#2a2a2a">5.0</text>
<text x="475.7" y="388.9" font-size="7.3" text-anchor="middle" fill="#2a2a2a">10</text>
<rect x="58.5" y="398.9" width="8.2" height="4.2" fill="#1c4f80"/>
<text x="70.2" y="403.4" font-size="7.3" textLength="59.6" lengthAdjust="spacingAndGlyphs" fill="#333">CD14– Neutrophils</text>
<rect x="58.5" y="409.7" width="8.2" height="4.2" fill="#c8143c"/>
<text x="70.2" y="414.2" font-size="7.3" textLength="60" lengthAdjust="spacingAndGlyphs" fill="#333">CD14+ Neutrophils</text>
<rect x="226.5" y="398.9" width="8.2" height="4.2" fill="#1c4f80"/>
<text x="238.6" y="403.4" font-size="7.3" textLength="64" lengthAdjust="spacingAndGlyphs" fill="#333">CD101– Neutrophils</text>
<rect x="226.5" y="409.7" width="8.2" height="4.2" fill="#c8143c"/>
<text x="238.6" y="414.2" font-size="7.3" textLength="64" lengthAdjust="spacingAndGlyphs" fill="#333">CD101+ Neutrophils</text>
<rect x="397" y="395.9" width="8.2" height="4.2" fill="#1c4f80"/>
<text x="408.4" y="400.4" font-size="7.3" textLength="60" lengthAdjust="spacingAndGlyphs" fill="#333">CD10– Neutrophils</text>
<rect x="397" y="406.7" width="8.2" height="4.2" fill="#c8143c"/>
<text x="408.4" y="411.2" font-size="7.3" textLength="60" lengthAdjust="spacingAndGlyphs" fill="#333">CD10+ Neutrophils</text>
<text x="8.8" y="436.6" font-size="12.6" font-weight="bold" fill="#111" stroke="#111" stroke-width="0.35">G</text>
<text x="191.6" y="436.6" font-size="12.6" font-weight="bold" fill="#111" stroke="#111" stroke-width="0.35">H</text>
<text x="360.4" y="436.6" font-size="12.6" font-weight="bold" fill="#111" stroke="#111" stroke-width="0.35">I</text>
<path d="M74.5 565.2L74.5 565.2 76.2 558 77.8 525.8 79 493.5 80.2 469.2 81.3 454.7 82.6 457.9 83.4 477.3 85 509.6 87.5 533.9 90.7 548.4 95.5 558 102 563.7 108.5 564.9 L108.5 565.2Z" fill="#77a0c4"/>
<path d="M73.7 565.2L73.7 565.2 76.2 556.5 77.8 527 79.5 494 81 464.4 82.6 455.5 84.2 456.3 85.5 460.3 87.1 464.4 87.8 477.3 88.8 493.5 89.9 512.9 91.5 524.2 93.9 524.2 96.3 529 98.8 533 100.4 540.3 103.6 543.5 106.8 550 110.1 554.9 114.9 558.9 119.8 559.7 124.6 560.5 129.5 560.5 131.5 559.6 133.5 560 136.7 561.3 140 563.7 146 564.8 L146 565.2Z" fill="#e5838f"/>
<path d="M73.7 565.2L73.7 565.2 76.2 556.5 77.8 527 79.5 494 81 464.4 82.6 455.5 84.2 456.3 85.5 460.3 87.1 464.4 87.8 477.3 88.8 493.5 89.9 512.9 91.5 524.2 93.9 524.2 96.3 529 98.8 533 100.4 540.3 103.6 543.5 106.8 550 110.1 554.9 114.9 558.9 119.8 559.7 124.6 560.5 129.5 560.5 131.5 559.6 133.5 560 136.7 561.3 140 563.7 146 564.8 L146 565.2Z" fill="#a64f76" clip-path="url(#hc1)"/>
<path d="M42.7 564.9000000000001L74.5 565.2 76.2 558 77.8 525.8 79 493.5 80.2 469.2 81.3 454.7 82.6 457.9 83.4 477.3 85 509.6 87.5 533.9 90.7 548.4 95.5 558 102 563.7 108.5 564.9 L174.4 564.9000000000001" fill="none" stroke="#1f4a78" stroke-width="0.8" stroke-linejoin="round"/>
<path d="M42.7 564.9000000000001L74.5 565.2 76.2 558 77.8 525.8 79 493.5 80.2 469.2 81.3 454.7 82.6 457.9 83.4 477.3 85 509.6 87.5 533.9 90.7 548.4 95.5 558 102 563.7 108.5 564.9 L174.4 564.9000000000001" fill="none" stroke="#7a2d52" stroke-width="0.8" stroke-linejoin="round" clip-path="url(#hc1a)"/>
<path d="M42.7 564.9000000000001L73.7 565.2 76.2 556.5 77.8 527 79.5 494 81 464.4 82.6 455.5 84.2 456.3 85.5 460.3 87.1 464.4 87.8 477.3 88.8 493.5 89.9 512.9 91.5 524.2 93.9 524.2 96.3 529 98.8 533 100.4 540.3 103.6 543.5 106.8 550 110.1 554.9 114.9 558.9 119.8 559.7 124.6 560.5 129.5 560.5 131.5 559.6 133.5 560 136.7 561.3 140 563.7 146 564.8 L174.4 564.9000000000001" fill="none" stroke="#c0173c" stroke-width="1.1" stroke-linejoin="round"/>
<path d="M252.7 565.2L252.7 564.4 259.6 561 266.5 552.3 270.9 538.5 274.3 521.2 276.9 500.4 279.5 479.6 282.1 465.8 283.8 462.3 285.6 464 287.7 471 289.9 484.8 291.6 495.2 293.2 514.2 295.8 538.5 298.4 554 301.8 561.8 306 564.6 L306 565.2Z" fill="#77a0c4"/>
<path d="M238.8 565.2L238.8 564.4 240.6 549 241.8 514.2 242.7 488.3 243.5 477 244.4 484.8 245.4 500.4 246.6 512.5 248.4 519.4 250.6 521.2 252.7 523.7 254.4 512.5 256.2 511.6 258.7 512.5 260.5 510.8 262.2 515.1 263.9 506.4 266.5 493.5 268.3 502.1 270.3 495.2 272.6 490 274.3 477 276.1 479.6 277.8 474.4 279.5 469.2 281.2 458.8 283 460.6 284.7 457.1 286.4 455.7 288.2 465.8 289.9 479.6 291.6 491.7 293.4 514.2 296 538.5 298.6 554 302 561.8 306.3 564.6 L306.3 565.2Z" fill="#e5838f"/>
<path d="M238.8 565.2L238.8 564.4 240.6 549 241.8 514.2 242.7 488.3 243.5 477 244.4 484.8 245.4 500.4 246.6 512.5 248.4 519.4 250.6 521.2 252.7 523.7 254.4 512.5 256.2 511.6 258.7 512.5 260.5 510.8 262.2 515.1 263.9 506.4 266.5 493.5 268.3 502.1 270.3 495.2 272.6 490 274.3 477 276.1 479.6 277.8 474.4 279.5 469.2 281.2 458.8 283 460.6 284.7 457.1 286.4 455.7 288.2 465.8 289.9 479.6 291.6 491.7 293.4 514.2 296 538.5 298.6 554 302 561.8 306.3 564.6 L306.3 565.2Z" fill="#a64f76" clip-path="url(#hc2)"/>
<path d="M211.3 564.9000000000001L252.7 564.4 259.6 561 266.5 552.3 270.9 538.5 274.3 521.2 276.9 500.4 279.5 479.6 282.1 465.8 283.8 462.3 285.6 464 287.7 471 289.9 484.8 291.6 495.2 293.2 514.2 295.8 538.5 298.4 554 301.8 561.8 306 564.6 L343.5 564.9000000000001" fill="none" stroke="#1f4a78" stroke-width="0.8" stroke-linejoin="round"/>
<path d="M211.3 564.9000000000001L252.7 564.4 259.6 561 266.5 552.3 270.9 538.5 274.3 521.2 276.9 500.4 279.5 479.6 282.1 465.8 283.8 462.3 285.6 464 287.7 471 289.9 484.8 291.6 495.2 293.2 514.2 295.8 538.5 298.4 554 301.8 561.8 306 564.6 L343.5 564.9000000000001" fill="none" stroke="#7a2d52" stroke-width="0.8" stroke-linejoin="round" clip-path="url(#hc2a)"/>
<path d="M211.3 564.9000000000001L238.8 564.4 240.6 549 241.8 514.2 242.7 488.3 243.5 477 244.4 484.8 245.4 500.4 246.6 512.5 248.4 519.4 250.6 521.2 252.7 523.7 254.4 512.5 256.2 511.6 258.7 512.5 260.5 510.8 262.2 515.1 263.9 506.4 266.5 493.5 268.3 502.1 270.3 495.2 272.6 490 274.3 477 276.1 479.6 277.8 474.4 279.5 469.2 281.2 458.8 283 460.6 284.7 457.1 286.4 455.7 288.2 465.8 289.9 479.6 291.6 491.7 293.4 514.2 296 538.5 298.6 554 302 561.8 306.3 564.6 L343.5 564.9000000000001" fill="none" stroke="#c0173c" stroke-width="1.1" stroke-linejoin="round"/>
<path d="M419.2 565.2L419.2 564.4 424.4 561 429.6 555.8 433.1 547.1 435.7 535 438.3 526.3 440.9 517.7 443.5 502.1 446.1 488.3 447.8 476.2 449.5 469.2 450.7 464 452.1 461.4 453.8 462.3 455.6 459.7 457 458.5 458.2 461.4 459.9 469.2 461.6 483.1 463.4 493.5 465.1 502.1 466.8 512.5 468.6 524.6 470.3 535 472 543.7 473.7 550.6 475.5 555.8 478.1 561 480.7 564.6 L480.7 565.2Z" fill="#77a0c4"/>
<path d="M406.2 565.2L406.2 564.4 408 549 409.7 514.2 411.4 488.3 412.8 472.7 414 457.1 415.4 451.6 417 454.5 417.8 465.8 418.9 488.3 420.1 510.8 421.3 524.6 423 535 425.3 542.8 427 544.5 429.6 540.2 432.2 539.3 434.8 536.7 436.5 535 438.3 539.3 440.3 536.7 442.6 541.9 445.2 544.5 447.8 547.1 450.4 546.2 453 541.9 454.7 542.8 457.3 548 460.8 549.7 464.2 553.2 466.8 559.2 469.4 561 474.6 562.7 479.8 564.6 L479.8 565.2Z" fill="#e5838f"/>
<path d="M406.2 565.2L406.2 564.4 408 549 409.7 514.2 411.4 488.3 412.8 472.7 414 457.1 415.4 451.6 417 454.5 417.8 465.8 418.9 488.3 420.1 510.8 421.3 524.6 423 535 425.3 542.8 427 544.5 429.6 540.2 432.2 539.3 434.8 536.7 436.5 535 438.3 539.3 440.3 536.7 442.6 541.9 445.2 544.5 447.8 547.1 450.4 546.2 453 541.9 454.7 542.8 457.3 548 460.8 549.7 464.2 553.2 466.8 559.2 469.4 561 474.6 562.7 479.8 564.6 L479.8 565.2Z" fill="#a64f76" clip-path="url(#hc3)"/>
<path d="M380.4 564.9000000000001L419.2 564.4 424.4 561 429.6 555.8 433.1 547.1 435.7 535 438.3 526.3 440.9 517.7 443.5 502.1 446.1 488.3 447.8 476.2 449.5 469.2 450.7 464 452.1 461.4 453.8 462.3 455.6 459.7 457 458.5 458.2 461.4 459.9 469.2 461.6 483.1 463.4 493.5 465.1 502.1 466.8 512.5 468.6 524.6 470.3 535 472 543.7 473.7 550.6 475.5 555.8 478.1 561 480.7 564.6 L512.2 564.9000000000001" fill="none" stroke="#1f4a78" stroke-width="0.8" stroke-linejoin="round"/>
<path d="M380.4 564.9000000000001L419.2 564.4 424.4 561 429.6 555.8 433.1 547.1 435.7 535 438.3 526.3 440.9 517.7 443.5 502.1 446.1 488.3 447.8 476.2 449.5 469.2 450.7 464 452.1 461.4 453.8 462.3 455.6 459.7 457 458.5 458.2 461.4 459.9 469.2 461.6 483.1 463.4 493.5 465.1 502.1 466.8 512.5 468.6 524.6 470.3 535 472 543.7 473.7 550.6 475.5 555.8 478.1 561 480.7 564.6 L512.2 564.9000000000001" fill="none" stroke="#7a2d52" stroke-width="0.8" stroke-linejoin="round" clip-path="url(#hc3a)"/>
<path d="M380.4 564.9000000000001L406.2 564.4 408 549 409.7 514.2 411.4 488.3 412.8 472.7 414 457.1 415.4 451.6 417 454.5 417.8 465.8 418.9 488.3 420.1 510.8 421.3 524.6 423 535 425.3 542.8 427 544.5 429.6 540.2 432.2 539.3 434.8 536.7 436.5 535 438.3 539.3 440.3 536.7 442.6 541.9 445.2 544.5 447.8 547.1 450.4 546.2 453 541.9 454.7 542.8 457.3 548 460.8 549.7 464.2 553.2 466.8 559.2 469.4 561 474.6 562.7 479.8 564.6 L512.2 564.9000000000001" fill="none" stroke="#c0173c" stroke-width="1.1" stroke-linejoin="round"/>
<path d="M39.3 565.2H42.7M41.1 560.4H42.7M41.1 555.6H42.7M41.1 550.8H42.7M41.1 546.0H42.7M39.3 541.2H42.7M41.1 536.4H42.7M41.1 531.5H42.7M41.1 526.7H42.7M41.1 521.9H42.7M39.3 517.1H42.7M41.1 512.3H42.7M41.1 507.5H42.7M41.1 502.7H42.7M41.1 497.9H42.7M39.3 493.1H42.7M41.1 488.3H42.7M41.1 483.5H42.7M41.1 478.7H42.7M41.1 473.8H42.7M39.3 469.0H42.7M41.1 464.2H42.7M41.1 459.4H42.7M41.1 454.6H42.7M41.1 449.8H42.7M39.3 445.0H42.7M51.4 565.2V568.2M75.1 565.2V568.2M93.5 565.2V568.2M130.9 565.2V568.2M160.9 565.2V568.2M45.7 565.2V566.8000000000001M47.7 565.2V566.8000000000001M49.2 565.2V566.8000000000001M50.3 565.2V566.8000000000001M51.4 565.2V566.8000000000001M54.7 565.2V566.8000000000001M57.7 565.2V566.8000000000001M60.7 565.2V566.8000000000001M63.2 565.2V566.8000000000001M65.2 565.2V566.8000000000001M66.7 565.2V566.8000000000001M67.9 565.2V566.8000000000001M69.0 565.2V566.8000000000001M69.9 565.2V566.8000000000001M70.7 565.2V566.8000000000001M71.5 565.2V566.8000000000001M72.2 565.2V566.8000000000001M72.9 565.2V566.8000000000001M73.5 565.2V566.8000000000001M74.1 565.2V566.8000000000001M74.6 565.2V566.8000000000001M75.1 565.2V566.8000000000001M76.2 565.2V566.8000000000001M77.3 565.2V566.8000000000001M78.5 565.2V566.8000000000001M79.7 565.2V566.8000000000001M81.1 565.2V566.8000000000001M82.7 565.2V566.8000000000001M84.7 565.2V566.8000000000001M87.2 565.2V566.8000000000001M90.2 565.2V566.8000000000001M104.8 565.2V566.8000000000001M111.3 565.2V566.8000000000001M116.0 565.2V566.8000000000001M119.6 565.2V566.8000000000001M122.6 565.2V566.8000000000001M125.1 565.2V566.8000000000001M127.3 565.2V566.8000000000001M129.2 565.2V566.8000000000001M139.9 565.2V566.8000000000001M145.2 565.2V566.8000000000001M149.0 565.2V566.8000000000001M151.9 565.2V566.8000000000001M154.2 565.2V566.8000000000001M156.3 565.2V566.8000000000001M158.0 565.2V566.8000000000001M159.5 565.2V566.8000000000001M170.5 565.2V566.8000000000001" stroke="#1c1a1a" stroke-width="0.9" fill="none"/>
<text x="37.3" y="568.1" font-size="8.1" text-anchor="end" fill="#2a2a2a">0</text>
<text x="37.3" y="544.1" font-size="8.1" text-anchor="end" fill="#2a2a2a">20</text>
<text x="37.3" y="520.0" font-size="8.1" text-anchor="end" fill="#2a2a2a">40</text>
<text x="37.3" y="496.0" font-size="8.1" text-anchor="end" fill="#2a2a2a">60</text>
<text x="37.3" y="471.9" font-size="8.1" text-anchor="end" fill="#2a2a2a">80</text>
<text x="37.3" y="447.9" font-size="8.1" text-anchor="end" fill="#2a2a2a">100</text>
<text x="53.0" y="580" font-size="8.2" text-anchor="middle" fill="#2a2a2a">−10<tspan dy="-3.1" font-size="5.6">3</tspan></text>
<text x="75.1" y="580" font-size="8.2" text-anchor="middle" fill="#2a2a2a">0</text>
<text x="95.1" y="580" font-size="8.2" text-anchor="middle" fill="#2a2a2a">10<tspan dy="-3.1" font-size="5.6">3</tspan></text>
<text x="132.5" y="580" font-size="8.2" text-anchor="middle" fill="#2a2a2a">10<tspan dy="-3.1" font-size="5.6">4</tspan></text>
<text x="162.5" y="580" font-size="8.2" text-anchor="middle" fill="#2a2a2a">10<tspan dy="-3.1" font-size="5.6">5</tspan></text>
<text x="111.3" y="450.4" font-size="6.6" textLength="17.7" lengthAdjust="spacingAndGlyphs" fill="#222">CD14</text>
<path d="M207.9 565.2H211.3M209.7 560.4H211.3M209.7 555.6H211.3M209.7 550.8H211.3M209.7 546.0H211.3M207.9 541.2H211.3M209.7 536.4H211.3M209.7 531.5H211.3M209.7 526.7H211.3M209.7 521.9H211.3M207.9 517.1H211.3M209.7 512.3H211.3M209.7 507.5H211.3M209.7 502.7H211.3M209.7 497.9H211.3M207.9 493.1H211.3M209.7 488.3H211.3M209.7 483.5H211.3M209.7 478.7H211.3M209.7 473.8H211.3M207.9 469.0H211.3M209.7 464.2H211.3M209.7 459.4H211.3M209.7 454.6H211.3M209.7 449.8H211.3M207.9 445.0H211.3M220.0 565.2V568.2M243.7 565.2V568.2M262.1 565.2V568.2M299.5 565.2V568.2M329.5 565.2V568.2M214.3 565.2V566.8000000000001M216.3 565.2V566.8000000000001M217.8 565.2V566.8000000000001M218.9 565.2V566.8000000000001M220.0 565.2V566.8000000000001M223.3 565.2V566.8000000000001M226.3 565.2V566.8000000000001M229.3 565.2V566.8000000000001M231.8 565.2V566.8000000000001M233.8 565.2V566.8000000000001M235.3 565.2V566.8000000000001M236.5 565.2V566.8000000000001M237.6 565.2V566.8000000000001M238.5 565.2V566.8000000000001M239.3 565.2V566.8000000000001M240.1 565.2V566.8000000000001M240.8 565.2V566.8000000000001M241.5 565.2V566.8000000000001M242.1 565.2V566.8000000000001M242.7 565.2V566.8000000000001M243.2 565.2V566.8000000000001M243.7 565.2V566.8000000000001M244.8 565.2V566.8000000000001M245.9 565.2V566.8000000000001M247.1 565.2V566.8000000000001M248.3 565.2V566.8000000000001M249.7 565.2V566.8000000000001M251.3 565.2V566.8000000000001M253.3 565.2V566.8000000000001M255.8 565.2V566.8000000000001M258.8 565.2V566.8000000000001M273.4 565.2V566.8000000000001M279.9 565.2V566.8000000000001M284.6 565.2V566.8000000000001M288.2 565.2V566.8000000000001M291.2 565.2V566.8000000000001M293.7 565.2V566.8000000000001M295.9 565.2V566.8000000000001M297.8 565.2V566.8000000000001M308.5 565.2V566.8000000000001M313.8 565.2V566.8000000000001M317.6 565.2V566.8000000000001M320.5 565.2V566.8000000000001M322.8 565.2V566.8000000000001M324.9 565.2V566.8000000000001M326.6 565.2V566.8000000000001M328.1 565.2V566.8000000000001M339.1 565.2V566.8000000000001" stroke="#1c1a1a" stroke-width="0.9" fill="none"/>
<text x="205.9" y="568.1" font-size="8.1" text-anchor="end" fill="#2a2a2a">0</text>
<text x="205.9" y="544.1" font-size="8.1" text-anchor="end" fill="#2a2a2a">20</text>
<text x="205.9" y="520.0" font-size="8.1" text-anchor="end" fill="#2a2a2a">40</text>
<text x="205.9" y="496.0" font-size="8.1" text-anchor="end" fill="#2a2a2a">60</text>
<text x="205.9" y="471.9" font-size="8.1" text-anchor="end" fill="#2a2a2a">80</text>
<text x="205.9" y="447.9" font-size="8.1" text-anchor="end" fill="#2a2a2a">100</text>
<text x="221.6" y="580" font-size="8.2" text-anchor="middle" fill="#2a2a2a">−10<tspan dy="-3.1" font-size="5.6">3</tspan></text>
<text x="243.7" y="580" font-size="8.2" text-anchor="middle" fill="#2a2a2a">0</text>
<text x="263.7" y="580" font-size="8.2" text-anchor="middle" fill="#2a2a2a">10<tspan dy="-3.1" font-size="5.6">3</tspan></text>
<text x="301.1" y="580" font-size="8.2" text-anchor="middle" fill="#2a2a2a">10<tspan dy="-3.1" font-size="5.6">4</tspan></text>
<text x="331.1" y="580" font-size="8.2" text-anchor="middle" fill="#2a2a2a">10<tspan dy="-3.1" font-size="5.6">5</tspan></text>
<text x="301.5" y="450.4" font-size="6.6" textLength="21.2" lengthAdjust="spacingAndGlyphs" fill="#222">CD101</text>
<path d="M377.0 565.2H380.4M378.8 560.4H380.4M378.8 555.6H380.4M378.8 550.8H380.4M378.8 546.0H380.4M377.0 541.2H380.4M378.8 536.4H380.4M378.8 531.5H380.4M378.8 526.7H380.4M378.8 521.9H380.4M377.0 517.1H380.4M378.8 512.3H380.4M378.8 507.5H380.4M378.8 502.7H380.4M378.8 497.9H380.4M377.0 493.1H380.4M378.8 488.3H380.4M378.8 483.5H380.4M378.8 478.7H380.4M378.8 473.8H380.4M377.0 469.0H380.4M378.8 464.2H380.4M378.8 459.4H380.4M378.8 454.6H380.4M378.8 449.8H380.4M377.0 445.0H380.4M389.1 565.2V568.2M412.8 565.2V568.2M431.2 565.2V568.2M468.6 565.2V568.2M498.6 565.2V568.2M383.4 565.2V566.8000000000001M385.4 565.2V566.8000000000001M386.9 565.2V566.8000000000001M388.0 565.2V566.8000000000001M389.1 565.2V566.8000000000001M392.4 565.2V566.8000000000001M395.4 565.2V566.8000000000001M398.4 565.2V566.8000000000001M400.9 565.2V566.8000000000001M402.9 565.2V566.8000000000001M404.4 565.2V566.8000000000001M405.6 565.2V566.8000000000001M406.7 565.2V566.8000000000001M407.6 565.2V566.8000000000001M408.4 565.2V566.8000000000001M409.2 565.2V566.8000000000001M409.9 565.2V566.8000000000001M410.6 565.2V566.8000000000001M411.2 565.2V566.8000000000001M411.8 565.2V566.8000000000001M412.3 565.2V566.8000000000001M412.8 565.2V566.8000000000001M413.9 565.2V566.8000000000001M415.0 565.2V566.8000000000001M416.2 565.2V566.8000000000001M417.4 565.2V566.8000000000001M418.8 565.2V566.8000000000001M420.4 565.2V566.8000000000001M422.4 565.2V566.8000000000001M424.9 565.2V566.8000000000001M427.9 565.2V566.8000000000001M442.5 565.2V566.8000000000001M449.0 565.2V566.8000000000001M453.7 565.2V566.8000000000001M457.3 565.2V566.8000000000001M460.3 565.2V566.8000000000001M462.8 565.2V566.8000000000001M465.0 565.2V566.8000000000001M466.9 565.2V566.8000000000001M477.6 565.2V566.8000000000001M482.9 565.2V566.8000000000001M486.7 565.2V566.8000000000001M489.6 565.2V566.8000000000001M491.9 565.2V566.8000000000001M494.0 565.2V566.8000000000001M495.7 565.2V566.8000000000001M497.2 565.2V566.8000000000001M508.2 565.2V566.8000000000001" stroke="#1c1a1a" stroke-width="0.9" fill="none"/>
<text x="375.0" y="568.1" font-size="8.1" text-anchor="end" fill="#2a2a2a">0</text>
<text x="375.0" y="544.1" font-size="8.1" text-anchor="end" fill="#2a2a2a">20</text>
<text x="375.0" y="520.0" font-size="8.1" text-anchor="end" fill="#2a2a2a">40</text>
<text x="375.0" y="496.0" font-size="8.1" text-anchor="end" fill="#2a2a2a">60</text>
<text x="375.0" y="471.9" font-size="8.1" text-anchor="end" fill="#2a2a2a">80</text>
<text x="375.0" y="447.9" font-size="8.1" text-anchor="end" fill="#2a2a2a">100</text>
<text x="390.7" y="580" font-size="8.2" text-anchor="middle" fill="#2a2a2a">−10<tspan dy="-3.1" font-size="5.6">3</tspan></text>
<text x="412.8" y="580" font-size="8.2" text-anchor="middle" fill="#2a2a2a">0</text>
<text x="432.8" y="580" font-size="8.2" text-anchor="middle" fill="#2a2a2a">10<tspan dy="-3.1" font-size="5.6">3</tspan></text>
<text x="470.2" y="580" font-size="8.2" text-anchor="middle" fill="#2a2a2a">10<tspan dy="-3.1" font-size="5.6">4</tspan></text>
<text x="500.2" y="580" font-size="8.2" text-anchor="middle" fill="#2a2a2a">10<tspan dy="-3.1" font-size="5.6">5</tspan></text>
<text x="466.7" y="450.4" font-size="6.6" textLength="17.3" lengthAdjust="spacingAndGlyphs" fill="#222">CD10</text>
<rect x="42.7" y="439.8" width="131.7" height="125.40000000000003" fill="none" stroke="#1c1a1a" stroke-width="1.45"/>
<rect x="211.3" y="439.8" width="132.2" height="125.40000000000003" fill="none" stroke="#1c1a1a" stroke-width="1.45"/>
<rect x="380.4" y="439.8" width="131.80000000000007" height="125.40000000000003" fill="none" stroke="#1c1a1a" stroke-width="1.45"/>
<text x="18.4" y="502.3" font-size="9.2" text-anchor="middle" textLength="67.4" lengthAdjust="spacingAndGlyphs" fill="#1c1a1a" transform="rotate(-90 18.4 502.3)">Normalized to mode</text>
<rect x="173" y="590.0" width="8.2" height="4" fill="#1c4f80"/>
<text x="184.6" y="594.4" font-size="7.3" textLength="61.9" lengthAdjust="spacingAndGlyphs" fill="#333">Healthy Neutrophils</text>
<rect x="253.6" y="590.0" width="8.2" height="4" fill="#c8143c"/>
<text x="265.0" y="594.4" font-size="7.3" textLength="82.7" lengthAdjust="spacingAndGlyphs" fill="#333">AML-Exposed Neutrophils</text>
<text x="8.9" y="616.6" font-size="12.6" font-weight="bold" fill="#111" stroke="#111" stroke-width="0.35">J</text>
<text x="177.8" y="616.6" font-size="12.6" font-weight="bold" fill="#111" stroke="#111" stroke-width="0.35">K</text>
<text x="347" y="616.6" font-size="12.6" font-weight="bold" fill="#111" stroke="#111" stroke-width="0.35">L</text>
<rect x="52" y="747.7" width="20.700000000000003" height="4.5" fill="#84a7c8"/>
<rect x="84.2" y="714.7" width="20.799999999999997" height="37.5" fill="#e48d9d"/>
<line x1="62.35" y1="747.7" x2="62.35" y2="734.0" stroke="#3f6c9c" stroke-width="1.0"/>
<line x1="57.25" y1="734.0" x2="67.45" y2="734.0" stroke="#3f6c9c" stroke-width="1.0"/>
<line x1="94.6" y1="714.7" x2="94.6" y2="684.0" stroke="#c41a40" stroke-width="1.0"/>
<line x1="89.5" y1="684.0" x2="99.69999999999999" y2="684.0" stroke="#c41a40" stroke-width="1.0"/>
<circle cx="61.8" cy="708.4" r="1.7" fill="#1a4576"/>
<circle cx="53.5" cy="749.7" r="1.7" fill="#1a4576"/>
<circle cx="57" cy="749.5" r="1.7" fill="#1a4576"/>
<circle cx="60.5" cy="749.9" r="1.7" fill="#1a4576"/>
<circle cx="64.5" cy="749.9" r="1.7" fill="#1a4576"/>
<circle cx="68.8" cy="747.2" r="1.7" fill="#1a4576"/>
<circle cx="70.4" cy="750.5" r="1.7" fill="#1a4576"/>
<circle cx="62" cy="751" r="1.7" fill="#1a4576"/>
<circle cx="94.6" cy="653.5" r="1.75" fill="#ac1034"/>
<circle cx="94.4" cy="674.3" r="1.75" fill="#ac1034"/>
<circle cx="94.6" cy="702.4" r="1.75" fill="#ac1034"/>
<circle cx="101.5" cy="699.4" r="1.75" fill="#ac1034"/>
<circle cx="94.6" cy="716.2" r="1.75" fill="#ac1034"/>
<circle cx="94.6" cy="721.8" r="1.75" fill="#ac1034"/>
<circle cx="94.6" cy="728.5" r="1.75" fill="#ac1034"/>
<circle cx="87.7" cy="738.8" r="1.75" fill="#ac1034"/>
<circle cx="87.7" cy="743.7" r="1.75" fill="#ac1034"/>
<circle cx="94.6" cy="740" r="1.75" fill="#ac1034"/>
<circle cx="101.5" cy="741.8" r="1.75" fill="#ac1034"/>
<path d="M62.3 705V640H94.6V647" fill="none" stroke="#555" stroke-width="0.75"/>
<text x="78.4" y="638.8" font-size="6.5" text-anchor="middle" fill="#333">**</text>
<path d="M40.6 635.4V752.2H115.4M37.1 752.2H40.6M38.300000000000004 740.8H40.6M37.1 729.5H40.6M38.300000000000004 718.1H40.6M37.1 706.8H40.6M38.300000000000004 695.4H40.6M37.1 684.0H40.6M38.300000000000004 672.7H40.6M37.1 661.3H40.6M38.300000000000004 650.0H40.6M37.1 638.6H40.6M62.35 752.2V755.4M94.6 752.2V755.4" fill="none" stroke="#1c1a1a" stroke-width="1.2"/>
<text x="34.0" y="754.7" font-size="7.2" text-anchor="end" fill="#333">0</text>
<text x="34.0" y="732.0" font-size="7.2" text-anchor="end" fill="#333">20</text>
<text x="34.0" y="709.3" font-size="7.2" text-anchor="end" fill="#333">40</text>
<text x="34.0" y="686.5" font-size="7.2" text-anchor="end" fill="#333">60</text>
<text x="34.0" y="663.8" font-size="7.2" text-anchor="end" fill="#333">80</text>
<text x="34.0" y="641.1" font-size="7.2" text-anchor="end" fill="#333">100</text>
<text x="62.4" y="764.3" font-size="7.2" text-anchor="middle" textLength="24.5" lengthAdjust="spacingAndGlyphs" fill="#333">Healthy</text>
<text x="94.6" y="764.3" font-size="7.2" text-anchor="middle" textLength="14.5" lengthAdjust="spacingAndGlyphs" fill="#333">AML</text>
<text x="16.2" y="693.6" font-size="9.4" text-anchor="middle" textLength="79.6" lengthAdjust="spacingAndGlyphs" fill="#2a2a2a" transform="rotate(-90 16.2 693.6)">% of CD14+ neutrophils</text>
<rect x="220.3" y="640.9" width="21.0" height="111.3" fill="#84a7c8"/>
<rect x="253.1" y="685.2" width="20.799999999999983" height="67.0" fill="#e48d9d"/>
<line x1="263.5" y1="685.2" x2="263.5" y2="645.4" stroke="#c41a40" stroke-width="1.0"/>
<line x1="258.4" y1="645.4" x2="268.6" y2="645.4" stroke="#c41a40" stroke-width="1.0"/>
<circle cx="221.5" cy="639.5" r="1.7" fill="#1a4576"/>
<circle cx="224" cy="639" r="1.7" fill="#1a4576"/>
<circle cx="226.5" cy="638.8" r="1.7" fill="#1a4576"/>
<circle cx="229" cy="639.6" r="1.7" fill="#1a4576"/>
<circle cx="231.5" cy="639.2" r="1.7" fill="#1a4576"/>
<circle cx="234" cy="639.8" r="1.7" fill="#1a4576"/>
<circle cx="236.5" cy="638.9" r="1.7" fill="#1a4576"/>
<circle cx="239.5" cy="639.5" r="1.7" fill="#1a4576"/>
<circle cx="226" cy="641.8" r="1.7" fill="#1a4576"/>
<circle cx="231" cy="642.2" r="1.7" fill="#1a4576"/>
<circle cx="235.5" cy="641.5" r="1.7" fill="#1a4576"/>
<circle cx="230.5" cy="646.5" r="1.7" fill="#1a4576"/>
<circle cx="257.2" cy="638.9" r="1.75" fill="#ac1034"/>
<circle cx="263.5" cy="637.8" r="1.75" fill="#ac1034"/>
<circle cx="270" cy="638.6" r="1.75" fill="#ac1034"/>
<circle cx="257.2" cy="642.8" r="1.75" fill="#ac1034"/>
<circle cx="263.5" cy="641.5" r="1.75" fill="#ac1034"/>
<circle cx="269.5" cy="641" r="1.75" fill="#ac1034"/>
<circle cx="257.2" cy="646.3" r="1.75" fill="#ac1034"/>
<circle cx="270.5" cy="646.1" r="1.75" fill="#ac1034"/>
<circle cx="263.5" cy="650.4" r="1.75" fill="#ac1034"/>
<circle cx="257.8" cy="657.3" r="1.75" fill="#ac1034"/>
<circle cx="270" cy="659" r="1.75" fill="#ac1034"/>
<circle cx="262.5" cy="662.5" r="1.75" fill="#ac1034"/>
<circle cx="256.5" cy="667" r="1.75" fill="#ac1034"/>
<circle cx="263.5" cy="672.2" r="1.75" fill="#ac1034"/>
<circle cx="263.5" cy="695" r="1.75" fill="#ac1034"/>
<circle cx="263.5" cy="698.5" r="1.75" fill="#ac1034"/>
<circle cx="263.5" cy="710" r="1.75" fill="#ac1034"/>
<circle cx="263.5" cy="723.8" r="1.75" fill="#ac1034"/>
<circle cx="270" cy="722.7" r="1.75" fill="#ac1034"/>
<circle cx="263.5" cy="742.8" r="1.75" fill="#ac1034"/>
<circle cx="263.5" cy="746.5" r="1.75" fill="#ac1034"/>
<circle cx="256.5" cy="749.7" r="1.75" fill="#ac1034"/>
<circle cx="270" cy="749" r="1.75" fill="#ac1034"/>
<path d="M230.5 632.3V625.8H263.5V633.5" fill="none" stroke="#555" stroke-width="0.75"/>
<text x="247.0" y="624.6" font-size="6.5" text-anchor="middle" fill="#333">****</text>
<path d="M209.7 635.4V752.2H284.7M206.2 752.2H209.7M207.39999999999998 740.8H209.7M206.2 729.5H209.7M207.39999999999998 718.1H209.7M206.2 706.8H209.7M207.39999999999998 695.4H209.7M206.2 684.0H209.7M207.39999999999998 672.7H209.7M206.2 661.3H209.7M207.39999999999998 650.0H209.7M206.2 638.6H209.7M230.8 752.2V755.4M263.5 752.2V755.4" fill="none" stroke="#1c1a1a" stroke-width="1.2"/>
<text x="203.1" y="754.7" font-size="7.2" text-anchor="end" fill="#333">0</text>
<text x="203.1" y="732.0" font-size="7.2" text-anchor="end" fill="#333">20</text>
<text x="203.1" y="709.3" font-size="7.2" text-anchor="end" fill="#333">40</text>
<text x="203.1" y="686.5" font-size="7.2" text-anchor="end" fill="#333">60</text>
<text x="203.1" y="663.8" font-size="7.2" text-anchor="end" fill="#333">80</text>
<text x="203.1" y="641.1" font-size="7.2" text-anchor="end" fill="#333">100</text>
<text x="230.8" y="764.3" font-size="7.2" text-anchor="middle" textLength="24.5" lengthAdjust="spacingAndGlyphs" fill="#333">Healthy</text>
<text x="263.5" y="764.3" font-size="7.2" text-anchor="middle" textLength="14.5" lengthAdjust="spacingAndGlyphs" fill="#333">AML</text>
<text x="185.4" y="693.6" font-size="9.4" text-anchor="middle" textLength="81.4" lengthAdjust="spacingAndGlyphs" fill="#2a2a2a" transform="rotate(-90 185.4 693.6)">% of CD101 neutrophils</text>
<rect x="389" y="642.0" width="20.69999999999999" height="110.2" fill="#84a7c8"/>
<rect x="421.9" y="707.9" width="20.80000000000001" height="44.3" fill="#e48d9d"/>
<line x1="432.29999999999995" y1="707.9" x2="432.29999999999995" y2="673.8" stroke="#c41a40" stroke-width="1.0"/>
<line x1="427.19999999999993" y1="673.8" x2="437.4" y2="673.8" stroke="#c41a40" stroke-width="1.0"/>
<circle cx="390.3" cy="638.8" r="1.7" fill="#1a4576"/>
<circle cx="395.1" cy="638.8" r="1.7" fill="#1a4576"/>
<circle cx="399.9" cy="638.8" r="1.7" fill="#1a4576"/>
<circle cx="404.7" cy="638.8" r="1.7" fill="#1a4576"/>
<circle cx="409" cy="638.8" r="1.7" fill="#1a4576"/>
<circle cx="392.6" cy="641.6" r="1.7" fill="#1a4576"/>
<circle cx="397.3" cy="641.6" r="1.7" fill="#1a4576"/>
<circle cx="402" cy="641.6" r="1.7" fill="#1a4576"/>
<circle cx="406.6" cy="641.6" r="1.7" fill="#1a4576"/>
<circle cx="390.3" cy="644.6" r="1.7" fill="#1a4576"/>
<circle cx="395.1" cy="644.6" r="1.7" fill="#1a4576"/>
<circle cx="399.9" cy="644.6" r="1.7" fill="#1a4576"/>
<circle cx="404.7" cy="644.6" r="1.7" fill="#1a4576"/>
<circle cx="409" cy="644.6" r="1.7" fill="#1a4576"/>
<circle cx="395.1" cy="648.5" r="1.7" fill="#1a4576"/>
<circle cx="404.7" cy="648" r="1.7" fill="#1a4576"/>
<circle cx="432.3" cy="654.7" r="1.75" fill="#ac1034"/>
<circle cx="432.3" cy="660.5" r="1.75" fill="#ac1034"/>
<circle cx="425.4" cy="665" r="1.75" fill="#ac1034"/>
<circle cx="432.3" cy="667" r="1.75" fill="#ac1034"/>
<circle cx="425.4" cy="677.8" r="1.75" fill="#ac1034"/>
<circle cx="432.3" cy="676.6" r="1.75" fill="#ac1034"/>
<circle cx="438.8" cy="678.5" r="1.75" fill="#ac1034"/>
<circle cx="432.3" cy="681.2" r="1.75" fill="#ac1034"/>
<circle cx="428.4" cy="693.2" r="1.75" fill="#ac1034"/>
<circle cx="435.3" cy="693.2" r="1.75" fill="#ac1034"/>
<circle cx="428.4" cy="702.4" r="1.75" fill="#ac1034"/>
<circle cx="435.3" cy="701.2" r="1.75" fill="#ac1034"/>
<circle cx="432.3" cy="722.2" r="1.75" fill="#ac1034"/>
<circle cx="432.3" cy="726.8" r="1.75" fill="#ac1034"/>
<circle cx="432.3" cy="729" r="1.75" fill="#ac1034"/>
<circle cx="432.3" cy="740.5" r="1.75" fill="#ac1034"/>
<circle cx="432.3" cy="747" r="1.75" fill="#ac1034"/>
<circle cx="432.3" cy="750.4" r="1.75" fill="#ac1034"/>
<circle cx="439.2" cy="744.2" r="1.75" fill="#ac1034"/>
<circle cx="439.2" cy="747.4" r="1.75" fill="#ac1034"/>
<circle cx="439.2" cy="750.4" r="1.75" fill="#ac1034"/>
<circle cx="425.4" cy="751" r="1.75" fill="#ac1034"/>
<path d="M399.5 632.3V625H432.3V646" fill="none" stroke="#555" stroke-width="0.75"/>
<text x="415.9" y="623.8" font-size="6.5" text-anchor="middle" fill="#333">****</text>
<path d="M377.4 635.4V752.2H453.5M373.9 752.2H377.4M375.09999999999997 740.8H377.4M373.9 729.5H377.4M375.09999999999997 718.1H377.4M373.9 706.8H377.4M375.09999999999997 695.4H377.4M373.9 684.0H377.4M375.09999999999997 672.7H377.4M373.9 661.3H377.4M375.09999999999997 650.0H377.4M373.9 638.6H377.4M399.35 752.2V755.4M432.29999999999995 752.2V755.4" fill="none" stroke="#1c1a1a" stroke-width="1.2"/>
<text x="370.8" y="754.7" font-size="7.2" text-anchor="end" fill="#333">0</text>
<text x="370.8" y="732.0" font-size="7.2" text-anchor="end" fill="#333">20</text>
<text x="370.8" y="709.3" font-size="7.2" text-anchor="end" fill="#333">40</text>
<text x="370.8" y="686.5" font-size="7.2" text-anchor="end" fill="#333">60</text>
<text x="370.8" y="663.8" font-size="7.2" text-anchor="end" fill="#333">80</text>
<text x="370.8" y="641.1" font-size="7.2" text-anchor="end" fill="#333">100</text>
<text x="399.4" y="764.3" font-size="7.2" text-anchor="middle" textLength="24.5" lengthAdjust="spacingAndGlyphs" fill="#333">Healthy</text>
<text x="432.3" y="764.3" font-size="7.2" text-anchor="middle" textLength="14.5" lengthAdjust="spacingAndGlyphs" fill="#333">AML</text>
<text x="355.2" y="694.5" font-size="9.4" text-anchor="middle" textLength="77.8" lengthAdjust="spacingAndGlyphs" fill="#2a2a2a" transform="rotate(-90 355.2 694.5)">% of CD10 neutrophils</text>
<rect x="0.5" y="0.5" width="519" height="772.7" fill="none" stroke="#3a3a3a" stroke-width="1.1"/>
</svg></body></html>
